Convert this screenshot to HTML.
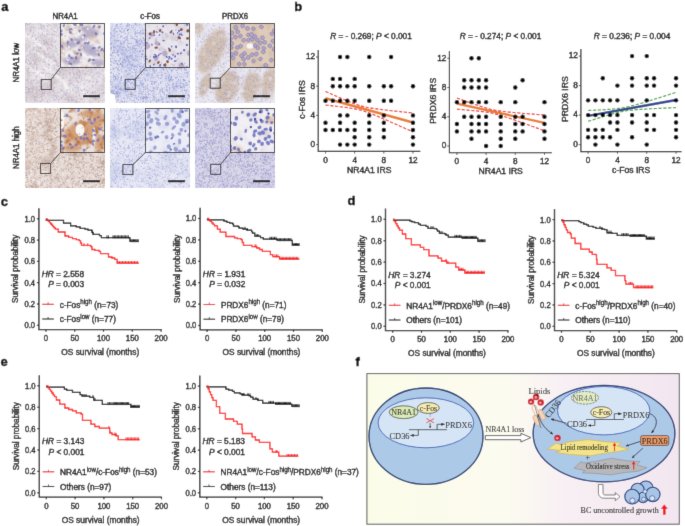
<!DOCTYPE html>
<html><head><meta charset="utf-8"><title>Figure</title>
<style>
html,body{margin:0;padding:0;background:#fff;}
body{width:685px;height:526px;overflow:hidden;}
svg{display:block;font-family:"Liberation Sans",sans-serif;will-change:transform;}
text{stroke:#000;stroke-width:0.38px;}
tspan[font-size]{stroke-width:0.25px;}
.fd text{stroke-width:0.05px;}
</style></head>
<body>
<svg width="685" height="526" viewBox="0 0 685 526">
<defs>
<filter id="gb" x="0" y="0" width="685" height="526" filterUnits="userSpaceOnUse"><feConvolveMatrix order="3" kernelMatrix="1 8 1 8 64 8 1 8 1" divisor="100" edgeMode="duplicate"/></filter>
<clipPath id="hc1"><rect x="25" y="23" width="80" height="80"/></clipPath>
<filter id="hb2" x="-50%" y="-50%" width="200%" height="200%"><feGaussianBlur stdDeviation="3"/></filter>
<filter id="n1" x="0" y="0" width="1" height="1" filterUnits="objectBoundingBox" color-interpolation-filters="sRGB"><feTurbulence type="fractalNoise" baseFrequency="0.06" numOctaves="3" seed="11"/><feColorMatrix type="matrix" values="0 0 0 0 0.8 0 0 0 0 0.75 0 0 0 0 0.78 2 0 0 0 -1"/></filter>
<filter id="hb3" x="-50%" y="-50%" width="200%" height="200%"><feGaussianBlur stdDeviation="0.8"/></filter>
<clipPath id="hc4"><rect x="60" y="23" width="45" height="45"/></clipPath>
<filter id="n2" x="0" y="0" width="1" height="1" filterUnits="objectBoundingBox" color-interpolation-filters="sRGB"><feTurbulence type="fractalNoise" baseFrequency="0.12" numOctaves="2" seed="113"/><feColorMatrix type="matrix" values="0 0 0 0 0.79 0 0 0 0 0.7 0 0 0 0 0.67 2.6 0 0 0 -1.15"/></filter>
<filter id="hb5" x="-50%" y="-50%" width="200%" height="200%"><feGaussianBlur stdDeviation="1.2"/></filter>
<clipPath id="hc6"><rect x="110" y="23" width="80" height="80"/></clipPath>
<filter id="n3" x="0" y="0" width="1" height="1" filterUnits="objectBoundingBox" color-interpolation-filters="sRGB"><feTurbulence type="fractalNoise" baseFrequency="0.05" numOctaves="3" seed="21"/><feColorMatrix type="matrix" values="0 0 0 0 0.76 0 0 0 0 0.78 0 0 0 0 0.9 2.2 0 0 0 -1"/></filter>
<clipPath id="hc7"><rect x="145" y="23" width="45" height="45"/></clipPath>
<filter id="n4" x="0" y="0" width="1" height="1" filterUnits="objectBoundingBox" color-interpolation-filters="sRGB"><feTurbulence type="fractalNoise" baseFrequency="0.12" numOctaves="2" seed="123"/><feColorMatrix type="matrix" values="0 0 0 0 0.81 0 0 0 0 0.78 0 0 0 0 0.84 2.2 0 0 0 -1"/></filter>
<clipPath id="hc8"><rect x="195" y="23" width="80" height="80"/></clipPath>
<filter id="hb9" x="-50%" y="-50%" width="200%" height="200%"><feGaussianBlur stdDeviation="1.8"/></filter>
<filter id="n5" x="0" y="0" width="1" height="1" filterUnits="objectBoundingBox" color-interpolation-filters="sRGB"><feTurbulence type="fractalNoise" baseFrequency="0.15" numOctaves="2" seed="33"/><feColorMatrix type="matrix" values="0 0 0 0 0.91 0 0 0 0 0.9 0 0 0 0 0.94 2.4 0 0 0 -1.3"/></filter>
<clipPath id="hc10"><rect x="230" y="23" width="45" height="45"/></clipPath>
<filter id="n6" x="0" y="0" width="1" height="1" filterUnits="objectBoundingBox" color-interpolation-filters="sRGB"><feTurbulence type="fractalNoise" baseFrequency="0.1" numOctaves="2" seed="131"/><feColorMatrix type="matrix" values="0 0 0 0 0.81 0 0 0 0 0.71 0 0 0 0 0.64 2 0 0 0 -0.9"/></filter>
<clipPath id="hc11"><rect x="25" y="108" width="80" height="80"/></clipPath>
<filter id="n7" x="0" y="0" width="1" height="1" filterUnits="objectBoundingBox" color-interpolation-filters="sRGB"><feTurbulence type="fractalNoise" baseFrequency="0.07" numOctaves="3" seed="41"/><feColorMatrix type="matrix" values="0 0 0 0 0.78 0 0 0 0 0.68 0 0 0 0 0.62 2.4 0 0 0 -1.2"/></filter>
<clipPath id="hc12"><rect x="60" y="108" width="45" height="45"/></clipPath>
<filter id="hb13" x="-50%" y="-50%" width="200%" height="200%"><feGaussianBlur stdDeviation="1.8"/></filter>
<filter id="n8" x="0" y="0" width="1" height="1" filterUnits="objectBoundingBox" color-interpolation-filters="sRGB"><feTurbulence type="fractalNoise" baseFrequency="0.15" numOctaves="2" seed="144"/><feColorMatrix type="matrix" values="0 0 0 0 0.69 0 0 0 0 0.41 0 0 0 0 0.19 2.4 0 0 0 -1.2"/></filter>
<clipPath id="hc14"><rect x="110" y="108" width="80" height="80"/></clipPath>
<filter id="n9" x="0" y="0" width="1" height="1" filterUnits="objectBoundingBox" color-interpolation-filters="sRGB"><feTurbulence type="fractalNoise" baseFrequency="0.05" numOctaves="3" seed="51"/><feColorMatrix type="matrix" values="0 0 0 0 0.8 0 0 0 0 0.82 0 0 0 0 0.92 2.2 0 0 0 -1"/></filter>
<clipPath id="hc15"><rect x="145" y="108" width="45" height="45"/></clipPath>
<filter id="n10" x="0" y="0" width="1" height="1" filterUnits="objectBoundingBox" color-interpolation-filters="sRGB"><feTurbulence type="fractalNoise" baseFrequency="0.1" numOctaves="2" seed="151"/><feColorMatrix type="matrix" values="0 0 0 0 0.82 0 0 0 0 0.83 0 0 0 0 0.92 2 0 0 0 -0.9"/></filter>
<clipPath id="hc16"><rect x="195" y="108" width="80" height="80"/></clipPath>
<filter id="n11" x="0" y="0" width="1" height="1" filterUnits="objectBoundingBox" color-interpolation-filters="sRGB"><feTurbulence type="fractalNoise" baseFrequency="0.05" numOctaves="3" seed="61"/><feColorMatrix type="matrix" values="0 0 0 0 0.79 0 0 0 0 0.78 0 0 0 0 0.89 2.2 0 0 0 -1"/></filter>
<clipPath id="hc17"><rect x="230" y="108" width="45" height="45"/></clipPath>
<filter id="n12" x="0" y="0" width="1" height="1" filterUnits="objectBoundingBox" color-interpolation-filters="sRGB"><feTurbulence type="fractalNoise" baseFrequency="0.1" numOctaves="2" seed="161"/><feColorMatrix type="matrix" values="0 0 0 0 0.86 0 0 0 0 0.83 0 0 0 0 0.86 2 0 0 0 -0.9"/></filter>
<filter id="hb18" x="-50%" y="-50%" width="200%" height="200%"><feGaussianBlur stdDeviation="1.5"/></filter>
<linearGradient id="fbg" x1="0" y1="0" x2="1" y2="0"><stop offset="0" stop-color="#fbfce8"/><stop offset="0.45" stop-color="#fcfbf0"/><stop offset="0.62" stop-color="#f8f0f4"/><stop offset="1" stop-color="#f2e6f0"/></linearGradient>
<marker id="ah" viewBox="0 0 10 10" refX="9" refY="5" markerWidth="4.5" markerHeight="4.5" orient="auto-start-reverse"><path d="M0,1L10,5L0,9z" fill="#111"/></marker>
</defs>
<g filter="url(#gb)">
<rect width="685" height="526" fill="#fff"/>
<text x="1.2" y="10.8" font-size="13" font-weight="bold">a</text>
<text x="294.2" y="11.2" font-size="13" font-weight="bold">b</text>
<text x="0.8" y="205.6" font-size="13" font-weight="bold">c</text>
<text x="347.6" y="204.7" font-size="13" font-weight="bold">d</text>
<text x="0.5" y="365.6" font-size="13" font-weight="bold">e</text>
<text x="355.6" y="365.8" font-size="13" font-weight="bold">f</text>
<g clip-path="url(#hc1)">
<rect x="25" y="23" width="80" height="80" fill="#e9e4e8"/>
<g filter="url(#hb2)" fill="#d6cacc" opacity="0.8"><ellipse cx="40" cy="53" rx="6" ry="26" transform="rotate(35 40 53)"/><ellipse cx="55" cy="78" rx="5" ry="22" transform="rotate(40 55 78)"/><ellipse cx="75" cy="63" rx="4" ry="20" transform="rotate(40 75 63)"/><ellipse cx="33" cy="93" rx="8" ry="10" transform="rotate(0 33 93)"/><ellipse cx="95" cy="97" rx="7" ry="6" transform="rotate(0 95 97)"/><ellipse cx="70" cy="98" rx="9" ry="5" transform="rotate(0 70 98)"/></g>
<rect x="25" y="23" width="80" height="80" fill="#fff" filter="url(#n1)"/>
<g filter="url(#hb3)" fill="#fbf9fa" opacity="0.9"><ellipse cx="37" cy="43" rx="1.6" ry="14" transform="rotate(-55 37 43)"/><ellipse cx="45" cy="58" rx="1.4" ry="16" transform="rotate(-55 45 58)"/><ellipse cx="35" cy="71" rx="1.5" ry="14" transform="rotate(-60 35 71)"/><ellipse cx="53" cy="73" rx="1.3" ry="12" transform="rotate(-50 53 73)"/><ellipse cx="49" cy="35" rx="1.2" ry="10" transform="rotate(-60 49 35)"/><ellipse cx="65" cy="85" rx="1.4" ry="12" transform="rotate(-40 65 85)"/><ellipse cx="85" cy="93" rx="1.2" ry="10" transform="rotate(-30 85 93)"/></g>
<path d="M28.86 88.7h0M29.73 68.24h0M75.45 69.64h0M71.17 54.73h0M49.68 88.29h0M33.24 68.7h0M54.79 66.82h0M60.91 71.72h0M37.16 62.12h0M71.39 59.5h0M38.44 32.37h0M101.62 35.07h0M37.1 75.68h0M54.54 68.31h0M29.98 28.39h0M29.21 23.02h0M73.18 60.93h0M63.43 47.95h0M53.94 78.21h0M51.37 40.84h0M53.45 25.32h0M88.21 60.78h0M101.4 52.17h0M85.01 61.24h0M59.71 73.87h0M62.05 82.47h0M82.98 36.6h0M37.47 66.86h0M33.22 82.96h0M59.7 92.74h0M68.55 89.74h0M26.5 58.21h0M73.68 85.08h0M66.47 67.44h0M95.66 27.55h0M61.17 25.23h0M98.82 94.42h0M92.2 33.97h0M49.22 32.79h0M66.39 46.64h0M34.03 96.48h0M46.75 95.47h0M70.65 79.03h0M47.32 86.97h0M59.03 28.79h0M75.76 87.13h0M44.07 31.76h0M75.29 65.49h0M48.2 63.01h0M49.62 40.21h0M103.55 89.96h0M48.44 59.76h0M77.48 42.85h0M32.27 88.36h0M56.96 26.33h0M48.97 73.37h0M71.85 65.34h0M85.23 68.48h0M79.63 78.47h0M99.6 94.83h0M43.78 83.52h0M76.42 29.2h0M49.35 68.42h0M55.95 96.32h0M66.93 99.22h0M95.95 79.27h0M85.06 90.13h0M100.19 38.66h0M93.34 45.45h0M91.77 45.85h0M68.94 80.57h0M56.55 36.39h0M104.72 59h0M68.82 42.53h0M52.36 30.29h0M54.46 87.75h0M55.63 82.67h0M55.15 50.06h0M88.22 90.89h0M92.89 92.83h0M102.46 62.19h0M93.44 100.78h0M87.65 40.9h0M31.8 85.15h0M87.58 41.61h0M76.64 47.3h0M80.89 31.97h0M49.03 98.48h0M47.29 48.31h0M63.02 41.78h0M95.79 74.77h0M102.59 47.94h0M36.71 54.48h0M83.62 102.8h0M60.39 31.72h0M47.38 51.12h0M32.02 79.42h0M54.82 96.56h0M86.33 26.25h0M62.12 87.27h0M50.32 45.05h0M100.72 28.23h0M98.08 88.18h0M49.27 78.37h0M31.32 38.78h0M44.78 28.18h0M63.54 66.57h0M103.42 93.68h0M46.19 29.73h0M68.09 84.91h0M45.83 58.15h0M104.4 63.59h0M102.84 69.66h0M81.78 50.98h0M54.5 34.31h0M77.13 39.28h0M39.81 47.98h0M41.29 23.47h0M71.22 52.18h0M35.4 27.14h0M76.25 95.78h0M37.95 36.74h0M33.7 62.24h0M49.13 89.98h0M103.04 61.62h0M73.61 73.91h0M97.34 72.63h0M76.92 47.66h0M65.29 37.3h0M74.51 62.16h0M87.21 63.92h0M101.07 33.89h0M104.69 81.57h0M48.03 87.88h0M79.89 80.69h0M65.18 96.59h0M72.35 72.27h0M50.53 25.95h0M79.37 94.63h0M69.41 69.4h0M51.47 29.51h0M39.14 82.49h0M25.14 25.7h0M66.01 94.64h0M64.07 72h0M37.69 24.13h0M81.6 59.07h0M57.16 44.14h0M99.97 81.68h0M38.21 23.03h0M67.52 55.48h0M37.74 95.94h0M25.99 67.07h0M87.64 80.23h0M31.44 75.44h0M43.08 31.42h0M102.75 46.65h0M31.83 63.59h0M43.71 93.78h0M97.86 34.57h0M33.95 72.76h0M52.59 34.35h0M100.55 31.57h0M47.99 30.99h0M50.53 56.9h0M53.07 97.41h0M93.11 72.46h0M38.63 23.1h0M48.07 83.04h0M90.22 98.06h0M96.08 25.01h0M77.97 82.36h0M73.23 50.89h0M33.13 53.74h0M46.91 31.74h0M71.7 41.29h0M66.46 75.89h0M96.56 49.24h0M56.1 62.19h0M28.05 66.47h0M82.3 99.11h0M103.76 51.44h0M45.2 53.55h0M57.04 99.29h0M41.96 33.34h0M76.38 80.66h0M75.65 24.2h0M45 31.12h0M78.7 32.36h0M46.16 41.73h0M58.51 99.85h0M83.92 102.92h0M65.85 61.77h0M103 75.36h0M35.21 100.82h0M28.98 47.03h0M72.7 77.48h0M86.01 31.11h0M94.54 56.73h0M39.78 25.74h0M59.45 74.34h0M64.82 64.77h0M98.49 58.72h0M41.98 35.14h0M34.73 100.31h0M26.42 80.55h0M61.06 82.54h0M93.44 81.38h0M98.08 27.21h0M49.89 81.36h0M83.22 60.58h0M51.56 71.47h0M71.77 101.11h0M46.44 35.58h0M41.53 43.38h0M88.33 59.78h0M67.89 51.41h0M65.49 39.15h0M57.2 64.38h0M73.57 30.53h0M92.5 50.11h0M55.26 25.2h0M63.95 90.65h0M94.04 74.19h0M65.52 37.61h0M97.37 89.98h0M76.73 101.83h0M33.08 48.41h0M38.49 42.08h0M82.38 38.61h0M37.56 89.63h0M36.18 58.78h0M99.08 53.81h0M50.81 41.71h0M75.25 34.42h0M69.27 34.58h0M46.31 55.94h0M34.13 101.29h0M75.48 86.01h0M69.8 89.82h0M59.56 43.92h0M47.91 51.81h0M86.64 79.93h0M83.47 83.9h0M66.56 90.29h0M35.66 76.24h0M99.57 100.5h0M85.11 27.9h0M27.05 87.36h0M26.66 100.39h0M45.04 88.37h0M75.95 60.12h0M81.21 31.23h0M82.37 26.61h0M33.8 32.72h0M68.33 41.19h0M56.73 98.86h0M72.76 71.22h0M25.92 31.72h0M75.66 87.74h0M33.04 32.74h0M34.04 50.8h0M67.71 34.87h0M63.23 88.51h0M25.95 51.21h0M98.18 33.18h0M50.91 90.47h0M96.3 99.47h0M79.1 59.25h0M79.12 65.02h0M69.91 68.92h0M52.46 65.41h0M38.66 48.45h0M91.08 64.01h0M56.81 30.88h0M96.65 64.15h0M70.96 55.89h0M33.53 31.01h0M74.04 87.53h0M29.37 42.06h0M28.52 97.47h0M56.18 80.48h0M63.75 86.42h0M91.07 51.1h0M27.02 87.39h0M60.46 89.91h0M42 92.79h0M83.88 84.19h0M40.07 94.31h0M49.9 41.11h0M95.62 91.9h0M53.17 73.31h0M83.72 80.01h0M76.07 37.37h0M73.59 26.79h0M56.49 82.8h0M91.01 67.73h0M43.88 43.82h0M38.44 50.78h0M41.11 47.84h0M25.99 61.93h0M29.83 45.47h0M33.85 47.71h0M54.04 36.45h0M50.75 51.74h0M77.21 43.11h0M31.25 82.8h0M92.66 97.14h0M84.39 49.13h0M76.78 51.5h0M92.03 43.28h0M73.21 73.12h0M75.94 55.11h0M93.05 61.35h0M36.45 28.76h0M30.02 23.7h0M52.85 38.63h0M102.7 95.7h0M84.18 78.31h0M100.45 51.8h0M70.19 54.71h0M43.18 100.48h0M69.05 80.17h0M68.54 100.44h0M70.04 85h0M43.95 52.79h0M97.68 30.02h0M89.33 81.89h0M33.83 87.06h0M26.1 50.39h0M63.97 61.72h0M89.04 25.84h0M56.41 61.06h0M80.43 58.89h0M94.84 71.87h0M96.52 70.14h0M71.33 49.7h0M36.49 53.75h0M70.88 69.75h0M97.21 30.62h0M32.92 86.35h0M65.3 94.54h0M104.73 35.06h0M99.36 69.94h0M30.88 38.22h0M59.26 92.46h0M92.09 48.54h0M47.07 43.6h0M85.68 73.12h0M94.13 74.85h0M44.34 27.54h0M52.29 33.93h0M46.65 74.4h0M76.19 96.83h0M50.72 92.42h0M56.96 98.22h0M81.81 89.79h0M32.48 35.5h0M79.41 92.27h0M89.74 101.15h0M104.16 41.25h0M99.96 72.97h0M54.25 34.95h0M94.67 91.45h0M61.81 48.91h0M33.62 81.67h0M100.6 73.17h0M59.7 41.51h0M48.88 102.54h0M41.97 27.17h0M93.11 81.84h0M87.39 92.07h0M79.81 87.4h0M37.06 81.88h0M82.31 93.56h0M102.65 65.03h0M39.32 77.83h0M75.66 66.64h0M67.39 90.17h0M52.96 40.21h0M83.51 44.84h0M26.22 44.52h0M85.88 93.53h0M96.85 73.8h0M80.49 81.4h0M91.04 76.07h0M50.25 100.73h0M94.55 51.42h0M77.77 89.1h0M75.31 66.45h0M54.13 39.39h0M90.07 42.09h0M37.2 75.95h0M75.77 81.45h0M41.07 68.64h0M46.97 48.92h0M75.89 91.71h0M74.43 52.73h0M82.39 53.06h0M71.42 28.07h0M99.86 74.44h0M64.3 63.94h0M34.45 40.66h0M61.34 88.92h0M81.88 61.62h0M36.22 55.56h0M40.22 101.58h0M93.53 43.57h0M78.11 81.34h0M90.87 25.83h0M41.31 39.26h0M59.7 74.14h0M48.59 39.88h0M36.66 96.43h0M66.3 60.25h0M97.47 77.87h0M94.45 96.91h0M97.95 48.95h0M37.15 86.95h0M96.15 96.04h0M71.71 83.5h0M36.18 44.69h0M32.65 67.13h0M72.65 59.91h0M78.05 36.11h0M78.02 30.2h0M49.27 43.9h0M28.37 43.5h0M47.68 67.42h0M65.14 94.25h0M70.63 78.12h0M66.45 46.36h0M31.75 69.28h0M81.86 27.97h0M30.84 49.98h0M38.98 47.29h0M89.84 59.94h0M87.93 25.58h0M36.85 63.91h0M37.1 50.55h0M51.48 101.08h0M67.04 49.4h0M85.12 73.91h0M78.82 82.64h0M85.06 90.8h0M40.84 59.63h0M25.36 62.12h0M36.67 66.63h0M77.88 87.57h0M51.61 35.07h0M88.26 71.53h0M56.27 23.72h0M54.1 101.1h0M95.02 94.05h0M65.64 102.82h0M37.95 69.01h0M88.49 50.78h0M41.06 87.6h0M37.97 82.07h0M50.67 58.06h0M37.79 94.39h0M46.24 42.47h0M52.98 37.86h0M99.18 46.1h0M88.08 90.07h0M42.77 90.97h0M65.05 94.87h0M42.05 40.91h0M53.78 68.52h0M53.78 78.95h0M34.75 99.31h0M25.27 73.34h0M72.22 70.65h0M28.17 89.19h0M102.18 65.46h0M42.43 86.48h0" stroke="#8a86bc" stroke-width="0.7" stroke-linecap="round" opacity="0.45" fill="none"/>
<path d="M42.18 29.88h0M30.59 30.26h0M28.73 91.68h0M70.15 72.52h0M79.43 57.21h0M62.25 96.88h0M87.39 29.55h0M34.45 56.45h0M70.84 93.04h0M52.21 51.01h0M30.2 81.49h0M76.77 102.45h0M52.76 98.25h0M44.81 54.28h0M47.23 33.95h0M94.12 45.27h0M103.92 77.62h0M63.8 70.13h0M77.4 82.18h0M88.83 54.39h0M56.53 61.52h0M55.1 73.75h0M92.91 102.45h0M33.18 50.41h0M94.07 78.7h0M66.47 95.66h0M89.27 38.99h0M80.4 99.52h0M89.69 80.85h0M33.17 60.61h0M89.07 100.73h0M27.2 70.26h0M103.42 75.58h0M44.24 69.91h0M97.8 51.3h0M73.49 38.95h0M61.19 65.66h0M95.12 98.37h0M100.16 74.48h0M36.44 93.63h0M42.57 99.2h0M91.6 35.92h0M104.53 55.3h0M54.28 50.04h0M60.24 24.45h0M102.74 31.38h0M46.64 33.36h0M92.97 77.08h0M73.65 40.79h0M94.02 59.3h0M104.54 56.42h0M45.95 37.49h0M46.64 87.29h0M69.08 38.16h0M90.51 57.57h0M83.31 34.18h0M30.66 82.27h0M46.52 23.29h0M50.88 25.76h0M42.43 37.64h0M56.16 49.09h0M53.86 31.39h0M67.52 42.56h0M62.91 87.74h0M84.19 101.06h0M32.96 40.42h0M48.27 64.32h0M40.94 101.25h0M102.45 58.96h0M73.27 73.53h0M64.83 93.09h0M26.99 23.29h0M36.26 50.52h0M34.67 49.51h0M97.13 46.19h0M31.11 97.03h0M50.25 84.85h0M85.21 74.56h0M35.18 60.77h0M31.01 63.05h0M69.03 59.24h0M95.98 82.97h0M64.85 68.94h0M46.68 42.88h0M76.66 57.55h0M35.18 57.02h0M81.08 90.72h0M75.12 65.26h0M25.09 66h0M49.59 24.74h0M45.58 76.39h0M43.14 25.73h0M82.47 51.99h0M92.61 28.39h0M43.46 40.72h0M39.99 40.87h0M26.89 70.69h0M29.15 27.81h0M60.97 79.96h0M83.03 90.13h0M69.89 83.7h0M53.53 88.73h0M50.86 81.99h0M33.58 80.25h0M101.31 53.92h0M73.58 49.22h0M58.68 102.07h0M38.86 33.63h0M87.38 46.51h0M40.06 28.18h0M76.97 31.04h0M104.28 31.19h0M95.63 41.49h0M98.15 26.23h0M54.78 92.29h0M90.51 55.72h0M27.52 62.65h0M30.06 31.11h0M49.61 99.26h0M84.63 93.7h0M58.32 92.14h0M76.56 54.26h0M58.9 88.63h0M65.36 34.67h0M57.36 90.71h0M39.64 40.45h0M100.08 35.52h0M61.46 90.92h0M59.06 75.71h0M60.75 72.49h0M91.92 87.84h0M33.57 33.28h0M35.42 96.77h0M40.5 101.54h0M30.24 51.07h0M37.7 94.72h0M97.4 59.51h0M57.28 73.93h0M28.89 91.66h0M45.16 65.86h0M84.03 52.72h0M104.24 69.19h0M48.71 64.29h0M48.28 73.05h0M26.78 23.21h0M35.7 52.3h0M76.06 92.7h0M29.49 88.67h0M76.42 74.81h0M90.07 36.97h0M55.01 57.93h0M99.01 98.43h0M41.22 35.73h0M28.74 91.52h0M88.36 74.71h0M82.26 52.44h0M86.54 71.16h0M93.98 30.27h0M25.35 62.27h0M80.62 89.03h0M45.85 98.51h0M69.9 31.36h0M53.45 55.1h0M96.35 82.62h0M76.7 50.88h0M66.74 92.44h0M62.05 78.12h0M71.33 33.08h0M37.48 42.81h0M88.59 81.66h0M47.46 93.82h0M27.71 54.92h0M48.7 24.77h0M70.92 82.93h0M76.32 59.31h0M45.78 79.05h0M75.37 43h0M63.62 24.57h0M61.54 39.4h0M65.98 74.14h0M66.74 55.83h0M41.81 77.75h0M26.06 56.49h0M104.54 99.87h0M89.77 73.74h0M53.25 74.1h0M76.97 85.39h0M53.38 91.05h0M81.34 78h0M49.15 61.36h0M74.87 29.83h0M37.22 47.25h0M29.57 89.23h0M87.72 34.23h0M41.78 28.76h0M93.33 37.85h0M52.72 35.21h0M42.05 29.29h0M62.86 67.58h0M62.37 34.55h0M94.03 23.53h0M48.75 60.26h0M69.33 95.99h0M29.22 46.13h0M103.74 92.84h0M51.47 48.37h0M28.71 88.76h0M98.13 75.46h0M94.75 34.1h0M69.97 43.64h0M103.46 61.04h0M68.9 29.63h0M42.46 32.71h0M48.45 67.6h0M61.85 97.59h0M79.93 72.46h0M36.59 86.79h0M101.31 36.12h0M63.16 85.25h0M91.5 71.09h0M86.72 41.75h0M47.66 23.13h0M79.77 96.1h0M67.76 66.2h0M43.63 69.37h0M95.81 64.75h0M48.18 69.23h0M44.7 96.81h0M62.07 29.54h0M104.23 92.29h0M71.94 40.09h0M90.51 100.08h0M69.59 92.65h0M81.51 30.2h0M42.74 26.09h0M100.15 77.15h0M33.43 48.91h0M56.2 53h0M98.14 94.37h0M75.27 59.19h0M83.89 37.42h0M27.03 68.68h0M51.76 36.42h0M33.74 59.49h0M45.62 39.13h0M99.01 30.81h0M26.28 87.56h0M75.28 38.37h0M66.48 50.81h0M92.35 92.16h0M32.23 55.76h0M39.88 89.53h0M34.66 80.17h0M74.53 36.43h0M62.19 69.87h0M100.01 54.1h0M56.65 98.3h0M52.08 42.23h0M89.35 96.02h0M36.73 77.41h0M78.53 41.04h0M102.58 85.13h0M27.75 74.33h0M59.7 99.07h0M65.93 93.82h0M32.03 66.71h0M55.93 66.89h0M68.67 100.57h0M50.92 49.04h0M47.79 102h0M30.34 92.7h0M77.62 64.36h0M32.6 91.5h0M36.97 91h0M94.82 71.59h0M93.13 78.41h0M82.84 46.43h0M50.76 85.97h0M55.16 41.55h0M101.7 39.34h0M28.8 68.19h0M48.99 65.92h0M91.05 81.17h0M102.16 61.94h0M77.47 46.59h0M90.64 102.22h0M41.62 94.45h0M75.92 26.39h0M80.26 23.31h0M78.45 38.73h0M100.83 62.23h0M50.83 80.24h0M55.85 27.37h0M71.61 99.77h0M50.18 94.91h0M49.29 71.2h0M32 36.59h0M39.92 100.72h0M56.68 52.03h0M67.7 53.85h0M77.1 99.9h0M55.99 60.36h0M81.47 30.41h0M35.48 79.52h0M72.68 58.23h0M79.23 30.32h0M77.6 68.41h0M39.16 91.08h0M90.35 54.92h0M99.94 37.11h0M79.37 76.09h0M80.94 42.87h0M57.37 71.68h0M40.85 47.25h0M70.61 80.33h0M79.49 25.97h0M47.49 30.19h0M92.73 85.26h0M79.9 61.92h0M36.35 68.06h0M75.35 32.44h0M37.38 101.34h0M91.49 32.16h0M28.65 60.48h0M70.09 31.7h0M86.96 90.17h0M33.17 80.51h0M54.48 67.09h0M98.69 102.99h0M97.42 98.59h0M58.84 81.46h0M80.04 36.09h0M93.43 85.95h0M66.17 56.7h0M97.32 36.16h0M68.42 64.34h0M79.12 71.73h0M70.2 56.69h0M63.46 74.79h0M68.85 31.98h0M33.17 89.42h0M54.87 72.5h0M81.15 99.45h0M48.99 79.59h0M70.04 96.4h0M38.44 82.63h0M91.05 32.82h0M66.05 64.98h0M53.28 51.46h0M60.19 86.29h0M85.92 44.5h0M53.87 65.26h0M62.42 69.16h0M99.99 48.15h0M30.76 100.04h0M57.48 27.84h0M78.74 93.69h0M25.58 92.68h0M57.4 54.69h0M70.75 75.71h0M71.79 47.34h0M81.35 40.47h0M60.83 94.43h0M89.03 36.96h0M67.36 90.25h0M77.59 71.13h0M67.37 44.91h0M44.41 101.59h0M42.05 95.99h0M55.08 95.56h0M51.08 57.05h0M103.51 86.27h0M94.05 92.54h0M101.34 33.92h0M47.61 49.52h0M94.77 42.98h0M79.62 70.81h0M59.78 34.18h0M102.95 23.75h0M85.1 60.16h0M33.39 24.59h0M30.16 31.83h0M101.15 44.38h0M47.57 49.46h0M58.53 100.83h0M73.63 97.1h0M28.96 78.54h0M62.88 74.79h0M65.81 70.38h0M98.92 84.23h0M94.42 26.46h0M53.94 92.09h0M34.84 35.31h0M89.26 64.71h0M77.98 45h0M104.76 78.6h0M44.01 52.66h0M35.26 99.67h0M82 46.62h0M59.48 71.6h0M51.36 28.66h0M55.35 65.07h0M33.62 68.08h0M81.08 57.89h0M39.1 28.21h0M78.63 82.24h0M68.33 97.06h0M69.31 84.54h0M70.68 24.24h0M94.75 34.64h0M104.09 44.97h0M95.86 77.49h0M49.36 92.34h0M54.9 60.14h0M81.79 34.3h0M61.37 97.79h0M69.88 87.06h0M87.74 99.07h0M28.34 89.89h0M85.65 92.98h0M81.56 80.55h0M56.32 25.64h0M68.66 30.49h0M36.91 37.72h0M79.31 32.15h0M100.15 65.11h0M64.19 24.42h0M72.9 100.39h0M40.55 35.18h0M29 49.65h0M63.48 49.36h0M39.31 86.02h0M89.72 80.89h0M28.17 69.34h0M92.38 92.87h0M95.32 32.37h0M46.64 66.28h0M31.96 36.7h0M25.86 98.22h0M88.33 61.38h0M94.33 27.03h0M102.71 69.62h0M45.74 78.49h0M87.75 92.67h0M100.68 32.27h0M86.91 50.41h0M72.59 89.9h0M101.08 93.26h0M58.49 71.38h0M27.61 49.87h0M39.98 94.16h0M42.31 73.17h0M90.83 37.73h0M95.56 99.84h0M89.75 43.06h0M93.98 64.11h0M35.8 83.27h0M51.49 44.31h0M29.77 75.37h0M61.71 98.86h0M35.96 99.24h0M84.79 74.32h0M27.06 66.86h0M53.82 95.23h0M48.81 53.64h0M101.97 37.97h0M79.52 51.94h0M55.84 100.09h0M37.17 83.57h0M77.91 90.85h0M85.21 45.03h0M82.38 54.64h0M93.11 32.69h0M70.32 51.29h0M80.36 84.97h0M92.33 86.18h0M57 62.98h0M52.1 28.28h0M78.42 69.23h0M60.75 63.27h0M63.7 46.53h0" stroke="#8a86bc" stroke-width="0.95" stroke-linecap="round" opacity="0.45" fill="none"/>
<path d="M50.91 35.07h0M54.26 27.64h0M58.53 66.25h0M48.98 86.55h0M67.02 93.01h0M101.96 29.21h0M100.57 60.93h0M47.77 53.86h0M42.46 45.99h0M31.45 58.93h0M47.55 34.65h0M80.24 64.24h0M96.96 85.4h0M60.25 31.79h0M67.93 98.92h0M27.04 92.95h0M63.29 78.36h0M26.85 99.08h0M85.65 46.85h0M86.76 65.61h0M89.49 88.47h0M41.35 72.93h0M92.23 61.36h0M52.52 74.45h0M34.59 54.08h0M89.52 34.69h0M26.14 100.67h0M27.24 40.02h0M78 88.2h0M58.65 96.42h0M35.46 35.15h0M38.79 60.88h0M34.63 27.94h0M47.15 84.78h0M60.46 72h0M65.62 42.81h0M56.39 48.28h0M44.25 28.85h0M95.79 36.02h0M40.66 48.48h0M57.48 65.93h0M74.74 26.46h0M27.96 24.47h0M44.65 58.76h0M68.67 94.1h0M52.42 89.58h0M59.46 27.43h0M92.3 92.64h0M102.67 70.9h0M101.94 100.81h0M55.53 60.97h0M77.6 80.28h0M36.96 80.93h0M36.58 88.99h0M96.36 73.19h0M81.08 63.44h0M91.11 69.72h0M31.81 26.35h0M69.68 73.22h0M25.27 86.82h0M77.74 28.28h0M92.64 29.14h0M47.99 26.74h0M51.54 75.12h0M63.59 61.86h0M62.27 84.37h0M26.4 59.72h0M30.97 30.22h0M79.53 55.43h0M30.2 54.21h0M44.95 44.26h0M95.74 87.96h0M57 93.06h0M99.68 55.87h0M63.85 95.95h0M47.54 43.46h0M103.1 43.81h0M44.09 61.65h0M35.07 63.27h0M56.32 97.15h0M66.79 77.57h0M56.05 40.89h0M27.34 55.94h0M40.85 86.77h0M33.72 72.89h0M97.83 27.51h0M51.34 37.84h0M84.7 25.55h0M27.42 55.86h0M45.56 82.78h0M52.13 44.79h0M28.49 82.72h0M82.73 70.65h0M99.25 37.64h0M61.86 85.71h0M74.62 76.93h0M70.35 52.84h0M44.63 35.27h0M43.63 27.03h0M73.24 85h0M100.66 31.46h0M104.99 26.06h0M78.12 35.36h0M32.29 36.1h0M46.69 102.06h0M70.83 97.18h0M76.23 91.53h0M34.84 42.76h0M90.25 38.41h0M92.4 76.78h0M92.06 32.42h0M54.23 87.18h0M65.81 26.26h0M85.16 94.59h0M88.37 44.15h0M76.14 101.72h0M99.28 94.66h0M49.3 64.85h0M42.94 69.69h0M72.58 69.28h0M36.38 38.96h0M30.1 73.08h0M76.52 32.86h0M81.93 44.28h0M79.34 77.86h0M45.83 41.89h0M40.35 54.1h0M44.13 95.61h0M98.73 101.53h0M62.56 90.18h0M25.51 25.12h0M56.33 69.83h0M27.47 34.07h0M75.71 78.76h0M40.94 99.37h0M96.3 28.28h0M41.25 25.71h0M32 83.11h0M88.12 25.5h0M86.84 50.74h0M28.85 68.29h0M72.4 99.58h0M64.87 31.79h0M86.34 62.22h0M49.25 57.24h0M65.1 53.34h0M43.69 59.87h0M72.53 78.14h0M76.42 78.73h0M40.33 47.12h0M91.12 72.39h0M51.25 38.14h0M104.59 36.17h0M80.48 63.04h0M73.3 55.38h0M44.38 91.23h0M92.68 76.43h0M95.41 84.92h0M44.39 55.01h0M66.54 31.09h0M66.1 97.62h0M75.29 76.99h0M46.21 40.95h0M62.45 46.55h0M79.31 61.53h0M88.91 51.64h0M88.33 36.43h0M73.67 85.5h0M97.13 66.88h0M92.1 38.79h0M44.73 36.17h0M62.44 68.01h0M39.44 51.83h0M27.28 71.77h0M27.71 80.45h0M35.15 30.56h0M54.29 60.96h0M59.82 56.79h0M91.22 55.3h0M87.74 26.2h0M69.34 55.48h0M73.69 75.64h0M97.79 71.94h0M36.76 76.9h0M28.16 73.69h0M86.9 56.69h0M79.4 70.51h0M59.16 23.75h0M54.27 82.78h0M25.91 24.18h0M101.62 89.79h0M29.78 52.41h0M100.59 85.77h0M51.71 45.39h0M102.92 79.26h0M55.13 77.79h0M48.08 34.25h0M36.76 101.03h0M88.79 39.03h0M99.54 41.72h0M29.6 54.64h0M40.39 37.46h0M54.92 31.49h0M72.78 50.59h0M59.08 98.72h0M70.16 74.25h0M54.67 41.81h0M100.29 27.74h0M45.63 64.07h0M72.18 58.3h0M99.72 92.34h0M58.25 35.98h0M103.28 34.55h0M65.86 58.44h0M97.96 40.46h0M39.45 90.47h0M73.05 89.32h0M41.48 71.99h0M41.18 28.26h0M27.93 79.18h0M72.59 23.37h0M87.33 92.45h0M101.32 62.58h0M26.56 97.1h0M40.61 24.41h0M36.78 68.83h0M82.24 90.44h0M92.81 27.28h0M44.94 56.77h0M30.54 57.64h0M98.43 72.88h0M68.38 96.95h0M34.63 70.54h0M97.11 29.76h0M71.19 44.93h0M73.8 68.61h0M61.87 66.84h0M44.38 40.73h0M29.55 24.74h0M53.33 84.03h0M43.01 99.74h0M99.72 56.34h0M53.2 77.03h0M73.86 45.14h0M46.49 73.45h0M25.35 84.25h0M34.4 54.8h0M67.09 70.63h0M55.45 47h0M49.32 34.6h0M68.08 102.87h0M56.16 51.62h0M57.76 63.07h0M86.39 94.93h0M75.49 64.92h0M39.59 73.41h0M33.53 68.59h0M25.86 23.22h0M86.52 68.36h0M36.63 64.47h0M77.01 77.77h0M47.04 25.63h0M32.96 95.31h0M30.04 38.33h0M103.36 28.4h0M58.08 54.89h0M43.97 25.79h0M68.59 86h0M37.74 51.23h0M57.41 73.35h0M41.64 99.08h0M41.36 91.67h0M67.77 55.33h0M26.2 79.86h0M69.96 51.92h0M85.68 38.43h0M57.27 95.71h0M96.76 25.02h0M48.32 44.67h0M84.07 67.19h0M99.06 76.61h0M52.92 23.08h0M47.91 26.44h0M41.81 96.16h0M98.09 56.38h0M60.4 50.22h0M84.09 89.4h0M75.08 63.69h0M80.86 57.27h0M85.95 26.5h0M68.71 100.55h0M44.03 42.34h0M80.32 33.65h0M53.12 46.95h0M85.84 36.54h0M37.91 58.61h0M31.72 80.37h0M101.54 62.07h0M76.56 73.22h0M54.43 99.96h0M28.3 68.35h0M82.84 23.22h0M25.34 87.33h0M102.95 99.95h0M31.52 87.78h0M94.22 65.43h0M27.23 38.11h0M77.84 52.76h0M76.97 38h0M45.12 62.14h0M61.65 66.3h0M34.04 64.05h0M70.35 91.12h0M30.88 58.16h0M75.13 99.83h0M82.74 26.48h0M89.24 32.04h0M44.4 51.35h0M60.74 90.05h0M37.02 97.49h0M78.57 89.9h0M95.03 66.07h0M74.63 74.57h0M41.91 88.53h0M44.9 93.1h0M28.63 34.67h0M65 43.97h0M104.37 25.73h0M86.94 73.65h0M94.83 98.09h0M84.16 63.71h0M44.62 92.83h0M49.12 47.68h0M104 51.56h0M73.08 29.34h0M76.91 55.43h0M88.7 29.98h0M51.76 62.55h0M27.06 48.35h0M104 27.48h0M90.12 56.86h0M43.4 72.49h0M63.2 25.53h0M49.74 84.81h0M61.25 45.26h0M25.72 61.06h0M29.81 63.15h0M87.19 43.73h0M67.28 51.07h0M89.54 96.09h0M94.12 27.8h0M27.46 24.66h0M32.22 50.16h0M71.82 39.11h0M80.16 26.03h0M72.61 68.99h0M40.72 26.83h0M80.05 75.25h0M103.59 92.93h0M46.49 56.76h0M92.44 85.72h0M79.79 58.39h0M43.75 73.36h0M56.48 65.1h0M97.7 60.86h0M52.82 70.16h0M42.7 34.37h0M76.24 89.2h0M55.01 52.18h0M85.7 34.99h0M35.44 62.1h0M89.12 43.23h0M72.25 47.52h0M46.23 58.05h0M53.19 53.83h0M35.36 72.48h0M32.06 83.26h0M69.03 82.83h0M31.93 53.7h0M93.71 67.46h0M35.54 39.6h0M41.02 96.55h0M67.65 55.71h0M88.69 46.32h0M41.75 100.85h0M35.96 93.39h0M64.77 24.14h0M42.66 80.63h0M42.9 89.68h0M37.48 46.28h0M34.77 96.87h0M63.78 92.12h0M71.3 46.99h0M76.74 33.56h0M91.98 29.1h0M62.43 36.12h0M97.67 81.13h0M33.46 27.29h0M104.85 56.92h0M44.48 85h0M28.3 72.46h0M41.3 96.99h0M87.93 30.39h0M97.38 82.6h0M72.23 57.83h0M84.84 70.49h0M95.2 69h0M96.16 27.02h0M87.71 86.49h0M57.5 29.97h0M78.75 86.34h0M53.3 90.56h0M42.94 94.19h0M64.97 99.46h0M33.3 42.67h0M79.1 101.76h0M78.3 29.07h0M53.95 75.89h0M79.91 98.03h0M69.59 58.82h0M96.29 81.31h0M36.56 70h0M75.18 42.34h0M76.9 87.39h0M76.15 62.44h0M79.51 95.61h0M96.3 60.98h0M34 97.06h0M61.02 89.97h0M86.71 26.31h0M95.05 30.71h0M79.25 56.02h0M33.9 47.56h0M39.11 80.83h0M67.54 64.7h0M30.34 23.25h0M42.11 81.3h0M84.44 88.68h0M55.48 46h0M81.33 79.3h0M96.7 79.96h0M73.39 63.73h0M47.54 100.91h0" stroke="#8a86bc" stroke-width="1.2" stroke-linecap="round" opacity="0.45" fill="none"/>
<path d="M67.97 25.44h0M43.1 92.41h0M61.37 50.33h0M33.95 36.25h0M31.12 94.79h0M84.45 84.87h0M82.8 80.56h0M61.4 31.17h0M88.58 61.1h0M77.51 98h0M35.71 24.03h0M83.23 65.5h0M25.73 89.42h0M63.76 74.16h0M79.83 96.12h0M80.36 60.74h0M30.02 42.09h0M76.82 42.41h0M89.22 26.05h0M57.16 98.29h0M38.03 63.97h0M98.31 23.18h0M25.61 82.6h0M41.57 57.32h0M44.11 93.51h0M71.1 49.79h0M25.56 29h0M79.63 84.39h0M98.9 68.96h0M98.31 81.62h0M83.34 76.61h0M93 57.46h0M25.14 84.68h0M59 49.96h0M67.98 100.25h0M45.82 80.26h0M73.85 72.14h0M44.88 43.57h0M84.24 34.36h0M26.16 51.92h0M98.66 59h0M52.39 89.58h0M56.04 85.76h0M51.84 72.99h0M39.45 34.49h0M77.18 68.57h0M54.09 80.81h0M54.3 64.84h0M94.79 95.74h0M47.82 53.46h0M42.92 38.51h0M86.01 91.25h0M76.31 60.74h0M81.92 30.5h0M63.8 96.85h0M59.07 27.86h0M44.13 50.08h0M94.17 39.99h0M78.03 51.9h0M73.39 75.09h0M31.56 40.36h0M47.81 101.04h0M49.36 48.12h0M104.35 72.7h0M104.97 59.53h0M102.99 83.46h0M81.71 68.49h0M44.07 89.96h0M36.02 42.24h0M46.91 56.28h0M95.92 27.55h0M32.59 57.85h0M102.4 95.32h0M48.12 100.35h0M96.9 99.99h0M90.76 79.08h0M101.68 85.86h0M103.26 30.12h0M68.4 55.08h0M86.35 33.21h0M76.18 93.31h0M26.41 77.08h0M76.9 36.07h0M27.32 86.87h0M31.86 42.91h0M87.82 41.91h0M34.14 97.77h0M63.31 43.68h0M51.29 63.14h0M58.83 46.61h0M32.54 69.9h0M88.3 41.5h0M66.75 49.55h0M27.47 80.95h0M80.3 72.18h0M96.89 33.5h0M29.45 71.74h0M48.48 49h0M37.1 97.53h0M61.94 38.82h0M87.03 31.5h0M74.9 57.98h0M45.21 76.48h0M32.03 96.8h0M86.66 57.99h0M33.52 28.65h0M81.63 51.99h0M61.65 67.15h0M97.34 60.82h0M56.46 39.15h0M62.54 102.25h0M79.61 75.77h0M53.23 53.26h0M59.96 47.57h0M68.13 49.91h0M94.85 66.41h0M87.58 92.59h0M83.36 51.87h0M33.03 49.17h0M104.82 94.68h0M26.89 33.48h0M88.11 51.53h0M88.51 71.3h0M97 36.13h0M97.82 67.11h0M94.48 51.94h0M101.4 63.86h0M60.06 25.43h0M62.46 30.39h0M89.21 95.26h0M43.57 88.75h0M73.23 95.33h0M103.08 80.72h0M99.01 27.2h0M60.41 29.91h0M86.33 42.61h0M74.46 47.26h0M75.8 58.64h0M100.59 60.71h0M55.68 28.57h0M42.57 87.08h0M68.95 55.2h0M47.85 33.88h0M64.66 52.08h0" stroke="#b09488" stroke-width="0.7" stroke-linecap="round" opacity="0.3" fill="none"/>
<path d="M27.27 63.37h0M54.95 99.36h0M82.96 69.79h0M56.22 99.36h0M89.33 99.91h0M63.23 33.7h0M69.82 79.1h0M82.76 73.42h0M75.58 102.32h0M93.65 52.11h0M63.88 29.62h0M93 65.26h0M65.63 39.74h0M59.94 81.59h0M37.88 94.71h0M67.73 28.68h0M52.08 67.77h0M25.59 39.36h0M95.21 98.59h0M70.61 80.53h0M104.19 80.35h0M34.47 62.84h0M76.09 96.54h0M28.31 60.43h0M65.78 99.54h0M39.99 63.56h0M32.18 44.92h0M66.61 59.45h0M39.38 98.42h0M45.44 33.73h0M92.7 25.27h0M91.95 102.54h0M46.94 42.98h0M95.9 96.67h0M37.9 25.83h0M68.07 98.04h0M32.17 39.99h0M80.25 82.68h0M72.83 78.59h0M102.56 78h0M95.25 91.9h0M77.93 47.96h0M91.95 27.58h0M29.96 46.67h0M93.2 33.41h0M54.55 81.97h0M29.05 76.09h0M43.79 25.35h0M30.43 51.89h0M42.27 71.89h0M63.19 60.48h0M87.8 33.54h0M75.48 30.83h0M81.28 61h0M55.99 93.96h0M84.23 91.59h0M38.21 51.79h0M40.39 60.64h0M73.6 43.63h0M63.01 66.83h0M104.88 33.82h0M58.83 29.42h0M46.51 98.36h0M58.61 65.35h0M71.65 58.7h0M77.65 69.9h0M59.88 70.37h0M101.53 74.48h0M51.25 96.61h0M101.48 94.18h0M81.66 53.41h0M27.85 33.88h0M74.28 74.71h0M68.43 50.61h0M102.31 38.7h0M67.79 81.05h0M99.18 44.12h0M43.35 86.77h0M88.51 59.17h0M90.99 60.75h0M42.26 90.2h0M44.27 43.68h0M82.3 99.7h0M56.72 64.83h0M87.8 80.47h0M79.86 61.12h0M60.75 97.21h0M74.5 31.4h0M102.08 27.1h0M90.48 71.29h0M38.53 36.89h0M73.32 46.1h0M84.92 96.24h0M33.56 88.07h0M103.1 72.23h0M38.82 82.58h0M52.5 86h0M73.52 94.95h0M43.23 48.42h0M38.71 35.04h0M45.26 75.47h0M52.62 90.51h0M88.49 90.41h0M100.69 60.62h0M97.24 25.05h0M57.15 87.19h0M92.11 82.13h0M27.79 70.27h0M31.16 56.35h0M73.17 43.73h0M84.87 41.96h0M42.27 89.88h0M96.81 67.75h0M42.32 66.44h0M43.21 92.54h0M48.69 56.41h0M86.5 70.36h0M53.33 57.01h0M98.62 55.13h0M36.63 52.27h0M74.31 87.52h0M52.99 65.56h0M76.13 61.15h0M87.88 43.85h0" stroke="#b09488" stroke-width="0.95" stroke-linecap="round" opacity="0.3" fill="none"/>
<path d="M77.63 43.14h0M102.53 93.43h0M60.09 38.82h0M84.81 98.86h0M53.31 56.43h0M69.62 73.21h0M33.42 82.15h0M53.42 94.92h0M81.82 98.63h0M62.1 26.46h0M55.61 31.32h0M61.51 69.84h0M38.52 75.15h0M25.39 68.29h0M90.91 73.71h0M87.03 26.54h0M85.57 31.31h0M32.73 34.46h0M69.47 88.71h0M69.93 72.02h0M31.21 27.34h0M74.21 59.57h0M41.7 79.65h0M74.01 29.91h0M53.2 30.52h0M85.99 34.83h0M98.03 89.98h0M32.58 58.43h0M77.47 60.87h0M68.03 50.26h0M96.19 86.57h0M41.92 27.27h0M99.51 64.51h0M85.41 93.85h0M32.34 92.3h0M45.76 100.15h0M31.24 81.37h0M69.58 80.8h0M45.4 54.58h0M80.16 58.59h0M93.4 87.23h0M30.81 30.16h0M63.99 31.79h0M30.72 40.79h0M33.8 98.5h0M29.48 64.72h0M39.4 23.87h0M89.92 95.21h0M62.62 82.24h0M76.87 84.81h0M77.52 75.07h0M43.15 70.84h0M100.16 55.16h0M43.65 61.16h0M93.26 82.39h0M57.56 50.45h0M88.2 43.25h0M77.94 91.82h0M89.56 75.27h0M70.63 37.52h0M54.3 64.91h0M74.94 60.73h0M63.03 77.24h0M97.01 41.6h0M71.59 98.39h0M50.16 87.91h0M56.52 32.37h0M86.34 89.84h0M41.32 42.89h0M73.09 90.97h0M28.65 94.77h0M43.4 44.21h0M36.89 49.83h0M52.91 46.34h0M32.31 72.92h0M102.88 33.54h0M40.07 97.32h0M89.41 83.1h0M36.06 38.42h0M66.02 39.92h0M41.37 47.89h0M43.1 84.71h0M60.97 91.18h0M58.47 79.41h0M27.99 101.49h0M35.32 60.27h0M27.81 75.61h0M36.59 78.8h0M97.79 76.63h0M45.77 82.25h0M89.17 25.21h0M90.73 92.04h0M100.97 47.13h0M100.42 24.01h0M57.85 73.86h0M85.45 42.55h0M89.33 102.25h0M95.31 34.13h0M30.65 28.41h0M29.2 91.79h0M49.79 73.58h0M62.64 94.97h0M70.86 31.47h0M63.72 56.31h0M43.17 39.67h0M54.06 99.69h0M94.06 75.38h0M39.7 46.28h0M42.52 93.65h0M59.68 53.45h0M49.14 49.32h0M102.8 62.3h0M25.87 92.7h0M101.53 103h0M41.59 24.87h0M93.09 80.15h0M69.8 34.49h0M43.7 40.31h0M84.94 79.97h0M36.37 59.8h0M40.45 48.26h0M62.75 63.72h0M38.54 28.86h0M81.4 90.22h0M37.19 92.15h0M68.83 26.33h0M63.14 63.71h0M74.58 35.52h0M78.02 81.8h0M88.28 70.2h0M45.36 71.78h0M89 28.38h0" stroke="#b09488" stroke-width="1.2" stroke-linecap="round" opacity="0.3" fill="none"/>
<path d="M55.18 29.06h0M29.76 87.45h0M97.56 31.57h0M69.07 96.76h0M86.83 34.89h0M28.05 27.48h0M75.41 31.99h0M56.27 43.27h0M81.47 37.01h0M68.79 93.75h0M55.67 78.25h0M37.9 94.6h0M45.98 71.87h0M99.42 83.56h0M101.66 26.71h0M27.66 61.23h0M31.54 86.29h0M39.82 33.93h0M51.91 36.1h0M45.77 27.87h0M97.51 72.03h0M50.46 94.16h0M85.95 70.15h0M101.78 101.53h0M44.54 100.83h0M58.64 39.77h0M41.46 63.6h0M85.26 41.98h0M79.74 97.13h0M79.26 80.06h0M46.33 100.99h0M97.2 70.16h0M26.05 39.22h0M97.49 40.93h0M57.41 78.79h0M26.77 25.18h0M45.41 34.33h0M37.13 31.83h0M68.49 24.21h0" stroke="#faf8f8" stroke-width="1" stroke-linecap="round" opacity="0.7" fill="none"/>
<path d="M68.12 45.07h0M49.89 40.54h0M85.28 70.76h0M33.57 38.8h0M78.8 100.56h0M34.67 91.56h0M74.78 95.44h0M66.19 23.45h0M55.44 76.02h0M70.89 66.68h0M93.68 102.1h0M59.25 29.61h0M97.58 69.92h0M87.17 31.23h0M95.12 71.49h0M60.34 81.11h0M31.51 58.91h0M48.94 28.2h0M100.45 102.83h0M85.68 59.5h0M57.1 99h0M100.01 51.13h0M76.61 90.07h0M62.91 85.87h0M75.47 65.64h0M41.98 56.31h0M55.68 75.21h0M90.83 99.96h0M96.91 60.57h0M70.06 30.91h0M52.42 30.63h0M64.89 45.61h0M55.8 66.8h0M86.64 48.43h0M80.45 64.21h0M66.24 48.88h0M72.72 78.81h0M33.84 82.7h0M55.82 52.74h0M69.1 51.72h0M32.69 62.73h0" stroke="#faf8f8" stroke-width="1.3" stroke-linecap="round" opacity="0.7" fill="none"/>
<path d="M48.04 62.6h0M46.11 81.67h0M28.19 62.75h0M55.86 30.45h0M28.12 49.22h0M63.65 24.96h0M96.43 86.5h0M83.97 27.71h0M61.13 93.51h0M75.67 75.82h0M100.47 91.75h0M66.32 62.74h0M65.02 96.82h0M58.13 76.55h0M101.8 99.44h0M46.52 95.3h0M88.05 88.7h0M80.04 48.46h0M81.4 23.35h0M32.81 62.51h0M47.23 52.64h0M86.51 78.41h0M89.9 46.61h0M104.06 66.28h0M93.63 43.78h0M42.23 71.06h0M31.44 46.28h0M89.45 77.56h0M37.84 77.71h0M34.92 45.74h0M54.56 85.24h0M80.64 61.46h0M40.82 99.65h0M78.59 51.83h0M40.23 46.45h0M102.53 48.04h0M99.57 44.4h0M66.15 57.23h0M104.49 72.86h0M37.8 63.22h0" stroke="#faf8f8" stroke-width="1.6" stroke-linecap="round" opacity="0.7" fill="none"/>
</g>
<g clip-path="url(#hc4)">
<rect x="60" y="23" width="45" height="45" fill="#efeaec"/>
<rect x="60" y="23" width="45" height="45" fill="#fff" filter="url(#n2)"/>
<g filter="url(#hb5)" fill="#a8a0c2" opacity="0.75"><ellipse cx="90" cy="31" rx="9" ry="4" transform="rotate(20 90 31)"/><ellipse cx="74" cy="43" rx="9" ry="4" transform="rotate(-25 74 43)"/><ellipse cx="90" cy="50" rx="10" ry="5" transform="rotate(30 90 50)"/><ellipse cx="72" cy="61" rx="9" ry="4" transform="rotate(0 72 61)"/><ellipse cx="98" cy="63" rx="6" ry="4" transform="rotate(0 98 63)"/><ellipse cx="84" cy="37" rx="6" ry="3" transform="rotate(-30 84 37)"/></g>
<g fill="#6a6ab4" opacity="0.75"><ellipse cx="70.63" cy="29.32" rx="2.03" ry="1.02" transform="rotate(161 70.63 29.32)"/><ellipse cx="76.08" cy="57.81" rx="1.98" ry="1.23" transform="rotate(77 76.08 57.81)"/><ellipse cx="81.44" cy="24.87" rx="2.06" ry="1.38" transform="rotate(8 81.44 24.87)"/><ellipse cx="104.45" cy="33.75" rx="1.55" ry="1.35" transform="rotate(35 104.45 33.75)"/><ellipse cx="71.69" cy="57.83" rx="1.94" ry="1.14" transform="rotate(14 71.69 57.83)"/><ellipse cx="93.95" cy="26.34" rx="1.95" ry="1.18" transform="rotate(123 93.95 26.34)"/><ellipse cx="67.74" cy="42.44" rx="2.03" ry="1.06" transform="rotate(92 67.74 42.44)"/><ellipse cx="101.78" cy="49.42" rx="1.8" ry="1.38" transform="rotate(132 101.78 49.42)"/><ellipse cx="93.4" cy="59.84" rx="1.96" ry="1.12" transform="rotate(7 93.4 59.84)"/><ellipse cx="62.15" cy="46.44" rx="1.93" ry="1.09" transform="rotate(72 62.15 46.44)"/><ellipse cx="70.3" cy="32.43" rx="1.67" ry="1.18" transform="rotate(43 70.3 32.43)"/><ellipse cx="81.02" cy="54.57" rx="1.89" ry="1.06" transform="rotate(73 81.02 54.57)"/><ellipse cx="84.13" cy="35.95" rx="1.73" ry="1.11" transform="rotate(119 84.13 35.95)"/><ellipse cx="74.86" cy="24.71" rx="1.75" ry="1.32" transform="rotate(12 74.86 24.71)"/><ellipse cx="63.82" cy="25.56" rx="1.63" ry="1.11" transform="rotate(113 63.82 25.56)"/><ellipse cx="77.21" cy="53.62" rx="1.67" ry="1.06" transform="rotate(166 77.21 53.62)"/><ellipse cx="85.32" cy="43.15" rx="1.56" ry="1.23" transform="rotate(160 85.32 43.15)"/><ellipse cx="61.13" cy="31.32" rx="2.06" ry="1.28" transform="rotate(142 61.13 31.32)"/><ellipse cx="96.08" cy="33.8" rx="1.65" ry="1.36" transform="rotate(48 96.08 33.8)"/><ellipse cx="67.67" cy="60.34" rx="1.75" ry="1.32" transform="rotate(29 67.67 60.34)"/><ellipse cx="79.7" cy="31.08" rx="1.6" ry="1.22" transform="rotate(77 79.7 31.08)"/><ellipse cx="70.58" cy="63.83" rx="1.89" ry="1.11" transform="rotate(21 70.58 63.83)"/><ellipse cx="99.33" cy="26.79" rx="1.7" ry="1.23" transform="rotate(152 99.33 26.79)"/><ellipse cx="93.7" cy="48.16" rx="2.03" ry="1.18" transform="rotate(171 93.7 48.16)"/><ellipse cx="69.19" cy="55.73" rx="1.6" ry="1.15" transform="rotate(100 69.19 55.73)"/><ellipse cx="104.54" cy="50.88" rx="1.89" ry="1.07" transform="rotate(4 104.54 50.88)"/><ellipse cx="79.34" cy="49.9" rx="1.55" ry="1.13" transform="rotate(21 79.34 49.9)"/><ellipse cx="88.28" cy="43.06" rx="1.73" ry="1.19" transform="rotate(126 88.28 43.06)"/><ellipse cx="99.23" cy="47.41" rx="1.82" ry="1.13" transform="rotate(149 99.23 47.41)"/><ellipse cx="61.43" cy="34.56" rx="1.7" ry="1.27" transform="rotate(131 61.43 34.56)"/><ellipse cx="98.8" cy="54.92" rx="1.78" ry="1.05" transform="rotate(64 98.8 54.92)"/><ellipse cx="89.44" cy="60.17" rx="2.06" ry="1.18" transform="rotate(132 89.44 60.17)"/><ellipse cx="71.51" cy="39.49" rx="1.54" ry="1.22" transform="rotate(61 71.51 39.49)"/><ellipse cx="78.43" cy="42.69" rx="1.86" ry="1.34" transform="rotate(156 78.43 42.69)"/></g>
<path d="M68.87 63.34h0M62.73 53.36h0M74.92 61.33h0M77.55 40.07h0M64.42 54.87h0M64.05 43.71h0M101.18 23.69h0M65.22 67.39h0M86.43 39.97h0M84.68 40.43h0M79.82 67.68h0M60.1 27.21h0M85.35 35.78h0M87.82 55.25h0M74.74 37.78h0" stroke="#b08070" stroke-width="1" stroke-linecap="round" opacity="0.5" fill="none"/>
<path d="M73.75 58.78h0M93.17 44.94h0M92.04 63.29h0M99.04 42.77h0M68.25 30.1h0M79.23 31.65h0M82.92 28.01h0M104.48 67.41h0M93.11 28.13h0M90.35 50.49h0M69.58 37.01h0M89.42 42.01h0M83.39 47.76h0M72.11 57.93h0M67.88 49.96h0M68.27 23.22h0M67.62 45.98h0M69.43 62.49h0" stroke="#b08070" stroke-width="1.3" stroke-linecap="round" opacity="0.5" fill="none"/>
<path d="M75.16 27.89h0M66.99 29.93h0M79.78 40.89h0M74.98 53.58h0M92.24 32.31h0M70.5 49.37h0M99.69 28.46h0M74.64 52h0M81.05 23.61h0M77.11 33.25h0M104.05 57.14h0M73.98 62.2h0M82.85 36.02h0M75.65 39.58h0M65.13 36.06h0M98.16 50.09h0M76.47 67.29h0" stroke="#b08070" stroke-width="1.6" stroke-linecap="round" opacity="0.5" fill="none"/>
<path d="M81.26 31.89h0M63.04 30.85h0M71.64 52.01h0M95.44 65.31h0M82.21 47.74h0M97 52.38h0M66.64 59.29h0" stroke="#faf8f8" stroke-width="1.6" stroke-linecap="round" opacity="0.8" fill="none"/>
<path d="M75.24 41.78h0M68.9 46.92h0M80.58 60.44h0M96.68 25.62h0M87.75 29.06h0M90.23 56.43h0M85.5 56.89h0" stroke="#faf8f8" stroke-width="2.1" stroke-linecap="round" opacity="0.8" fill="none"/>
<path d="M70 23.16h0M78.27 33.47h0M69.89 66.23h0M78.07 24.9h0M91.6 57.67h0M82.93 37.13h0M84.04 55.24h0M73.55 32.05h0M63.64 51.11h0M102.03 66.74h0M67.97 60.25h0" stroke="#faf8f8" stroke-width="2.6" stroke-linecap="round" opacity="0.8" fill="none"/>
</g>
<g clip-path="url(#hc6)">
<rect x="110" y="23" width="80" height="80" fill="#e2e3f1"/>
<rect x="110" y="23" width="80" height="80" fill="#fff" filter="url(#n3)"/>
<path d="M111.87 72.49h0M146.31 42.09h0M154.17 71.99h0M172.89 59.47h0M169.59 89.5h0M120.66 47.45h0M182.98 97.67h0M151.97 35.33h0M147.75 63.54h0M140.15 69.29h0M154.2 68.06h0M167.07 57.94h0M122.49 36.78h0M141.04 34.91h0M167.75 90.26h0M161.66 61.89h0M111.34 97.4h0M155.6 66.03h0M123.76 50.74h0M154.05 81.65h0M114.79 68.8h0M143.09 83.35h0M165.77 85.43h0M176.47 61.08h0M126.89 26.93h0M146.91 68.99h0M189.62 63.69h0M149.06 35.62h0M144.72 73.84h0M121.42 54.45h0M167.61 64.59h0M134.46 66.67h0M119.25 81.49h0M170.43 45.3h0M121.89 44.82h0M119.82 24.33h0M182.87 58.19h0M134.12 80.27h0M127.8 29.52h0M154.22 71.35h0M142.66 70.81h0M149.66 41.31h0M184.36 54.94h0M161.96 77.99h0M151.23 38.03h0M147.25 90.13h0M135 52.48h0M177.57 76.56h0M126.96 49.93h0M187.63 46.09h0M131.4 54.59h0M172.91 30.51h0M155.91 25.55h0M137.66 35.86h0M160.26 70.93h0M164.69 94.4h0M177 88.09h0M128.56 34.06h0M160.43 56.26h0M126.21 49.85h0M160.25 55.75h0M149.98 65.16h0M149.36 55.35h0M157.7 76.47h0M176.09 94.61h0M138.11 60.48h0M114.2 47.55h0M114.77 86.22h0M129.05 53.5h0M171.58 72.16h0M186.36 85.34h0M173.69 27.19h0M115.14 49.36h0M166.06 69.43h0M178.26 59.76h0M148.98 89.97h0M188.23 33.35h0M111.63 92.85h0M147.34 88.23h0M180.39 35.95h0M130.51 43.69h0M122.52 57.6h0M148.24 100.15h0M179.8 56.07h0M139.94 89.3h0M168.48 30.12h0M160.66 52.25h0M128.06 47.68h0M155.05 39.56h0M172.6 94.14h0M175.6 47.15h0M185.66 95.08h0M149.93 68.82h0M188.61 60.56h0M130.72 76.25h0M183.23 38.45h0M123.84 81.53h0M139.88 70.12h0M139.38 32.56h0M158.67 30.89h0M125.01 79.88h0M121.91 65.26h0M159.84 91.88h0M126.02 66.66h0M176.46 38h0M185.74 99.54h0M152.28 90.67h0M131.64 26.29h0M146.9 39.58h0M163.19 69.64h0M148.94 51.95h0M177.3 81.54h0M132.24 29.8h0M151.01 102.11h0M121 30.38h0M134.13 81.33h0M188.23 32.47h0M160.26 28.36h0M187.75 30.23h0M112.95 68.22h0M179.61 76.89h0M167.21 59.74h0M187.45 56.97h0M120.43 78.67h0M168.42 32.74h0M117.22 71.96h0M124.02 63.02h0M145.83 48.76h0M123.23 38.39h0M180.11 81.01h0M178.23 101.46h0M176.11 74.57h0M126.55 101.48h0M124.92 99.96h0M119.08 26.56h0M155.31 92.26h0M170.27 50.3h0M177.89 47.42h0M133.77 31.06h0M131.93 71.81h0M144.88 97.46h0M179.93 31.87h0M143.55 69.42h0M113.36 89.47h0M162.02 89.93h0M158.18 85.55h0M187.24 63.52h0M173.52 55.68h0M153.4 46.62h0M124.43 47.24h0M154.32 73.22h0M155.39 71.76h0M111.51 30.83h0M134.33 79.72h0M157.26 58.95h0M132.63 96.36h0M142.82 67.58h0M159.85 89.37h0M184.45 27.14h0M167.86 83.33h0M140.19 93.41h0M110.37 89.93h0M172.69 96.94h0M189.53 74.89h0M183.25 60.52h0M119.89 50.65h0M176.76 99.7h0M155.91 73.49h0M169.01 101.77h0M121.37 86.26h0M157.16 89.05h0M188.71 97.93h0M111.3 26.95h0M145.95 41.89h0M142.71 67.71h0M152.96 68.99h0M117.39 80.06h0M178.93 93.53h0M167.17 101.76h0M157.91 52.16h0M114.82 44.08h0M157.04 101.45h0M184.56 74.15h0M135.27 61.01h0M173.62 60.68h0M135.92 86.71h0M152.82 77.36h0M146.23 96.45h0M160.44 82.08h0M162.18 92.33h0M112.93 57.53h0M188.74 98.17h0M126.15 95.21h0M114.63 76.28h0M158.76 87.7h0M168.86 79.01h0M111.44 84.67h0M182.23 88.18h0M148.37 89.98h0M173.34 32.67h0M176.34 64.29h0M184.17 100.07h0M124.1 41.63h0M135.97 50.32h0M134.32 23.57h0M146.04 97.9h0M140.79 30.3h0M134.91 32.87h0M179.19 73.58h0M173.39 33.14h0M140.57 39.42h0M169.06 62.43h0M146.28 102.07h0M152.44 75.63h0M116.08 84.55h0M155.93 76.87h0M173.73 37.74h0M186.22 39.55h0M189.8 78.45h0M174.08 97.11h0M187.65 83.8h0M123.16 54.86h0M118.42 61.72h0M141.08 33.68h0M173.68 23.42h0M187.29 95.44h0M145.14 69.05h0M161.35 70.57h0M136.75 25.88h0M152.75 69.57h0M139.51 45.05h0M169.42 66.81h0M173.45 32.38h0M177.86 45.74h0M186.31 70.57h0M130.01 73.93h0M186.3 33.7h0M137.58 45.83h0M183.79 101.79h0M128.43 43.35h0M130.53 82.5h0M121.09 63.49h0M181.1 59.06h0M148.65 28.22h0M143.88 97.03h0M169.23 31.36h0M113.81 29.9h0M138.38 80.34h0M165.31 32.63h0M119.47 40.27h0M110.82 23.78h0M130.97 44.14h0M117.51 49.9h0M154.98 71.68h0M171.68 64.38h0M118.07 37.28h0M177.26 69.62h0M117.42 32.15h0M150.8 65.6h0M140.81 88.06h0M182.16 98.05h0M156.83 31.26h0M111.42 51.14h0M141.45 48.74h0M148.05 97.17h0M151.64 24.44h0M113.53 32.96h0M166.37 23.6h0M127.29 34.39h0M140.29 51.81h0M134.57 66.13h0M144.28 87.08h0M176.8 60.21h0M140.72 67.18h0M139.57 62.12h0M176.72 90.62h0M150.84 58.94h0M114.93 76.66h0M174.23 27.88h0M132.13 64.16h0M150.13 99.56h0M139.11 45.1h0M167.61 71.08h0M181.62 49.13h0M162.4 28.94h0M147.82 100.87h0M154.89 82.1h0M168.29 69.28h0M138.69 54.06h0M113.45 55.63h0M127.18 65.92h0M160.85 49.42h0M116.87 31.98h0M170.3 41.71h0M170.46 29.71h0M111.67 92.04h0M187 92.94h0M177.05 24.96h0M153.85 44.98h0M162.14 26.33h0M171.6 27.54h0M125.51 26.89h0M160.72 25.57h0M112.66 81.83h0M162.81 64.77h0M142.77 86.19h0M127.12 98.71h0M127.34 55.49h0M156.91 60.11h0M129.07 62.48h0M162.37 66.17h0M158.42 65.42h0M117.05 93.57h0M184.06 86.17h0M118.85 56.35h0M142.95 78.2h0M124.67 82.94h0M148.4 91.66h0M141.35 56.57h0M133.05 66.66h0M126.54 28.11h0M138.49 97.07h0M154.7 89.81h0M111.69 65.25h0M116.01 79.67h0M123.47 90.07h0M112.99 99.42h0M115.88 78.74h0M122.91 83.17h0M177.48 36.69h0M122.57 40.36h0M155.86 89.18h0M130.95 40.99h0M151.15 67.67h0M165.99 62.05h0M115.81 88.5h0M126.46 60.4h0M132.84 59.37h0M137.66 23.86h0M110.38 44.17h0M186.61 77.27h0M182.18 81.1h0M174.39 58.08h0M116.41 67.55h0M170.16 69.06h0M181.27 83.75h0M157.12 99.9h0M172.13 76.84h0M177.95 96.56h0M149.99 90.52h0M177.23 68.15h0M175.84 63.69h0M113.42 87.35h0M162.21 88.46h0M180.49 64.25h0M142.83 45.9h0M149.29 46.56h0M183.32 84.31h0M181.94 34.2h0M126.05 50.22h0M162.24 55.88h0M129.99 55.41h0M157.34 29.22h0M122.61 42.97h0M113.14 67.11h0M126.98 91.16h0M120.09 81.92h0M127.24 77.3h0M177.51 25.43h0M170.23 33.71h0M156.46 70.79h0M182.77 30.14h0M163.44 92.39h0M181.87 70.35h0M137.4 39.71h0M124.17 92.86h0M114.87 32.25h0M139.8 102.96h0M184.66 43.16h0M133.95 67.19h0M168.46 42.51h0M111.28 38.4h0M134.74 97.33h0M111.67 93.11h0M145.83 91.47h0M172.12 34.94h0M137.91 40.31h0M179.29 62.41h0M155.13 47.94h0M138.58 99.59h0M152.09 68.09h0M137.17 25.91h0M120.48 59.73h0M114.8 71.56h0M165.34 37.5h0M151.53 36.42h0M184.33 24.51h0M118.18 76.91h0M156.66 30.52h0M126.53 43.35h0M178.1 38.85h0M135.18 76.49h0M113.99 61.89h0M159.43 37.19h0M177.11 76.57h0M115.1 96.87h0M133.19 60.54h0M130.36 79.84h0M133.84 79.91h0M172.1 49.39h0M177.5 34.22h0M154.68 96.11h0M141.72 91.62h0M121.27 98.54h0M154.36 64.85h0M112.89 99.99h0M165.1 24.21h0M162.18 35.36h0M155.72 30.23h0M156.97 59.72h0M121.85 41.22h0M184.97 51.13h0M128.4 75.01h0M118.85 60.01h0M120.33 40.99h0M163.95 93.84h0M170.41 79.38h0M152.15 51.42h0M137.15 87.17h0M164.47 89.05h0M181.94 98.21h0M180.18 80.7h0M182.67 37.19h0M156.85 82.51h0M132.42 23.38h0M145.75 98.19h0M183.74 35.3h0M177.83 27.85h0M154.45 98.23h0M173.02 84.12h0M168.56 75.51h0M140.04 25.53h0M155.88 51.19h0M181.64 70.71h0M156.38 80.9h0M118.77 70.69h0M119.24 61.91h0M129.15 73.71h0M141.51 59.58h0M117.3 54.55h0M130.07 70.82h0M187.61 99.01h0M149.48 51.91h0M185.86 93.27h0M178.13 41.41h0M145.84 35.72h0M114.47 49.66h0M164.91 53.6h0M139.23 88.75h0M122.07 55.07h0M189.91 87.55h0M159.84 96.97h0M148.64 94.29h0M158.01 67.29h0M112.65 62.15h0M140.38 43.42h0M130.43 64.1h0M134.73 51.19h0M165.28 57.71h0M169.5 45.69h0M141.78 37.04h0M141.87 47.47h0M135.17 53.5h0M185.68 76.31h0M135.16 91.98h0M179.01 96.77h0M187.61 35.72h0M116.19 63.45h0M180.92 68.19h0M142.72 33.34h0M123.33 59.5h0M153.94 72.26h0M152.02 95.18h0M155.39 26.47h0M181.94 27.34h0M170.72 45.06h0M154.41 70.69h0M167.16 56.26h0M155.09 82.66h0M174.41 56.31h0M127.34 64.67h0M189.65 37.11h0M153.67 77.67h0M147.88 98.28h0M154.33 51.69h0M148.75 94.49h0M116.43 88.42h0M144.29 70.99h0M122.05 68.98h0M131.05 79.63h0M154.76 52.15h0M126.14 82.67h0M147.33 86.01h0M165.47 46.79h0M164.45 50.44h0M145.46 91.67h0M142.07 65.69h0M113.18 35.29h0M175.35 66.3h0M145.59 93.96h0M120.21 80.33h0M119.75 84.93h0M133.89 52.49h0M181.79 55.85h0M147.47 58.32h0M169.49 57.84h0M132.03 82.59h0M151.34 31.57h0M116.68 60.41h0M175.43 57.29h0M111.36 79.32h0M167.83 31.96h0M169.84 92.81h0M178.77 66.46h0M176.07 86.57h0M147.36 80.21h0M181 34.6h0M172.53 58.09h0M165.6 83.89h0M183.53 53.11h0M151.27 74.79h0M130 100.62h0M150.63 51.66h0M183.99 35.72h0M174.76 65.21h0M170.1 48.3h0M151.41 83.82h0M133.75 58.89h0M165.77 54.2h0M186.66 38.93h0M150.64 100.36h0M155.24 97.34h0M152.35 83.54h0M177.22 64.89h0M134.82 88.86h0M169.29 37.25h0M170.15 78.09h0M134.05 84.53h0M137.56 38.29h0M128.98 81.57h0M139.61 66.29h0M175.96 88.44h0M158.64 56.38h0M144.63 35.21h0M147.38 33.06h0M143.75 57.95h0M123.56 74.07h0M130.72 73.63h0M166.25 78.37h0M113.2 77.47h0M153.36 26.48h0M159.4 56.15h0M170.26 53.34h0M183.87 39.11h0M130.44 47.05h0M145.39 95.84h0M152.31 81.65h0M162.44 23.11h0M117.27 95.43h0M129.99 70.5h0M131.95 84.73h0M157.45 45.15h0M166.63 50.1h0M159.51 66.2h0M149.33 59.58h0M138.13 41.61h0M117.65 78.65h0M117.14 45.76h0M153.64 29.93h0M139.65 40.92h0M121.63 35.72h0M143.07 67.58h0M138.72 75.09h0M154.33 47.34h0M161.62 97.2h0M173.05 84.34h0M114.59 36.63h0M115.72 98.54h0M171.17 54.42h0M141.18 24.89h0M141.12 65.53h0M181.28 50.47h0M179.89 76.21h0M143.29 40.37h0M133.91 60.6h0M150.85 97.49h0M127.31 85.1h0M151.63 33.22h0M179.97 85.56h0M178.62 31.9h0M171.8 57.79h0M176.2 78.33h0M117.88 69.92h0M170 49.37h0M172.72 84.91h0M144.22 54.55h0M152.32 97.8h0M140.04 35.92h0M147.46 39.6h0M165.24 47.98h0M146.7 54.85h0M163.89 59.97h0M142.36 53.61h0M148.16 72.26h0M137.51 49.06h0M118.66 77.98h0M117.17 64.66h0M139.48 51.02h0M121.54 77.05h0M136.89 70.23h0M173 40.88h0M178.26 37.88h0M184.74 87.23h0M145.78 80h0M162.22 91.26h0M158.59 57.09h0M128.58 85.62h0M141.55 96.66h0M178.09 80.4h0M120.85 62.99h0M161.39 99.52h0M131.88 101.29h0M152.76 95.34h0M125.94 60.24h0M128.96 74.42h0M171.11 56.2h0M141.59 40.59h0M132 72.52h0M177.25 70.19h0M158.19 62.74h0M119.64 94.61h0M129.62 28.24h0M175.49 77.85h0M154.16 72.56h0M161.04 98.91h0M169.09 87.57h0M188.46 33.07h0M118.79 95.92h0M113.28 99.98h0M177.3 83.44h0M169.64 43.07h0M110.98 87.45h0M169.62 90.96h0M158.12 100.85h0M141.3 69.14h0M161.19 49.13h0M113.37 47.29h0M152.49 37.98h0M128.27 82.23h0M172.36 47.6h0M171.11 39.85h0M127.08 86.38h0M183.8 75.4h0M148.47 35.27h0M158.38 31.39h0M142.02 26.88h0M121.25 32.4h0M157.63 65.52h0M125.37 70.18h0M147.47 45.06h0M115.87 24.88h0M127.13 30.23h0M129.68 98.58h0M138.26 33.5h0M146.34 64.7h0M142.47 82.39h0M114.85 97.96h0M168.74 32.83h0M176.26 42.42h0M114.42 90.68h0M168.44 43.17h0M184.39 44.72h0M159.51 55.45h0M182.96 42.59h0" stroke="#6c74c4" stroke-width="0.7" stroke-linecap="round" opacity="0.5" fill="none"/>
<path d="M126.24 94.88h0M158.26 33.54h0M182.43 92.61h0M140.55 66.42h0M185.15 40.64h0M127.93 40.38h0M146.92 50.84h0M173.75 79.63h0M175 30.55h0M137.89 32.7h0M135.26 87.6h0M135.42 74.55h0M148 66.02h0M122.61 47.56h0M125.79 39.47h0M130.21 29.9h0M124.59 23.01h0M119.16 82.97h0M126.72 25.93h0M142.94 97.49h0M185.83 63.97h0M176.24 95.45h0M116.39 52.52h0M147.6 33.48h0M162.62 24.75h0M116.32 26.44h0M141.6 63.11h0M181.61 32.42h0M134.01 100.38h0M118.54 97.04h0M156.9 75.13h0M179.92 39.24h0M141.18 71.76h0M122.21 64.54h0M112.71 58.55h0M118.19 87.02h0M174.85 52.13h0M120.96 88.69h0M145.29 69.88h0M127.19 90.07h0M135.33 89.6h0M167.56 52.91h0M188.48 94.4h0M181.68 99.65h0M141.28 56.99h0M132.86 75.67h0M185.09 89.67h0M181.37 59.74h0M127.89 90.83h0M185.93 40.59h0M111.01 91.92h0M163.34 30.22h0M132.94 100.61h0M148.81 34.72h0M122.35 66.18h0M175 68.34h0M169.49 98.45h0M123.96 29.08h0M142.96 99.35h0M156.9 42.02h0M161.65 63.43h0M112.98 86.03h0M112.15 90.38h0M178.7 62.19h0M140.28 48.25h0M147.57 84.35h0M173.92 75.79h0M182.83 36.18h0M129.78 64.28h0M186.14 35.28h0M124 67.68h0M184.84 24.49h0M123.05 90.26h0M127.34 98.17h0M128.33 23.08h0M117.81 84.32h0M160.7 89.6h0M121.62 77.12h0M124.68 72.17h0M172.27 84.31h0M145.42 30.43h0M142.1 33.06h0M163.09 92.89h0M160.07 32.34h0M137.25 42.36h0M138.97 91.05h0M115.36 56.49h0M169.14 40.13h0M183.73 98.15h0M115.01 58.52h0M148.49 53.59h0M167.87 29.74h0M120.26 48.96h0M131.97 65.9h0M144.16 24.61h0M134.81 39.22h0M156.12 94.22h0M156.66 58.78h0M150.58 102.24h0M130 48.23h0M168.51 25.97h0M175.06 27.5h0M121.33 48.98h0M127.95 26.51h0M135.99 91.9h0M160.04 45.33h0M188.76 44.36h0M124.52 88.25h0M157.67 75.32h0M171 28.21h0M136.76 41.45h0M111.03 58.57h0M172.61 80.51h0M133.89 80.85h0M154.88 61.21h0M175.23 101.85h0M154.03 83.45h0M159.93 90.68h0M182.63 102.03h0M137.44 30.67h0M134.27 83.81h0M131.6 93.73h0M111.05 49.41h0M172.36 86.8h0M134.72 24.08h0M144.18 29.94h0M171.93 80.92h0M143.66 72.84h0M154.94 61.04h0M182.98 42.54h0M176.74 51.04h0M160.12 57.02h0M116.84 50.94h0M134.27 69.61h0M147.62 97.57h0M172.82 39.58h0M111.6 62.31h0M127.94 84.17h0M113.47 97.67h0M174.44 60.03h0M158.47 24.26h0M145.08 70.6h0M142.42 33.88h0M124 85.2h0M174.16 33.52h0M135.05 32.92h0M124.5 30.41h0M180.05 39.88h0M121.46 77.51h0M172.04 36.42h0M154.45 39.72h0M110.58 69.2h0M155.81 33.32h0M154.88 51.94h0M121.79 43.9h0M135.87 32.12h0M145.91 70.34h0M179.9 98.12h0M179.99 95.26h0M141 41.68h0M145.16 40.39h0M121.91 101.43h0M130.37 69.87h0M145.73 81.06h0M141.61 83.77h0M171.94 95.25h0M126.55 37.17h0M188.78 84.59h0M110.19 79.86h0M149.95 70.86h0M175.76 69.86h0M161.44 77.54h0M120.7 36.18h0M154.11 67.17h0M180.01 48.76h0M166.46 86.65h0M135.39 34.64h0M165.46 52.72h0M162.12 96.92h0M146.85 87.97h0M169.65 93.62h0M180.8 87.07h0M156.09 100.47h0M155.6 48.75h0M162.39 74.81h0M127.39 57.47h0M129.22 50.3h0M147.69 60.11h0M180.32 91.29h0M179.42 41.48h0M136.3 69.56h0M140.99 83.12h0M136.42 80.41h0M146.94 101.64h0M110.17 40.25h0M152.79 99.56h0M131.1 67.85h0M185.75 93.16h0M182.83 83.59h0M143.31 98.53h0M146.69 70.54h0M115.72 78.72h0M189.82 86.97h0M184.11 65.6h0M147.94 85.42h0M173.84 89.15h0M118.61 40.84h0M156.78 32.05h0M115.86 42.23h0M170.66 60.81h0M140.2 33.95h0M149.69 97.38h0M145.66 88.39h0M128.22 89.74h0M115.22 47.49h0M126.18 91.49h0M159.6 66.35h0M176.85 82.69h0M147.46 45.99h0M128.19 68.17h0M145.89 99.99h0M120.48 24.6h0M122.83 66.38h0M175.15 77.85h0M120.79 44.06h0M135.93 24.53h0M162.03 29.42h0M146.58 39.43h0M125.18 71.19h0M177.01 92.19h0M178.8 88.52h0M132.26 38.78h0M130.25 55.87h0M121.76 29.16h0M170.39 31.4h0M166.78 62.15h0M143.04 44.47h0M131.11 76.53h0M165.69 26.45h0M138.6 25.07h0M123.1 89.73h0M180.54 58.15h0M148.24 45.17h0M160.08 29.88h0M132.5 51.14h0M182 47.67h0M127.81 44.67h0M147.53 92.26h0M150.44 78.2h0M138.56 88.14h0M116.28 93.14h0M130.62 35.05h0M122.07 61.42h0M135.12 48.91h0M172.86 37.88h0M117.84 69.39h0M176.9 30.5h0M160.93 100.48h0M179.16 32.95h0M186.51 42.47h0M124.51 38.64h0M116.36 31.55h0M168.57 53.3h0M182.84 28.59h0M178.44 52.48h0M130.89 65.7h0M138.44 43.29h0M133.99 72.36h0M164.63 35.82h0M128.37 30.13h0M151.29 91.66h0M161.2 68.82h0M154.35 96.47h0M147.14 97.94h0M150.03 25.86h0M187 100.9h0M147.08 87.82h0M156.08 37.54h0M127.76 68.1h0M140.31 84.01h0M134.45 29.86h0M121.92 102.83h0M147.67 76.04h0M164.05 53.61h0M130.36 55.85h0M185 95.15h0M127.07 101.92h0M158.68 65.15h0M156.14 39.61h0M120.45 92.29h0M176.08 86.25h0M173.24 67.62h0M114.73 27.93h0M152.63 73.44h0M132.18 65.03h0M150.53 86.89h0M143.72 83.43h0M183.84 38.47h0M113.16 77.13h0M124.52 98.05h0M132.47 76.57h0M159.28 100.93h0M173.98 89.75h0M117.33 52.16h0M119.36 28.94h0M171.92 92.14h0M134.88 102.44h0M164.96 63.75h0M125.36 52.98h0M159.26 72.57h0M126.25 37.83h0M188.44 66.42h0M119.02 60.84h0M156.37 50.77h0M189.13 63.42h0M148.53 29.62h0M187.5 98.99h0M152.47 24.24h0M177.18 87.17h0M184.51 46.33h0M112.54 24.07h0M170.89 66.44h0M129.34 56.19h0M180.16 57.81h0M138.94 75.97h0M171.7 40.11h0M151.38 26.36h0M134.51 95.37h0M157.91 87.34h0M143.35 45.63h0M159.5 53.01h0M165.75 40.01h0M116.75 60.69h0M111.94 28.43h0M138.81 45.9h0M121.95 88.2h0M167.18 49.32h0M128.53 94.59h0M169.79 23.29h0M186.86 60.61h0M150.65 67.47h0M134.35 79.91h0M180.56 28.63h0M125.6 54.56h0M150.63 40.26h0M149.64 35.66h0M110.59 58.49h0M112.62 86.91h0M179.45 43.57h0M178.48 41.23h0M120.77 42.26h0M120.3 82.94h0M130.77 99.43h0M158.64 54.75h0M181.23 45.57h0M188.27 102.4h0M150.19 24.22h0M162.07 46.99h0M116.51 26.72h0M173.52 83.05h0M163.79 41.52h0M170.43 65.65h0M127.35 87.43h0M156.67 69.35h0M182.4 99.52h0M164.4 32.57h0M180.19 87.3h0M143.24 51.02h0M170.87 56.14h0M135.46 23.58h0M180.26 46.51h0M128.37 29.49h0M183.61 86.17h0M121.24 53.5h0M184.2 24.92h0M151.25 84.51h0M187.09 38.05h0M143.11 49.81h0M127.32 30.88h0M158.74 75.25h0M171.62 70.92h0M189.96 47.34h0M162.6 23.01h0M118.84 77.13h0M154.1 99.84h0M118.96 66.17h0M158.33 43.53h0M155.14 30.21h0M156.04 45.39h0M125.1 75.06h0M182.06 98.75h0M132.38 36.89h0M142.1 99.11h0M186.09 85.6h0M117.26 97.16h0M167.17 91.28h0M157.28 41.75h0M174 31.39h0M136.64 78.9h0M151.87 49.84h0M173.56 62.35h0M188.12 94.57h0M127.98 24.04h0M184.46 55.47h0M115.76 78.74h0M144.88 44.85h0M189.76 34.09h0M117.03 77.31h0M174.48 27.05h0M143.7 37.51h0M115.28 97.09h0M111.97 35.16h0M156.37 70.65h0M137.65 44.96h0M129.04 27.83h0M154.72 44.2h0M169.85 88.35h0M138.6 85.29h0M126.11 36.93h0M144.75 44.94h0M187.48 60.94h0M142 67.31h0M172.94 34.48h0M119.31 88.78h0M127.74 73.66h0M152.09 61.71h0M150.24 81.44h0M135.54 34.28h0M166.54 66.01h0M146.37 62.81h0M160.17 27.36h0M141.28 72.62h0M133.48 69.25h0M157.14 35.61h0M164.22 24.53h0M134.79 33.71h0M187.36 101.2h0M165.95 97.92h0M158.84 93.69h0M134.01 101.03h0M159.64 52.28h0M127.79 87.69h0M144.21 58.39h0M174.57 35.04h0M127.66 30.6h0M143.77 87.17h0M186.7 37.44h0M122.44 25.98h0M184.56 24.26h0M176.51 83.89h0M170.36 35.83h0M149.55 61.04h0M164.35 94.55h0M136.78 85.11h0M140.5 51.1h0M127.13 51.93h0M167.51 83.24h0M158.57 59.99h0M173.01 87.38h0M164.23 52.57h0M140.88 101.98h0M139.02 56.59h0M179.93 53.55h0M178.16 74.38h0M170.59 79.31h0M124.77 66.34h0M167.66 71.14h0M171.48 76.98h0M173.07 90.5h0M177.55 47.85h0M118.53 86.56h0M123.76 46.12h0M152.8 46.3h0M177.66 48.61h0M114.46 30.02h0M162.48 62.73h0M184.29 86.41h0M155.06 65.8h0M137.57 57.65h0M125.03 61.2h0M148.67 67.82h0M186.51 90.7h0M168.22 73.02h0M149.91 94.45h0M186.43 83.13h0M118.13 75.55h0M110.98 65.26h0M168.8 93.07h0M181.77 90.93h0M143.66 100.83h0M157.69 73.36h0M114.31 52.11h0M119.45 48.76h0M185.5 97.44h0M154.43 32.32h0M189.64 81.72h0M134.48 97.97h0M142.63 70.57h0M148.25 95.8h0M168.76 80.42h0M162.55 101.57h0M147.85 88.96h0M165.69 29.69h0M153.95 66.52h0M164.39 87.8h0M180.33 27.24h0M184.41 72.56h0M167.06 55.22h0M114.19 29.5h0M170.77 38.76h0M121.36 43.75h0M166.1 62.02h0M111.08 28.85h0M117.52 96.5h0M183.54 79.53h0M129.56 78.17h0M180.75 85.55h0M130.74 49.38h0M187.19 100.27h0M138.2 61.98h0M153.03 47.76h0M142.47 80.25h0M116.95 24.5h0M125.47 88.13h0M180.48 83h0M166.69 45.79h0M145 79.97h0M113.81 90.93h0M166.4 35.47h0M162.6 50.95h0M129.06 47.32h0M176.06 81.8h0M143.64 65h0M166.99 96.03h0M130.51 80.43h0M111.92 55.38h0M150.41 67.81h0M156.43 44.69h0M169.72 90.77h0M170.96 24.02h0M118.51 40.85h0M110.31 82.4h0M148.38 28.52h0M127.54 45.64h0M143.37 91.48h0M154.21 54.27h0M128.77 72.6h0M136.78 60.32h0M145.63 102.53h0M150.71 36.2h0M127.81 40.81h0M161.22 74.87h0M140.77 99.43h0M176.46 70.57h0M143.89 33.67h0M120.21 58.61h0M184.22 80.33h0M181.66 26.79h0M129.06 57.52h0M127.06 25.43h0M152.69 51.15h0M110.83 55.4h0M180.47 26.4h0M166.01 78.86h0M160.49 34.2h0M153.77 97.59h0M129.49 68.2h0M164.69 31.77h0M181.7 101.84h0M149.21 54h0M128.72 80.99h0M135.78 78.12h0M164.62 43.9h0M129.13 97.08h0M188.9 71.38h0M128.33 87.96h0M169.88 33.68h0M152.78 81.52h0M142.65 50.49h0M149.52 69.47h0M124.07 90.21h0M122.69 63.13h0M164.38 40.45h0M124.44 58.37h0M142.3 55.03h0M127.04 24.26h0M139.32 46.61h0M125.42 41.07h0M162.04 66.65h0M174.02 83.89h0M121.15 78.7h0M112.35 26.43h0M142.96 32.58h0M183.99 79.2h0M183.65 34.25h0M124.32 83.68h0M168.26 31.32h0M114.45 60.59h0M166.75 67.74h0M146.89 74.85h0M133.32 48.81h0M148.44 80.07h0M181.51 64.45h0M139.76 24.5h0M171.78 40.9h0M141.7 54.65h0M138.76 96.19h0M116.99 40.84h0M148 28.51h0M182.88 77.15h0M167.74 96.09h0M137.41 102.45h0M145.84 36.39h0M119.43 89.25h0M186.99 45.41h0M151.67 77.07h0M175.57 77.29h0M142.14 97.52h0M143.55 38.39h0M175.1 97.56h0M139.42 66.48h0M125.27 92.17h0M143.25 87.16h0M125.27 28.63h0M115.74 26.2h0M132.57 46.8h0M152.59 84.88h0M152.11 66.93h0M151.81 63.99h0M129.31 63.21h0M159.9 57.42h0M172.04 34.11h0M163.15 58.83h0M163.26 53.89h0M172.59 100.96h0M170.07 41.05h0M175.42 23.19h0M111.97 69.95h0M168.86 77.29h0M127.46 30.27h0M115.63 61.35h0M173.64 41.76h0M144.59 43.48h0M114.3 63.57h0M166.49 58.66h0M136.56 40.92h0M171.67 55.02h0M116.93 45.91h0M183.75 65.49h0M182.39 87.03h0M140.63 63.6h0M141.04 98.81h0M149.15 75.84h0M119.92 45.19h0M160.98 90.49h0M134.86 36.09h0M172.32 38.61h0M181.48 63.69h0M169.33 76.33h0M132.1 37.79h0M127.7 26.02h0M187.31 26.19h0M173.91 88.44h0M164.9 63.38h0M185.46 82.81h0M160.43 94.73h0M143.22 31.16h0M147.66 41.97h0M157.77 54.47h0M156.65 60.16h0M158.5 77.77h0M189.05 53.83h0M162.76 57.84h0M161.23 31.47h0M145.88 97.17h0M174.55 34.09h0M139.31 80.74h0M158.89 55.36h0M119.3 60.65h0M166.18 65.07h0M153.12 51.86h0M137.43 42.44h0M168.68 65.54h0M182.79 95.27h0M128.05 79.48h0M184.54 90.14h0M176.9 101.42h0M117.03 62.97h0M163.07 102.16h0M156.13 100.32h0M111.48 47.53h0M180.92 87.75h0M123.56 42.61h0M155.54 44.72h0M132.87 64.23h0M149.69 47.81h0M182.62 29.59h0M184.49 39.53h0M164.43 33.24h0M165.85 80.31h0M179.81 28.06h0M167.68 57.33h0M114.16 80.59h0M167.75 41.14h0M115.91 96.14h0M175.52 46.35h0M184.75 41.82h0M127.21 36.89h0M151.22 37.63h0M153.21 100.54h0M180.9 79.07h0M189.65 23.08h0M159.57 52.04h0M136.42 40.39h0M123.4 60.22h0M127.46 23.31h0M127.4 36.09h0M117.03 76.07h0M162.41 81.67h0M117.27 27.74h0M167.35 90.76h0M116.6 74.52h0M142.93 38.45h0M111.85 56.34h0M189.13 91.72h0M168.05 39.37h0M125.5 83.89h0M136.3 43.76h0M167.05 94.45h0M171.25 38.7h0M156.53 44.98h0M115.36 77.17h0M162.72 64.21h0M143.27 92.1h0M154.71 36.12h0M123.07 62.6h0M156.62 34.02h0M187.74 38.34h0M136.9 73.14h0M111.7 33.95h0M178.63 30.36h0M158.07 43.83h0M118.89 54.34h0M189.25 57.47h0M131.51 94.55h0M127.86 64.99h0M113.88 49.09h0M131.11 32.37h0M168.51 26.58h0M172.51 102.75h0M188.13 67.42h0M143.99 39.2h0M166.78 101.62h0M120.9 37.61h0M167.33 44.83h0" stroke="#6c74c4" stroke-width="1" stroke-linecap="round" opacity="0.5" fill="none"/>
<path d="M145.2 89.42h0M115.29 28.77h0M167.56 27.05h0M133.41 45.3h0M158.23 100.66h0M184.12 87.86h0M132.91 47.63h0M112.13 83.28h0M126.78 50.79h0M162.29 42.9h0M130.31 89.46h0M166.05 36.59h0M179.02 85.91h0M144.83 60.37h0M145.54 94.16h0M178 101.87h0M168.15 41.26h0M148.4 28.22h0M127.85 42.41h0M127.9 56.43h0M164.14 69.79h0M188.26 24.06h0M136.94 33.25h0M189.65 46.92h0M183.33 79.38h0M187.5 48.74h0M166.96 53.3h0M117.1 25.17h0M177.17 26.75h0M188.12 66.45h0M118.03 28.12h0M164.21 46.15h0M144.97 45.53h0M136.03 67.04h0M161.4 29.84h0M183.1 64.05h0M185.46 43.57h0M174.13 33.79h0M161.81 87.78h0M111.22 43.59h0M124.04 43.73h0M167.09 30.68h0M174.09 37.76h0M163.33 67.94h0M187.19 85.19h0M164.64 29.09h0M117.09 94.37h0M151.97 34.48h0M142.25 42.24h0M117.96 79.78h0M171.17 70.27h0M166.88 87.77h0M166.66 68.85h0M113.79 63.08h0M118.17 49.66h0M163 97.99h0M145.64 59.94h0M135.42 31.78h0M124.02 32.07h0M126.76 39.73h0M136.75 98.95h0M145.65 86.45h0M112.47 93.7h0M187.29 89.96h0M149.84 57.58h0M157.85 32.26h0M113.66 93.28h0M133.68 83.9h0M184.27 68.34h0M146.8 67.18h0M156.42 34.7h0M148.24 73.74h0M113.61 46.16h0M111.11 48.63h0M169.65 80.44h0M176.83 77.53h0M140.38 97.45h0M135.08 77.68h0M132.05 43.13h0M181.14 42.38h0M135.84 82.26h0M184.62 23.54h0M167.14 85.75h0M145.55 38.01h0M173.63 47.29h0M128.53 79.07h0M140.09 32.88h0M162.81 47.62h0M133.02 92.68h0M123.86 43.32h0M168.28 78.83h0M162.89 68.63h0M123.74 98.13h0M149.87 46.89h0M142.75 29.14h0M115.3 76.4h0M117.39 35.23h0M187.9 76.77h0M128.89 87.73h0M116.64 92.23h0M180.18 25.38h0M165.4 73.43h0M135.2 39.66h0M136.09 85.2h0M160.92 58.46h0M152.81 70.83h0M171.19 77.29h0M137.49 75.67h0M181.86 24.91h0M120.99 52.22h0M149.91 52.29h0M180.97 25.69h0M151.88 33.46h0M139.88 27.63h0M186.29 73.51h0M165.13 59.84h0M186.67 31.19h0M167.86 48.39h0M116.25 31.34h0M174.99 47.09h0M116.33 91.74h0M156.53 38.06h0M132.02 25.34h0M129.45 25.23h0M144.78 78.79h0M189.82 31.35h0M146.78 74.8h0M117.84 91.07h0M148.75 93.3h0M145.27 32.38h0M169.64 74.85h0M156.3 34.87h0M161.86 75.48h0M182.68 41.82h0M129.29 43.39h0M119.15 70.5h0M115.49 87.72h0M156.4 86.06h0M143.68 42.97h0M168.24 64.43h0M186.14 49.2h0M111.51 43.03h0M123.69 47.49h0M130.96 58.09h0M188.23 65.03h0M120.28 96.08h0M175.51 64.03h0M126.93 88.83h0M175.98 85.98h0M173.26 86.08h0M169.61 68.27h0M125.42 62.1h0M141.81 85.38h0M186.16 91.18h0M188.78 26.47h0M140.55 68.95h0M160.03 92.25h0M151.29 46.62h0M112.45 52.42h0M148.11 67.29h0M134.35 88.57h0M139.59 86.09h0M136.38 97.67h0M183.66 84.22h0M166.9 65.45h0M178.92 83.81h0M160.27 78.5h0M187.14 26.14h0M120.67 42.93h0M121.1 76.8h0M122.5 65.2h0M164.43 47.34h0M139.11 93.53h0M159.88 33.34h0M174.39 65.33h0M110.58 94.78h0M166.43 67.15h0M121.91 50.01h0M176.25 54.83h0M182.71 90.06h0M184.54 69.4h0M158.22 50.74h0M153.38 96.56h0M131.89 27.52h0M143.48 96.56h0M141.17 81.2h0M142.1 30.8h0M135.82 73.91h0M152.8 29h0M115.83 67.46h0M128.93 79.67h0M117.85 99.65h0M184.84 50.21h0M116.79 101.36h0M124.81 55.93h0M133.67 38.4h0M120.24 58.43h0M178.23 29.72h0M153.99 94.72h0M122.78 52.8h0M150.28 62.57h0M124.42 59.98h0M147.49 55.26h0M136.03 39.76h0M186.46 82.54h0M111.96 99.92h0M189.24 96.52h0M157.03 35.62h0M167.14 60.15h0M131.37 96.67h0M151.94 91.55h0M141.16 93.21h0M141.66 40.73h0M136 23.15h0M143.2 84.69h0M156.48 101.96h0M137.66 76.22h0M189.8 62.69h0M136.93 56.07h0M134.74 90.86h0M141.02 41.37h0M179.11 30h0M159.26 39.47h0M120.01 93.85h0M129.13 50.63h0M114.73 47.18h0M128.19 47.13h0M163.16 69.39h0M139.31 23.05h0M189.41 81.76h0M181.32 32.78h0M135.55 72.46h0M145.55 32.29h0M179.11 35h0M160.97 64.97h0M170.19 39.78h0M165.55 48.54h0M117.02 40.52h0M184.34 24.43h0M117.52 68.28h0M129.23 70.14h0M187.09 52.93h0M141.65 56.85h0M171.56 66.09h0M144.46 60.55h0M189.17 102.91h0M135.66 55.97h0M141.95 53.83h0M161.44 45.69h0M120.11 89.43h0M179.97 68.91h0M110.49 54.81h0M183.75 80.88h0M161.56 72.29h0M121.27 80.44h0M186.36 55.24h0M171.79 100.19h0M175.59 33h0M136.99 41.83h0M110.38 33.73h0M138.55 100.11h0M147.09 53.47h0M161.08 37.49h0M167.04 24.62h0M175.65 60.38h0M134.75 69.93h0M111.98 91.5h0M116.91 24.56h0M116.98 25.45h0M140.48 31.15h0M153.6 36.16h0M177.19 102.95h0M163.95 37.59h0M184.86 90.7h0M145.24 98.24h0M183.09 94.93h0M113.7 75.53h0M116.04 92.51h0M135.7 95.51h0M168.43 34.45h0M136.12 75.98h0M122.63 61.72h0M187.73 44.37h0M113.85 79.27h0M151.74 37.64h0M178.13 68.46h0M189.66 95.63h0M132.64 87.38h0M122.67 101.74h0M131.39 89.74h0M154.4 84.1h0M164.85 62.19h0M138.63 77.91h0M117.91 46.25h0M115.51 99.08h0M172.95 67.54h0M125.07 80.61h0M167.34 66.8h0M115.52 61.51h0M172.52 46.25h0M153.77 88.52h0M189.97 39.47h0M178.57 79.37h0M153.99 91.38h0M167.01 49.15h0M178.28 27.9h0M125.23 33.61h0M146.53 67.57h0M137.94 72.03h0M121.55 77.57h0M164.05 57.29h0M171.24 66.51h0M121.03 69.49h0M132.48 57.29h0M180.09 46.52h0M126.72 74.82h0M148.94 64.84h0M166.29 25.99h0M150.43 26.47h0M185.19 84.82h0M177.28 53.27h0M114.32 76.38h0M111.75 36.13h0M187.33 32.01h0M166.13 36.9h0M186.04 46.63h0M113.5 52.53h0M176.02 84.09h0M117.39 52.92h0M154.24 98.89h0M172.36 58.43h0M139.8 71.82h0M153.14 93.41h0M126.55 71.86h0M183.42 48.92h0M119.02 64.6h0M134.76 82.58h0M124.5 85.2h0M124.64 37.84h0M169.49 35.05h0M171.16 63.88h0M110.9 81.34h0M188.82 52.34h0M145.49 31.92h0M181.58 68.2h0M127.61 38.69h0M160.57 42.07h0M185.26 70.4h0M189.59 35.43h0M131.33 83.26h0M160.47 32.01h0M129.86 87.15h0M155.86 81.79h0M187.43 72.43h0M165.79 78.08h0M161.06 37.46h0M139.74 59.03h0M116.25 87.66h0M170.29 79.91h0M172.98 69.47h0M145.99 33.71h0M159.37 53.97h0M162.55 91.26h0M124.56 102.22h0M133.07 52.53h0M118.48 93.42h0M120.51 87.94h0M181.93 73.92h0M166.35 24.31h0M120.98 78.92h0M127.71 96.22h0M113.75 30.55h0M187.23 53.92h0M114.87 93.89h0M126.63 70.69h0M110.39 64.67h0M122.03 65.27h0M168.73 52.69h0M150.04 48.35h0M133.4 89.52h0M165.55 60.9h0M163.22 62.44h0M111.91 90.07h0M187.33 75.26h0M160.67 81.91h0M169.77 87.99h0M122.23 28.36h0M117.89 86.11h0M132.95 94.09h0M113.37 30.92h0M140.14 78.11h0M166.25 35.39h0M171.99 70.32h0M130.57 84.17h0M113.43 74.2h0M146.24 36.1h0M138.91 64.52h0M143.38 101.43h0M112.35 91.65h0M177.65 33.04h0M146.2 96.36h0M142.37 94.21h0M121.68 67.19h0M184.57 44.23h0M111.06 73.01h0M182.27 45.56h0M160.86 83.4h0M166.57 97.95h0M124.51 53.53h0M119.16 46.98h0M135.9 42.18h0M113.28 69.33h0M158.22 29.27h0M120.49 31.44h0M168.91 53.5h0M117.97 51.04h0M187.68 28.38h0M110.95 54.72h0M164.99 37.33h0M175.58 99.86h0M159.86 41.75h0M138.97 93.04h0M166.78 89.38h0M143.61 66.39h0M170.97 96.75h0M184.03 24.09h0M119.3 73.92h0M172.48 48.3h0M129.45 81.81h0M134.25 60.31h0M162.92 98.91h0M127.79 29.3h0M137.24 51.63h0M167.52 48.68h0M162.58 35.09h0M133.55 27.81h0M153.07 90.24h0M131.44 56.23h0M170.42 54.27h0M153.14 68.45h0M178.82 68.76h0M168.88 53.53h0M170.18 54.55h0M185.22 44.37h0M115.54 78.04h0M131.66 68.18h0M159.82 29.69h0M149.69 36.16h0M150.25 90.2h0M128.52 60.05h0M121.21 36.29h0M113.33 92.06h0M159.48 24.83h0M110.23 81.63h0M139.2 40.68h0M183.53 99.27h0M173.27 23.7h0M181.45 68.64h0M132.71 64.43h0M159.49 38.58h0M188.44 73.15h0M140.49 70.79h0M162.01 49.14h0M151.99 74.69h0M173.25 67.76h0M185.41 38.21h0M154.12 69.4h0M110.7 100.48h0M175.99 35.74h0M131.42 65.32h0M116.02 48.33h0M115.24 97.05h0M117.87 55.2h0M180.21 25.77h0M146.27 48.25h0M182.11 29.64h0M171.19 78.63h0M148.99 27.16h0M160.77 54.85h0M119.4 30.93h0M142.92 101.58h0M135.71 65.92h0M117.04 92.75h0M150.39 66.48h0M154.52 82.23h0M127.14 80.29h0M118.02 91.5h0M135.25 50.23h0M121.22 89.93h0M116.01 86.05h0M162.41 24.86h0M111.66 96.11h0M154.5 50.7h0M135.97 24.87h0M133.99 26.12h0M174.25 87.97h0M183.93 45.25h0M185.21 47.31h0M180.69 82.96h0M162.06 32.35h0M175.82 90.26h0M188.85 97.07h0M125.71 83.28h0M118.92 34.18h0M168.13 40.04h0M118.57 73.5h0M125.67 84h0M159.58 54.71h0M151.68 83.21h0M125.58 48.73h0M169.02 85.58h0M123.96 50.91h0M165.29 59.91h0M183.71 101.76h0M144.08 56.68h0M171.02 95.77h0M168.84 84.49h0M186.48 69.59h0M113.8 68.58h0M148.86 74.32h0M157.68 53.21h0M132.24 49.26h0M181.29 76.63h0M110.8 76.91h0M117.9 89.19h0M147.39 36.82h0M114.47 50.92h0M182.5 30.6h0M186.47 38.55h0M135.21 28.92h0M135.91 78.21h0M137.46 78.3h0M180.54 87.55h0M123.7 76.37h0M118.09 68.94h0M168.53 31.21h0M113.34 50.59h0M151.83 81.41h0M164.4 37.15h0M137.29 67.08h0M159.47 34.2h0M144.73 41.65h0M135.63 102.35h0M163.71 57.79h0M142.02 43.05h0M159.39 46.72h0M166.24 27.73h0M127.78 74.66h0M173.7 25h0M114.3 60.09h0M171.85 70.81h0M120.49 63.44h0M168.55 51.95h0M145.19 39.02h0M120.74 26.77h0M162.42 89.19h0M166.28 76.26h0M172.74 101.31h0M126.64 56.61h0M163.41 64.9h0M189.51 60.45h0M134.52 66.17h0M143.72 89.49h0M140.5 82.18h0M135.25 58.76h0M111.15 84.53h0M115.32 33.05h0M139.15 40.35h0M167.61 102.29h0M139.04 51.58h0M146.44 99.12h0M162.51 64.83h0M170.94 41.73h0M167.1 45.57h0M142.24 84.03h0M121.66 71.75h0M121.1 100.75h0M127.17 81.59h0M179 31.31h0M144.73 97.14h0M144.48 40.05h0M115.65 87.24h0M128.13 25.17h0M161.03 36.61h0M183.75 27.67h0M137.66 42.68h0M132.8 95.07h0M129.58 24.64h0M143.61 33.42h0M183.34 51.14h0M162.43 99.68h0M140.38 90.93h0M153.7 70.45h0M119.24 92.84h0M157.31 89.21h0M134.38 85.48h0M150.34 57.53h0M125.3 91.14h0M136.18 48.39h0M114.52 34.88h0M137.58 85.95h0M132.82 78.37h0M139.21 32.41h0M136.88 45.16h0M189.22 59.8h0M181.7 87.23h0M144.66 48.6h0M131.06 38.35h0M153.42 87.36h0M154.13 25.37h0M170.56 29.73h0M128.12 59.08h0M110.31 54.03h0M117.67 64.49h0M184.58 44.38h0M158.58 99.2h0M168.43 77.42h0M110.93 61.5h0M164.37 32.67h0M134.37 48.4h0M110.4 44.53h0M131.45 94.15h0M114.5 40.39h0M157.16 87.64h0M146.78 97.33h0M148.59 62.38h0M154.93 30.03h0M164.01 55.94h0M137.07 65.08h0M124.72 40.85h0M184.63 80.49h0M124.34 41.77h0M122.74 49.75h0M110.85 32.75h0M187.57 102.54h0M118.54 95.67h0M175.63 63.31h0M187.46 33.62h0M128.26 61.6h0M184.82 68.75h0M140.12 44.83h0M161.26 46.88h0M174.76 86.71h0M158.35 84.27h0M132.54 59.36h0M147.11 70.24h0M178.97 33.95h0M132.18 82.47h0M163.96 69.76h0M159.96 50.31h0M162.25 102.91h0M118.84 67.08h0M137.56 76.27h0M183.14 52.26h0M163.01 66.48h0M155.33 29.31h0M128.1 80.58h0M179.06 45.33h0M144.85 23.69h0M141.46 46.79h0M117.01 92.43h0M126.86 82.53h0M134.33 46.59h0M154.85 87.9h0M158.88 99.58h0M159.03 35.27h0M112.5 53.2h0M121.06 46.45h0M134.29 65.81h0M115.19 52.76h0M143.25 101.54h0M126.59 56.91h0M140.78 43.88h0M145.56 44.16h0M128.43 32.88h0M187.93 59.42h0M144.57 64h0M143.09 98.16h0M169.79 48.83h0M184.37 27.33h0M117.12 63.49h0M135.4 79.4h0M171.27 31.17h0M117.81 50.89h0M186.21 72.62h0M118.35 55.39h0M163.06 36h0M111.95 35.79h0M156.4 42.76h0M139.7 43.6h0M168.51 41.64h0M130.15 61.65h0M189.41 23.67h0M113.34 92.45h0M187.26 52.38h0M188.39 95.43h0M136.88 60.04h0M130.46 52.73h0M177.26 86.79h0M123.85 31.1h0M118.64 51.41h0M121.36 23.76h0M142.92 51.36h0M135.71 82.86h0M125.87 76.61h0M150.61 101.6h0M136.51 36.71h0M152.38 66.21h0M132.06 55.09h0M114.84 94.52h0M111.48 47.96h0M185.77 25.78h0M144.49 56.07h0M146.03 94.35h0M178.6 81.1h0M122.89 53.73h0M183.6 47h0M165.86 90.18h0M177.47 86.17h0M170.96 49.89h0M184.85 97.34h0M163.54 25.3h0M160.69 96.14h0M140.47 39.06h0M110.4 37.77h0M113.87 36.78h0M132.34 86.94h0M121.19 89.29h0M135.38 45.44h0M188.92 80.92h0M143.07 54.43h0M161.27 25.54h0M153.95 49.58h0M182.81 26.2h0M114.53 102.19h0M166.43 95.74h0M171.38 76.92h0M169.46 81.24h0M126.99 58.36h0M110.33 72.26h0M164.38 92.03h0M188.91 45.53h0M135.95 71.26h0M162.12 62.76h0M174.58 92.21h0M139.97 50.62h0M122.01 32.19h0M124.48 101.5h0M153.04 87.85h0M182.2 64.23h0M177.24 72.58h0M177.74 40.94h0M185.11 80.43h0M163.14 32.92h0M148.5 56.92h0M171.81 50.93h0M171.99 79.39h0M176.65 85.74h0M131.08 36.04h0M118.22 99.89h0M152.8 45.74h0" stroke="#6c74c4" stroke-width="1.3" stroke-linecap="round" opacity="0.5" fill="none"/>
<path d="M110.68 60.22h0M117.43 93.8h0M156.05 97.95h0M143.09 98.79h0" stroke="#a06048" stroke-width="1" stroke-linecap="round" opacity="0.6" fill="none"/>
<path d="M130.71 92.17h0M120.53 64.23h0M119.96 102.61h0M141.71 74.49h0" stroke="#a06048" stroke-width="1.3" stroke-linecap="round" opacity="0.6" fill="none"/>
<path d="M130.58 94.56h0" stroke="#a06048" stroke-width="1.6" stroke-linecap="round" opacity="0.6" fill="none"/>
<path d="M110,93L115,95L116,103H110Z" fill="#fff"/>
</g>
<g clip-path="url(#hc7)">
<rect x="145" y="23" width="45" height="45" fill="#e9e5ec"/>
<rect x="145" y="23" width="45" height="45" fill="#fff" filter="url(#n4)"/>
<g fill="#a898b8" opacity="0.7"><ellipse cx="151.43" cy="34.24" rx="2.59" ry="2.34" transform="rotate(99 151.43 34.24)"/><ellipse cx="181.58" cy="65.61" rx="3.07" ry="2.27" transform="rotate(21 181.58 65.61)"/><ellipse cx="164.87" cy="53.54" rx="2.75" ry="2.71" transform="rotate(167 164.87 53.54)"/><ellipse cx="189.59" cy="53.67" rx="2.69" ry="2.61" transform="rotate(50 189.59 53.67)"/><ellipse cx="156.33" cy="58.22" rx="2.89" ry="2.16" transform="rotate(117 156.33 58.22)"/><ellipse cx="147.52" cy="46.12" rx="2.79" ry="2.6" transform="rotate(152 147.52 46.12)"/><ellipse cx="157.24" cy="43.42" rx="3.03" ry="2.1" transform="rotate(25 157.24 43.42)"/></g>
<g fill="#3444b0" opacity="0.85"><ellipse cx="168.8" cy="48.47" rx="0.83" ry="0.98" transform="rotate(147 168.8 48.47)"/><ellipse cx="186.66" cy="67.12" rx="0.98" ry="0.87" transform="rotate(4 186.66 67.12)"/><ellipse cx="160.34" cy="53.77" rx="1.29" ry="0.62" transform="rotate(160 160.34 53.77)"/><ellipse cx="168.86" cy="58.76" rx="0.9" ry="0.75" transform="rotate(64 168.86 58.76)"/><ellipse cx="180.06" cy="34.22" rx="1.36" ry="0.66" transform="rotate(173 180.06 34.22)"/><ellipse cx="176.12" cy="46.87" rx="1.43" ry="1.02" transform="rotate(98 176.12 46.87)"/><ellipse cx="173.53" cy="33.78" rx="1.37" ry="0.58" transform="rotate(79 173.53 33.78)"/><ellipse cx="151.98" cy="44.55" rx="1.05" ry="0.66" transform="rotate(62 151.98 44.55)"/><ellipse cx="159.49" cy="44.37" rx="0.91" ry="0.68" transform="rotate(55 159.49 44.37)"/><ellipse cx="153.97" cy="57.11" rx="1.26" ry="0.94" transform="rotate(97 153.97 57.11)"/><ellipse cx="171.66" cy="46.6" rx="1" ry="0.65" transform="rotate(94 171.66 46.6)"/><ellipse cx="163.59" cy="40.53" rx="1.43" ry="0.64" transform="rotate(16 163.59 40.53)"/><ellipse cx="166.65" cy="56.87" rx="1.22" ry="0.84" transform="rotate(49 166.65 56.87)"/><ellipse cx="159.45" cy="35.16" rx="0.88" ry="0.73" transform="rotate(127 159.45 35.16)"/><ellipse cx="156.69" cy="31.94" rx="1.17" ry="0.68" transform="rotate(42 156.69 31.94)"/><ellipse cx="146.9" cy="42.84" rx="0.89" ry="0.64" transform="rotate(141 146.9 42.84)"/><ellipse cx="146.53" cy="58.81" rx="1.39" ry="0.69" transform="rotate(16 146.53 58.81)"/><ellipse cx="163.9" cy="64.9" rx="1.2" ry="0.69" transform="rotate(124 163.9 64.9)"/><ellipse cx="162.39" cy="32.32" rx="1.12" ry="0.85" transform="rotate(25 162.39 32.32)"/><ellipse cx="180.81" cy="53.32" rx="1.04" ry="0.94" transform="rotate(107 180.81 53.32)"/><ellipse cx="156.03" cy="56.38" rx="1.41" ry="0.96" transform="rotate(79 156.03 56.38)"/><ellipse cx="169.47" cy="56.99" rx="1.26" ry="0.82" transform="rotate(31 169.47 56.99)"/><ellipse cx="177.7" cy="32.82" rx="0.92" ry="0.73" transform="rotate(67 177.7 32.82)"/><ellipse cx="158.59" cy="55.34" rx="1.02" ry="0.79" transform="rotate(90 158.59 55.34)"/><ellipse cx="173.03" cy="54.85" rx="1.02" ry="0.68" transform="rotate(127 173.03 54.85)"/><ellipse cx="182.02" cy="63.68" rx="1.23" ry="0.75" transform="rotate(67 182.02 63.68)"/><ellipse cx="154.23" cy="35.35" rx="1.13" ry="0.69" transform="rotate(138 154.23 35.35)"/><ellipse cx="181.84" cy="34.69" rx="1.37" ry="0.67" transform="rotate(68 181.84 34.69)"/><ellipse cx="163.15" cy="26.27" rx="1.06" ry="0.99" transform="rotate(54 163.15 26.27)"/><ellipse cx="177.83" cy="53.62" rx="1.03" ry="0.83" transform="rotate(168 177.83 53.62)"/><ellipse cx="158.3" cy="67.48" rx="0.78" ry="0.78" transform="rotate(101 158.3 67.48)"/><ellipse cx="179.08" cy="36.17" rx="0.87" ry="0.57" transform="rotate(170 179.08 36.17)"/><ellipse cx="186.85" cy="44.99" rx="1.15" ry="1.04" transform="rotate(151 186.85 44.99)"/><ellipse cx="187.21" cy="24.64" rx="1.29" ry="1.03" transform="rotate(120 187.21 24.64)"/><ellipse cx="175.34" cy="61.05" rx="1.43" ry="0.74" transform="rotate(170 175.34 61.05)"/><ellipse cx="149.61" cy="38.06" rx="0.94" ry="0.7" transform="rotate(157 149.61 38.06)"/><ellipse cx="154.99" cy="54.58" rx="1.25" ry="0.57" transform="rotate(168 154.99 54.58)"/><ellipse cx="171.59" cy="58.77" rx="0.95" ry="0.99" transform="rotate(72 171.59 58.77)"/><ellipse cx="175.13" cy="56.51" rx="1.14" ry="0.82" transform="rotate(95 175.13 56.51)"/><ellipse cx="178.96" cy="30.86" rx="1.18" ry="0.95" transform="rotate(43 178.96 30.86)"/><ellipse cx="150.29" cy="66.12" rx="1.13" ry="0.66" transform="rotate(55 150.29 66.12)"/><ellipse cx="146.06" cy="56.47" rx="0.89" ry="0.61" transform="rotate(109 146.06 56.47)"/><ellipse cx="153.92" cy="64.5" rx="1.11" ry="0.71" transform="rotate(137 153.92 64.5)"/><ellipse cx="160.19" cy="65.38" rx="1.37" ry="0.99" transform="rotate(104 160.19 65.38)"/><ellipse cx="171.72" cy="30.49" rx="0.96" ry="0.6" transform="rotate(5 171.72 30.49)"/><ellipse cx="184.15" cy="50.07" rx="1.14" ry="1.01" transform="rotate(35 184.15 50.07)"/></g>
<g fill="#7a3a22" opacity="0.9"><ellipse cx="187.76" cy="30.86" rx="1.75" ry="1.36" transform="rotate(99 187.76 30.86)"/><ellipse cx="156.18" cy="47.67" rx="1.77" ry="1.13" transform="rotate(175 156.18 47.67)"/><ellipse cx="154.06" cy="31.89" rx="1.77" ry="1.07" transform="rotate(86 154.06 31.89)"/><ellipse cx="169.81" cy="50.18" rx="1.59" ry="1.28" transform="rotate(92 169.81 50.18)"/><ellipse cx="160.17" cy="30.5" rx="1.54" ry="1.13" transform="rotate(104 160.17 30.5)"/><ellipse cx="158.41" cy="62.39" rx="1.58" ry="1.07" transform="rotate(122 158.41 62.39)"/><ellipse cx="165.17" cy="65.01" rx="1.77" ry="1.3" transform="rotate(99 165.17 65.01)"/><ellipse cx="179.27" cy="37.9" rx="1.84" ry="1.29" transform="rotate(17 179.27 37.9)"/><ellipse cx="176.78" cy="24.61" rx="1.53" ry="1.23" transform="rotate(93 176.78 24.61)"/><ellipse cx="149.85" cy="60.92" rx="1.51" ry="1.03" transform="rotate(116 149.85 60.92)"/><ellipse cx="170.96" cy="32.1" rx="1.51" ry="1.06" transform="rotate(147 170.96 32.1)"/><ellipse cx="187.53" cy="38.31" rx="1.45" ry="1.34" transform="rotate(176 187.53 38.31)"/><ellipse cx="167.55" cy="61.59" rx="1.71" ry="1.32" transform="rotate(91 167.55 61.59)"/><ellipse cx="150.02" cy="33.84" rx="1.51" ry="1.19" transform="rotate(34 150.02 33.84)"/><ellipse cx="181.3" cy="29.55" rx="1.48" ry="1.33" transform="rotate(146 181.3 29.55)"/></g>
<path d="M175.45 40.17h0M157.97 43.5h0M173.52 61.36h0M149.13 62.54h0M179.01 44.91h0M169.41 58.86h0M146.63 66.02h0M165.85 25.1h0" stroke="#9a8aa8" stroke-width="1" stroke-linecap="round" opacity="0.5" fill="none"/>
<path d="M167.17 36.23h0M146.85 48.98h0M172.26 64.59h0M166.67 23.55h0M151.83 45.49h0M174.47 24.8h0M157.27 26.54h0M161.57 63.09h0M187.89 50.86h0M180.28 35.68h0M184.58 63.44h0M180.51 41.44h0M177.7 39.37h0" stroke="#9a8aa8" stroke-width="1.3" stroke-linecap="round" opacity="0.5" fill="none"/>
<path d="M156.13 40.41h0M177.53 58.95h0M148.78 23.09h0M153.51 33.92h0M171.98 32.9h0M176.07 60.7h0M181.37 32.57h0M184.65 25.13h0M165.28 49.99h0M165.85 34.11h0M176.97 40.51h0M175.36 46.25h0M145.88 30.49h0M159.51 49.34h0M156.04 39.35h0M175.77 30.11h0M174.14 65.4h0M189.76 45.88h0M150.2 56.61h0" stroke="#9a8aa8" stroke-width="1.6" stroke-linecap="round" opacity="0.5" fill="none"/>
</g>
<g clip-path="url(#hc8)">
<rect x="195" y="23" width="80" height="80" fill="#e8e6ef"/>
<g filter="url(#hb9)" fill="#cfbcad" opacity="0.9"><ellipse cx="212" cy="51" rx="11" ry="24" transform="rotate(28 212 51)"/><ellipse cx="239" cy="41" rx="7" ry="14" transform="rotate(35 239 41)"/><ellipse cx="205" cy="85" rx="5" ry="12" transform="rotate(20 205 85)"/><ellipse cx="227" cy="87" rx="11" ry="17" transform="rotate(20 227 87)"/><ellipse cx="251" cy="87" rx="9" ry="15" transform="rotate(15 251 87)"/><ellipse cx="269" cy="83" rx="7" ry="16" transform="rotate(10 269 83)"/><ellipse cx="198" cy="28" rx="5" ry="6" transform="rotate(0 198 28)"/></g>
<path d="M204.31 102.99h0M229.02 33.05h0M244.45 44.07h0M227.29 48.61h0M271.92 49.68h0M245.86 41.13h0M235.74 95.29h0M204.14 92.31h0M220.64 65.15h0M233.61 50.7h0M274.54 78.43h0M245.55 28.02h0M234.6 43.49h0M217.8 55.43h0M248.53 66.59h0M212.79 100.57h0M218.5 70.85h0M204.88 92.77h0M213.82 25.27h0M202.32 95h0M234.81 45.47h0M214.98 58.5h0M205.7 93.56h0M205.29 102.9h0M217.58 77.53h0M267.95 74.14h0M197.96 34.07h0M258.12 49.09h0M195.94 40.49h0M237.17 80.15h0M203.95 63.9h0M274.51 64.93h0M268.39 68.37h0M233.23 58.7h0M195.93 58.16h0M240.36 97.73h0M265.07 33.42h0M217.36 99.51h0M248.06 55.01h0M247.85 73.32h0M212.6 87.82h0M215.75 63.7h0M273.05 94.19h0M224.45 80.14h0M214.1 93.49h0M214.06 101.88h0M248.47 77.65h0M211.59 82.45h0M202.55 35.03h0M251.93 59.94h0M249.06 24.18h0M225.91 81.78h0M262.46 101.02h0M231.45 27.19h0M206.43 75.84h0M204.88 53.24h0M235.87 62.61h0M258.8 68.7h0M241.49 92.52h0M195.24 35.24h0M234.88 62.94h0M207.37 42.65h0M196.19 92.63h0M198.14 29.33h0M206.9 61.29h0M206.79 97.26h0M265.37 31.19h0M252.18 30.81h0M225.07 42.89h0M260 85.21h0M259.6 72.4h0M207.08 62.21h0M246.13 102.58h0M246.64 73.56h0M228.86 87.73h0M264.71 62.07h0M222.88 61.97h0M242.45 66.68h0M262.77 99.06h0M260.83 70.19h0M229.27 69.98h0M196.43 31.9h0M213.6 72.13h0M220.75 48.47h0M212.56 79.28h0M249.25 100.32h0M199.69 24.33h0M241.6 75.96h0M196.04 35.02h0M261.13 27.17h0M208.96 71.6h0M241.49 62.5h0M196.21 95.87h0M203.48 27.9h0M268.24 96.08h0M207.03 31.58h0M271.94 97.95h0M210.09 53.73h0M245.93 48.35h0M261.88 85h0M230.98 34.15h0M229.61 60.41h0M199.1 24.69h0M229.32 97.77h0M218.23 98.68h0M242.78 53.63h0M266.82 98.03h0M238.47 70.8h0M203.21 61.16h0M262.46 100.64h0M235.94 37.66h0M202.72 48.7h0M248.66 42.37h0M263.57 94.93h0M243.08 28.27h0M266.91 47.04h0M215.52 80.38h0M239.41 44.69h0M265.48 27h0M196.08 27.6h0M238.34 38.55h0M270.03 45.93h0M230.12 61.69h0M239.33 97.2h0M274.41 71.51h0M246.05 44.28h0M233.05 52.88h0M270.62 96.25h0M262.63 60.78h0M227.02 98.56h0M224.33 61.94h0M241.17 73.81h0M237.64 28.22h0M233.06 74.99h0M197.49 55.1h0M250.98 100h0M220.93 65.72h0M243.21 71.8h0M213.27 92.78h0M206.99 49.06h0M233.81 36.49h0M257.85 97.44h0M233.3 25.06h0M218.92 35.2h0M267.26 28.7h0M247.77 32.6h0M242.62 91.14h0M252.45 98.74h0M226.83 30.97h0M234.39 51.6h0M264.62 25.18h0M263.92 94.67h0M225.83 92.94h0M233.02 30.13h0" stroke="#bb9c88" stroke-width="0.7" stroke-linecap="round" opacity="0.35" fill="none"/>
<path d="M256.41 43.77h0M211.1 62.68h0M259.29 43.3h0M205.01 52.09h0M226.68 59.77h0M248.49 45.71h0M198.09 100.78h0M251.38 84.85h0M236.09 29.02h0M270.38 36.6h0M207.82 64.05h0M225.15 37.9h0M267.59 58.72h0M239.56 41.34h0M208.75 74.68h0M251.18 60.34h0M203.96 28.8h0M207.15 51.64h0M220.26 93.58h0M269.2 73.47h0M243.21 78.13h0M253.43 102.36h0M230.02 99.51h0M210.34 69.17h0M234.49 65.22h0M260.58 77.33h0M225.78 94.21h0M245.65 101.36h0M195.85 66.59h0M253.13 86.14h0M247.37 51.05h0M258.69 95.7h0M218.9 70.8h0M266.04 82.05h0M218.79 65.74h0M229.1 89.27h0M251.44 97.48h0M230.68 58.28h0M258.55 33.36h0M255.23 56.03h0M213.1 41.19h0M237.33 46.44h0M273.8 58.23h0M241.01 51.82h0M272.65 52.97h0M237.26 32.42h0M202.01 92.6h0M230.91 73.55h0M242.16 47.83h0M248.81 100.52h0M262.26 90.53h0M273.28 67.48h0M245.53 41.63h0M221.95 65.87h0M237.81 28.93h0M253.87 91.68h0M228.24 52.31h0M268.2 85.31h0M210.52 67.2h0M197.99 35.91h0M199.66 97.3h0M256.08 62.64h0M228.84 37.3h0M222.89 66.98h0M272.69 66.35h0M271.87 76.73h0M210.91 92.46h0M237.32 79.92h0M207.19 80.25h0M203.67 78.1h0M263.01 35.56h0M254.14 92.27h0M274.47 68.58h0M253.24 80.11h0M265.3 67.82h0M202.12 51.63h0M233.74 37.2h0M208.47 99.64h0M260.63 92.58h0M229.1 41.14h0M224.46 93.54h0M264.37 74.81h0M239.43 66.73h0M213.34 63.31h0M269.87 31.79h0M209.27 35.02h0M270.48 100.34h0M218.31 102.8h0M260.49 76.85h0M226.79 53.27h0M251.9 25.84h0M235.22 35.95h0M231.28 47.38h0M256.34 69.64h0M203.5 102.06h0M238.88 84.91h0M274.12 44.32h0M249.68 69.74h0M226.91 95.16h0M257.35 42.16h0M200.02 102.41h0M208.82 28.6h0M256.44 70.3h0M203.31 55.37h0M197.02 79.15h0M240.88 63.39h0M254.52 27.86h0M269.02 39.1h0M219.35 28.69h0M228.41 74.51h0M250.44 49.84h0M232.25 56.3h0M208.3 80.8h0M236.97 54.94h0M264.38 33.32h0M213.85 60.26h0M233.87 60.18h0M214 78.5h0M232.64 40.09h0M244.63 83.38h0M249.58 75.64h0M236.34 95.48h0M262.8 39.12h0M219.03 27.14h0M269.32 69.41h0M242.95 32.46h0M207.58 66.15h0M207.66 41.24h0M249.94 48.02h0M268.49 85.56h0M230.59 101.74h0M229.24 49.71h0M237.74 92.51h0M198.81 35.95h0M213.76 35.77h0M213.82 101.3h0M256.8 26.18h0M245.01 101.42h0M204.27 33.77h0M269.77 84.57h0M246.41 86.95h0M240.97 47.63h0M220.69 27.76h0M241.81 24.93h0M247.6 64.14h0M264.53 29.5h0M258.68 61.98h0M249.68 76.64h0M259.84 70.68h0M209.13 52.47h0M210.82 74.5h0M198.74 33.11h0M230.41 89.51h0M223.23 64.3h0M263.06 95.64h0M237.24 98.18h0M250.77 74.86h0M262.87 59.75h0M258.55 53.17h0M231.85 101.79h0M199.76 56.03h0M213.49 79.4h0M203.37 48.65h0M271.08 48.5h0M212.99 79.19h0M236.23 70.23h0M199.88 34.12h0M248.09 64.44h0M273.65 82.68h0M249.45 95.76h0M230.48 58.14h0M235.71 57.26h0M195.43 25.67h0M250.76 57.84h0M226.34 97.9h0M223.92 35.08h0" stroke="#bb9c88" stroke-width="0.95" stroke-linecap="round" opacity="0.35" fill="none"/>
<path d="M211.5 64.85h0M266.25 25.81h0M211.82 85.92h0M269.91 37.71h0M260.95 49.32h0M258.65 55.78h0M207.19 28.74h0M204.26 60.93h0M272.99 68.78h0M237.32 41.28h0M259.25 101.96h0M220.83 32.35h0M207.2 39.39h0M222.59 74.96h0M212.62 82.84h0M199.56 31.45h0M215.83 98.05h0M237.84 90.31h0M225.14 72.63h0M243.26 55.96h0M201.35 47.16h0M196.73 73.39h0M236.4 26.56h0M259.23 74.36h0M228.45 45.05h0M266.74 67.7h0M244.99 82.95h0M255.45 102.63h0M262.96 53.46h0M214.03 46.92h0M210.42 42.56h0M268.24 32.15h0M268.66 46.2h0M244.34 64.66h0M257.56 32.68h0M224.82 67.41h0M265.24 38.59h0M224.45 52.94h0M245.36 97.14h0M234.17 59.28h0M262.61 52.31h0M205.79 101.11h0M256.07 38.66h0M232.11 85.28h0M259.53 80.12h0M218.93 48.37h0M195.55 63.16h0M258.78 49.07h0M259.71 39.08h0M240.08 79.89h0M231.69 63.97h0M273.08 69.73h0M248.75 49.25h0M207.3 51.91h0M272.07 43.41h0M245.24 29.99h0M221.39 92.58h0M239.98 84.96h0M236.58 58.36h0M206.91 84.55h0M255.14 40.18h0M274.47 28.15h0M270.56 75.54h0M211.16 78.51h0M274.05 37.05h0M258.61 57.54h0M270.19 55.42h0M270.02 24.55h0M233.02 42.93h0M224.41 88.23h0M215.04 102.78h0M265.71 82.9h0M256.14 84.39h0M243.71 34.7h0M254.49 48.88h0M223.4 56.15h0M220.87 80.02h0M255.52 46.53h0M216.61 54.86h0M199.41 94h0M274.58 82.27h0M216.32 29.43h0M244.59 29.56h0M210.54 55.1h0M236.47 57.47h0M204.98 73.83h0M224.01 58.57h0M208.26 86.99h0M234.18 29.68h0M202.78 84.55h0M260.82 79.85h0M218.39 60.15h0M200.25 91.28h0M210.15 57.54h0M235.5 52.37h0M218.01 100.47h0M214.84 28.93h0M263.9 27.24h0M253.24 31.62h0M245.59 34.49h0M199.44 83.98h0M206.42 24.6h0M249.84 85.53h0M238.71 66.51h0M232.94 101.67h0M236.02 37.94h0M242.86 94.18h0M269.06 37.87h0M266.49 72.38h0M209.43 73.16h0M199.99 36.04h0M227.97 100.91h0M263.06 41.09h0M211.2 28.46h0M259.19 65.16h0M233.03 57.17h0M237.84 70.74h0M236.11 57.32h0M207.91 47.41h0M262.03 38.3h0M216.52 80.65h0M247.21 23.1h0M197 43.36h0M231.45 94.88h0M261.55 53.38h0M255.4 25.04h0M255.33 86.95h0M215.6 79.27h0M255.32 56.54h0M224.97 74.68h0M208.51 56.11h0M230.37 98.08h0M248.34 58.29h0M252.51 96.12h0M226.62 46.64h0M248.49 89.61h0M214.34 63.71h0M196.25 81.17h0M258.63 31.11h0M218.35 48.42h0M213.71 55.08h0M204.43 78.92h0M254.17 70.63h0M211.22 88.78h0M227.73 48.78h0M265.67 83.91h0M274.33 61.37h0M243.21 77.25h0M237.21 63.03h0M248.26 71.02h0M221.24 31.58h0M225.35 95.04h0M233.75 61.67h0M237.81 76.66h0M236.9 62.19h0M274.39 35.75h0M196.46 38h0M225.47 73.33h0M260.63 49.99h0M268.12 90.55h0M250.73 56.9h0M272.27 98.98h0M242.19 96.52h0M253.77 52.04h0M232.25 30.33h0M251.19 57.35h0M216.48 43.8h0M261.34 96.23h0M232.07 62.69h0M243.08 39.78h0" stroke="#bb9c88" stroke-width="1.2" stroke-linecap="round" opacity="0.35" fill="none"/>
<rect x="195" y="23" width="80" height="80" fill="#fff" filter="url(#n5)"/>
<path d="M259.37 52.39h0M255.31 86.39h0M211.13 71.84h0M269.95 94.79h0M224.59 87.66h0M263.22 57.61h0M241.6 27.42h0M219.22 26.67h0M206.26 59.64h0M270.34 37.23h0M224.54 28.35h0M212.81 60.63h0M258.82 90.26h0M234.7 67.48h0M245.22 55.05h0M242.11 84.76h0M265.21 26.44h0M250.53 82.98h0M200.03 49.24h0M200.76 93.88h0M215.21 56.71h0M215.75 61.02h0M229.05 49.48h0M217.42 39.11h0M248.59 47.22h0M232.33 89.23h0M255.4 70.59h0M243.42 24.64h0M251.89 25.64h0M226.51 81.8h0M238.73 79.1h0M259.85 84.15h0M256.83 32.71h0M238.61 36.36h0M251.07 38.13h0M231.9 81.03h0M230.75 92.77h0M217.55 58.41h0M198.25 39.46h0M209.83 50.71h0M241.47 39.19h0M243.07 39.22h0M271.33 69.71h0M215.07 47.8h0M237.87 91.21h0M241.57 25.85h0M200.69 79.18h0M273.57 28.91h0M264.59 66.67h0M231.11 38.84h0M255.07 46.06h0M222.77 54.48h0M247.35 85.09h0M240.88 93.94h0M199.85 52.11h0M274.55 62.74h0M266.58 99.87h0M205.1 35.71h0M274.89 48.66h0M260.61 68.77h0M212.06 92.51h0M258.41 23.05h0M238.14 94.12h0M239.97 65.89h0M251.87 31.04h0M203.17 56.51h0M232.26 85.12h0M247.94 72.8h0M230.02 29.51h0M233.87 65.94h0M220.63 41.59h0M233.86 29.95h0M217.6 35.37h0M250.39 58.45h0M225.31 72.95h0M230.82 47.87h0M213.29 89.21h0M201.07 92.87h0M228.64 37.34h0M227.14 52.23h0M266.32 89.38h0M243.22 60.3h0M227.72 23.57h0M209.23 74.41h0M206.57 76.56h0M247.89 47.42h0M216.39 70.28h0M272.98 96.83h0M224.96 66.58h0M206.32 44.99h0M260.54 102.82h0M258.61 96.34h0M265.71 98.65h0M223.1 32.25h0M196.53 89.59h0M246.98 64.22h0M238.93 88.95h0M260.67 45.34h0M242.88 43.63h0M218.3 65.56h0M249.02 49h0M234.58 84.41h0M222.92 57.13h0M258.23 95.17h0M259.24 25.45h0M235.56 50.94h0M209.88 44.81h0M237 94.48h0M198.91 57.89h0M221.58 38.45h0M251.34 25.86h0M243.08 78.9h0M205.33 59.71h0M200.39 65.53h0M225.03 75h0M219.91 88.27h0M218.57 23.33h0M206.83 64.99h0M265.01 23.09h0M197.58 74.21h0M205.92 90.43h0M239.68 58.62h0M223.36 64.07h0M206.63 35.31h0M237.71 34.13h0M274.5 81.68h0M239.25 89.7h0M208.63 66.86h0M198.5 70.29h0M274.66 35.85h0M253.32 45.37h0M242.92 80.37h0M264.18 83.85h0M252.55 88.21h0M270.76 82.78h0M199.83 76.1h0M202.35 42.49h0M220.76 97.09h0M203.34 91.93h0M256.9 99.6h0M234.97 86.54h0M274.33 58.25h0M250.21 40.83h0M232.96 64.35h0M224.38 70.77h0M249.9 91.48h0M220.87 97.97h0M231.46 31.37h0M243.77 34.31h0M218.79 58.31h0M269.7 33.99h0M264.77 97.2h0M246.94 87.86h0M269.67 57.61h0M245.2 50.34h0M204.16 84.86h0M249.15 28.96h0M240.8 37.85h0M235.51 76.76h0M214.78 102.5h0M223.55 82.76h0M240 49.42h0M196.26 56.78h0M244.27 54.24h0M223.27 99.95h0M243 42.53h0M253.85 63.73h0M269.34 71.81h0M266.43 102.94h0M206.9 63.99h0M224.15 27.52h0M262.95 56.2h0M232.57 33.35h0M209.69 62.06h0M246.12 26.3h0M225.1 38.25h0M263.14 94.48h0M226.9 39.74h0M248.96 30.56h0M258.81 83.62h0M256.62 50.82h0M248.69 26.37h0M250.45 72.3h0M220.73 96.66h0M219.1 99.44h0M269.94 45.66h0M234.02 80.5h0M206.45 33.92h0M224.28 44.64h0M211.61 48.04h0M235.71 100.81h0M231.07 59.76h0M233.64 53.74h0M239.6 65.55h0M257.54 101.86h0M203.83 71.73h0M254.31 48.99h0M271.45 67.54h0M250.65 71.76h0M216.85 57.06h0M199.8 36.87h0M248.86 52.47h0M208.24 86.21h0M215.84 97.54h0M248.79 43.76h0M258.32 101.37h0M250.61 30.1h0M228.25 91.8h0M197.75 34.37h0M253.48 53.25h0M195.06 74.47h0M258.47 62.92h0M222 95.84h0M198.46 87.44h0M268 24.24h0M239.74 42.75h0M209.03 99.61h0M259.88 86.77h0M247.28 75.13h0M211.23 54.62h0M244.08 71.18h0M249.85 50.93h0M251.34 75.19h0M272.38 37.5h0M223.56 37.33h0M267.98 87.58h0M219.45 42.7h0M228.32 57.46h0M197.66 29.67h0M220.88 83.37h0M257.85 69.4h0M271.51 37.65h0M201.08 88.22h0M252.03 76.72h0M235 42.2h0M239.38 57.39h0M223.18 63.68h0M197.96 82.5h0M261.08 26.72h0M202.93 88.93h0M219.4 23.99h0M225.19 96.85h0M226.43 95.36h0M232.03 40.82h0M254 62.73h0M208.68 65.5h0M262.74 26.59h0M271.61 95.35h0M231.77 48.21h0M195.44 75.52h0M266.58 69.79h0M246.37 40.5h0M251.86 28.54h0M199.17 63.88h0M266.05 96.91h0M272.18 58.27h0M203.63 51.83h0M253.48 82.46h0M201.66 30.15h0M261.54 23.84h0M224.12 99.6h0M250.91 69.91h0M203.37 94.99h0M270.15 58.03h0M235.1 96.35h0M231.44 90.42h0M226.05 79.34h0M274.31 43.09h0M273.38 72.13h0M254.31 36.05h0M250.94 70h0M195.51 93.27h0M223.87 98.87h0M216.42 98.38h0M254.62 98.16h0M243.11 35.11h0M234.66 98.25h0M210.65 53.99h0M234.29 94.29h0M208.37 35.07h0M262.27 67.05h0M199.14 82.52h0M204.43 45.96h0M253.97 79.88h0M244.37 61.08h0M226.01 40.7h0M234.28 93.58h0M199.22 83.7h0M265.81 83.23h0M246.71 33.68h0M245.84 102.03h0M237.6 101.74h0M257.08 53.43h0M245.58 63.98h0M273.49 35.49h0M258.62 23.47h0M262.79 102.58h0M231.23 64.99h0M236.27 43.13h0M227.79 100.66h0M248.28 86.4h0M228.7 38.53h0M262.4 83.82h0M240.64 93.88h0M197.51 46.41h0M265.94 32.34h0M242.85 74.86h0M249.17 96.06h0M215.61 65.32h0M197.98 66.24h0M241.47 83.66h0M197.77 36.93h0M269.5 27.96h0M206.52 35.73h0M234.05 65.51h0M248.84 70.02h0M222.28 74.01h0M238.72 84.31h0M213.78 60.13h0M269.06 59.74h0M204.53 102.2h0M258.04 62.81h0M231.47 60.28h0M239.92 70.02h0M256 69.03h0M242.69 40.26h0M260.73 47.3h0M211.95 28.95h0M234.05 37.91h0M248.15 94.2h0M222.53 94.19h0M232.39 35.01h0M250.22 30.19h0M265.2 75.57h0M253.28 97.06h0M203.18 98.17h0M197.33 52.75h0M263.29 34.09h0M220.36 48.59h0M260.41 93.45h0M217.11 54.71h0M269.98 96h0M261.05 57.72h0M248.6 88.67h0M219.05 32.69h0M210.46 62.57h0M229.93 86.45h0M241.61 45.77h0M213.53 73.05h0M267.8 64.05h0M215.43 89.29h0M214.84 65.13h0M241.41 51.93h0M249.23 41.44h0M266.71 54.23h0M219.56 100.83h0M234.48 99.16h0M233.15 102.72h0M258.4 54.98h0M241.39 48.07h0M248.98 90.34h0M247.53 97.09h0" stroke="#8c88c4" stroke-width="0.7" stroke-linecap="round" opacity="0.45" fill="none"/>
<path d="M258.69 40.82h0M229.1 89.25h0M256.92 34.23h0M200.14 37.54h0M248.94 28.22h0M206.16 33.45h0M241.61 99h0M269.33 33.77h0M268.08 74.86h0M212.71 90.18h0M232.38 81.05h0M210.8 50.33h0M218.24 66.16h0M255.68 94.35h0M226.36 37.93h0M245.74 43.34h0M252.65 99.65h0M272.79 81.16h0M273.4 36.86h0M242.5 43.88h0M239.51 41.38h0M253.67 49.53h0M238.42 72.97h0M269.93 29.38h0M226.94 47.9h0M219.87 39.01h0M218.55 86.29h0M269.96 60.73h0M242.22 65.19h0M222.15 26.89h0M196.4 59.98h0M271.86 36.01h0M224.39 31.59h0M269.24 92.22h0M223.11 68h0M220.5 64.88h0M262.95 98.28h0M244.69 93.99h0M224.74 91.94h0M204.69 32.22h0M236.72 58.62h0M227.86 79.48h0M208.64 79.02h0M219.63 96.83h0M265.64 30.15h0M232.2 72.98h0M250.84 79.63h0M239.92 88h0M201.46 80.93h0M253.17 44.62h0M199.77 55.75h0M197.62 52.1h0M272.15 58.33h0M197.5 23.49h0M255.21 77.9h0M201.45 45.45h0M257.38 30.05h0M226.12 92.8h0M264.33 40.7h0M274.51 72.1h0M254.13 27.71h0M260.28 63.37h0M202.07 47.94h0M266.97 90.97h0M245.78 59.2h0M208.7 30.28h0M252.95 49.29h0M220.92 84.26h0M271.57 81.2h0M254.95 41.77h0M257.28 80.02h0M269.33 58.82h0M271.32 90.87h0M231.91 35.1h0M222.69 30.79h0M212 71.51h0M264.75 62.06h0M217.02 45.16h0M234.74 85.67h0M202.28 39.03h0M210.74 85.33h0M201.07 85.13h0M211.05 33.2h0M268.02 51.45h0M270.44 70.76h0M273.33 66.29h0M238.2 30.76h0M196.45 87.54h0M254.95 40.91h0M256.66 25.84h0M255.68 97.99h0M225.34 57.72h0M221.51 45.31h0M223.95 24.91h0M250.19 33.79h0M224.19 63.81h0M203.58 35.17h0M203.08 86.5h0M228.36 45.3h0M225.88 55.22h0M208.12 96.9h0M244.67 57.12h0M229.3 60.52h0M198.33 42.39h0M229.28 34.19h0M238.62 60.68h0M274.16 55.16h0M196.23 70.91h0M211.01 92.15h0M215.98 55.18h0M208.28 81.24h0M257.3 74.05h0M211.53 68.66h0M204.12 80.6h0M210.64 39.89h0M274.69 39.75h0M270.3 55.41h0M273.65 30.71h0M204.53 36.39h0M221.94 47.02h0M222.01 51.34h0M255.73 71.76h0M259.75 47.39h0M236.09 50.01h0M228.97 33.38h0M248.65 87.67h0M218.45 69.34h0M214.62 37.89h0M263.41 74.07h0M256.12 88.95h0M217.68 100.72h0M243.95 75.56h0M211.29 37.36h0M201.78 73.27h0M247.78 54.7h0M248.66 74.84h0M265.1 100.79h0M220.62 63.12h0M206.2 45.14h0M226.31 61.45h0M228.22 48.07h0M209.17 52.65h0M240.74 71.24h0M207.38 23.32h0M253.51 97.94h0M245.26 25.7h0M212.2 65.49h0M247.47 49.44h0M254.94 83.12h0M213.52 62.13h0M226.67 93.63h0M247.7 58.3h0M203.84 37.11h0M206.28 26.47h0M247.21 79.91h0M258.27 69.91h0M245.71 29.05h0M240.52 48.64h0M210.92 52.24h0M263.34 43.96h0M230.17 79.18h0M238.71 34.24h0M243.25 65.26h0M203.44 98.7h0M244.86 98.31h0M260.98 87.41h0M230.32 98.63h0M253.2 28.84h0M266.55 53.67h0M235.81 59.18h0M263.56 56.58h0M273.99 49.96h0M243.49 81.16h0M270.36 96.57h0M238.76 99.31h0M242.15 93.66h0M265.66 87.66h0M251.77 96.78h0M237.75 80.79h0M233.2 50.26h0M247.7 100.76h0M273.99 69.66h0M240.66 63.14h0M248.79 43.92h0M246.66 79.39h0M243.49 36.98h0M220.15 74.02h0M274.96 65.7h0M222.89 40.17h0M225.57 41.5h0M259.08 39.98h0M232.1 69.82h0M271.26 45.49h0M249.59 71.56h0M196.54 93.46h0M235.51 94.22h0M230.85 78.86h0M243.78 49.44h0M255.79 42.93h0M215.74 62.48h0M201.83 93.48h0M244.97 23.32h0M271.03 43.88h0M249.3 84.23h0M239.37 34.07h0M201.63 53.96h0M246.16 76.98h0M203.66 42.24h0M233.99 46.63h0M266.7 44.77h0M238.62 97.41h0M242.49 77.02h0M264.91 75.58h0M235.34 73.17h0M213.93 83.98h0M199.77 61.57h0M245.66 32.93h0M201.37 101.64h0M255.06 94.97h0M243.12 58.57h0M246.48 62.88h0M217.5 48h0M204.2 76.28h0M215.04 41.36h0M225.41 56.99h0M254.26 40.09h0M219.98 37.19h0M265.44 26.74h0M249.87 50.48h0M213.28 70.1h0M210.8 69.46h0M246.18 99.07h0M240.72 25.92h0M231.98 96.45h0M231.55 45.24h0M222.85 79.06h0M254.59 53.58h0M250.66 50.08h0M196.68 28.06h0M239.33 62.5h0M245.23 90.57h0M246.53 93.23h0M196.67 57.45h0M262.64 42.52h0M267.07 26.25h0M246.65 64.89h0M242.48 56.11h0M219.16 36.03h0M203.38 84.41h0M216.74 84.78h0M196.57 77.96h0M267.07 38.13h0M241.95 83.12h0M214.58 47.66h0M199.52 30.14h0M248.09 41.96h0M219.1 50.15h0M269.46 81.14h0M261.6 40.98h0M207.31 67.54h0M208 36.27h0M204.32 41.37h0M211.6 64.94h0M226.86 73.75h0M207.95 64.19h0M199.58 26.13h0M197.72 50.35h0M239.68 102.95h0M252.13 94.18h0M232.11 57.37h0M227.93 71.74h0M221.88 67.56h0M229.74 46.94h0M260.06 79.17h0M239.54 30.23h0M269.15 88.52h0M255.99 78.82h0M231.66 23.94h0M228.03 87.23h0M219.51 49.7h0M237.23 31.88h0M253.62 63.36h0M206.57 39.66h0M203.22 39.78h0M254.05 41.35h0M204.99 52.83h0M243.39 41.95h0M225.94 94.71h0M248.23 65.98h0M258.21 80.9h0M232.31 53.15h0M217.82 56.73h0M210.5 73.51h0M208.96 33.95h0M203.69 23.82h0M221.16 47h0M219.94 91.25h0M261.9 64.37h0M228.35 34.13h0M196.88 73.41h0M230.44 65.31h0M200.92 42.12h0M226.62 46.69h0M237.4 99.44h0M226.85 93.48h0M195.66 50.85h0M216.34 55.31h0M205.7 67.86h0M267.58 80.09h0M261.45 100.11h0M223.12 49.68h0M234.32 71.94h0M227.61 41.04h0M212.36 54.13h0M205.46 77.87h0M217.21 34.18h0M204.72 92.41h0M250.59 32.58h0M271.6 36.15h0M248.14 96.08h0M246.8 27.32h0M209.16 62.87h0M208.24 36.85h0M251.36 49.26h0M198.07 45.99h0M243.76 76h0M197.7 36.53h0M241.04 85.9h0M238.36 84.05h0M273.67 25.13h0M201.39 25.53h0M221.58 24.55h0M245.76 23.78h0M211.31 65.03h0M195.93 63.88h0M240.85 23.71h0M251.22 92.01h0M226.95 99.26h0M262.17 94.6h0M241.71 69.44h0M200.66 62.52h0M219.49 96.04h0M241.94 45.03h0M251.23 89.31h0M201 82.34h0M235.48 91.96h0M258.7 86.17h0M235.22 33.83h0M251.32 67.55h0M247.2 100.16h0M200.72 84.12h0M201.09 42.07h0M245.88 60.65h0M256.77 44.97h0M215.93 65.74h0M200.83 41.27h0M247.97 89.62h0M245.84 93.59h0M220.7 46.61h0M231.07 51.04h0M213.73 30.68h0M219.24 82.81h0M231.34 75.24h0M233.33 65.45h0M263.91 45.23h0M211.98 49.76h0M220.16 101.47h0M253.97 32.34h0M272.84 49.86h0M241.42 78.17h0" stroke="#8c88c4" stroke-width="0.95" stroke-linecap="round" opacity="0.45" fill="none"/>
<path d="M212.45 89.12h0M214.42 25.88h0M232.19 98.27h0M269.12 63.03h0M197.47 43.11h0M217.85 50.82h0M223.05 48.46h0M206.65 88.77h0M258.07 37.18h0M266.45 74.79h0M201.64 86.09h0M229.1 39.6h0M237.37 90.06h0M206.7 48.53h0M209.19 38.38h0M219.43 90.71h0M200.42 88.31h0M260.99 53.6h0M231 85.05h0M270.56 67.48h0M199.55 36.24h0M239.59 47.74h0M229.73 53.96h0M221.27 42.3h0M218.03 68.46h0M217.55 32.63h0M227.42 43.98h0M266.35 56.41h0M202.94 64.64h0M197.6 78.91h0M248.31 25.17h0M241.5 55.63h0M227.37 52.96h0M227.18 100.82h0M213.89 23.35h0M252.84 47.84h0M269.1 34.5h0M195.94 28.18h0M270.39 65.7h0M248.15 102.77h0M228.75 93.88h0M257.26 54.82h0M202.99 64.15h0M244.45 88h0M268.71 53.91h0M197.04 45.17h0M223.55 94.53h0M271.16 59.58h0M250.87 45.92h0M225.17 85.09h0M233.92 92.51h0M195.89 97.68h0M231.85 75.05h0M236.82 90.95h0M212.73 89.32h0M215.04 87.77h0M249.83 28.25h0M197.51 78.07h0M241.57 78.47h0M208.18 49.07h0M232.62 92.73h0M195.05 32.62h0M245.89 36.73h0M258.49 40.86h0M250.66 51.94h0M265.84 83.79h0M211.8 29.69h0M195.1 32.22h0M228.87 74.73h0M273.25 53.41h0M244.29 66.58h0M195.2 49.65h0M209.51 75.44h0M274.87 32.66h0M252.84 33.29h0M236.01 72.47h0M249.02 62.74h0M212.3 33.34h0M197.29 62.81h0M224.04 92.67h0M221.85 80.92h0M265.17 72.89h0M233.91 62.73h0M202.4 28.63h0M239.09 77.59h0M227.62 90.42h0M261.79 33.02h0M228.11 60.55h0M258.59 94.75h0M255.61 85.86h0M270.23 87.4h0M252.21 57.41h0M226.66 53.57h0M233.6 83.71h0M238.72 78.72h0M239.5 62.18h0M269.33 87.36h0M252.76 24.28h0M240.92 26.82h0M249.72 79.13h0M202.62 64.54h0M209.4 31.38h0M270.66 47.6h0M217.17 100.04h0M235.58 55.32h0M242.02 53.4h0M226.73 85.89h0M256.76 74.92h0M210.69 92.19h0M214.48 51.3h0M230.92 63.37h0M201.62 57.41h0M197.87 78.63h0M272.26 76.84h0M255.75 34.63h0M212.81 87.8h0M257.13 68.44h0M246.34 29.86h0M224.08 97.88h0M230.43 102.74h0M269.81 74.74h0M211.8 55.72h0M256.61 60.67h0M245.9 88.51h0M225.75 45.34h0M235.07 68.96h0M251.68 91.21h0M248.53 63.74h0M229.4 43.91h0M252.86 43.08h0M214.84 83.3h0M269.06 60.7h0M215.17 71.14h0M213.3 100.75h0M221.19 84.24h0M220.53 32.99h0M261.29 61.67h0M223.88 102.08h0M221.41 86.79h0M242.15 51.36h0M203.57 92.42h0M257.81 37.57h0M238.71 83.35h0M253.26 48.39h0M223.69 23.87h0M221.33 99.65h0M209.97 40.46h0M215.86 55.69h0M224.73 93.71h0M215.22 55.35h0M246.05 26.95h0M233.64 34.8h0M213.2 63.61h0M199.83 35.32h0M259.15 42.09h0M223.59 63.93h0M268.24 56.66h0M226.33 98.43h0M198.83 87.9h0M226.09 85.38h0M246 43.91h0M213.16 25.51h0M234.75 40.31h0M202.61 79.24h0M223.06 28.44h0M236.57 41.9h0M220.95 66.52h0M250.86 63.02h0M227.75 56.5h0M214.81 88.84h0M243.95 45.41h0M272.25 24.36h0M260.57 57.96h0M250.3 40.78h0M248.7 33.88h0M225.11 52.31h0M196.67 89.27h0M223.75 41.51h0M195.35 48.9h0M269.53 38.41h0M270.97 89.81h0M274.05 64.96h0M242.31 83.98h0M253.64 81.09h0M249.73 37.8h0M226.65 78.59h0M226.94 94.76h0M228.85 50.73h0M245.93 81.81h0M251.12 60.99h0M251.25 41.7h0M201.47 62.84h0M274.13 78.21h0M253.79 64.07h0M270.68 49.83h0M236.34 48.69h0M270.78 52.42h0M223.65 44.45h0M247.35 63.28h0M216.8 94.92h0M260.21 50.85h0M264.26 58.6h0M260.66 84.14h0M241.97 26.77h0M234 78.3h0M250.17 33.05h0M217.97 51.04h0M228.15 52.08h0M258.85 39.63h0M220.84 86.33h0M199.39 88.59h0M253.37 25.16h0M211.15 101.17h0M266.49 93.54h0M267.84 56.91h0M259.79 96.56h0M263.27 28.45h0M252.72 23.14h0M246.96 84.08h0M257.2 53.53h0M266.93 27.85h0M219.31 60.46h0M219.46 31.37h0M221.91 97.64h0M214.64 83.35h0M261.14 98.8h0M237.09 30.4h0M229.68 72.94h0M205.83 61.99h0M209.38 58.88h0M261.62 59.44h0M261.29 101.5h0M209.4 57.08h0M242.89 36.61h0M268.39 49.24h0M265.99 47.05h0M254.06 41.33h0M228.32 68.3h0M208.05 73.48h0M236.69 25.11h0M258.21 96.71h0M199.98 56.45h0M260.11 69.56h0M219.4 62.54h0M231.81 33.16h0M237.95 64.59h0M257.01 96.82h0M260.2 71.43h0M270.57 23.65h0M226.06 90.19h0M265.07 65.76h0M208.82 23.25h0M257.71 97.33h0M207.77 50.74h0M261.54 32.62h0M201.55 63h0M270.85 34.11h0M256.84 48.09h0M269.59 47.06h0M208.95 87.47h0M267.44 61.51h0M249.78 73.03h0M238.45 97.33h0M262.65 58.75h0M205.79 71.03h0M228.69 98.36h0M236.99 78.17h0M202.96 80.73h0M225.62 89.69h0M250.25 70.2h0M264.35 48.82h0M255.67 25.14h0M270.62 67.16h0M235.68 52.41h0M248.64 77.07h0M258.44 76.09h0M255.85 30.38h0M267.91 35.49h0M235.79 32.99h0M224.1 43.94h0M252.97 97.14h0M264 76.97h0M256.1 32.8h0M232.15 95.45h0M211.65 56.4h0M254.62 84.93h0M234.8 71.9h0M221.85 88.1h0M263.3 36.16h0M237.72 76.48h0M266.94 54.6h0M262.35 84.88h0M253.09 100.64h0M253.27 70.15h0M252.05 60.09h0M219.59 27.58h0M229.95 98.12h0M251.89 41.86h0M239.03 76.37h0M273.43 85.48h0M256.56 37.64h0M261.5 99.86h0M220.28 71.39h0M258 57.46h0M239.64 28.52h0M223.76 63.98h0M236.27 68.98h0M252.44 39.63h0M262.66 67.05h0M229.82 24.12h0M229.87 56.38h0M253.52 76.9h0M201.66 96.52h0M204.74 39.92h0M253.6 80.29h0M210.89 51.38h0M260.61 67.74h0M264.63 26.97h0M264.46 52.84h0M214.04 88.9h0M246.32 50.97h0M233.21 70.64h0M207.06 95.5h0M256.83 49.33h0M223.76 85.29h0M271.12 60.48h0M217.66 43.92h0M229.14 39.25h0M232.72 45.93h0M235.43 100.26h0M270.16 102.17h0M230.13 89.9h0M243.55 46.02h0M235.7 76.18h0M201.85 59.62h0M244.15 64.75h0M256.31 79.18h0M237.89 81.32h0M232.57 75.95h0M223.5 54.29h0M203.36 90.68h0M242.4 49.77h0M228.46 83.91h0M237.63 99.61h0M196.02 86.75h0M251.19 100.25h0M272.89 58.39h0M263.44 92.58h0M246.03 52.39h0M202.53 38.18h0M201.73 82.04h0M273.94 70.96h0M225.44 50.9h0M240.51 77.51h0M265.01 65.67h0M261.28 38.42h0M260.46 93.22h0M218.84 48.57h0M208.07 74.78h0M223.27 70.28h0M247.03 59.8h0M242.75 25.76h0M241.56 27.39h0M197.05 97.21h0M234.58 77.43h0M209.78 74.72h0M270.19 84.43h0M225.88 63.16h0" stroke="#8c88c4" stroke-width="1.2" stroke-linecap="round" opacity="0.45" fill="none"/>
</g>
<g clip-path="url(#hc10)">
<rect x="230" y="23" width="45" height="45" fill="#dfcbb9"/>
<rect x="230" y="23" width="45" height="45" fill="#fff" filter="url(#n6)"/>
<ellipse cx="250" cy="46" rx="3.5" ry="2.8" fill="#f8f6f6"/>
<g fill="#aaa2c8" opacity="0.85" stroke="#7e76ae" stroke-width="0.7"><ellipse cx="248.43" cy="34.87" rx="1.87" ry="1.78" transform="rotate(10 248.43 34.87)"/><ellipse cx="242.66" cy="25.85" rx="2.15" ry="1.9" transform="rotate(89 242.66 25.85)"/><ellipse cx="244.5" cy="53.54" rx="1.94" ry="1.98" transform="rotate(152 244.5 53.54)"/><ellipse cx="240.54" cy="46.27" rx="1.95" ry="2.03" transform="rotate(42 240.54 46.27)"/><ellipse cx="231.74" cy="33.05" rx="2.18" ry="1.89" transform="rotate(132 231.74 33.05)"/><ellipse cx="252.03" cy="54.72" rx="1.97" ry="1.86" transform="rotate(117 252.03 54.72)"/><ellipse cx="265.74" cy="65.36" rx="2.06" ry="1.97" transform="rotate(29 265.74 65.36)"/><ellipse cx="239.16" cy="64.06" rx="1.83" ry="1.83" transform="rotate(43 239.16 64.06)"/><ellipse cx="254.53" cy="36.63" rx="2.16" ry="1.7" transform="rotate(148 254.53 36.63)"/><ellipse cx="273.01" cy="41.24" rx="2.12" ry="1.89" transform="rotate(40 273.01 41.24)"/><ellipse cx="253.39" cy="28.7" rx="1.92" ry="1.69" transform="rotate(32 253.39 28.7)"/><ellipse cx="269.84" cy="45.91" rx="2.15" ry="1.84" transform="rotate(55 269.84 45.91)"/><ellipse cx="251.99" cy="39.25" rx="2.19" ry="1.68" transform="rotate(35 251.99 39.25)"/><ellipse cx="247.49" cy="28.45" rx="2.04" ry="1.99" transform="rotate(98 247.49 28.45)"/><ellipse cx="243.67" cy="40.22" rx="2.11" ry="1.82" transform="rotate(157 243.67 40.22)"/><ellipse cx="235.33" cy="37.11" rx="1.87" ry="1.96" transform="rotate(29 235.33 37.11)"/><ellipse cx="255.33" cy="45.73" rx="2.09" ry="1.86" transform="rotate(51 255.33 45.73)"/><ellipse cx="237.37" cy="47.5" rx="2.01" ry="1.7" transform="rotate(7 237.37 47.5)"/><ellipse cx="241.65" cy="55.7" rx="2.12" ry="1.86" transform="rotate(165 241.65 55.7)"/><ellipse cx="248.38" cy="40.01" rx="1.8" ry="1.8" transform="rotate(137 248.38 40.01)"/><ellipse cx="264.74" cy="42.35" rx="1.98" ry="1.89" transform="rotate(9 264.74 42.35)"/><ellipse cx="253.48" cy="61.11" rx="1.85" ry="1.69" transform="rotate(89 253.48 61.11)"/><ellipse cx="257.47" cy="40.02" rx="1.97" ry="2.01" transform="rotate(178 257.47 40.02)"/><ellipse cx="274.15" cy="30.74" rx="1.93" ry="1.76" transform="rotate(163 274.15 30.74)"/><ellipse cx="257.74" cy="48.04" rx="1.83" ry="1.96" transform="rotate(175 257.74 48.04)"/><ellipse cx="240.3" cy="36.1" rx="1.8" ry="1.98" transform="rotate(42 240.3 36.1)"/><ellipse cx="260.37" cy="42.97" rx="1.9" ry="2.02" transform="rotate(61 260.37 42.97)"/><ellipse cx="263.21" cy="51.81" rx="1.96" ry="2.03" transform="rotate(74 263.21 51.81)"/><ellipse cx="231.59" cy="43.3" rx="2.17" ry="1.93" transform="rotate(62 231.59 43.3)"/><ellipse cx="243.62" cy="59.17" rx="2.13" ry="1.78" transform="rotate(45 243.62 59.17)"/><ellipse cx="260.47" cy="58.97" rx="2.02" ry="1.67" transform="rotate(119 260.47 58.97)"/><ellipse cx="256.28" cy="53.95" rx="2.07" ry="1.98" transform="rotate(147 256.28 53.95)"/><ellipse cx="271.3" cy="60.14" rx="1.9" ry="1.94" transform="rotate(63 271.3 60.14)"/><ellipse cx="263.88" cy="48.08" rx="2.03" ry="1.7" transform="rotate(32 263.88 48.08)"/><ellipse cx="235.76" cy="27.43" rx="2.15" ry="2" transform="rotate(62 235.76 27.43)"/><ellipse cx="261.29" cy="26.84" rx="2.19" ry="1.68" transform="rotate(20 261.29 26.84)"/><ellipse cx="262.52" cy="37.8" rx="2.06" ry="1.87" transform="rotate(86 262.52 37.8)"/><ellipse cx="248.23" cy="57.44" rx="2.04" ry="1.99" transform="rotate(19 248.23 57.44)"/><ellipse cx="231.3" cy="47.44" rx="1.98" ry="1.73" transform="rotate(27 231.3 47.44)"/><ellipse cx="274.27" cy="49.32" rx="2.09" ry="2" transform="rotate(18 274.27 49.32)"/><ellipse cx="237.67" cy="31.78" rx="1.96" ry="1.97" transform="rotate(106 237.67 31.78)"/><ellipse cx="235.83" cy="53.34" rx="2.18" ry="1.97" transform="rotate(99 235.83 53.34)"/><ellipse cx="233.14" cy="58.01" rx="2" ry="1.8" transform="rotate(127 233.14 58.01)"/><ellipse cx="244.34" cy="64.14" rx="1.89" ry="1.74" transform="rotate(39 244.34 64.14)"/><ellipse cx="231.52" cy="54.41" rx="1.98" ry="1.75" transform="rotate(107 231.52 54.41)"/><ellipse cx="230.49" cy="38.86" rx="1.83" ry="1.78" transform="rotate(21 230.49 38.86)"/><ellipse cx="251.64" cy="34.59" rx="2.17" ry="1.96" transform="rotate(63 251.64 34.59)"/><ellipse cx="272.01" cy="33.81" rx="2.06" ry="1.75" transform="rotate(167 272.01 33.81)"/></g>
</g>
<g clip-path="url(#hc11)">
<rect x="25" y="108" width="80" height="80" fill="#e8ddd8"/>
<rect x="25" y="108" width="80" height="80" fill="#fff" filter="url(#n7)"/>
<path d="M96.53 148.8h0M64.95 114.06h0M78.48 126.51h0M96.1 173.34h0M86.87 169.86h0M61.91 117.87h0M44.26 170.09h0M79.74 141.62h0M42.8 182.08h0M34.86 148.94h0M69.93 123.22h0M98.26 156.64h0M27.44 126.65h0M87.87 166.05h0M83.1 127.77h0M34.46 124h0M49.02 122.25h0M61.3 142.39h0M94.73 171.41h0M28.69 131.06h0M44.8 176.06h0M56.9 167.36h0M57.05 173.85h0M84.09 161.62h0M104.93 125.25h0M54.35 162.74h0M33.16 169.23h0M37.12 161.9h0M41.64 156.68h0M76.2 136.01h0M56.9 137.02h0M73.37 135.05h0M89.34 167.81h0M36.59 180.01h0M94.67 167.74h0M87.53 132.43h0M38.31 113.64h0M38.43 152.08h0M66.3 141.78h0M71.34 126.62h0M73.75 173.19h0M80.35 150.49h0M41.75 122.5h0M94.65 186h0M102.45 160.66h0M35.14 125.52h0M56.08 157.16h0M75.38 179.05h0M89.68 125.55h0M46.4 144.21h0M79.95 172.6h0M103.45 162.65h0M44.72 144.63h0M69.3 157.03h0M98.2 182.15h0M99.52 171.57h0M59.82 124.95h0M104.56 127.81h0M91.99 178.8h0M53.51 120h0M46.12 164.16h0M47.55 132.65h0M38.59 163.78h0M61.52 176.55h0M43.78 144.17h0M99.55 164.64h0M53.78 162.72h0M80.64 148.01h0M26.74 165.64h0M100.45 169.31h0M98.93 132.11h0M52.93 163.07h0M36.71 141.8h0M99.27 137.44h0M68.39 135.53h0M82.46 157.35h0M67.19 184.86h0M25.09 154.49h0M95.28 177.38h0M45.8 157.17h0M72.11 187.89h0M72.74 111.98h0M45.27 171.94h0M75.16 139.19h0M46.24 114.14h0M55.2 131.35h0M44.73 185h0M82.63 128.34h0M26.16 172.11h0M57.73 159.18h0M63.53 152.29h0M33.84 137.21h0M97.06 156.48h0M35.99 170.43h0M37.95 135.06h0M79.71 134.21h0M74.24 178.92h0M90.71 123.95h0M59.41 111.32h0M104.01 127.27h0M50.39 185.81h0M58.62 181.21h0M64.73 182.92h0M57.68 124.67h0M25.1 169.12h0M26.69 116.23h0M75.79 159.22h0M62.04 144.59h0M69.18 138.8h0M89.58 172.78h0M36.83 140.77h0M100.32 152.61h0M85.09 140.02h0M87.41 111.53h0M57.05 174.11h0M70.78 163.24h0M80.92 155.35h0M39.17 110.32h0M38.72 123.62h0M78.17 152.88h0M58.75 164.68h0M49.49 149.15h0M70.16 170.37h0M59.51 124.19h0M97.72 141.56h0M84.04 149.03h0M40.08 145.23h0M95.58 145.33h0M49.18 131.06h0M64.28 118.1h0M37.42 187.45h0M45.33 155.77h0M37.9 166.92h0M82.61 183.24h0M85.04 185.46h0M50.2 161.91h0M58.98 177.88h0M78.85 145.88h0M79.3 177.5h0M48.97 174.58h0M43.3 187.46h0M45.8 125.67h0M95.09 120.71h0M52.6 128.04h0M57.01 142.93h0M101.88 182.85h0M100.62 122.2h0M93.18 187.7h0M32.85 176.86h0M81.21 117.23h0M41.26 123.39h0M64.91 132.38h0M64.27 168.51h0M90.15 159.09h0M36.78 185.84h0M83.79 187.43h0M62.81 156.83h0M29.25 135.99h0M49.9 126.13h0M91.85 108.46h0M104.8 161.62h0M51.77 118.92h0M99.43 117.56h0M82.73 182.87h0M53.91 152.6h0M99.41 170.35h0M44.71 131.26h0M63.66 170.42h0M49.41 141.85h0M75.95 185.68h0M41.93 140.84h0M58.1 109.65h0M36.7 185.94h0M42.43 182.23h0M61.47 141.72h0M61.86 177.83h0M99.25 167.69h0M77.94 152.06h0M38.58 178.27h0M66.5 187.94h0M68.1 110.3h0M68.97 116.55h0M101.9 183.33h0M89.51 130.59h0M103.9 137.72h0M84.9 172.8h0M77.29 185.69h0M98.18 126.31h0M88.03 113.91h0M39.9 111.43h0M31.81 125.94h0M84.68 136.73h0M76.2 145.05h0M62.63 182.05h0M25.17 133.73h0M39.84 143.97h0M27.52 135.4h0M44.74 163.96h0M95.02 138.94h0M66.04 179.48h0M55 170.57h0M56.7 177.71h0M72.39 186.95h0M73.43 161.08h0M98.64 114.51h0M87.81 151.26h0M73.9 159.54h0M31.38 173.59h0M98.62 147.75h0M103.38 168.49h0M65.1 185.41h0M58.43 110.61h0M103.29 160.77h0M102.27 114.5h0M85.85 110.43h0M83.61 177.05h0M31.68 171.36h0M47.51 122.08h0M54.32 134.06h0M52.46 179.59h0M32.47 163.73h0M96.34 144.13h0M77.33 109.92h0M89.58 154.02h0M62.4 152.57h0M60.93 185.4h0M94.88 175.06h0M87.04 174.93h0M103.67 114.52h0M56.3 120.84h0M52.65 144.73h0M55.58 169.26h0M69.02 178.1h0M100.3 160.02h0M87.34 120.12h0M89.06 127.23h0M29.15 155.86h0M96.21 147.02h0M42.31 138.78h0M35.58 136.55h0M52.18 113.92h0M81.29 159.12h0M102.25 176.26h0M104 150.59h0M52.27 119.84h0M89.07 149.74h0M94.43 131.14h0M79.12 127.05h0M34.89 173.28h0M97.16 141.49h0M29.76 185.32h0M60.4 124.82h0M78.5 121.29h0M91.34 186.73h0M32.8 176.45h0M50.54 155.04h0M33.84 135.26h0M92.83 154.54h0M35.52 129.12h0M79.7 139.7h0M78.76 162.42h0M68.3 114.69h0M67.31 158.51h0M100.08 139.49h0M100.59 111.03h0M39.73 122.36h0M66.71 129.72h0M65.94 166.99h0M37.91 180.08h0M51.14 137.99h0M52.08 157.33h0M55.04 124.32h0M42.57 187h0M90.47 121.59h0M76.04 162.67h0M92.5 149.85h0M44.73 108.77h0M103.86 145.05h0M96.43 176.66h0M44.89 108.63h0M75.99 147.74h0M55.51 135.71h0M90.94 160.13h0M100.84 153.73h0M71.63 163.91h0M51.5 185.88h0M98.65 149.02h0M38.85 111.1h0M27.11 170.72h0M67.66 186.64h0M34.77 157.98h0M73.17 113.18h0M60.51 162.43h0M69.34 165.16h0M31.67 163.08h0M77.29 146.39h0M99.13 112.04h0M95.68 124.2h0M40.08 167.96h0M98.47 130.48h0M81.42 161.5h0M52.37 125.79h0M77.51 174.48h0M99.02 151.84h0M97.92 142.44h0M48.66 122.46h0M82.01 146.65h0M32.72 147.95h0M58.37 163.81h0M77.06 138.97h0M69.68 140.17h0M95.26 144.34h0M58.1 145.63h0M61.04 169.59h0M47.94 146.38h0M103.23 137.67h0M47.63 132.61h0M79.45 142.61h0M36.58 166.81h0M86.23 108.92h0M93.78 115.29h0M97.2 134.65h0M42.71 160.25h0M99.91 182.39h0M53.72 122.2h0M50.85 178.24h0M49.48 133.24h0M94.4 182.4h0M71.99 134.77h0M26.44 134.87h0M30.62 142.56h0M74.76 140.79h0M44.26 167.46h0M82.66 155.48h0M61.18 178.56h0M40.23 115.26h0M96.13 137.19h0M87.03 142.99h0M71.15 124.25h0M90.36 187.98h0M27.17 186.79h0M68.09 124.11h0M47 114.9h0M54.03 166.44h0M69.15 142.35h0M61.73 110.25h0M30.55 143.46h0M74.71 136.28h0M44.47 184.64h0M73.3 154.85h0M98.45 151.11h0M37.45 167.72h0M40.48 147.21h0M36.89 157.37h0M27.66 127.78h0M54.82 116.73h0M36.15 182.29h0M78.34 119.65h0M69.78 141.7h0M94.04 184.4h0M99.97 115.62h0M100.45 159.75h0M92.29 125.32h0M83.28 137.74h0M72.42 119.66h0M73.98 115.11h0M98.92 169.72h0M41.65 135.3h0M40.13 169.91h0M97.1 181.48h0M102.37 171.85h0M75.49 123.01h0M94.9 116.38h0M66.43 122.01h0M40.15 181.76h0M56.41 125.48h0M69.9 109.15h0M92.75 137.22h0M69.28 143.2h0M62.48 184.21h0M33.61 147.02h0M95.38 141.26h0M62.86 133.32h0M55.98 177.78h0M29.52 142.55h0M59.19 185.04h0M37.2 161.77h0M27.89 117.39h0M50.48 169h0M72.5 187.28h0M58.96 157.28h0M86.36 154.8h0M83.28 158.32h0M73.17 136.91h0M29.74 161.56h0M48.07 175.6h0M90.73 166.68h0M45.42 175.88h0M82.59 120.02h0M60.03 176.62h0M94.35 125.46h0M51.9 185h0M76.56 111.42h0M91.46 143.26h0M84.07 149.11h0M67.4 167.45h0M26.73 163.39h0M71.61 120.99h0M69.16 126.25h0M86.33 150.61h0M97.34 173.63h0M36.91 173.87h0M48.34 164.33h0M26.15 152.72h0M36.28 157.95h0M73.31 183.98h0M86.9 115.8h0M46.01 144.38h0M99.45 152.92h0M50.93 131.78h0M56.57 175.57h0M30.9 160.67h0M100.61 146.63h0M67.37 135.56h0M90.53 140.09h0M39.18 171.67h0M98.58 110.84h0M30.98 116.93h0M91.37 119.52h0M41.56 158.51h0M43.53 111.76h0M70.42 154.29h0M72.6 131.8h0M83.39 153.1h0M74.01 158.3h0M25.83 150.28h0M48.24 141.05h0M86.63 172.19h0M26.44 161.26h0M101.26 118.64h0M30.15 122.92h0M77.15 182.59h0M26.7 118.78h0M102.05 179.78h0M69.67 154.72h0M61.51 120.74h0M31.35 132.11h0M81.86 109.79h0M85.31 138.45h0M69.92 142.03h0M100.26 159.97h0M82.5 147.67h0M88.26 183.92h0M75.2 144.75h0M68.42 153.55h0M90.61 114.53h0M28.17 124.56h0M36.99 150.81h0M72.92 129.29h0M68.88 169.77h0M62.26 125.35h0M45.27 108.4h0M49.93 155.08h0M85.97 144.06h0M70.39 115.52h0M61.74 179.97h0M50.14 150.51h0M26.52 178.85h0M69.9 168.31h0M35.57 143.57h0M53.08 154.97h0M45.77 125.83h0M86.86 131.21h0M72.53 187.81h0M29.86 150.11h0M49.53 130.46h0M52.48 172.49h0M46.78 187.06h0M72.36 147.53h0M25.2 126.94h0M69.64 111.29h0M42.22 159.92h0M95.33 143.82h0M103.43 173.9h0M35.21 167.52h0M94.2 162.22h0M68.33 178.1h0M100.04 151.52h0M40.7 109.83h0M63.76 176.82h0M54.22 166.5h0M84.75 181.74h0M59 180.25h0M65.75 122.96h0M76.31 120.61h0M32.61 164.51h0M100.39 136.64h0M46.7 148.63h0M36.51 158.71h0M67.27 174.91h0M78.18 149.97h0M58.44 181.33h0M62.67 160.12h0M66.49 178.54h0M44.67 151.15h0M57.76 154.21h0M26.19 149.57h0M29.64 174.54h0M46.11 155.57h0M87.22 136.53h0M61.09 184.45h0M98.48 177.12h0M30.51 125.09h0M37.88 169.4h0M88.55 187.61h0M94.2 180.27h0M32.56 144.13h0M75.69 130.11h0M56.99 163.84h0M48.91 169.39h0" stroke="#a47a62" stroke-width="0.7" stroke-linecap="round" opacity="0.45" fill="none"/>
<path d="M97.51 133.18h0M80.36 122.5h0M50.14 118.99h0M74.67 131.76h0M78.86 187.04h0M100.4 130.34h0M82.76 109.33h0M57.78 136.59h0M59.09 125.5h0M68.51 142.42h0M43.59 135.82h0M56.07 170.28h0M95.95 123.67h0M38.79 141.13h0M66.98 176.45h0M61.13 133.05h0M40.38 156.51h0M57.63 166.66h0M26.02 126.08h0M62.25 115.68h0M75.96 139.09h0M80.49 169.68h0M39.22 177.25h0M56.16 132.12h0M86.84 185.33h0M57.17 117.82h0M56.33 148.29h0M69.88 135.68h0M31.28 122.15h0M58.11 160.51h0M97.56 121.2h0M89.43 129.26h0M87.23 147.03h0M98.17 115.56h0M85.94 129h0M61.17 133.49h0M50.6 128.2h0M33.73 114.16h0M47.77 151.34h0M96.21 111.54h0M80.17 120.62h0M42.65 165.1h0M87.15 185.44h0M50.62 125.69h0M49.27 160.94h0M38.66 163.76h0M50.11 177.42h0M59.93 123.83h0M52.88 169.69h0M37.93 129.16h0M85.93 141.05h0M70.31 187.92h0M97.95 123.02h0M41.32 147.91h0M82.99 170.6h0M84.06 108.86h0M67.96 164.1h0M73.44 164.76h0M75.48 128.21h0M64.78 137.2h0M88.91 130.34h0M102.42 131.1h0M62.65 170.59h0M32.41 177.58h0M40.47 122.72h0M86.94 111.52h0M71.88 151.85h0M104.12 123.79h0M49.62 150.44h0M75.87 130.34h0M25.93 182.57h0M40.74 116.37h0M41.84 169.87h0M70.98 129.97h0M91.5 169.47h0M87.54 143.7h0M49.33 170.72h0M67.36 187.81h0M49.04 170.93h0M49.23 185.73h0M81.52 140.83h0M51.76 114.59h0M91.96 159.96h0M78.83 150.75h0M81.44 152.79h0M74.01 164.54h0M28.65 109.83h0M43.33 149.91h0M96.81 151.88h0M60.57 172.65h0M54.46 147.92h0M97.37 142.35h0M55.51 110.12h0M33.25 132.28h0M39.36 154.14h0M61.88 158.11h0M58.09 122.33h0M102.49 187.25h0M76.82 160.59h0M71.64 181.9h0M96.18 160.08h0M79.19 117.71h0M104.47 126.9h0M81.02 111.59h0M95.17 117.52h0M76.25 116.87h0M25.22 151.4h0M35.3 110.65h0M62.58 144.45h0M79.72 178.41h0M40.53 184.86h0M91.93 136.77h0M47.76 124.49h0M91.99 120.17h0M86.71 129.69h0M61.56 156.29h0M54.34 157.56h0M75.25 108.38h0M92.95 186.09h0M70.54 164.13h0M76.38 163.92h0M29.58 186h0M84.75 113.66h0M82.18 150.6h0M51.51 130.44h0M30.55 155.01h0M54.85 113.96h0M79.98 121.9h0M46.95 175.2h0M36.86 158.9h0M80.64 124.84h0M34.08 153.7h0M92.98 167.13h0M45.08 139.32h0M66.61 159.03h0M30.42 176.93h0M103.25 115.02h0M87.58 118.91h0M70.38 121.19h0M96.12 184.16h0M99.97 167.8h0M59.49 187.7h0M34.65 157.23h0M49.77 139.46h0M49.4 126.67h0M96.57 179.83h0M81.12 118.46h0M47.6 149.45h0M91.69 116.25h0M102.6 186.23h0M70.98 137.25h0M78.89 187.72h0M103.33 172.57h0M94.99 161.61h0M97.52 166.74h0M77.31 164.21h0M73.26 122.7h0M43.97 169.77h0M70.88 179.5h0M102.64 124.41h0M38.15 147.3h0M39.79 150.35h0M87.93 162.27h0M31.75 159.27h0M76.87 118.6h0M73.42 165.23h0M34.04 156.95h0M48.11 139.93h0M88.08 143.9h0M34.72 128.29h0M55.02 152.81h0M45.47 133.11h0M55.53 145.35h0M103.04 183.72h0M78.55 183.21h0M104.92 170.75h0M34.97 156.72h0M82.73 174.92h0M71.17 120.67h0M84.1 164.8h0M36.14 186.79h0M40.33 112.05h0M86.93 177.25h0M71.05 174.87h0M65.55 169.48h0M38.14 138.63h0M85.93 153.23h0M104.29 114.27h0M28.6 122.52h0M81.2 156.26h0M41.3 178.82h0M69.02 117.69h0M95.34 125.71h0M82.66 147.21h0M75.48 153.92h0M52.47 151.74h0M50.78 127.4h0M43.56 148.98h0M71.68 143.98h0M42.7 112.72h0M86.14 138.29h0M98.78 167.52h0M104.66 185.76h0M62.81 131.16h0M52.04 111.41h0M82.04 176.21h0M27.18 141.18h0M34.6 114.7h0M75.03 116.38h0M72.53 172.59h0M103.54 174.49h0M36.63 143.3h0M84.98 149.58h0M91.47 171.56h0M81.51 134.48h0M40.18 170.21h0M46.23 118.28h0M77.21 131.63h0M61.78 184.91h0M100.56 180.35h0M55.44 187.16h0M100.62 177.95h0M94.45 110.4h0M66.43 171.23h0M94.53 147.45h0M73.9 168.03h0M73.71 155.62h0M70.37 146.96h0M69.55 144.14h0M57.97 150.41h0M78.4 171.53h0M94.96 176.28h0M103.48 129.33h0M90.78 155.87h0M44.85 109.39h0M97.06 157.04h0M31.51 182.49h0M27.69 129.9h0M54.03 146.26h0M73.22 119.56h0M55.88 177.72h0M36.35 187.7h0M97.63 113.43h0M72.36 136.86h0M30.98 178.09h0M76.38 175.99h0M97.81 140.34h0M92.63 171.29h0M74.58 153.02h0M73.01 176.85h0M63.57 131.07h0M39.08 136.42h0M88.33 142.28h0M25.13 158.59h0M37.74 117.31h0M101.99 169.37h0M30.07 139.47h0M82.72 149.55h0M80.21 185.05h0M103.51 109.99h0M48.73 126.66h0M73.85 135.21h0M30.85 180.39h0M33.33 145.65h0M69.32 124.18h0M74.39 147.56h0M34.37 175.51h0M86.09 153.23h0M86.54 131.35h0M50.07 176.95h0M94.35 156.73h0M39.87 129.39h0M44.17 165.49h0M35.7 160.16h0M82.31 168.23h0M68.68 132.36h0M79.24 176.38h0M36 164.71h0M84.9 108.2h0M68.6 171.25h0M81.3 162.69h0M60.14 113.76h0M86.47 162.74h0M26.2 146.47h0M104.4 119.34h0M47.64 156.18h0M71.03 164.56h0M59.98 164.79h0M75.35 125.3h0M68.43 169.21h0M59.65 118.83h0M48.02 112.73h0M49.97 168.51h0M104.01 111.02h0M76.48 130.38h0M27.23 155.02h0M26.86 133.16h0M55.37 127.9h0M52.84 133.89h0M29.12 162.58h0M85.67 123.59h0M46.87 115.91h0M59.49 137.87h0M58.92 161.8h0M44.96 134.99h0M91.68 167.31h0M77.88 167.31h0M50.18 109.3h0M66.88 161.68h0M95.62 140.03h0M76 163.7h0M27.62 154.98h0M62.74 122.34h0M99.14 183.49h0M103.44 126.4h0M27.94 181h0M72.07 178.48h0M40.34 173.27h0M39.85 175.4h0M36.91 149.95h0M57.69 162.29h0M27.01 170.13h0M49.13 111.41h0M26.94 147.97h0M68.02 144.26h0M63.67 131.86h0M33.13 178.09h0M93.39 169.14h0M103.87 179.82h0M44.78 149.27h0M25.78 124.21h0M62.53 131.35h0M64.19 179.39h0M42.03 156.94h0M36.76 134.21h0M47.29 181.57h0M32.3 149.2h0M80.72 117.27h0M74.2 180.71h0M29.37 127.11h0M85.66 114.89h0M65.75 143.49h0M96.41 185.06h0M85.36 153.12h0M80.37 120.73h0M25.37 112.82h0M90.15 133.13h0M89.84 177.26h0M29.81 155.28h0M70.06 156.83h0M96.37 110.96h0M67.49 124.47h0M86.02 119.44h0M56.91 118.8h0M54.62 169.29h0M85.69 133.23h0M85.92 148.79h0M59.92 186.85h0M86.74 113.49h0M27.49 179.4h0M104.45 131.7h0M74.75 139.94h0M84.32 185.22h0M58.72 178.68h0M97.39 174.53h0M88.83 162.59h0M53.64 158.2h0M85.88 125.67h0M100.37 113.3h0M95.26 175.02h0M42.18 115.88h0M72.63 116.38h0M79.61 150.18h0M85.98 141.95h0M55.34 114.8h0M95.13 118.91h0M56.67 166.8h0M48.39 181.28h0M26.76 187.23h0M35.75 146.1h0M66.68 133.89h0M79.46 131.3h0M55.31 172.61h0M61.3 133.44h0M103.07 134.87h0M27.13 175.6h0M76.88 160.74h0M98.07 108.19h0M103.95 179.04h0M53.25 149.86h0M90.34 123.84h0M80.59 130.54h0M87.02 128.23h0M67.12 117.82h0M71.91 168.91h0M67.18 143.87h0M27.46 141.74h0M60.16 126.08h0M65.28 161.46h0M32.97 118.9h0M39.56 166.85h0M59.88 170.8h0M26.35 177.18h0M30.77 137.23h0M93.65 167.95h0M31.89 169.5h0M37.42 108.97h0M90.15 155.86h0M79.43 122h0M82.72 159h0M65.28 111.9h0M63.48 182.87h0M81.91 181.73h0M60.77 124.43h0M74.49 159.25h0M32.37 160.88h0M96.29 114.17h0M26.87 124.19h0M92.76 156.63h0M36.13 152.99h0M25.11 129.61h0M55.08 112.61h0M53.15 160.87h0M89.41 179.04h0M34.1 168.09h0M87.44 125.76h0M25.4 172.88h0M34.36 161.56h0M95.5 187.68h0M64.81 120.08h0M91.22 142.11h0M74.54 141.45h0M54.7 109.71h0M74.33 162.51h0M62.54 149.78h0M27.1 181.91h0M90.24 146.22h0M62.76 141.53h0M39.79 122.89h0M84.16 112.27h0M65.23 127.44h0M45.54 147.59h0M40.97 124.62h0M101.14 174.82h0M53.63 119.63h0M38.7 186.28h0M54.53 160.17h0M64.34 157.15h0M35.15 186.61h0M40.38 112.89h0M80.91 148.87h0M80.56 135.71h0M94.85 123.24h0M54.97 114.97h0M39.17 162.3h0M73.78 117.35h0M62.77 165.66h0M49.97 113.65h0M48.63 120.07h0M25.4 148.35h0M63.18 138.4h0M44.61 141.62h0M72.73 150.57h0M51.68 171.24h0M26.77 130.04h0M77.73 119.13h0M77.52 127.02h0M50.75 139.59h0M92.39 186.73h0M62.61 115.82h0M62.38 149.1h0M65.44 136.94h0M44.76 176.14h0M66.29 143.94h0M45.71 108.41h0M96.01 162.39h0M84.64 170.38h0M78.5 109.8h0M92.84 131.96h0M100.5 121.38h0M59.25 172.33h0M85.33 186.43h0M98.88 175.59h0M79.31 145.86h0M89.32 121.81h0M53.05 128.49h0M59.78 181.43h0M37.01 124.24h0M91.78 113.2h0M69.18 158.96h0M58.34 186.81h0M91.98 121.86h0M76.78 110.49h0M69.75 110.15h0M100.83 125.41h0M61.65 135.61h0M62.43 178.97h0M39.31 112.62h0M95.42 118.85h0M104.01 162.54h0M29.33 131.4h0M57.06 140.23h0M59.78 165.18h0M30.86 133.23h0M57.37 182.11h0M92.65 172.35h0M100.33 179.48h0M79.07 161.9h0M66.66 179.42h0M26.64 131.04h0M51.72 136.08h0M66.46 182.47h0M78.24 132.69h0M74.25 156.17h0M75.9 149.02h0M98.36 154.12h0M93.03 172.24h0M70.82 165.64h0M71.05 155.53h0M48.41 166.79h0M32.43 152.26h0M85.5 178.9h0M49.38 129.5h0M27.13 175.29h0M30.19 115.15h0M76.13 133.23h0M61.56 111.41h0M67.1 175.36h0M70.6 176.17h0M103.01 114.51h0M55.74 160.56h0M97.99 127.45h0M57.52 184.65h0M32.23 115.89h0M46.36 167.43h0M51.72 165.86h0M94.39 142.4h0M48.71 138.74h0M40.56 152.6h0M78.07 136.09h0M26.14 156.16h0M58.57 186.91h0M66.99 130.49h0M67.66 144.57h0M70.85 177.95h0M91.41 182.17h0M87.36 124.57h0M39.87 157.1h0M103.24 113.23h0" stroke="#a47a62" stroke-width="1.05" stroke-linecap="round" opacity="0.45" fill="none"/>
<path d="M83.04 179.74h0M101.85 141.47h0M68.63 150.89h0M79.2 167.43h0M64.37 160.26h0M26.61 186.6h0M33 138.85h0M68.32 151.06h0M94.96 149.42h0M78.19 159.66h0M40.56 158.42h0M82.13 121.49h0M90.41 122.84h0M64.36 150.09h0M68.65 166.06h0M83.3 171.05h0M64.54 127.51h0M28.86 161.16h0M79.76 162.21h0M35.28 185.01h0M103.83 129.13h0M72.5 183.17h0M44.05 152.06h0M96.91 120h0M55.2 137.51h0M48.56 166.1h0M88.32 148.18h0M78.2 181.65h0M66.38 115.39h0M30.97 122.4h0M62.35 134.25h0M36.03 122.7h0M88.07 133.68h0M82.75 157.64h0M30.71 151.88h0M101.68 117.56h0M47.84 129.79h0M40.39 177.35h0M49.55 108.84h0M51.57 139.14h0M45.09 109.95h0M48.77 172.48h0M27.28 131.31h0M57.91 136.85h0M68.17 161.05h0M47.57 149.54h0M87.3 174.16h0M90.87 165.14h0M33.34 128.37h0M79.57 141.51h0M75.76 111.41h0M74.43 176.98h0M47.7 142.78h0M80.89 186.3h0M64.35 120.19h0M74.19 154.57h0M90.09 187.33h0M32.82 143.21h0M28.88 171.05h0M25.72 126.15h0M96.63 112.39h0M40.29 135.02h0M73.83 137.15h0M89.37 173.12h0M36.22 184.19h0M96.16 138.85h0M28.18 165.56h0M86.05 181.48h0M92.18 160.88h0M33.73 144.56h0M43.3 158.7h0M46.15 110.38h0M35.77 127.55h0M44.23 140.68h0M25.13 185.79h0M43.5 147.52h0M66.49 130.39h0M40.87 177.97h0M102.89 160.09h0M88.96 116.42h0M47.48 182.89h0M102.25 111.16h0M100.5 175.73h0M39.7 128.3h0M54.44 125.7h0M34.71 151.38h0M54.16 116.66h0M91.94 114.64h0M55.16 122.98h0M68.31 169.83h0M39.28 157.36h0M91.03 135.37h0M55.26 115.29h0M94.15 119.71h0M78.74 110.51h0M30.67 111.49h0M31.65 136.96h0M51.12 120.77h0M45.13 158.04h0M33.7 108.48h0M56.16 177.28h0M90.64 126.43h0M71.33 158.25h0M103.81 138.9h0M72 143.09h0M69.67 150.26h0M95.68 146.94h0M92.56 169.12h0M38.38 157.78h0M96.36 177.04h0M98.79 178.14h0M80.07 148.34h0M103.37 186.01h0M75.84 151.77h0M34.68 132.61h0M27.16 177.34h0M42.35 162.91h0M60.6 149.47h0M84.23 161.88h0M29.27 172.82h0M81.55 153.62h0M45.51 174.77h0M88.11 144.82h0M83 176.59h0M61.32 173.02h0M27.52 157.06h0M76.39 150.65h0M31.72 151.19h0M97.73 181.83h0M70.8 158.02h0M53.39 159.13h0M83.27 178.84h0M93.14 126.71h0M88.97 136.23h0M51.09 153.18h0M33.19 154h0M39.94 110.71h0M75.77 180.59h0M34.74 181.62h0M39.33 168.26h0M45.79 121.54h0M100.58 164.14h0M56.9 131.57h0M60.03 155.6h0M104.03 108.5h0M60.91 138.27h0M39.83 142.63h0M27.08 157.58h0M56.71 119.49h0M47.46 143.62h0M47.14 175.69h0M72.97 111.89h0M25 144.74h0M85.92 177.85h0M44.53 180.67h0M94.7 181.63h0M101.22 136.73h0M91.96 134.46h0M36.5 130.45h0M83.29 181.75h0M98.93 134.32h0M35.82 169.91h0M70.79 145.97h0M103.86 137.71h0M104.15 179.75h0M51.99 164.35h0M37.85 111.75h0M33.94 131.58h0M71.88 179.47h0M53.36 145.67h0M103.62 144.18h0M80.23 169.49h0M104.81 131.84h0M77.9 131.23h0M92.71 170.9h0M53.73 108.08h0M74.43 118.78h0M86.33 128.59h0M59.58 118.32h0M36.94 130.99h0M103.65 169.97h0M63.61 169.08h0M85.41 134.88h0M50.7 109.59h0M26.27 164.11h0M30.61 111.02h0M79.57 181.04h0M76.81 119.09h0M34.03 177.38h0M102.41 182.13h0M37.73 157.22h0M76.78 111.92h0M35.04 127.38h0M27.17 152.09h0M100.24 184.21h0M34.82 121.33h0M75.78 179.55h0M40.69 179.63h0M39.82 151.99h0M77.51 149.44h0M81.83 113.83h0M82.82 150.8h0M29.22 168.62h0M51.41 179.53h0M30.8 150.82h0M36.98 108.15h0M59.37 187.29h0M52.49 167.58h0M86.08 162.64h0M74.98 109.16h0M60.41 133.37h0M76.22 161.94h0M93.66 119.85h0M83.41 111.07h0M101.6 174.93h0M47.33 179.47h0M68.36 110.82h0M93.5 118.73h0M48.11 120.51h0M64.45 162.76h0M79.77 122h0M48.75 138.76h0M45.85 160.69h0M58.96 158.35h0M51.83 174.83h0M92.45 150.82h0M40.68 171.47h0M41.11 185.51h0M78.19 177.13h0M35.27 187.29h0M51.81 185.31h0M73.63 171.53h0M51.27 182.96h0M95.38 133.48h0M57.68 174.1h0M36.38 187.26h0M29.06 135.34h0M104.27 179.44h0M79.93 177.72h0M73.2 181.46h0M80.85 111.2h0M90.37 166.86h0M77.7 145.91h0M66.16 155.05h0M78.82 174.32h0M27.87 130.25h0M57.56 108.75h0M77.22 146.18h0M52.47 130.94h0M83.52 158.05h0M101 181.34h0M80.55 148.24h0M44.8 113.37h0M56.02 162.72h0M47.59 162.31h0M39.43 177.79h0M90.96 155.34h0M67.99 126h0M83.42 165.81h0M97.48 129.62h0M37.47 124.11h0M94.94 151.24h0M82.19 183.22h0M48.76 162.64h0M66.25 168.76h0M54.03 182.97h0M26.26 175.36h0M71.59 121.12h0M94.05 133.99h0M77.92 167.73h0M32.96 133.64h0M93.65 156.76h0M102.71 128.75h0M50.33 183.58h0M88.98 138.89h0M33.44 183.74h0M56.55 119.47h0M43.53 122.11h0M82.55 137.79h0M65.26 122.88h0M102.6 118.33h0M96.02 149.24h0M98.17 187.71h0M88.28 152.41h0M51.14 172.72h0M67.46 178.02h0M89.11 153.62h0M97.45 112.54h0M76.79 183.07h0M86.54 108.92h0M60.75 185.26h0M26.44 111.15h0M78.2 184.75h0M76.41 125.65h0M81.51 135.01h0M73.74 113.82h0M85.89 155.07h0M71.97 127.02h0M101.12 137.34h0M68.69 158.72h0M34.8 119.62h0M71.44 120.69h0M48.94 127h0M41.48 153.23h0M65.19 181.56h0M68.75 177.28h0M78.53 115.03h0M42.48 135.75h0M70.56 124.17h0M68.34 108.89h0M38.37 155.47h0M33.09 162.41h0M61.21 168.64h0M103.41 125.19h0M75.91 112.93h0M63.33 153.2h0M49.58 120.08h0M100.3 158.14h0M55.32 127.43h0M80.35 168.18h0M30.64 144.35h0M99.77 172.11h0M102.25 180.61h0M57.84 121.4h0M62.73 126.26h0M70.46 171.95h0M43.46 185.49h0M103.01 164.29h0M69.98 187.35h0M51.03 140.52h0M92.87 160.23h0M28.88 154.67h0M58.35 159.97h0M26.9 174.87h0M26.24 128.15h0M69.51 139.54h0M80.48 134.78h0M51.93 145.29h0M86.49 135.39h0M68.38 155h0M38.49 125.39h0M94.97 128.38h0M69.82 159.45h0M67.93 119.49h0M31.18 180.9h0M88.23 124.15h0M32.08 148.25h0M28.83 127.16h0M60.08 149.78h0M98.35 170.51h0M54.37 176.46h0M61.92 148.16h0M62.01 153.75h0M28.81 114.72h0M73.84 112.74h0M70.74 167.43h0M64.28 183.87h0M55.7 143.89h0M74.13 121.55h0M47.54 184.64h0M30.59 126.2h0M68.38 148.2h0M47.09 130.39h0M67 142.08h0M86.28 176.92h0M63.12 157.18h0M52.92 111.12h0M87.02 133.62h0M32.76 128.41h0M91.24 135.03h0M26.69 173.2h0M34.04 170.16h0M34.8 174.09h0M55.81 186.38h0M41.22 175h0M70.11 163.23h0M62.13 170.57h0M87.96 125.78h0M101.1 132.95h0M31.97 133.46h0M31.81 131.53h0M27.93 168.41h0M36.7 148.9h0M46.36 152.8h0M31.27 133.99h0M84.63 121.61h0M64.67 157.16h0M83.34 130.76h0M45.61 170.24h0M71.35 186.65h0M103.97 121.8h0M56.92 156h0M36.14 178.3h0M68.11 187.7h0M38.3 119.65h0M76.06 167.56h0M42.41 184.05h0M36.28 162.5h0M90.08 155.19h0M46.91 125.06h0M38.15 125.82h0M101.93 183.46h0M38.47 163.61h0M60.39 127.57h0M74.3 145.62h0M62.09 121.51h0M26 144.43h0M28.21 149.03h0M27.33 177.57h0M77.57 159.78h0M27.06 129.7h0M47.27 187.42h0M91.33 164.19h0M61.06 129.42h0M32.58 128.89h0M41.7 145.97h0M65.17 113.25h0M67.02 165.5h0M85.66 178.95h0M100.95 147.71h0M27.8 152.76h0M86.6 132.41h0M96.97 157.17h0M32.36 168.89h0M53.66 166.02h0M55.28 140.54h0M34.74 179.12h0M69.11 162.94h0M75.92 154.44h0M73.36 178.6h0M61.21 133.28h0M97.73 175.68h0M81.27 142.57h0M97.43 130.65h0M61.14 122.42h0M101.62 123.35h0M28.25 165.93h0M33.01 113.09h0M54.53 145.01h0M66.66 131.12h0M88.36 184.16h0M53.7 162.91h0M42.15 143.52h0M78.34 114.39h0M66.54 118.02h0M60.58 134.71h0M52.66 163.49h0M72.03 116.23h0M60.63 133.1h0M84.03 128.34h0M38.39 132.51h0M37.6 170.2h0M42.43 127.38h0M66.98 109.43h0M27.26 162.12h0M80.4 130.34h0M29.96 167.43h0M25.18 151.44h0M47.24 123.76h0M30.97 161.37h0M55.62 179h0M29.56 119.58h0M79.49 173.17h0M86.14 151.51h0M90.89 154.35h0M53.03 181.62h0M64.81 140.37h0M32.98 169.96h0M104.62 167.1h0M101.5 167.09h0M69.77 152.29h0M42.85 145.6h0M31.66 186.39h0M43.52 126.43h0M92.26 187.15h0M26.52 149.85h0M32.69 186.95h0M44.24 185.84h0M101.75 166.6h0M35.67 172.35h0M81.28 179.96h0M53.65 159.22h0M50.68 167.27h0M84.29 172.34h0M60.67 144.24h0M53.45 117.83h0M37.55 168.42h0M69.78 137.38h0M95.77 117.67h0M98.16 123.14h0M36.82 132.25h0M81.68 124.95h0M71.54 186.21h0M82.8 159.45h0M99.97 121.39h0M39.05 123.59h0M100.33 186.42h0M61.42 145.31h0M45.25 108.15h0M41.85 185.28h0M103.54 180.97h0M52.71 139.28h0M92.08 127.7h0M56.21 186.78h0M39.06 147.68h0M82.15 149.17h0M41.23 183.16h0M84.36 164.39h0M26.58 135.27h0M64.11 163.84h0M83.26 166.72h0M49.57 154.29h0M70.95 148.94h0M83.58 167.86h0M30.27 114.84h0M53.3 171.1h0M35.94 117.15h0M97.93 167.4h0M72.04 155.71h0M44.35 111.63h0M71.81 174.1h0M55.69 112.58h0M42.84 183.02h0M52.24 145.4h0M86.96 132.15h0M30.2 163.5h0M65.55 160.99h0M47.39 136.29h0M59.38 157.7h0M88.27 149.3h0M31.21 180.38h0" stroke="#a47a62" stroke-width="1.4" stroke-linecap="round" opacity="0.45" fill="none"/>
<path d="M26.5 168.71h0M28.09 155.05h0M32.35 156.93h0M67.65 165.07h0M57.91 159.89h0M83 161.9h0M35.45 167.97h0M74.55 154.26h0M50.14 156.93h0M82.2 183.98h0M82.84 144.58h0M41.57 179.41h0M95.29 129.42h0M79.8 108.69h0M55.57 128.12h0M63.8 171.59h0M81.24 122.1h0M47.3 132.07h0M95.27 185.7h0M87.72 112.92h0M82.44 124.24h0M67.54 138.59h0M66.73 178.1h0M102.57 141.9h0M77.91 125.6h0M49.75 183.98h0M93.8 114.5h0M31.29 152.27h0M80.8 170.2h0M62.97 143.52h0M63.11 151.63h0M49.12 111.8h0M42.68 128.08h0M64.3 132.93h0M72.28 125.81h0M85.08 118.39h0M46.12 119.08h0M97.09 119.43h0M37.3 176.66h0M33.5 120.22h0M69.23 125.24h0M103.79 145.59h0M87.68 126.58h0M76.78 119.94h0M57.62 177.43h0M90.4 135.47h0M62.51 120.65h0M64.37 123.57h0M87.7 127h0M100.3 186.81h0M65.45 180.47h0M64.5 114.45h0M46.58 120.86h0M67.73 151.89h0M38 139.42h0M75.35 159.03h0M99.91 145.66h0M101.83 109.33h0M97.76 168.65h0M101.72 146.5h0M62.83 140.63h0M54.75 153.85h0M66.76 126.45h0M97.56 128.57h0M49.46 179.59h0M47.4 136.82h0M37.29 135.08h0M101.16 157.76h0M28.94 140.56h0M27.37 175.02h0M75.69 145.27h0M29.53 127.43h0M60.02 152.12h0M31.38 123.52h0M51.06 148.29h0M30.65 143.54h0M50.53 140.73h0M68.07 134.55h0M60.21 171.46h0M76.23 151.97h0M58.27 164.27h0M55.51 121.21h0M75.55 124.07h0M84.4 183.7h0M55.26 134.79h0M60.95 128.1h0M84.47 114.03h0M29.67 131.24h0M102.97 161.37h0M45.59 171.75h0M43.72 187.62h0M44.43 125.21h0M38.27 160.9h0M43.3 156.99h0M78.19 174.58h0M57.2 136.9h0M76.09 185.74h0M83.54 109.03h0M59.26 153.47h0M78.09 172.65h0M88.96 117.91h0M84.16 153.89h0M54.28 164.47h0M46.1 187.24h0M26.08 168.09h0M95.94 163.47h0M88.98 169.74h0M104.93 149.36h0M46.61 175.25h0M76.49 152.38h0M75.24 119.02h0M29.27 151.93h0M54.6 141.02h0M42.21 183.65h0M102.78 162.71h0M52.95 184.59h0M78.59 108.95h0M62.61 138.27h0M43 147.67h0M36.12 153.46h0M26.35 112.05h0M100.54 149.6h0M48.8 161.45h0M104.91 110.13h0M48.92 169.23h0M74.09 158.98h0M25.89 162.09h0M90.97 158.46h0M92.17 170.71h0M52.73 170.44h0M48.4 164.38h0M26.05 114.71h0M44.81 156.8h0M49.49 144.96h0M64.56 140.63h0M32.48 126.14h0M69.98 113.66h0M93 153.89h0M70.87 118.39h0M89.06 162.96h0M77.59 152.34h0M51.38 169.42h0M27.11 163.29h0M94.17 138.03h0M45.52 133.21h0M71.18 165.82h0M26.51 121.2h0M80.7 133.18h0M57.36 174.02h0M58.95 175.09h0M75.43 146.11h0M86.17 158.94h0M101.15 166.61h0M68.64 140.99h0M75.43 184.23h0M91.33 145.33h0M52.48 152.98h0M40.94 128.56h0M49.74 120.29h0M63.69 114.34h0M25.29 150.07h0" stroke="#8880b8" stroke-width="0.7" stroke-linecap="round" opacity="0.4" fill="none"/>
<path d="M29.09 173.87h0M63.09 156.7h0M74.23 113.55h0M73.92 129.76h0M88.53 187.42h0M49.52 186.24h0M34.37 184.01h0M81.68 181.22h0M76.01 160.23h0M50.84 160.52h0M41.46 173.07h0M86.27 167.27h0M83.11 163.02h0M30.72 131.98h0M80.87 128.99h0M69.21 145.94h0M73.26 118.13h0M93.87 174.47h0M68.12 164.4h0M103.69 110.89h0M83.41 118.91h0M67.71 140.33h0M83.82 156.7h0M47.45 166.5h0M30.25 120.05h0M50.81 150.82h0M58.17 115h0M27.11 125.31h0M33.49 117.63h0M47.77 149.37h0M75.93 184.75h0M34.51 152.74h0M46.31 159.87h0M55.29 128.2h0M63.86 184.32h0M96.75 174.46h0M44.62 135.56h0M82.39 148.87h0M82.86 109.21h0M50.94 186.03h0M69.88 109.59h0M80.93 114.96h0M27.23 167.07h0M51.61 180.59h0M36.29 139.99h0M28.34 172.36h0M34.8 166.66h0M93.08 126.74h0M28.42 184.72h0M63.22 138.81h0M70.29 154.7h0M36.13 125.21h0M63.39 183.21h0M100.44 166.38h0M104.87 171.91h0M55.52 187.69h0M64.83 177.79h0M86.93 163.69h0M82.86 130.46h0M44.3 138.89h0M79.41 182.91h0M103.9 142.11h0M95.54 176.03h0M72.39 184.83h0M84.82 170.24h0M31.51 140.97h0M65.42 166.63h0M30.62 141.08h0M101.8 114.36h0M63.88 112.93h0M34.13 142.18h0M103.92 129.81h0M47.83 154.35h0M65.94 177.82h0M91.4 153.95h0M59.93 174.49h0M103.83 166.64h0M71.97 142.22h0M53.19 121.17h0M30.13 172.7h0M76.88 184.44h0M40.57 168.18h0M78.69 157.21h0M86.95 181.22h0M34.98 164.2h0M55.54 113.03h0M98.12 144.1h0M91.12 177.9h0M95.3 170.83h0M68.7 144.07h0M71.5 159.74h0M55.55 149.37h0M102.33 160.95h0M55.29 135.24h0M83.72 143.87h0M87.48 182.77h0M75.88 124.28h0M49.89 110.14h0M80.2 122.7h0M81.66 170.27h0M88.83 178.59h0M92.04 155.63h0M77.98 130.68h0M75.5 184.28h0M68.8 155.69h0M50.11 143.03h0M38.35 116.3h0M104.55 137.17h0M62.09 139.56h0M96.64 149.97h0M58.67 186.05h0M44.53 159.51h0M37.73 179.47h0M48.81 115.49h0M86.3 187.18h0M68.76 168.81h0M49.57 175.43h0M74.6 183.18h0M73.03 148.06h0M26.29 169.56h0M100.08 117.86h0M30.34 120.78h0M81.72 171.45h0M53.23 145.8h0M56.55 131.51h0M41.14 162.45h0M45.53 167.76h0M66.63 113.39h0M31.04 148.38h0M44.34 128.51h0M68 133.21h0M46.27 121.77h0M92.28 164.52h0M71.6 164.97h0M104.96 184.02h0M99.99 143.66h0M94.89 123.27h0M74.98 112.84h0M28.65 181.49h0M97.34 116.53h0M78.82 132.5h0M81.37 176.78h0M38.53 143.29h0M96.88 117.8h0M46.31 138.43h0M39.38 115.34h0M75.54 173.35h0M54.15 178.96h0M90.77 134.44h0M77.37 137.07h0M80.88 186.14h0M38.19 186.27h0M33.04 165.13h0M102.42 124.93h0M77.93 162.26h0M38.13 134.82h0M84.05 175.88h0M57.82 179.36h0M95.33 174.44h0M81.87 178.1h0M88.61 130.91h0M26.87 138.35h0M41.76 114.02h0" stroke="#8880b8" stroke-width="0.95" stroke-linecap="round" opacity="0.4" fill="none"/>
<path d="M26.35 175.42h0M48.11 143.73h0M54.29 128.66h0M38.95 144.43h0M67.63 143.1h0M38.43 187.31h0M25.29 184.51h0M45.75 164.15h0M49.44 162.23h0M90.82 158.64h0M34.04 172.55h0M77.93 114.43h0M31.73 177.23h0M58.53 179h0M93.41 173.46h0M36.14 140.65h0M54.91 183.47h0M63.1 151.33h0M36.01 144h0M51.91 157.01h0M54.68 116.61h0M37.82 150.61h0M102.4 164h0M47.21 142.29h0M45.1 173.43h0M62.57 128.9h0M91.47 110.13h0M34.52 120.06h0M95.71 165.81h0M91.29 166.21h0M53 160.69h0M55.89 156.98h0M85.35 172.88h0M28.49 130.83h0M34.89 108.46h0M91.12 156.42h0M84.04 134.24h0M48.08 146.52h0M42.49 152.36h0M95.65 117.69h0M60.96 115.34h0M100.48 179.11h0M101.17 109.64h0M83.01 124.81h0M91.84 113.51h0M54.24 183.48h0M63.19 149.22h0M102.26 144.47h0M76.29 131.54h0M71 152.85h0M45.89 120.09h0M59.58 108.26h0M51.8 176h0M94.76 128.49h0M32.8 127.14h0M103.42 170.12h0M67.29 145.45h0M84.11 140.87h0M59.32 137.08h0M98.9 177.86h0M72.79 186.73h0M85.67 113.19h0M100.77 150.45h0M99.06 175.02h0M72.06 108.22h0M77.05 123.84h0M59.47 181.26h0M104.19 182.77h0M72.01 111.63h0M70.62 154.35h0M71.43 178.74h0M96.89 182.99h0M34.59 171.93h0M54.84 140.97h0M56.82 151.88h0M72.73 178.38h0M102.52 149.47h0M89.61 116.02h0M56 138.56h0M59.11 136.37h0M78.36 129.34h0M50.87 187.14h0M83.26 121.33h0M53.14 142.74h0M102.88 160.07h0M96.39 160.47h0M73.06 127.18h0M45.78 138.4h0M37.66 185.6h0M102.98 169.65h0M100.22 156.7h0M55.57 131.59h0M93.67 158.69h0M98.28 167.02h0M61.22 116.38h0M77.76 178.03h0M46.78 122.72h0M56.91 187.47h0M86.17 166.9h0M54.67 169.45h0M62.58 133.54h0M66.16 115.05h0M37.25 166.88h0M60.76 152.76h0M50.45 176.07h0M77 126.69h0M84.76 178.27h0M96.41 125.31h0M44.9 181.29h0M92.49 164.42h0M75.21 115.18h0M97.57 173.13h0M29.28 170.79h0M76.29 119.22h0M26.47 157.4h0M51.02 170.29h0M72.26 140.39h0M103.93 185.13h0M38.65 168.36h0M98.61 175.35h0M95.9 165.6h0M56.74 147.21h0M34.49 181.97h0M57.92 167.29h0M77.04 150.25h0M104.1 174.75h0M47.16 182.34h0M39.44 159.57h0M70.03 158.53h0M75.37 187.58h0M72.77 143.95h0M67.63 176.36h0M98.64 131.79h0M55.03 151.86h0M72.89 113.39h0M50.76 175.37h0M53.74 113h0M45.74 167.64h0M35.49 156.3h0M63.49 181.95h0M44.64 131.69h0M57.05 116.99h0M46.84 147.99h0M42.58 176.48h0M25.55 156.48h0M57.87 127.34h0M97.17 144.25h0M43.32 187.16h0M92.97 134.13h0M45.67 120.58h0M102.4 134.13h0M51.75 154.37h0M31.3 186.13h0M81.13 126.47h0M69.96 151.53h0M29.31 133.24h0M78.77 181.07h0M68.21 153.15h0M29.37 109.75h0M51.18 180.33h0M35.64 181.94h0M45.25 187.93h0M72.06 173.37h0M65.74 154.05h0M41.93 160.78h0M61.29 187.92h0M54.17 133.37h0M82.87 165.47h0M48.22 116.03h0M80.92 163.14h0M73.19 175.29h0M80.16 115.2h0M51.82 122.92h0M104.73 138.39h0M95.36 172h0M56.48 137.3h0" stroke="#8880b8" stroke-width="1.2" stroke-linecap="round" opacity="0.4" fill="none"/>
<path d="M62.17 108.24h0M49.55 137.69h0M58.57 127.9h0M26.28 143.24h0M89.11 152.13h0M27.87 115.97h0M26.67 183.65h0M27.79 162.56h0M94.38 143.01h0M96.08 168.62h0M96.26 135.1h0M56.31 172.33h0M96.68 152.22h0M59.11 159.9h0M27.76 175.58h0M62.41 111.77h0M104.14 118.77h0M42.33 179.45h0M84.82 182.1h0M73.98 115.62h0M71.55 186.53h0M84.69 108.18h0M67.94 141.24h0M69.15 184.69h0M58.36 183.75h0M33.62 142.72h0M41.85 148.48h0M47.08 155.36h0M67.11 120.49h0M60.49 156.31h0M35.8 146.78h0M50.82 169.76h0M54.75 156.5h0M44.1 108.51h0M46.08 187.94h0M102.59 134.43h0M35.99 169.85h0M60.02 169.71h0M26.79 171.29h0M60.76 115.02h0M82.05 135.11h0M54.82 182.66h0M55.08 176.24h0M88.79 134.91h0M104.21 122.77h0M89.92 143.62h0M42.24 124.08h0M68.89 172.32h0M100.38 109.45h0M28.33 125.6h0M56.69 150.48h0M57.89 167.13h0M96.57 180.84h0M50.63 124.2h0M45.99 186.23h0M38.09 170.7h0M74.34 130.18h0M71.58 144.15h0M28.63 152.47h0M26.91 165.3h0M76.08 177.57h0M98.07 165.3h0M98.15 187.33h0M79.39 157.67h0M43.66 172.21h0M78.93 140.38h0M38.83 177.95h0M60.15 118.75h0M39.79 184.49h0M95.14 181.43h0M86.11 121.29h0M54.32 126.33h0M44.94 147.36h0M81.35 180.55h0M84.94 151.68h0M38.56 174.51h0M29.82 115.9h0M97.06 120.72h0M85.54 152.22h0M100.99 160.25h0M84.44 136.19h0M87.82 159.28h0M75.7 163.52h0M96.88 130.87h0M81.78 169.77h0M70.57 178.57h0M100.52 173.39h0M70.88 131.82h0M57.12 123.03h0M77.4 118h0M68.66 182.4h0M42.62 183.16h0M72.25 120.45h0M99.88 174.52h0M83.23 124.61h0M55.16 140.36h0M61.1 141.26h0M34.07 185.76h0M65.88 171.92h0M25.6 157.85h0M37.58 181.26h0M52.82 133.47h0M103.27 114.08h0M48.33 111.79h0M28.99 170.65h0M66.13 114.3h0" stroke="#f6f0ee" stroke-width="1" stroke-linecap="round" opacity="0.8" fill="none"/>
<path d="M78 174.36h0M80.57 110h0M37.29 120.64h0M32.7 177.51h0M98.32 143.2h0M71.69 137.92h0M78.63 146.22h0M102.12 185.03h0M78.18 154.05h0M94.99 153.03h0M73.67 123.3h0M99.59 181.68h0M98.54 146.14h0M55.75 180.04h0M82.85 170.59h0M34.78 130.65h0M50.86 185.34h0M80.89 158.17h0M86.12 177.24h0M47.15 163.48h0M86.18 165.51h0M83.29 170.44h0M26.29 135.7h0M54.39 184.2h0M103.65 137.66h0M77.49 120.33h0M38.52 129.47h0M102.02 133.64h0M55.56 162.04h0M51.58 110.23h0M42.28 121.57h0M61.21 152.44h0M61.64 117.15h0M54.76 137.04h0M44.37 184.32h0M77.28 179.97h0M77.82 159.57h0M102.56 168.46h0M77.1 186.64h0M70.14 111.74h0M80.61 146.46h0M37.71 139.64h0M33.91 146.3h0M80.55 134.21h0M76.88 158.21h0M25.46 132.82h0M84.05 122.95h0M37.87 170.35h0M58.58 164.91h0M35.5 125.09h0M62.56 112.51h0M49.29 120.52h0M71.77 162.12h0M93.29 176.76h0M102.02 151.75h0M104.06 184.49h0M103.54 175.94h0M39.33 128.33h0M55.54 136.8h0M34.15 120.05h0M26.92 147.34h0M25.84 108.29h0M31.81 184.02h0M82.36 181.25h0M102.02 186.25h0M73.47 116.91h0M54.47 135.9h0M70.43 185.57h0M55.95 187.61h0M80.34 119.38h0M27.44 113.49h0M69.59 126.85h0M30.87 136.87h0M92.23 119.73h0M90.17 181.68h0M55.25 144.74h0M84.75 152.35h0M64.13 129.85h0M62.93 161.03h0M80.43 163.92h0M86.24 142.57h0M49.13 144.88h0M99.54 154.1h0M48.95 141.94h0M102.67 149.03h0M88.8 180.03h0M61.51 145.35h0M27.14 121.45h0M93.21 132.66h0M85.45 140.38h0M74.16 117.56h0M74.61 165.12h0M78.84 140.7h0M80.65 180.67h0M61.67 126.84h0M59.16 168.94h0M89.78 119.66h0M79.69 148.99h0M65.49 115.03h0M95.01 171.88h0M61.98 166.01h0" stroke="#f6f0ee" stroke-width="1.5" stroke-linecap="round" opacity="0.8" fill="none"/>
<path d="M89.44 134.72h0M67.32 159.12h0M44.19 185.16h0M93.81 113.93h0M71.69 157.58h0M30.06 141.41h0M31.43 171.08h0M32.16 161.3h0M40.24 153.68h0M30.69 133.28h0M83.34 185.9h0M52.55 124.43h0M41.29 179.2h0M46.97 141.88h0M69.93 165.93h0M44.86 171.5h0M102.26 159.75h0M52.47 171.16h0M38.84 181.76h0M66.29 120.2h0M89.52 115.93h0M42.92 186.66h0M33.63 180.11h0M85.14 111.65h0M83.07 147.43h0M81.48 133.93h0M25.36 140.52h0M77.42 118.74h0M35.88 111.91h0M96.97 152.96h0M103.02 176.07h0M99.05 169.81h0M95.32 161.44h0M53.15 183.54h0M78.91 176.33h0M71.8 129.85h0M52.68 170.97h0M97.1 186.7h0M68.39 180.92h0M65.55 108.77h0M25.51 179.52h0M103.77 127.32h0M75.8 179.71h0M46.33 148.08h0M49.65 133.05h0M34.38 119.7h0M71.73 126.36h0M33 122.7h0M100.59 164.98h0M54.55 125.21h0M87.67 122.96h0M52.56 185.72h0M43.65 123.22h0M49.38 147.6h0M31.16 174.16h0M66.09 119.61h0M33.25 125.35h0M34.11 143.78h0M100.22 126.59h0M33.75 164h0M39.55 182.97h0M63.05 174.12h0M87.88 185.17h0M52.59 134.83h0M65.55 126.77h0M46.21 152.36h0M40.36 126.07h0M48.07 116.4h0M86.53 178.73h0M77.25 119.68h0M81.61 181.81h0M42.72 140.43h0M47.73 182.67h0M95.8 167.52h0M29.79 176.76h0M74.09 128.24h0M104.42 186.68h0M80.88 182.23h0M70.61 186.4h0M60.42 172.86h0M101.41 115.93h0M53.46 140.38h0M44.12 111.27h0M69.87 145.6h0M38.3 156.82h0M92.7 171.26h0M25.79 127.41h0M78.79 141.22h0M89.22 114.41h0M55.35 162.65h0M96 182.88h0M77.65 162.12h0M69.12 134.96h0" stroke="#f6f0ee" stroke-width="2" stroke-linecap="round" opacity="0.8" fill="none"/>
</g>
<g clip-path="url(#hc12)">
<rect x="60" y="108" width="45" height="45" fill="#ece2de"/>
<g filter="url(#hb13)" fill="#c47a40" opacity="0.62"><ellipse cx="82" cy="133" rx="14" ry="12" transform="rotate(0 82 133)"/><ellipse cx="98" cy="120" rx="6" ry="10" transform="rotate(0 98 120)"/><ellipse cx="100" cy="143" rx="5" ry="9" transform="rotate(0 100 143)"/><ellipse cx="72" cy="148" rx="10" ry="4" transform="rotate(0 72 148)"/><ellipse cx="88" cy="114" rx="8" ry="4" transform="rotate(0 88 114)"/><ellipse cx="68" cy="136" rx="4" ry="8" transform="rotate(0 68 136)"/></g>
<rect x="60" y="108" width="45" height="45" fill="#fff" filter="url(#n8)"/>
<ellipse cx="80" cy="130" rx="4.5" ry="6" fill="#faf6f4"/>
<ellipse cx="62" cy="120" rx="2.5" ry="9" fill="#faf6f4"/>
<ellipse cx="94" cy="136" rx="1.5" ry="9" fill="#f4eeee"/>
<g fill="#6e6ebe" opacity="0.8"><ellipse cx="61.35" cy="145.54" rx="1.44" ry="1.48" transform="rotate(53 61.35 145.54)"/><ellipse cx="76.2" cy="144.57" rx="1.45" ry="1.28" transform="rotate(27 76.2 144.57)"/><ellipse cx="93.51" cy="140.97" rx="1.62" ry="1.49" transform="rotate(27 93.51 140.97)"/><ellipse cx="66.89" cy="115.6" rx="1.82" ry="1.58" transform="rotate(50 66.89 115.6)"/><ellipse cx="98.34" cy="117.26" rx="1.74" ry="1.07" transform="rotate(169 98.34 117.26)"/><ellipse cx="93.53" cy="130.56" rx="1.76" ry="1.36" transform="rotate(64 93.53 130.56)"/><ellipse cx="76.09" cy="138.94" rx="1.49" ry="1.04" transform="rotate(32 76.09 138.94)"/><ellipse cx="104.92" cy="115.12" rx="1.83" ry="1.24" transform="rotate(84 104.92 115.12)"/><ellipse cx="103.74" cy="137.1" rx="2.09" ry="1.19" transform="rotate(101 103.74 137.1)"/><ellipse cx="85.16" cy="134.24" rx="1.68" ry="1.44" transform="rotate(37 85.16 134.24)"/><ellipse cx="100.08" cy="129.32" rx="2.29" ry="1" transform="rotate(7 100.08 129.32)"/><ellipse cx="62.9" cy="130.63" rx="1.51" ry="1.33" transform="rotate(24 62.9 130.63)"/><ellipse cx="64.67" cy="136.18" rx="2.29" ry="1.43" transform="rotate(10 64.67 136.18)"/><ellipse cx="84.2" cy="150.16" rx="1.62" ry="1.58" transform="rotate(151 84.2 150.16)"/><ellipse cx="94.97" cy="135.02" rx="1.76" ry="1.05" transform="rotate(25 94.97 135.02)"/><ellipse cx="62.94" cy="148.15" rx="2.13" ry="1.24" transform="rotate(155 62.94 148.15)"/><ellipse cx="83.93" cy="138.81" rx="1.47" ry="1.59" transform="rotate(49 83.93 138.81)"/><ellipse cx="80.99" cy="137.9" rx="1.68" ry="1.36" transform="rotate(84 80.99 137.9)"/><ellipse cx="70.32" cy="144.57" rx="1.55" ry="1.35" transform="rotate(47 70.32 144.57)"/><ellipse cx="94.73" cy="119.78" rx="2.05" ry="1.25" transform="rotate(108 94.73 119.78)"/><ellipse cx="92.98" cy="144.2" rx="1.46" ry="1.02" transform="rotate(91 92.98 144.2)"/><ellipse cx="91.79" cy="123.29" rx="1.93" ry="1.34" transform="rotate(17 91.79 123.29)"/><ellipse cx="89.81" cy="109.25" rx="1.92" ry="1.26" transform="rotate(87 89.81 109.25)"/><ellipse cx="98.11" cy="140.08" rx="1.99" ry="1.29" transform="rotate(122 98.11 140.08)"/><ellipse cx="89.23" cy="119.47" rx="1.84" ry="1.08" transform="rotate(168 89.23 119.47)"/><ellipse cx="78.55" cy="110.35" rx="1.87" ry="1.21" transform="rotate(99 78.55 110.35)"/><ellipse cx="71.96" cy="147.39" rx="2.13" ry="1.11" transform="rotate(156 71.96 147.39)"/><ellipse cx="87.05" cy="138.57" rx="1.72" ry="1.56" transform="rotate(14 87.05 138.57)"/><ellipse cx="61.19" cy="141.78" rx="1.55" ry="1.35" transform="rotate(31 61.19 141.78)"/><ellipse cx="75.6" cy="123.55" rx="1.92" ry="1.06" transform="rotate(114 75.6 123.55)"/></g>
<path d="M70.72 120.64h0M97.25 139.85h0M95.91 122.48h0M102.69 121.21h0M97.58 150.9h0M60.63 127.34h0M100.41 152.05h0M90.54 142.03h0M80.49 145.5h0M82.54 115.88h0M80.33 147.71h0M76.55 111.89h0M99.69 152.35h0M87.03 138.16h0M78.7 118.65h0M99.11 135.3h0M87.45 129.32h0M88.33 133.89h0" stroke="#8a5028" stroke-width="1" stroke-linecap="round" opacity="0.5" fill="none"/>
<path d="M88.04 119.56h0M63.1 128.79h0M90.41 142.09h0M77.38 134.2h0M63.33 148.64h0M99.87 124.6h0M63.08 149.88h0M87.69 116.58h0M82.23 127.85h0M81.35 112.95h0M61.79 129.56h0M60.21 139.51h0M79.65 134.05h0M61.37 120.1h0M94.32 118.95h0M68.32 147.51h0M95.76 147.8h0M61.14 131.76h0M68.92 130.14h0M65.99 125.18h0" stroke="#8a5028" stroke-width="1.4" stroke-linecap="round" opacity="0.5" fill="none"/>
<path d="M101.98 152.1h0M102.65 130.96h0M89.19 140.41h0M60.62 126.19h0M78.27 141.9h0M102.23 127.53h0M91.02 121.04h0M99.76 109h0M86.86 148.27h0M69.96 144.02h0M60.73 125.52h0M90.09 108.29h0M104.04 120.36h0M83.58 118.49h0M96.37 131.94h0M92.2 135.72h0M92.19 112.04h0M61.84 120.24h0M69.8 116.42h0M104.75 142h0M64.46 116.22h0M102.04 147.76h0" stroke="#8a5028" stroke-width="1.8" stroke-linecap="round" opacity="0.5" fill="none"/>
</g>
<g clip-path="url(#hc14)">
<rect x="110" y="108" width="80" height="80" fill="#e7e8f4"/>
<rect x="110" y="108" width="80" height="80" fill="#fff" filter="url(#n9)"/>
<path d="M165.68 159.67h0M161.79 119.6h0M124.78 167.73h0M130.08 155.68h0M159.85 154.82h0M156.91 143.86h0M152.82 130.13h0M169.66 133.15h0M119.41 169.15h0M187.27 171.39h0M180.09 183.2h0M164.84 180.89h0M129.72 152.75h0M128.66 156.89h0M133.16 160.33h0M148.26 167.17h0M112.37 171.94h0M157.72 174.39h0M140.84 133.82h0M125.9 115.5h0M177.02 145.36h0M130.27 151.95h0M155.51 180.08h0M113.66 168.18h0M122.96 179.05h0M127.97 166.69h0M159.45 145.95h0M145.16 158.64h0M158.99 115.51h0M172.27 132.42h0M117.26 170.57h0M136.63 122.36h0M123.46 131.65h0M116.74 176.3h0M172.94 129.79h0M158.11 182.46h0M155.11 171.01h0M136.39 120.62h0M166.91 145.24h0M121.58 131.44h0M141.31 178.65h0M176.66 125.97h0M118.62 125.87h0M173.84 187.34h0M143.32 115.76h0M130.18 165.16h0M167.86 117.39h0M129.89 182.53h0M170.46 178.24h0M118.59 124.51h0M189.54 124.12h0M111.72 136.11h0M125.56 127.64h0M127.98 169.75h0M156.17 166.85h0M127.78 132.82h0M167.79 124.1h0M165.44 156.07h0M143.06 136.99h0M161.02 174.43h0M189.24 118.51h0M150.52 143.67h0M180.73 123.97h0M177.87 124.19h0M170.74 170.32h0M153.53 142.54h0M149.63 142.64h0M152.61 123.66h0M123.23 156.36h0M148.84 129.04h0M164.34 132.79h0M140.67 115.67h0M148.81 163.79h0M170.98 116.3h0M125.15 141.38h0M178.29 146.8h0M132.04 134.34h0M133.79 127.94h0M159.28 154.09h0M169.88 121.96h0M144.88 127.45h0M169.93 182.81h0M168.92 145.49h0M135.8 133.29h0M117.7 159.22h0M130.48 171.3h0M120 158.72h0M173.65 159.17h0M126.65 122.1h0M129.86 136.5h0M118.1 129.12h0M120.96 153.35h0M148.54 135.98h0M144.52 144.2h0M158.27 150.04h0M112.66 185.81h0M171.81 110.72h0M161.53 112.56h0M166.32 145.78h0M172.5 138.55h0M127.28 167.38h0M182.65 147.94h0M116.25 176.72h0M147.1 168.83h0M153.8 183.38h0M149.76 115.58h0M173.21 151.82h0M127.43 178.78h0M159.85 109.05h0M156.95 128.02h0M128.89 155.05h0M129.94 119.72h0M121.16 171.73h0M187.66 124.81h0M140.17 153.11h0M185.14 129.99h0M126.87 174.75h0M152.08 114.01h0M126.49 171.91h0M169.81 143.47h0M179.59 113.74h0M115.88 136.24h0M158.01 125.1h0M130.71 138.03h0M168.18 159.7h0M138.78 162.9h0M157.92 154.13h0M143.32 111.7h0M170.54 154.28h0M182.91 115.78h0M136.05 109.26h0M169.18 170.77h0M164.53 182.17h0M136.3 159.59h0M114.51 128.51h0M110.98 127.6h0M137.78 169.89h0M163.7 169.45h0M175.66 149.46h0M177.95 121.03h0M130.97 151.15h0M138.85 157.36h0M135.2 172.57h0M142.04 122.18h0M142.65 160.48h0M116.58 113.77h0M123.44 186.5h0M137.42 159.24h0M186.52 168.22h0M179.68 175.98h0M166.72 131.24h0M136.28 121.97h0M125.16 125.74h0M122.09 148.71h0M133.08 130.39h0M163.33 186.89h0M148.34 183.12h0M130.41 133.13h0M152.05 143.43h0M170.1 148.75h0M159.84 125.28h0M176.8 132h0M151.14 147.14h0M180.32 184.39h0M166.68 150.18h0M124.15 181.87h0M150.38 168.73h0M116.37 175.25h0M175.06 124.31h0M117.56 144.74h0M179.71 187.24h0M176.21 183.33h0M127.49 160.04h0M176.77 141.3h0M181.83 169.56h0M142.18 160.7h0M126.47 112.28h0M126.42 157.36h0M176.97 126.16h0M163.2 180.52h0M152.32 170.61h0M182.03 172.49h0M175.19 123.7h0M114.87 172.71h0M168.74 110.18h0M186.92 128.78h0M137.83 175.32h0M111.69 186.49h0M126.81 114.74h0M154.25 148.67h0M184.8 149.84h0M118.58 169.12h0M165.14 186.25h0M177.2 144.02h0M119.14 119.35h0M118.17 154.8h0M176.85 143.16h0M138.09 180.05h0M186.58 177.72h0M125.19 110.24h0M149.84 174.33h0M142.94 177.78h0M158.05 175.4h0M132.89 114.15h0M139.96 146.95h0M173.9 140.38h0M145.35 145.92h0M124.49 146.27h0M170.98 122.18h0M168.92 108.39h0M130.21 187.55h0M161.2 137.16h0M186.12 170.61h0M150.23 155.4h0M113.64 164.76h0M159.97 172.91h0M159.45 183.88h0M151.9 109.51h0M124.06 176.66h0M170.89 132.67h0M134.04 128.12h0M115.88 136.83h0M145.48 141.49h0M177.62 136.68h0M123.37 177.58h0M121.19 171.17h0M120.04 172.67h0M141.05 121.73h0M175.21 171.31h0M120.33 146.75h0M120.56 163.38h0M115.14 126.06h0M134.68 152.2h0M134.42 166.93h0M143.33 119.34h0M182.39 139.04h0M126.87 172.48h0M112.13 186.52h0M133.02 152.23h0M151.65 140.07h0M130.3 123.77h0M114.58 122.72h0M140.63 153.14h0M135.03 163.2h0M148.8 150.69h0M143.44 128.21h0M173.57 142.31h0M160.64 176.33h0M156.78 160.46h0M138.69 177.42h0M165.84 140.71h0M117.47 119.03h0M158.91 129.59h0M128.89 180.59h0M130.89 157.1h0M131.24 126.35h0M189.05 175.2h0M131.53 129.58h0M141.76 118.87h0M141.62 181.86h0M122.01 173.85h0M158.21 186.91h0M183.36 114.44h0M146.22 137.12h0M188.21 129.68h0M186.96 150.31h0M170.85 182.15h0M119.41 129.64h0M163.95 157.7h0M141.36 117.62h0M128.42 145.64h0M179.18 116.8h0M185.36 143.13h0M129.48 124.83h0M184.21 151.18h0M110.55 136.59h0M115.61 162.34h0M123.25 166.85h0M126.31 138.62h0M152.9 126.55h0M150.42 130.99h0M120.24 118.23h0M140.66 114.49h0M144.29 146.33h0M161.03 157.61h0M133.81 148.65h0M168.3 130.01h0M123.05 114.74h0M138.8 133.67h0M120.11 166.32h0M110.37 111.35h0M180.79 125.58h0M175.17 130.8h0M141.5 135.13h0M125.94 127.9h0M150.71 143.33h0M129.74 181.03h0M182.69 186.49h0M145.79 149.01h0M123.44 164.09h0M168.16 174.47h0M185.39 169.54h0M159.68 172.63h0M120.57 148.79h0M169.8 171.71h0M159.27 135.31h0M113.24 144.65h0M142.25 156.3h0M158.58 110.4h0M134.09 123.06h0M136.28 157.15h0M151.06 165.8h0M143.3 179.66h0M143.02 186.63h0M165.97 171.53h0M139.93 171.5h0M165.96 131.07h0M115.35 172.54h0M142.11 129.36h0M137.26 111.57h0M156.51 112.24h0M172.91 169.7h0M154.25 117.8h0M162.38 157.75h0M176.12 137.83h0M176.9 186.99h0M141.56 161.07h0M116.11 111.41h0M153.9 140h0M172.57 112.78h0M147.54 139.76h0M120.88 118.86h0M112.35 149.94h0M126.77 129.89h0M167.57 171.27h0M112.34 134.23h0M128.66 116.97h0M111 167.06h0M133.1 121.6h0M165.29 155.59h0M122.42 156.41h0M133.39 186.15h0M110.8 160.17h0M184.14 113.26h0M160.94 171.88h0M128.23 133.14h0M156.08 145.58h0M141.95 138.15h0M135.84 149.86h0M116.25 124.37h0M145.57 171.52h0M176.07 166.95h0M180.02 138.41h0M143.99 168.5h0M128.15 119.29h0M148.11 147.71h0M180.52 112.88h0M189.23 175.97h0M149.31 186.69h0M164.64 113.9h0M151.28 151.35h0M153.4 174.31h0M142.23 169.36h0M174.94 157.03h0M156.44 141.82h0M167.99 153h0M112.09 143.99h0M179.11 181.14h0M156.88 129.38h0M147.52 175.27h0M152.89 148.1h0M184.32 169.71h0M160.71 154.59h0M127.59 169.09h0M185.85 148.19h0M142.49 180.4h0M123.46 181.44h0M182.09 174.32h0M169.77 149.67h0M167.8 177.36h0M111.44 183.34h0M114.15 138.24h0M179.6 144.14h0M163.67 116.12h0M148.28 124.14h0M122.18 177.14h0M148.44 140.85h0M180.27 138.95h0M186.06 144.68h0M140.84 166.83h0M189.45 146.09h0M139.62 145.94h0M169.41 149.18h0M140.55 128.7h0M157.1 179.92h0M176.28 154.11h0M116.32 126.9h0M140.15 119.38h0M138.64 131.61h0M128.07 117.55h0M176.5 157.44h0M183.39 156.13h0M155.38 175.06h0M139.75 150.7h0M186.74 112.34h0M154.94 162.72h0M175.26 169.25h0M141.48 181.08h0M142.57 135.2h0M135.86 108.41h0M160 123.74h0M121.67 171.48h0M163.6 143.17h0M122.95 142.7h0M131.44 169.68h0M132.13 125.28h0M118.85 112.49h0M128.16 178.69h0M135.69 147.42h0M182.68 162.82h0M118.54 117.26h0M134.52 148.27h0M132.53 155.26h0M126.53 156.04h0M136.59 119.11h0M179.07 123.54h0M134.64 151.9h0M147.2 125.13h0M159.75 157.74h0M142.53 173.23h0M134.35 136.81h0M136.95 130.66h0M115.33 183.65h0M150.93 118.96h0M153.43 137.93h0M133.32 140.17h0M149.31 184.13h0M150.4 114.36h0M184.77 114.92h0M150.28 144.21h0M187.44 148.44h0M127.81 174.18h0M136.1 122.86h0M150.37 111.24h0M130.01 184.78h0M154.44 170.57h0M111.8 145.86h0M144.69 135.96h0M136.92 134.63h0M167.65 145.24h0M174.15 172.61h0M167.38 178.28h0M152.79 122.35h0M136.16 121.32h0M171.06 117.36h0M135.53 110.82h0M127.24 184.22h0M165.81 137.38h0M163.52 134.12h0M125.49 172.19h0M156.27 160.32h0M182.14 118.18h0M149.27 186.28h0M162.51 169.4h0M113.87 120.62h0M136.55 184.67h0M115.5 148.27h0M186.4 169.36h0M152.91 125.81h0M150.76 119.15h0M161.93 108.88h0M171.01 184.39h0M165.02 159.67h0M155.43 175.95h0M152.01 123.95h0M140.51 142.09h0M133.31 137.88h0M157.87 150.72h0M186.12 143.93h0M170.55 164.08h0M165.24 152.99h0M127.05 125.18h0M153.37 162.53h0M183.38 150.53h0M118.77 138.06h0M141.98 124.73h0M183.1 158.35h0M183.19 127.9h0M118.81 115.27h0M168.05 146.84h0M152.79 116.39h0M132.74 171.12h0M163.22 152.07h0M147.03 175.53h0M182.23 152.77h0M153.46 140.14h0M127.91 138.18h0M110.18 136.48h0M128.07 131.68h0M146.99 175.31h0M144.43 127.59h0M136.38 134.26h0M162.57 166.06h0M160.99 144.6h0M134.5 110.22h0M179.51 148.45h0M172.44 171.43h0M167.69 132.39h0M126.06 129h0M182.74 165.45h0M176.85 130.4h0M165.22 173.66h0M175.82 129.97h0M144.86 184.46h0M187.07 109.22h0M119.15 138.14h0M126.76 156.53h0M110.88 184.49h0M161.41 141.65h0M119.84 120.64h0M140.57 181.63h0M158.36 164.96h0M130.08 112.06h0M182.77 140.1h0M138.91 154.92h0M171.05 169.26h0M124.38 122.86h0M118.13 115.34h0M148.3 163.69h0M153.72 164.93h0M146.6 163.86h0M142.71 163.51h0M143.11 117.7h0M152.35 145.29h0M118.91 148.69h0M176.84 145.96h0M188.5 146.77h0M174.48 137.93h0M117.3 148.31h0M124.58 168.56h0M124.68 120.28h0M132.69 123.26h0M149.55 168.27h0M118.48 184.94h0M123.42 183.27h0M129.91 171.1h0M170.81 155.95h0M117.53 170.41h0M171.82 154.2h0M162.12 168.63h0" stroke="#7880cc" stroke-width="0.7" stroke-linecap="round" opacity="0.45" fill="none"/>
<path d="M170.2 145.26h0M132.59 181.4h0M110.89 186.85h0M117.21 148.9h0M147.41 109.66h0M160.56 141.32h0M180.89 183.36h0M149.77 172.97h0M189.12 120.92h0M156.06 141.87h0M121.67 128.07h0M179.76 120.36h0M117.14 141.16h0M188.13 187.15h0M119.15 116.69h0M175.3 157.52h0M171.11 171.21h0M131.59 186.41h0M159.12 160.36h0M115.48 135.22h0M131.78 175.28h0M189.32 145.08h0M112.46 125.51h0M113.57 120.59h0M138.88 137.21h0M143.55 119.58h0M156.46 176.38h0M117.35 185.02h0M153.35 138.13h0M144.83 159.28h0M188.77 161.69h0M187.34 164.04h0M136.01 173.97h0M110.9 135.91h0M160.12 134.21h0M142.94 117.43h0M167.98 142.68h0M181.68 110.86h0M119.78 179.29h0M183.45 181.27h0M165.03 113.28h0M125.89 168.42h0M159.77 186.91h0M113.49 163.53h0M148.05 163.45h0M170.09 139.92h0M129.94 117.72h0M112.57 151.01h0M140.61 157.05h0M158.99 168.27h0M117.97 182.75h0M134.53 153.49h0M110.91 171.2h0M110.19 145.86h0M150.91 112.8h0M187.29 167.22h0M153.11 126.55h0M120.62 109.98h0M168.75 179.55h0M132.43 149h0M169.7 162.59h0M142.24 141.11h0M131.75 133.92h0M126.96 134.3h0M131.26 176.5h0M162.71 178.09h0M137.68 148.03h0M157.08 175.21h0M139.23 147.45h0M159.88 138.23h0M177.47 170.86h0M177.59 177.27h0M149.57 178.56h0M117.49 155.33h0M137.58 122.89h0M115.9 147.27h0M114.35 177.43h0M166.06 139.5h0M178.96 153.96h0M177.8 124.3h0M185.57 158h0M166.72 129.42h0M160.84 145.05h0M179.44 159.16h0M114.45 121.38h0M146.38 117.08h0M162.18 126.51h0M162.55 169.05h0M121.04 153.75h0M144.76 174.01h0M178.29 136.61h0M130.3 179.6h0M163.86 153.62h0M145.95 144.29h0M187.51 127.87h0M172.74 166.74h0M115.92 173.65h0M161.89 185.19h0M182.4 165.27h0M186.99 127.22h0M189.56 151.07h0M112.97 150.24h0M142.08 119.16h0M174.06 180.91h0M133.44 115.73h0M148.84 174.85h0M150.77 115.41h0M163.69 133.4h0M168.28 147.02h0M168.12 176.65h0M146 160.52h0M123.39 158.39h0M156.13 184.58h0M128.86 154.7h0M125.71 144.26h0M123 143.17h0M137.44 117.81h0M163.63 166.34h0M167.91 111.93h0M138.37 158.06h0M150.72 177.92h0M132.93 175.85h0M183.66 164.48h0M124.59 173.45h0M176.89 129.33h0M171.52 131.23h0M150.42 178.14h0M187.38 125.54h0M143.45 115.54h0M182.94 173.88h0M127.69 157.02h0M170.32 161.03h0M116.6 118.83h0M138.91 154.72h0M115.26 167.8h0M145.02 162.96h0M169.21 130.84h0M144.62 127.76h0M123.91 154.08h0M174.29 172.93h0M154.24 115.45h0M139.77 184.73h0M110.4 174.92h0M117.7 114.63h0M126.34 111.22h0M147.78 181.16h0M135.51 181.32h0M188.6 154.16h0M167.3 164.97h0M136.6 131.66h0M119.61 131.81h0M146.27 116.84h0M133.23 134.83h0M112.92 146.7h0M152.9 150.25h0M177.78 160.88h0M169.66 165.25h0M179.65 154.31h0M142.98 146.9h0M183.19 109.06h0M119.12 119.57h0M151.32 150.74h0M159.47 112.65h0M114.4 115.82h0M128.23 130.35h0M184.27 146.93h0M129.47 118.1h0M178.09 174.8h0M178.19 144.72h0M168.91 125.98h0M131.21 163.48h0M132.5 180.26h0M130.01 150.62h0M166 161.49h0M155.73 165.9h0M133.05 120.35h0M144.81 120.56h0M130.33 170.5h0M116.94 186.7h0M188.6 139.64h0M147.37 142.6h0M141.79 151.51h0M125.72 155.25h0M123.82 152h0M149.19 185.51h0M186.84 183.59h0M177.47 162.47h0M164.53 155h0M175.19 180.87h0M143.43 179.91h0M180.05 149.43h0M131.38 144.25h0M187.12 173.8h0M129.72 136.95h0M116.14 170.78h0M166.88 166.73h0M166.82 125.25h0M157.31 180.45h0M112.74 120.25h0M143.85 181.8h0M112.23 125.9h0M130.23 136.09h0M126.34 111.77h0M167.37 152.97h0M113.86 176.63h0M123.98 177.22h0M170.43 113.35h0M186.88 142.78h0M151.35 187.8h0M133.26 151.27h0M130.18 143.54h0M118.02 167.72h0M145.91 183.16h0M162.2 149.98h0M183.49 144.16h0M146.19 131.15h0M187.28 159.57h0M189.78 139.34h0M153.98 134.23h0M150.97 141.49h0M161.63 128.82h0M119.41 173.7h0M148.51 157.14h0M134.01 121.13h0M175.6 166.18h0M153.32 150.75h0M187.71 137.79h0M148.92 149.11h0M113.1 133.46h0M146.57 143.75h0M141.43 129.8h0M163.51 108.25h0M125.93 155.3h0M156.86 160.99h0M167.59 125.61h0M170.62 112.67h0M126.72 111.27h0M183.27 183.27h0M127.07 170.81h0M140.43 115.54h0M138.46 176.12h0M118.33 142.58h0M175.54 147h0M128.09 148.18h0M187.48 160.91h0M134.2 115.84h0M168.94 135.25h0M117.77 186.83h0M124.48 180.76h0M160.27 134.5h0M118.99 121.75h0M130.16 126.73h0M161.63 158.15h0M163 113.93h0M151.77 187.87h0M154.99 181.23h0M189.36 125.99h0M157.32 123.14h0M176.43 113.47h0M116.38 141.44h0M165.76 170.35h0M121.66 176.66h0M149.64 128.67h0M138.52 128.46h0M137.57 120.75h0M131.7 174.19h0M133.18 117.04h0M178.53 127.33h0M132.21 137.16h0M140.41 132.48h0M130.63 138.35h0M184.35 126.96h0M179.7 146.53h0M185.09 167.12h0M110.1 149.32h0M130.18 129.18h0M153.64 185.01h0M140.01 145.37h0M176.82 139.6h0M139.52 149.74h0M148.84 149.68h0M148.37 183.44h0M176.81 122.08h0M138.16 122.11h0M171.95 109.63h0M179.42 116.33h0M166.21 132.88h0M115.8 179.72h0M164.56 168.8h0M175.53 163.98h0M110.62 142.19h0M150.42 116.34h0M125.95 170.44h0M124.95 172.57h0M142.57 131.42h0M186.75 152.6h0M146.61 171.68h0M116.3 163h0M121.47 161.52h0M163.74 187.12h0M180.35 182.93h0M179.8 128.88h0M144.45 163.54h0M177.52 129.57h0M160.9 178.86h0M172.78 182.02h0M144.16 182.02h0M165.71 155.24h0M160.15 147.6h0M112.72 136.13h0M134.27 156.33h0M162.46 139.6h0M187.37 125.77h0M132.93 145.28h0M162.62 174.32h0M130.33 124.3h0M168.19 133.7h0M161.54 118.27h0M170.05 170.86h0M170.78 108.48h0M168.33 155.82h0M173.17 163.6h0M136.31 144.18h0M129.32 162.39h0M166.64 181.09h0M175.68 155.34h0M137.51 139.23h0M168.17 173.11h0M177.92 127.9h0M137.45 147.13h0M174.76 131.41h0M128.84 167.51h0M114.54 126.27h0M138.83 173.49h0M151.61 187.09h0M182.65 144.67h0M139.26 116.82h0M177.89 159.31h0M112.13 129.72h0M168.65 112.43h0M185.23 177.08h0M134.93 159.06h0M146.26 145.38h0M172.63 159.58h0M181.69 183.4h0M125.63 132.07h0M116.04 178.79h0M128.17 119.81h0M182.36 109.83h0M173.84 185.35h0M184.68 116.46h0M145.08 161.16h0M115.92 175.38h0M148.79 166.12h0M114.81 182.78h0M186.01 169.68h0M161.36 136.53h0M115 131.18h0M137.36 118.54h0M130.45 128.92h0M150.86 127.38h0M151.08 175.59h0M121.7 167.27h0M125.13 134.07h0M152.88 182.25h0M126.46 126.92h0M157.3 155.81h0M141.3 158.34h0M171.68 146.89h0M161.78 133.25h0M169.79 129.33h0M158.38 126.86h0M158.53 125.09h0M128.16 155.83h0M123.1 174.79h0M165.61 177.23h0M139.65 122.14h0M114.42 181.46h0M154.74 142.02h0M137.97 143.63h0M126.34 127.49h0M118.62 131.41h0M130.13 134.21h0M152.62 162.56h0M185.46 112.45h0M118.36 143.34h0M169.75 120.21h0M132.24 186.11h0M185.75 170.24h0M155.37 180.18h0M146.83 183.61h0M188.78 176.56h0M167.24 155.22h0M168.53 140.87h0M142.08 139.63h0M187.22 170.45h0M110.02 165.59h0M154.43 159.07h0M114.31 144.33h0M119.9 160.36h0M115.27 135.49h0M135.03 140.05h0M161.41 163.47h0M181.62 153.28h0M115.09 170.44h0M116.05 166.08h0M122.53 122.4h0M162.96 127.22h0M179.78 136.39h0M163.45 113.15h0M125.77 169.9h0M131.64 160.62h0M158 170.98h0M166.15 112.68h0M148.01 153.13h0M125.18 127.49h0M128.59 173.58h0M137.23 151.04h0M138.04 140.48h0M132.96 172.3h0M184.26 110.02h0M150.05 155.83h0M157.15 143.26h0M144.37 152.44h0M145.34 114.05h0M160.89 130.43h0M127.8 137.48h0M176.39 173.82h0M134.67 153.98h0M156.82 178.01h0M161.46 164.32h0M151.86 181.61h0M182.6 120.22h0M138.56 131.69h0M115.22 122.4h0M182.02 159.27h0M139.17 132.22h0M136.25 113.15h0M146.08 122.99h0M138.55 117.42h0M188.08 185.33h0M147.66 166.72h0M155.11 112.24h0M166.91 169.26h0M189.37 186.55h0M117.41 169.23h0M159.14 123.29h0M153.21 139.46h0M136.5 140h0M114.4 171.57h0M139.77 173.7h0M158.18 167.13h0M176.18 170.63h0M132.43 114.68h0M146.04 169.77h0M123.11 153.93h0M130.59 172.7h0M162.89 167.67h0M119.79 134.14h0M168.46 113.04h0M120.75 186.76h0M128.51 145.86h0M143.49 122.96h0M171.11 181.05h0M133.12 162.39h0M122.97 121.52h0M130.73 161.8h0M175.16 115.56h0M176.37 181.22h0M185.47 112.54h0M141.68 154.56h0M119.39 156.85h0M139.95 114.48h0M168.09 136.62h0M138.57 165.32h0M147.82 138.49h0M110.7 157.46h0M175.71 141.42h0M132.8 136.77h0M139.19 116.48h0M118.82 167.06h0M174.48 128.71h0M141.03 166.17h0M160.23 150.48h0M116.28 160.79h0M177.06 114.19h0M130.65 121.35h0M119.05 119.34h0M129.39 132.98h0M163.71 184.76h0M174.13 179.83h0M121.35 187.75h0M174.52 130.8h0M143.34 124.7h0M136.47 176.37h0M168.37 180.55h0M117.34 108.07h0M147.26 115.49h0M155.81 118h0M188.4 123.8h0M116.69 176.88h0M174.7 179.46h0M173.67 180.5h0M134.94 180.18h0M132.22 159.61h0M116.32 180.98h0M189.3 175.25h0M184.19 166.47h0M136.88 170.05h0M112.78 162.57h0M120.95 180.27h0M119.42 110.67h0M128.39 132.9h0M173.1 136.22h0M172.46 125.1h0M132.73 158.4h0M137.45 147.32h0M130.03 123.26h0M118.11 162.86h0M170.99 154.29h0M122.45 170.25h0M183.25 171.54h0M115.72 183.05h0M120.87 158.08h0M136.32 169.36h0M124.17 147.31h0M167.5 133.06h0M189.63 118.96h0M128.86 114.86h0M119.27 163.95h0M177.63 164.31h0M150.22 114.74h0M147.29 158.33h0M116.45 110.28h0M168.13 113.06h0M141.89 111.74h0M149.49 169.37h0M127.45 147.43h0M157.13 170.05h0M141.97 153.98h0" stroke="#7880cc" stroke-width="0.95" stroke-linecap="round" opacity="0.45" fill="none"/>
<path d="M119.16 111.97h0M150.72 168.56h0M130.83 171.29h0M171.77 124.4h0M111.16 128.48h0M132.48 160.08h0M117.28 149.18h0M143.08 132.35h0M179.76 152.48h0M144.16 140.16h0M178.89 182.65h0M141.08 186.8h0M138.61 156.45h0M113.02 158.98h0M130.3 175.02h0M143.68 137.94h0M173.89 170.74h0M139.04 116.75h0M140.58 118.16h0M179.8 118.91h0M119.3 152.31h0M176.02 108.98h0M181.44 142.71h0M110.03 131.3h0M118.24 163.41h0M168.32 167.1h0M139.04 109.57h0M112.5 129.86h0M165.94 156.06h0M165.9 145.26h0M179.96 110.13h0M165 134.77h0M166.04 112.58h0M165.95 167.97h0M156.32 110.01h0M167.12 136.57h0M164.74 145.41h0M166.16 159h0M183.68 186.69h0M158.48 125.39h0M114.77 129.33h0M112.03 155.28h0M165.89 125.02h0M180.54 163.67h0M179.01 173.97h0M115.6 130.31h0M176.94 167.72h0M127.97 119.73h0M117.29 138.27h0M144.97 162.75h0M166.99 179.53h0M114.47 134.19h0M147.29 147.18h0M160.82 118.65h0M181.27 168.63h0M114.07 119.98h0M177.98 174.6h0M111.3 162.25h0M119.63 144.94h0M125.54 159.72h0M170.99 125.32h0M183.78 131.16h0M172.97 120.34h0M129.79 134.71h0M129.89 148.3h0M124.2 160.15h0M142.74 146.34h0M173.48 150.19h0M145.05 167.76h0M110.51 152.83h0M141.4 153.87h0M113.75 131.2h0M155.57 122.33h0M182.43 171.91h0M117.46 176.72h0M155.52 120.46h0M125.23 122.98h0M142.72 113.22h0M139.11 148.23h0M130.1 171.46h0M170.71 133.04h0M167.07 118.1h0M127.43 111.12h0M181.43 182.28h0M157.26 180.51h0M166.22 132.96h0M123.62 114.23h0M166.02 148.29h0M115 135.97h0M175.11 141.46h0M152.26 116.36h0M122.12 123.93h0M140.16 160.33h0M145.01 160.62h0M167.59 184.29h0M117.54 156.33h0M136.69 160.63h0M155 187.18h0M127.84 156.46h0M150.61 182.27h0M126.31 173.05h0M150.05 184.49h0M136.59 116.91h0M113.12 180.94h0M134.94 124.3h0M166.98 153.4h0M147.06 109.7h0M169.9 111.59h0M135.72 109.08h0M142.01 181.24h0M128.32 147.41h0M120.29 118.23h0M158.63 167.5h0M133.47 163.97h0M174.13 156.75h0M176.58 132.44h0M159.19 127.4h0M180.67 136.45h0M110.04 169.2h0M144.13 152.67h0M122.97 110.76h0M147.22 117.72h0M138.07 124.52h0M168.81 140.53h0M149.7 167.53h0M164.23 177.08h0M170.82 134.15h0M152.85 148.3h0M145.16 177.66h0M164.32 181.18h0M136.39 170.3h0M128.91 109.82h0M127.69 127.23h0M188.5 128.93h0M120.72 108.76h0M112.49 179.61h0M122.22 171.74h0M155.02 186.98h0M126.61 114.52h0M157.03 117.89h0M167.01 119.64h0M177.54 160.37h0M129.27 138.05h0M125.6 135.15h0M154.9 184.75h0M152.43 116.69h0M163.31 151.92h0M185.46 180.62h0M118.92 120.76h0M128.82 158.91h0M178.42 123.37h0M124.45 133.95h0M172.17 179.56h0M119.65 177.17h0M149.87 112.57h0M157.72 174.53h0M189.59 185.37h0M118.35 155.11h0M115.18 147.98h0M173.99 153.4h0M185.04 122.2h0M141.73 174.25h0M160.23 146.61h0M141.99 181.6h0M144.87 153.33h0M124.68 179.16h0M153.21 135.44h0M186.83 165.66h0M150.5 110.79h0M148.83 136.4h0M146.97 160.58h0M138.13 181.59h0M162.7 109.77h0M130.62 185.62h0M184.14 149.56h0M161.01 148.23h0M141.42 114.79h0M160.86 172.76h0M149.12 155.84h0M169.85 159.79h0M189.96 173.9h0M174.4 180.7h0M155.67 152.86h0M187.25 124.39h0M175.32 121.11h0M180.73 134.31h0M136.25 113.42h0M169.22 137.91h0M146.15 159.21h0M142.28 162.41h0M128.63 125.9h0M136.06 137.48h0M129.52 159.86h0M155.01 122.74h0M180.94 166.45h0M136.04 114.57h0M111.93 154.01h0M118.2 142.8h0M189.76 151.05h0M171.73 163.62h0M154.41 173.37h0M149.37 143.68h0M123.9 177.67h0M154.05 150h0M124.4 135.1h0M121.15 187.53h0M155.41 184.27h0M125.12 176.39h0M169.42 175.21h0M120.59 110.68h0M144.14 112.09h0M123.7 141.87h0M187.77 136.12h0M121.93 117.25h0M180.32 173.69h0M144.69 153h0M147.59 160.01h0M111.86 178.17h0M167.42 109.52h0M176.05 145.55h0M121.63 184.06h0M132.62 150.12h0M177.62 139.98h0M147.73 129.25h0M113.99 179.91h0M134.88 110.65h0M174.85 166.59h0M114.22 121.92h0M125.34 119.76h0M162.84 177.4h0M148.69 132.26h0M135.62 125.4h0M165.91 117.86h0M141.27 125.86h0M172.16 163.5h0M113.02 127.77h0M111.5 181.3h0M150.55 157.28h0M169.5 160h0M123.57 110.47h0M121.87 111.88h0M175.27 126.32h0M110.26 141.61h0M150.08 153.51h0M129.72 160.88h0M178.5 131.38h0M114.63 144.36h0M128.54 126.04h0M163.91 114.82h0M158.87 161.75h0M180.36 114.18h0M113.26 128.56h0M149.78 123.29h0M149.75 132.9h0M159.38 175.85h0M119.48 124.05h0M142 148.49h0M184.96 148.49h0M113.55 137.76h0M161.45 128.06h0M154.95 111.18h0M167.17 113.67h0M178.72 184.71h0M123.41 141.46h0M175.58 178.15h0M146.17 180.87h0M166.69 114.63h0M115.47 163.16h0M168.89 110.39h0M186.95 160.97h0M124.86 162.02h0M134.34 121.9h0M171.78 112.51h0M173.91 153.84h0M165.5 183.48h0M124.86 126.5h0M162.61 157.84h0M168.78 145.8h0M152.23 170.36h0M186.56 177.13h0M183.92 118.32h0M132.99 121.89h0M182.05 119.75h0M125.12 148.39h0M116.13 152.3h0M120.57 179.73h0M156.02 166.77h0M162.1 161.05h0M157.26 166.98h0M119.78 145.85h0M157.56 129.81h0M148.33 156.18h0M118.53 117.67h0M124.35 163.66h0M157.41 150h0M154.3 169.9h0M139.63 153.22h0M166.17 166.03h0M180.71 180.77h0M189.32 120.94h0M151.88 158.85h0M144.33 144.38h0M138.2 123.96h0M152.03 129.46h0M135.34 178.06h0M114.22 127.26h0M150.66 137.66h0M118.65 181.73h0M133.51 134.93h0M128.22 148.81h0M124.19 152.15h0M156 116.75h0M162.17 155.45h0M144.83 117.89h0M150.88 156.33h0M186.69 160.69h0M175.78 151.98h0M160.31 187.08h0M160 124.47h0M170.33 139.12h0M123.96 133.08h0M155.62 121.87h0M115.67 132.59h0M123.34 177.17h0M175.5 186.68h0M132.01 167.84h0M176.36 145.71h0M162.42 115.93h0M122.54 170.02h0M147.38 149.34h0M177.15 110.02h0M140.33 160.62h0M132.88 130.07h0M120.7 146.31h0M153.59 134.43h0M166.77 149.69h0M152.57 176.7h0M128.82 145.38h0M169.58 183.57h0M177.53 174.15h0M151.55 149.05h0M121.32 170.71h0M132.55 187.17h0M136.61 178.85h0M159.05 144.19h0M183.15 144.2h0M175.15 165.09h0M139.39 158.64h0M164.61 180.69h0M162.26 185.16h0M140.73 148.18h0M125.5 110.21h0M183.58 131.48h0M158.93 153.57h0M148.34 169.17h0M176.06 137.39h0M129.38 147.46h0M186.55 121.12h0M177.38 177.87h0M121.64 110.05h0M150.79 157.68h0M124.13 183.92h0M149.6 177.74h0M139.27 186.72h0M169.24 131.51h0M112.73 164.72h0M111.42 160.59h0M121.26 151.34h0M128.75 146.73h0M114.14 170.06h0M154.87 187.62h0M127.24 179.71h0M125.42 182.1h0M144.9 127.68h0M179.67 185.84h0M181.09 159.81h0M138.32 159.84h0M176.24 131.2h0M131.3 187.12h0M113.1 143.9h0M149.12 137.71h0M134.04 171.25h0M179.03 172h0M136.5 155.65h0M145.46 122.7h0M169.09 128.93h0M165.46 171.65h0M180.94 138.54h0M155.81 134.86h0M149.96 124.07h0M158.09 162.47h0M153.2 112.87h0M186.27 111.12h0M141.41 127.58h0M169.14 157.48h0M187.9 165.91h0M129.08 165.42h0M144 161.87h0M129.48 116.3h0M132.95 123.38h0M164.5 137.12h0M110.48 166.75h0M162.54 129.66h0M115.93 139.74h0M141.99 179.07h0M183.08 154.54h0M166.75 151.1h0M169.76 168.2h0M136.03 115.27h0M131.39 160.64h0M124.86 184.65h0M135.64 126.59h0M167.75 135.99h0M164.26 125.79h0M131 173.93h0M124.63 117.08h0M163.95 144.66h0M152.73 133.93h0M146.99 135.21h0M138.74 131.72h0M150.31 110.99h0M126.64 119.93h0M175.03 154.56h0M143.7 168.39h0M139.61 140.03h0M137.33 140.24h0M150.74 160.24h0M171.45 108.09h0M162.16 166.32h0M110.33 151.8h0M155.29 174.72h0M134.53 150.89h0M139.5 144.58h0M165.77 175.12h0M142.21 163.13h0M180.03 173.31h0M123.86 127.62h0M181.39 162.92h0M126.59 185.03h0M172.09 118.91h0M121.54 112.41h0M149.06 177.33h0M158.69 144.34h0M158.32 133.46h0M150.85 178.84h0M118.58 186.76h0M141.22 127.02h0M167.67 117.91h0M113.25 140.76h0M123.57 148.7h0M124.54 134.16h0M141.29 147.4h0M132.78 173.25h0M171.92 139.53h0M111.31 186.38h0M173.6 122.99h0M152.16 134.41h0M130.4 136.01h0M167.21 133.27h0M128.97 136.05h0M167.84 181.69h0M134.14 121.61h0M134 143.72h0M137.45 185.85h0M127.38 111.11h0M139.32 139.34h0M163.11 116.27h0M141.46 139.88h0M130.04 118.72h0M151.01 158.07h0M135.27 141.64h0M136.08 152.24h0M125.82 150.13h0M178.38 123.58h0M164.04 140.5h0M182 127.21h0M169.06 178.61h0M157.86 110.14h0M186.65 142.43h0M188.19 130.48h0M128.87 162.25h0M171.3 172.63h0M162.98 146.09h0M111.99 138.93h0M120.29 153.68h0M162.27 182.76h0M132.43 145.93h0M137.37 128.96h0M122.32 179.01h0M142.71 127.17h0M154.83 134.49h0M138.73 140.75h0M110.39 152.15h0M152.15 142.8h0M122.81 155.01h0M115.23 178.7h0M186.02 113.88h0M151.76 144.96h0M120.6 146.77h0M151.2 128.36h0M125.12 149.92h0M155.06 138.69h0M135.91 129.04h0M151.27 184.82h0M171.04 145.21h0M125.8 182.1h0M148.59 172.35h0M189.62 108.59h0M115.57 183.52h0M146.26 122.64h0" stroke="#7880cc" stroke-width="1.2" stroke-linecap="round" opacity="0.45" fill="none"/>
</g>
<g clip-path="url(#hc15)">
<rect x="145" y="108" width="45" height="45" fill="#ecedf5"/>
<rect x="145" y="108" width="45" height="45" fill="#fff" filter="url(#n10)"/>
<g fill="#7c84ca" opacity="0.7"><ellipse cx="165.44" cy="117.47" rx="2.81" ry="1.58" transform="rotate(116 165.44 117.47)"/><ellipse cx="154.9" cy="147.64" rx="2.14" ry="1.65" transform="rotate(118 154.9 147.64)"/><ellipse cx="183.57" cy="124.25" rx="2.43" ry="2.2" transform="rotate(113 183.57 124.25)"/><ellipse cx="168.76" cy="146.55" rx="2.36" ry="2.1" transform="rotate(67 168.76 146.55)"/><ellipse cx="188.41" cy="145.63" rx="2.15" ry="1.51" transform="rotate(143 188.41 145.63)"/><ellipse cx="150.25" cy="133.87" rx="2.02" ry="1.82" transform="rotate(126 150.25 133.87)"/><ellipse cx="146.9" cy="123.74" rx="2.11" ry="2.08" transform="rotate(128 146.9 123.74)"/><ellipse cx="157" cy="136.8" rx="1.89" ry="1.4" transform="rotate(123 157 136.8)"/><ellipse cx="167.03" cy="123.93" rx="2.1" ry="1.87" transform="rotate(165 167.03 123.93)"/><ellipse cx="156.59" cy="112.77" rx="2.55" ry="1.42" transform="rotate(39 156.59 112.77)"/><ellipse cx="147.77" cy="111.56" rx="2.7" ry="1.52" transform="rotate(165 147.77 111.56)"/><ellipse cx="158.4" cy="123.58" rx="2.66" ry="2.02" transform="rotate(23 158.4 123.58)"/><ellipse cx="179.23" cy="115.6" rx="2.93" ry="2" transform="rotate(58 179.23 115.6)"/><ellipse cx="181.31" cy="111.31" rx="2.24" ry="2.23" transform="rotate(7 181.31 111.31)"/><ellipse cx="176.92" cy="121.9" rx="2.29" ry="2.07" transform="rotate(122 176.92 121.9)"/><ellipse cx="179.66" cy="141.45" rx="2.96" ry="1.67" transform="rotate(87 179.66 141.45)"/><ellipse cx="174.18" cy="118.57" rx="1.86" ry="2.17" transform="rotate(176 174.18 118.57)"/><ellipse cx="157.23" cy="119.19" rx="2.77" ry="1.44" transform="rotate(28 157.23 119.19)"/><ellipse cx="148.8" cy="116.1" rx="2.82" ry="1.78" transform="rotate(104 148.8 116.1)"/><ellipse cx="189.1" cy="135.15" rx="2.01" ry="1.74" transform="rotate(111 189.1 135.15)"/><ellipse cx="172.22" cy="110.61" rx="2.17" ry="1.55" transform="rotate(80 172.22 110.61)"/><ellipse cx="186.21" cy="110.56" rx="2.15" ry="1.36" transform="rotate(173 186.21 110.56)"/><ellipse cx="151.22" cy="120.79" rx="2.8" ry="2.02" transform="rotate(107 151.22 120.79)"/><ellipse cx="173.78" cy="127.6" rx="2.96" ry="1.43" transform="rotate(134 173.78 127.6)"/><ellipse cx="166.59" cy="137.08" rx="1.98" ry="1.93" transform="rotate(57 166.59 137.08)"/><ellipse cx="180.25" cy="151.61" rx="2.29" ry="1.86" transform="rotate(32 180.25 151.61)"/><ellipse cx="179.48" cy="133.94" rx="1.99" ry="1.7" transform="rotate(13 179.48 133.94)"/><ellipse cx="157.95" cy="108.79" rx="2.99" ry="1.6" transform="rotate(83 157.95 108.79)"/><ellipse cx="150.79" cy="152.42" rx="2.21" ry="2" transform="rotate(52 150.79 152.42)"/><ellipse cx="175.81" cy="149.31" rx="2.52" ry="2.18" transform="rotate(43 175.81 149.31)"/><ellipse cx="172.74" cy="135.13" rx="2.13" ry="1.57" transform="rotate(53 172.74 135.13)"/><ellipse cx="145.76" cy="139.31" rx="2.91" ry="1.52" transform="rotate(167 145.76 139.31)"/><ellipse cx="150.8" cy="138.72" rx="2.45" ry="1.83" transform="rotate(48 150.8 138.72)"/><ellipse cx="184.41" cy="149.99" rx="2.62" ry="1.94" transform="rotate(47 184.41 149.99)"/><ellipse cx="162.55" cy="132.15" rx="1.9" ry="1.37" transform="rotate(151 162.55 132.15)"/><ellipse cx="187.19" cy="121.03" rx="2.56" ry="2.2" transform="rotate(22 187.19 121.03)"/><ellipse cx="165.16" cy="152.52" rx="2.62" ry="1.52" transform="rotate(170 165.16 152.52)"/><ellipse cx="181.34" cy="129.91" rx="1.84" ry="2.11" transform="rotate(178 181.34 129.91)"/></g>
<g fill="#4a52b8" opacity="0.8"><ellipse cx="185.37" cy="131.17" rx="1.21" ry="1" transform="rotate(95 185.37 131.17)"/><ellipse cx="171.81" cy="138.16" rx="1.6" ry="1.01" transform="rotate(132 171.81 138.16)"/><ellipse cx="170.81" cy="149.51" rx="1.27" ry="1.1" transform="rotate(28 170.81 149.51)"/><ellipse cx="186.73" cy="122.07" rx="1.33" ry="1" transform="rotate(115 186.73 122.07)"/><ellipse cx="169.65" cy="152.74" rx="1.3" ry="0.95" transform="rotate(65 169.65 152.74)"/><ellipse cx="182.69" cy="111.9" rx="1.35" ry="0.98" transform="rotate(16 182.69 111.9)"/><ellipse cx="155.38" cy="137.54" rx="1.42" ry="0.96" transform="rotate(79 155.38 137.54)"/><ellipse cx="174.04" cy="143.76" rx="1.31" ry="0.88" transform="rotate(152 174.04 143.76)"/><ellipse cx="150.16" cy="127.61" rx="1.25" ry="1.13" transform="rotate(154 150.16 127.61)"/><ellipse cx="158.06" cy="136.74" rx="1.36" ry="0.88" transform="rotate(26 158.06 136.74)"/></g>
</g>
<g clip-path="url(#hc16)">
<rect x="195" y="108" width="80" height="80" fill="#dad8ea"/>
<rect x="195" y="108" width="80" height="80" fill="#fff" filter="url(#n11)"/>
<path d="M195.57 136.83h0M199.23 181.03h0M195.25 160.98h0M209.5 179.36h0M258.25 171.04h0M202.74 140.11h0M262.92 162.84h0M270.62 125.64h0M213.45 148.86h0M256.38 122.29h0M217.14 153.41h0M204.27 158.05h0M251.07 111.33h0M256.59 149.67h0M229.66 168.8h0M259.72 168.87h0M230.48 170.57h0M259.9 119.61h0M202.47 181.44h0M269.41 111.39h0M271.96 130.77h0M212.11 132.3h0M214.5 120.46h0M225.04 116.28h0M274.79 120.3h0M259.47 141.87h0M254.12 138.3h0M239.34 141.13h0M237.36 185.71h0M255.13 152.93h0M258.34 123.48h0M215.01 137.63h0M221.86 109.62h0M228.73 166.25h0M258.36 170.46h0M259.73 182.86h0M217.41 136.32h0M218.07 168.54h0M238.91 149h0M201.98 159.44h0M224.77 143.73h0M207.95 156.07h0M230.9 179.04h0M245.17 135.95h0M246.46 177.21h0M224.24 136.19h0M207.56 137.74h0M256.25 145.49h0M258.16 183.34h0M243.32 110.38h0M252.38 170.95h0M266.56 161.74h0M231.12 151.14h0M225.99 149.87h0M214.99 182.36h0M264.22 177.99h0M203.33 168.07h0M220.7 146.4h0M198.19 178.76h0M234.57 136.27h0M223.55 155.27h0M203.77 137.48h0M200.81 156.06h0M246.99 144.67h0M244.96 127.09h0M272.55 129.8h0M203.08 121.69h0M234.07 181.51h0M208.14 169.11h0M240.86 137h0M217.35 125.25h0M206.65 135.66h0M223.7 153.34h0M250.43 173.84h0M274.99 175.1h0M274.52 177.41h0M195.03 151.5h0M200.64 130.7h0M255.44 169.04h0M203.47 178.47h0M197.25 150.99h0M223.13 172.42h0M227.18 181.19h0M249.94 134.66h0M223.99 172.76h0M255.05 176.16h0M217.76 149.08h0M241.36 148.53h0M269.69 163.59h0M228.98 166.47h0M206.72 173.32h0M218.2 171.55h0M209.17 170.01h0M229.02 143.38h0M211.62 132.21h0M260.12 186.4h0M259.43 159.6h0M219.24 138.2h0M211.32 116.83h0M199.31 109.55h0M219.08 120.53h0M223.6 152.56h0M200.36 144.13h0M221.09 152.55h0M210.43 113.69h0M238.46 153.96h0M271.68 113.24h0M210.31 111.36h0M231.31 111.96h0M270.94 169.35h0M238.84 185.5h0M218.86 140.74h0M225.49 138.47h0M234.37 147.15h0M205.12 163.48h0M208.29 137.82h0M259.58 139.05h0M222.29 177.6h0M272.03 123.75h0M204.71 136.02h0M215.88 149.63h0M255.1 137.88h0M273.69 123.45h0M251.95 156.45h0M254.69 127.69h0M265.22 162.78h0M230.95 163.91h0M267.27 133.9h0M249.79 114.54h0M248.08 169.68h0M255.12 158.65h0M222.5 169.33h0M245.88 110.02h0M229.72 180.4h0M195.41 162.2h0M265.49 126.86h0M270.68 165.93h0M262.58 115.75h0M273.32 176.68h0M231.44 146.72h0M263.73 136.79h0M250.4 126.51h0M224.54 134.32h0M265.91 113.6h0M198.11 154.21h0M250.85 154.4h0M249.04 167.12h0M243.13 165.39h0M231.1 159h0M241.57 114.06h0M271.46 177.48h0M266.35 187.39h0M248.3 176.9h0M206.24 122.87h0M234.37 116.8h0M245.73 124.12h0M244.39 129.72h0M266.37 139.56h0M204.51 140.1h0M233.33 185.03h0M215.59 172.69h0M248.94 140.5h0M249.9 186.77h0M197.86 114.9h0M196.37 113.21h0M247.55 185.96h0M266.01 162.2h0M232.77 111.74h0M249.36 186.07h0M263.58 166.06h0M230.63 174.87h0M201.52 164.09h0M201.93 159.59h0M237.09 159.41h0M231.42 155.12h0M218.45 163.97h0M223.4 112.68h0M255.39 154.35h0M209.56 171.51h0M209.96 165.24h0M208.06 157.77h0M220.4 119.64h0M232.02 134.94h0M241.92 143.89h0M205.05 122.47h0M271.59 114.83h0M261.11 179.59h0M248.75 173.69h0M235.29 166.42h0M196.84 132.38h0M255.53 129.17h0M270.13 175.6h0M261.13 134.69h0M197.15 172h0M219.19 130.68h0M256.25 166.13h0M204.05 125.8h0M211.02 116.38h0M204.69 115.17h0M213.09 133.24h0M203.44 173.64h0M235.33 138.81h0M248.17 143.43h0M195.83 143.27h0M228.11 132.29h0M233.64 158.36h0M236.9 150.37h0M244.52 127.67h0M225.76 157.47h0M227.55 167.8h0M267.54 140.97h0M254.5 171.58h0M202.27 177.37h0M246.45 155.3h0M234.07 141.7h0M259.68 180.41h0M199.86 146.1h0M224.05 187.42h0M259.31 137.38h0M236.43 180.49h0M206.48 113.42h0M248.86 163.51h0M264.62 143.31h0M234.95 161.13h0M252.18 123.45h0M267.97 140.86h0M207.45 138.97h0M226.36 186.16h0M252.22 110.11h0M228.5 152.05h0M240.78 146.55h0M261.91 148.57h0M246.36 152.45h0M197 183.44h0M205.74 149.67h0M239.5 174.99h0M274.48 153.09h0M260.81 166.38h0M252.08 150.27h0M223.08 150.26h0M208.26 135.37h0M258.01 150.99h0M204.14 160.63h0M219.64 127.79h0M248.95 147.1h0M243.65 133.47h0M224.68 122.79h0M206.07 175.94h0M241.16 141.44h0M244.89 114.92h0M253.94 109.96h0M251.83 169.19h0M253.12 170.21h0M211.19 174.94h0M217.99 147.32h0M227.71 126.3h0M260.49 180.75h0M236.33 116.09h0M196.24 181.99h0M243.96 143.74h0M203.54 150.11h0M260.86 117.85h0M195.84 153.63h0M259.18 117.32h0M206.05 114.1h0M215.41 126.66h0M205.05 124.3h0M215.02 115.79h0M240.45 159.49h0M260.84 159.26h0M235 111.97h0M272.64 139.17h0M206.22 118.1h0M251.68 125.06h0M206.51 116.36h0M203.32 174.04h0M249.92 151.76h0M234.41 158.45h0M251.29 149.05h0M230.18 159.26h0M267.81 179.3h0M245.55 120.81h0M248.33 175.35h0M243.88 119.54h0M208.57 185.57h0M237.05 149.95h0M272.07 120.81h0M232.63 182.51h0M199.6 139.22h0M217.86 173.52h0M230.45 152.93h0M244.86 165.44h0M249.59 139.57h0M252.65 182.7h0M204.08 115.9h0M234.56 110.64h0M196.97 156.12h0M235.53 117.76h0M203.52 157.68h0M238.13 163.06h0M274.48 138.51h0M245.43 166.01h0M271.97 153.94h0M274.8 133.82h0M265.2 113.94h0M271.64 187.31h0M260.19 114.29h0M252.52 148.21h0M206.61 137.41h0M248.43 159.86h0M259.84 112.08h0M202.93 138.09h0M267.53 159.31h0M197.74 165.22h0M260.63 156h0M258.95 183.31h0M228.24 142.67h0M223.81 148.28h0M234.67 117.93h0M257.46 134.29h0M260.29 152.54h0M226.69 166.27h0M211.6 146.24h0M208.08 162.34h0M203.06 173.07h0M263.49 148.82h0M196.62 179.27h0M207.52 165.68h0M205.04 162.63h0M200.46 129.8h0M204.06 158.5h0M197.18 119.19h0M237.97 115.02h0M201.84 120.27h0M232.29 152.69h0M200.78 185.15h0M227.71 149.3h0M208.18 157.28h0M269 169.91h0M195.49 169.01h0M208.46 156.26h0M253.47 132.01h0M250.08 179.51h0M203.58 166.35h0M233.53 181.03h0M262.34 150.24h0M251.35 127.91h0M217.67 108.41h0M236.43 148.96h0M243.02 110.76h0M222.04 128.59h0M195.33 180.05h0M212.68 122.08h0M216.85 159.74h0M238.54 120.94h0M199.05 119.14h0M203.22 160.1h0M273.67 123.94h0M196.14 149.44h0M268.61 123.94h0M245.56 110.34h0M231.69 166.87h0M233.56 164.16h0M217.25 177.73h0M273.25 113.45h0M220 117.27h0M219.57 161.98h0M248.8 109.45h0M271.05 145.57h0M242.15 164.05h0M274.35 116.63h0M240.21 113.48h0M238.47 167.59h0M196.96 121.74h0M206.27 110.67h0M271.7 122.13h0M258.01 166.12h0M234.45 185.65h0M216.93 156.41h0M205.81 182.69h0M204.28 178.71h0M232.06 184.26h0M240.02 130.77h0M238.28 139.26h0M232.67 156.8h0M223.21 184.64h0M251.27 151.43h0M224.69 110.73h0M249.62 149.11h0M240.37 156.27h0M257 169.64h0M229.64 128.82h0M213.09 131.4h0M204.44 110.18h0M251.37 137.89h0M225.78 147.53h0M237.42 123.89h0M202.77 149.83h0M195.92 186.28h0M253.48 124.52h0M270.19 185.32h0M212.13 140.6h0M210.14 180.49h0M255.74 117.12h0M257.38 166.61h0M237.82 175.86h0M265.3 130.02h0M266.75 173.67h0M269.97 177.85h0M255.17 145.14h0M237.67 175.77h0M214.86 153.37h0M236.19 133.42h0M268.39 178.48h0M196.34 180.3h0M232.82 132.51h0M243.04 167.74h0M252.21 183.98h0M242.33 148.98h0M263.85 112.47h0M267.98 132.93h0M230.03 132.04h0M230.06 140.29h0M252.32 165.9h0M198.86 180.75h0M216.88 165.34h0M269.15 119.48h0M206.16 164.12h0M206.98 171.77h0M224.73 153.82h0M229.81 112.29h0M273.69 154.35h0M254.32 139.19h0M249.68 133.35h0M256.6 167.66h0M213.31 131.18h0M218.71 133.83h0M231.51 126.97h0M260.25 110.03h0M240.22 130.71h0M251.48 183.78h0M215.88 158.16h0M272.41 146.37h0M260.12 123.21h0M195.97 108.99h0M231.89 119.21h0M225.37 110.23h0M211.38 180.61h0M269.13 170.17h0M205.68 164.12h0M223.47 135.5h0M231.28 187.96h0M235.46 130.16h0M247.09 186.04h0M201.3 116.09h0M255.55 183.15h0M248.96 155.74h0M222.81 125.42h0M215.12 121.01h0M253.91 180.32h0M255.42 114.61h0M208.83 118.63h0M272.03 113.58h0M214.87 117.7h0M258.13 173.46h0M204.44 176.77h0M239.15 141.94h0M229.98 129.71h0M215.3 124.26h0M262.07 129.86h0M196.9 112.75h0M268.33 184.39h0M219.13 142.1h0M205.97 149.12h0M255.75 184.77h0M213.85 187.58h0M240.57 148.51h0M195.72 147.03h0M209.4 175.86h0M257.85 117.06h0M237.94 111.99h0M205.91 182.4h0M206.56 184.93h0M200.21 158.05h0M260.76 159.45h0M259.28 118.64h0M233.86 150.31h0M251.68 169.71h0M198.36 174.98h0M268.66 157.94h0M251.8 179.04h0M251.62 182.7h0M238.68 162.35h0M258.71 184.31h0M273.15 170.64h0M227.01 169.74h0M211.96 170.75h0M218.32 141.44h0M240.92 181.5h0M240.65 143.84h0M241.46 126.22h0M198.93 151.57h0M263.84 148.76h0M261.71 118.03h0M247.83 155.49h0M237.26 122.81h0M252.94 154.91h0M243.34 146.39h0M218.08 146.71h0M216.84 138.45h0M263.17 168.54h0M210.64 137.41h0M246.35 155.62h0M274.79 159.06h0M231.04 165.31h0M199.24 123.6h0M253.33 122.74h0M228.86 109.46h0M223.11 150.29h0M271.8 120.85h0M241.42 113.54h0M240.35 142.4h0M222.1 170.09h0M263.75 184.6h0M228.33 115.43h0M207.89 108.62h0M247.48 132.2h0M206.14 180.94h0M220.58 121.68h0M274.18 167.61h0M248.4 146.47h0M218.27 151.38h0M234.96 171.22h0M219.89 176.97h0M230.52 175.94h0M213.11 120.02h0M245.5 122.97h0M212.12 149.34h0M218.7 146.74h0M259.99 130.11h0M214.06 147.57h0M205.96 168.82h0M214.83 141.53h0M235.64 109.68h0M246.04 144.14h0M269.75 185.9h0M246.25 112.26h0M203 177.13h0M196.72 134.38h0M270.71 155.46h0M266.42 124.74h0M252.58 133.64h0M219.92 139.34h0M255.79 160.61h0M226.19 122.95h0M255.18 123.58h0M262.18 126.91h0M244.21 177.7h0M200 119.47h0M249.41 110.13h0M232.35 179.14h0M200.01 150.59h0M261.46 161.14h0M238.66 158.04h0M253.52 158.56h0M209.43 123.47h0M232.5 155.01h0M270.49 113.29h0M239.63 133.93h0M266.55 171.22h0M206.3 138.8h0M243.61 110.7h0M212.5 130.28h0M247.9 179.43h0M202.33 136.84h0M225.27 124.25h0M260.13 126.96h0M270.59 137.17h0M230.19 176.12h0M238.77 151.49h0M235.23 135.18h0M230.2 179.62h0M195.34 163.58h0M241.51 136.5h0M247.22 164.89h0M197.16 137.72h0M262.82 173.32h0M264.36 163.64h0M222.63 151.55h0M212.01 145.19h0M237.27 119.62h0M273.23 119.8h0M221.83 143.67h0M246.63 170.58h0M252.6 183.41h0M270.53 110.4h0M242.39 124.77h0M271.51 158.98h0M215.25 143.45h0M225.84 117.94h0M258.41 142.38h0M263.38 166.52h0M197.24 122.96h0M265.06 170.13h0M201.5 186.74h0M232.48 115.44h0M253.46 179.9h0M212.28 112.55h0M253.29 129.42h0M252.96 166.22h0M233.82 128.62h0M236.22 119.54h0M235.82 117.56h0M241.3 178.12h0M251.77 126.29h0M237.41 182.97h0M224.55 162.16h0M197.39 131.06h0M203.1 117.75h0M220.17 121.29h0M256.67 165.95h0M213.7 178.01h0M213.98 109.81h0M244.35 138.34h0M240.67 126.95h0M219.85 166.56h0M230.35 126.08h0M245.94 143.17h0M237.08 164.83h0M270.51 164.06h0M209.53 179.66h0M225.82 109.56h0M255.56 144.06h0M215.97 164.27h0M263.86 111.22h0M265.23 153.06h0M202.59 172.41h0M265.38 174.49h0M233.83 171.32h0M273.75 149.12h0M206.93 128.36h0M218.28 170.93h0M198.94 166.83h0M229.89 122.3h0M230.2 112.57h0M204.13 156.78h0M221.31 159.98h0M201.54 181.28h0M241.28 185.99h0M265.18 187.61h0M220.08 128.05h0M233.62 129.4h0M205.83 135.35h0M217.49 129.48h0M255.41 115.46h0M216.31 167.65h0M223.76 159.56h0M261.66 118.9h0M236.09 171.49h0M237.45 114.35h0M254.27 131.28h0M212.95 135.61h0M214.32 153.58h0M236.53 108.35h0M258.38 175.01h0M236.81 119.36h0M211.72 171.12h0M220.37 123.89h0M223.62 123.6h0M235.09 179.43h0M212.87 154.23h0M233.23 173.04h0M199.01 124.29h0M235.11 111.72h0M246.28 110.37h0M227.6 173.46h0M211.11 158.21h0M255.06 131.77h0M274.77 128.69h0M226.91 126.85h0M223.36 185.42h0M210.61 155.83h0M234.3 117.47h0M273.37 160.51h0M250.12 146.51h0M261 183.18h0M231.71 187.66h0M207.06 157.37h0M269.26 187.88h0M271.15 140.42h0M226.53 161.26h0M269.4 144.03h0M273.85 163.58h0M196.05 126.58h0M213.56 139.27h0M257.84 176.06h0M220.52 184.55h0M255.87 149.43h0M229.73 156.04h0M253.36 145.54h0M220.93 147.68h0M197.38 177.5h0M213.7 150.28h0M244.85 153.81h0M227.51 134.9h0M229.57 158.29h0M242.84 157.93h0M221.84 146.66h0M252.36 110.58h0M223.11 119.09h0M246.72 155.25h0M238.05 181.15h0M215.99 147.83h0M205.56 137.4h0M245.93 123.64h0M209.07 181.52h0M230.07 144.67h0M229.04 175.56h0M210.38 149.13h0M266.59 116.79h0M238.57 154.32h0M226.79 174.03h0M272.77 148.89h0M221.9 164.69h0M202 130.87h0M241.1 168.96h0M204.55 129.81h0M220.46 157.81h0M247.52 127.61h0M202.81 154.63h0M226.46 186.66h0M229.87 126.56h0M224.69 133.15h0M236.17 124.6h0M261.38 149.01h0M248.94 157.17h0M226.59 125.1h0M241.65 168.28h0M259.5 153.01h0M236.99 153.34h0M223.21 157.65h0M226.83 111.42h0M233.5 160.11h0M252.41 155.44h0M214.87 169.6h0M214.34 179.85h0M242.4 130.9h0M232.12 167.62h0M216.06 140.88h0M271.19 179.15h0M215.88 162.92h0M270.61 127.16h0M243.55 171.62h0M196.29 187.89h0M211.04 115.41h0M199.81 173.85h0M201.14 174.99h0M223.11 122h0M207.74 140.56h0M233.58 167.19h0M256.82 162.02h0M264.95 145.41h0M236.8 125.04h0M209.84 154.5h0M230.77 117.88h0M245.02 159.98h0M240.79 112.76h0M208.24 135.03h0M229.9 152.71h0M246.34 121.25h0M241 115.49h0M247.28 160.77h0M221.57 150.52h0M210.75 111.59h0M267.43 119.17h0M201.71 162.72h0M230.66 124.83h0M226.42 186.74h0M210.07 108.31h0M223.43 117.81h0M195.67 114.87h0M244.46 119.52h0M247.89 153.01h0M198.12 174.6h0M201.64 109.69h0M262.33 111.42h0M246.78 119.12h0M261.1 147.5h0M260.44 166.41h0M209.38 113.07h0M244.54 174.38h0M223.54 162.38h0M264.25 127.31h0M247.58 157.25h0M245.5 136.73h0M243.03 141.21h0M233.64 137.47h0M229.73 148.12h0M267.93 185.89h0M252.59 141.36h0M264.6 157.35h0M245.64 131.75h0M248.25 173.33h0M267.51 156.12h0M256.5 150.03h0M224.81 184.48h0M220.37 176.09h0M269.66 163.62h0M243.19 112.42h0M268.44 109.72h0M260.47 155.33h0M213.39 153.15h0M254.53 128.27h0M247.42 186.82h0" stroke="#7676bc" stroke-width="0.7" stroke-linecap="round" opacity="0.5" fill="none"/>
<path d="M252.05 123.97h0M262.39 134.25h0M230.86 176.73h0M209.84 157.86h0M208.05 164.65h0M251.36 131.48h0M236.48 183.78h0M203.21 147.8h0M237.38 121.6h0M240 165.98h0M227.73 125.55h0M263.53 129.71h0M227.84 116.74h0M272.64 121.55h0M225.22 130.14h0M228.73 150.63h0M246.14 141.09h0M252.21 163.14h0M240.11 126h0M221.52 176.64h0M207.78 187.16h0M231.95 110.1h0M272.73 156.55h0M252.33 175.48h0M265.8 160.73h0M236.41 186.04h0M198.03 136.61h0M243.17 179.98h0M201.56 126.48h0M239.28 154.8h0M224.16 136.2h0M260.63 138.59h0M230.67 158.59h0M268.95 133.49h0M222.98 161.63h0M237.06 120.37h0M205.24 118.84h0M269.25 146.57h0M261.65 165.52h0M272.03 123.18h0M204.26 113.22h0M241.24 186.95h0M260.71 136.28h0M208.03 112.11h0M236.86 127.89h0M266.58 147.52h0M216.3 120.56h0M200.34 150.91h0M266.56 153.22h0M265.57 132.01h0M233.56 164.35h0M231.52 182.79h0M264.75 116.99h0M258.08 165.7h0M195.32 160.4h0M206.89 108.21h0M195.21 150.06h0M214.32 115.22h0M258 125.96h0M272.63 154.62h0M233.17 150.12h0M249.85 144.04h0M195.73 111.83h0M215.42 159.28h0M202.8 134.39h0M252.6 112.71h0M244.94 127.93h0M248.8 134.65h0M264.93 159.91h0M207.52 184.15h0M271.02 124.78h0M258.86 149.46h0M245.84 126.13h0M258.95 187h0M266.18 172.75h0M223.99 172.09h0M201.72 181.6h0M207.78 162.75h0M274.24 144.21h0M201.7 173.31h0M221.48 111.06h0M271.23 175.92h0M201.37 155.81h0M207.26 128.59h0M243.28 173.19h0M197.67 122.9h0M222.7 137.36h0M197.22 118.98h0M253.1 145.79h0M255.84 167.39h0M231.03 129.89h0M237.31 139.44h0M212.31 119.72h0M241.44 124.14h0M255.92 151.28h0M248.16 165.83h0M269.45 153.05h0M274.5 180.55h0M208.41 170.45h0M248.22 142.97h0M258.15 146.44h0M246.45 171.93h0M204.89 167.55h0M196.75 151.17h0M224.69 128.44h0M238.12 179.42h0M237.74 156.07h0M260.47 147.36h0M259.12 121.26h0M224.92 116.65h0M215.82 174.03h0M238.71 118.16h0M236.75 130.89h0M227.96 137.59h0M232.39 146.72h0M226.05 142.05h0M197.78 131.19h0M228.05 121.49h0M212.63 150.76h0M200.28 168.68h0M221.17 178.07h0M267.87 140.66h0M254.56 157.84h0M201.53 163.81h0M231.39 156.44h0M271.12 134.41h0M212.65 159.8h0M227.45 164.17h0M266.11 108.39h0M260.74 127.43h0M202.22 167.53h0M199.24 175.64h0M212.8 163.38h0M235.71 165.75h0M211.1 184.44h0M265.06 181.27h0M202.31 160.95h0M201.2 121.86h0M249.26 171.3h0M247.59 169.66h0M251.22 128.42h0M269.54 178.2h0M232.87 181.84h0M260.12 149.02h0M261.45 114.17h0M217.59 125.67h0M227.59 164.22h0M220.76 127.06h0M217.86 180.88h0M243.46 121.52h0M219.77 186.43h0M268.62 150.49h0M263.68 159.29h0M267.12 148.1h0M218.63 179.24h0M204.42 178.59h0M262.71 137.75h0M254.49 148.93h0M272.56 122.81h0M222.9 158.28h0M231.03 119.47h0M261.2 149.56h0M254.67 170.2h0M199.06 110.85h0M216.05 167.54h0M262.21 128.29h0M257.37 144.18h0M219.86 112.21h0M234.66 111.28h0M198.61 179.36h0M258.41 149.87h0M260.37 139.02h0M234.11 155.32h0M241.34 172.42h0M199.92 186.27h0M270.01 123.74h0M252.59 165.88h0M264.31 130.24h0M212.07 142.34h0M271.67 108.54h0M260.91 165.46h0M263.45 178.87h0M238.56 175.44h0M217.57 148.79h0M270 158.51h0M210.93 131.61h0M209.82 168.97h0M230.12 113.59h0M212.73 143.42h0M208.21 109.66h0M229.57 126.01h0M218.03 147.5h0M204.27 179.15h0M232.8 185.8h0M269.23 123.33h0M239.23 126.13h0M202.42 178.87h0M229.87 141.41h0M223.75 153.67h0M242.01 144.54h0M204.37 164.06h0M239.77 155.84h0M257.33 167.45h0M266.14 126.04h0M247.7 187.42h0M232.46 114.29h0M217.19 154.37h0M266.5 182.5h0M218.99 142.19h0M250.32 124.27h0M228.99 177.4h0M210.71 108.56h0M205.74 124.57h0M218.43 168.26h0M210.87 173.93h0M238.44 157.09h0M244.1 109.06h0M250.33 182.45h0M208.32 185.39h0M269.2 109.97h0M233.57 181.24h0M274 172.35h0M216.67 129.45h0M195.41 134.13h0M242.48 180.65h0M239.96 145.88h0M239.05 154.29h0M214.72 168.74h0M266.71 111.31h0M225.69 149.72h0M198.01 108.86h0M200.24 111.75h0M270.97 169.8h0M269.44 138.83h0M212.6 110.77h0M226.81 135.72h0M197.61 183.73h0M268.2 157.57h0M228.17 164.7h0M250.32 112.19h0M229.92 112.17h0M263.49 156.16h0M231.6 117.87h0M234.31 176.35h0M273.64 116.36h0M220.97 112.05h0M198.82 160.24h0M204.07 146.67h0M228.53 136.05h0M223.62 163.28h0M236.27 174.98h0M249.88 117.09h0M209.87 142.64h0M236.1 175.51h0M226.84 177.37h0M231.56 186.68h0M257.51 151.6h0M245.04 156.9h0M256.72 129.24h0M253.76 171.07h0M218.31 146.89h0M268.65 174.07h0M198.61 163.83h0M252.6 164.48h0M213.97 155.29h0M271.01 137.33h0M237.98 141.4h0M239.45 113.35h0M221.75 138.68h0M195.21 135.1h0M203.59 135.36h0M202.44 148.81h0M205.58 133.44h0M266.55 116.7h0M232.01 147.85h0M247.44 179.85h0M269.53 109.15h0M208.9 176.26h0M272.93 120.43h0M267.37 130.64h0M259.55 184.29h0M205 126.97h0M212.34 137.06h0M211.92 128.65h0M206.36 124.85h0M209.23 143.71h0M249.83 175.56h0M212.63 143.93h0M203.06 136.68h0M250.97 161.32h0M261.79 144.92h0M238.32 161.81h0M223.03 181.18h0M237.38 178.94h0M221.57 132.94h0M265.47 141.32h0M260.03 150.31h0M270.56 166.08h0M198.77 113.21h0M207.51 124.09h0M239.72 133.75h0M222.42 187.37h0M218.34 124.34h0M233.15 151.12h0M241.11 122.74h0M196.61 158.81h0M260.51 148.97h0M207.1 123.72h0M242.54 131.03h0M207 154.57h0M242.01 169.35h0M251.72 144.13h0M199.82 118.16h0M239.3 144.14h0M225.21 150.53h0M258.4 186.19h0M236.4 123.24h0M238.25 110.63h0M227.93 134.79h0M196.95 128.04h0M204.68 145.93h0M215.25 124.87h0M230.83 185.13h0M209.58 170.98h0M267.61 177.18h0M222.4 183.24h0M211.77 118.45h0M215.44 173.97h0M227.37 161.53h0M248.35 143.22h0M269.28 141.38h0M262.51 179.02h0M257.8 148.86h0M224.93 144h0M212.74 160.3h0M199.27 131.28h0M199.83 180.45h0M266.35 131.25h0M249.55 186.34h0M198.45 131.53h0M273.33 128.96h0M221.48 141.3h0M254.29 187.9h0M223.08 144.91h0M220.2 132.63h0M252.75 122.49h0M201.69 128.8h0M241.48 125.04h0M198.16 132.49h0M201.76 182.79h0M251.86 157.54h0M242 110.82h0M257.37 133.8h0M241.13 177.4h0M259.91 180.61h0M198.46 147.86h0M202.61 147.22h0M264.18 157.99h0M216.96 182.08h0M206.27 167.67h0M218.11 134.69h0M240.48 116.05h0M252.59 149.99h0M220.13 159.21h0M226.89 129.35h0M204.71 163.96h0M258.71 182.89h0M225.65 160.74h0M224.4 135.15h0M263.42 148.03h0M227.25 180.89h0M211.52 114.62h0M240.84 160.57h0M196.08 121.32h0M259.75 183.04h0M250.93 114.2h0M266.95 164.34h0M259.41 145.06h0M264.19 184.84h0M274.66 155.52h0M249.66 133.16h0M213.07 113.43h0M215.3 151.08h0M252.44 161.76h0M263 139.4h0M263.44 152.01h0M252.26 166.78h0M254.67 120.15h0M210.43 171.08h0M213.34 133.79h0M211.76 147.74h0M209.9 143.96h0M237.74 185.2h0M209.85 179.53h0M199.23 141.18h0M262.68 154.14h0M262.89 146h0M250.2 114.37h0M214.61 119.07h0M231.75 141.51h0M235.46 155.54h0M263.7 162.8h0M229.84 141.81h0M215.67 173.11h0M234.77 108.66h0M211.33 167.19h0M245.55 167.9h0M256.88 110.56h0M221.15 116.86h0M203.94 122.89h0M256.38 111.76h0M245.84 130.52h0M205.5 127.14h0M249.23 161.28h0M250.39 165.14h0M200.39 136.49h0M201.81 165.02h0M267.87 121.63h0M198.61 123.5h0M208.97 115.85h0M237.79 125.5h0M196.75 110.94h0M208.71 143.25h0M201.93 164.6h0M213.14 171.56h0M247.96 149.58h0M252.01 147.26h0M206.53 119.58h0M200.26 186.27h0M248.73 108.42h0M217.5 125.82h0M242.24 125.66h0M273.16 167.8h0M247.61 179.86h0M241.83 126.89h0M219.8 117.02h0M228.21 161.04h0M195.62 133.03h0M232.2 131.12h0M268.12 183.85h0M248.11 135.31h0M268.37 133.75h0M198.58 183.97h0M251.65 171.45h0M208.53 113.34h0M226.49 140.79h0M197.1 165.67h0M224.82 133.73h0M215.86 182.57h0M249.5 109.71h0M256.9 148.95h0M251.99 155.59h0M212.11 153.59h0M219.86 128.53h0M256.13 171.69h0M235.64 146.29h0M213.2 111.96h0M249.01 144.8h0M228.89 125.28h0M243.15 168.85h0M204.87 167h0M270.09 124.41h0M236.74 177.8h0M233.33 186.24h0M273.62 133.19h0M233.72 169.07h0M213.6 161.27h0M245.38 110.37h0M208.87 176.93h0M264.98 172.29h0M249.19 165.13h0M259.71 181.55h0M227.21 167.82h0M246.43 184.41h0M241.14 123.48h0M241.23 187.72h0M242.92 134.71h0M199.69 172.92h0M215.71 125.13h0M227.75 161.17h0M265.38 154.88h0M210.89 118.8h0M255.22 169.1h0M266.95 173.22h0M202.09 160.73h0M237.19 170.53h0M246.97 113.74h0M232.47 131.21h0M274.19 151.01h0M219.23 113.34h0M195.91 132.88h0M209.74 137.24h0M271.98 137.45h0M233.47 176.85h0M227.63 185h0M262.43 136.16h0M260.54 173.4h0M242.56 180.57h0M199.38 140.89h0M249.35 128.94h0M208.72 162.3h0M205.22 114.49h0M202.26 173.18h0M206.31 136.06h0M200.23 137.5h0M266.28 109.8h0M255.75 144.78h0M207.07 141.1h0M206.3 162.91h0M222.5 131.9h0M235.63 126.2h0M235.19 156.71h0M262.68 130.66h0M249.69 134.54h0M257.1 153.76h0M250.93 136.29h0M245.48 111.18h0M241.11 146.09h0M231.37 141.96h0M205.22 124.11h0M204.99 186.9h0M203.97 148.39h0M233.93 151.69h0M235.18 161.12h0M233.83 147.09h0M271.79 182h0M254.26 133.56h0M233.25 160.38h0M257.54 151.12h0M259.46 146.45h0M230.28 155.96h0M209.49 141.67h0M208.82 167.6h0M229.97 145.51h0M266.64 169.75h0M217.21 135.44h0M196.93 165.76h0M227.22 125.37h0M196.99 175.24h0M226.06 162.18h0M226.05 183.15h0M213.8 139.01h0M204.48 172h0M231.78 129.68h0M199.89 109.53h0M221.58 111.44h0M207.33 154.82h0M235.77 144.93h0M265.06 120.57h0M262.77 116.06h0M204.62 170.29h0M214.73 128.69h0M201.8 127.24h0M212.8 170.35h0M201.51 117.2h0M261.61 169.97h0M208.65 182.42h0M265.46 131.87h0M225.28 171.98h0M199.42 184.3h0M237.39 135.15h0M248.76 131.7h0M209.25 172.08h0M248.91 126.32h0M245.75 134.65h0M248.99 153.77h0M212.97 126.92h0M273.33 168.66h0M200.29 180.93h0M226.5 153.39h0M241.52 119.99h0M215.51 139.48h0M273.61 151.76h0M250.32 144.77h0M258.04 160.92h0M221.21 141.19h0M240.02 119.47h0M241.39 180.33h0M205.78 153.81h0M257.43 156.29h0M205.15 151.26h0M248.26 153.19h0M247.29 128.06h0M266.21 160.57h0M251.6 125.8h0M258.04 123.38h0M242.88 176.77h0M216.86 180.13h0M196.24 178.8h0M218.43 169.58h0M248.68 179.53h0M216.41 137.03h0M233.92 114.06h0M265.08 137.31h0M236.57 147.08h0M257.85 151.54h0M204.72 112.58h0M272.17 166.04h0M274.65 109.45h0M234.07 166.73h0M255.16 108.32h0M195.54 115.16h0M218.92 131.79h0M229.5 174.25h0M268.27 147.47h0M271.7 126.75h0M234.31 112.55h0M254.65 118.04h0M216.68 137.85h0M218.78 164.46h0M205.64 147.11h0M248.55 112.58h0M221.37 167.16h0M251.55 115.47h0M198.86 149.27h0M263.35 174.22h0M254.41 162.22h0M213.69 161.63h0M235.9 134.92h0M212.59 113.67h0M195.08 145.18h0M250.47 154.65h0M197.65 166.18h0M216.57 143.61h0M272.45 146.54h0M219.12 142.02h0M268.64 122.19h0M250.06 174.99h0M262.2 160.31h0M242.99 123.16h0M272.59 152.96h0M224.12 135.64h0M239.13 135.47h0M254.12 162.8h0M241.02 165.18h0M239.05 110.89h0M196.17 131.03h0M199.24 168.43h0M253.96 178.78h0M215 143.23h0M225.64 174.77h0M232.36 161.41h0M217.41 114.26h0M195.21 121.68h0M250.84 138.82h0M211.64 142.63h0M223.6 153.36h0M261.77 177.95h0M245.07 115.28h0M247.94 161.42h0M259.69 138.36h0M265.63 122.52h0M237.32 153.06h0M252.25 154.66h0M256.58 182.34h0M214.85 139.86h0M272.74 122.11h0M238.19 143.6h0M206.8 108.05h0M268.09 128.75h0M211.95 115.2h0M199.7 121.85h0M250.91 115.77h0M205.23 166.1h0M217.18 117.99h0M258.49 168.96h0M201.75 147.56h0M227.97 160.14h0M219.74 136.77h0M200.39 149.73h0M227.77 140.47h0M230.49 186.08h0M197.86 180.97h0M258.76 131.31h0M210.54 168.07h0M199.45 173.66h0M255.62 165.52h0M255.97 173.77h0M271.87 157.59h0M239.07 153.28h0M263.01 142.34h0M236.15 177.62h0M214.14 112.43h0M201.05 141.31h0M204.56 140.08h0M210.49 187.46h0M195.79 131.04h0M265.03 141.27h0M203.33 186.06h0M205.3 145.11h0M226.68 110.87h0M235.79 162.42h0M248.72 180.96h0M263.9 170.74h0M264.04 137.5h0M231.16 133.19h0M231.99 116.85h0M205.73 175.92h0M242.84 165.19h0M273.69 118.35h0M197.06 187.91h0M197.39 177.42h0M196.87 170.42h0M244.72 180.62h0M200.94 129.19h0M202.03 162.46h0M273.82 153.77h0M202.76 108.87h0M230.63 125.74h0M256.45 120.65h0M266.37 140.15h0M245.1 180.29h0M234.51 170.42h0M195.92 177.11h0M271.2 129.18h0M228.75 173.76h0M245.84 140.29h0M221.52 184.82h0M244.53 138.11h0M222.91 150.56h0M241.84 147.32h0M230.09 119.31h0M243.99 164.13h0M231.39 153.73h0M220.37 117.82h0M261.22 137.04h0M225.44 161.38h0M269.58 176.02h0M268.63 129.59h0M266.87 170.45h0M209.19 160.33h0M209.41 115.29h0M216.91 109.44h0M224.8 147.02h0M199 133.55h0M220.49 180.2h0M216.52 162.58h0M226.42 155.85h0M218.73 161.09h0M217.14 112.97h0M237.6 147.87h0M227.99 120.63h0M204.83 136.46h0M231.34 186.25h0M270.33 181.37h0M215.19 185.28h0M268.76 139.56h0M235.31 150.75h0M267.64 146.87h0M231 140.12h0M214.93 146.85h0M238.38 124.24h0M218.28 112.44h0M237.56 140.65h0M236.86 132.9h0M264.9 168.54h0M249.26 164.16h0M225.26 186.43h0M196.05 131.99h0M265.26 186.02h0M251.1 153.77h0M202.06 177.36h0M268.78 158.25h0M270.91 187.29h0M213.26 153.06h0M208.77 183.8h0M207.27 141.92h0M260.55 111.87h0M229.79 169.54h0M196.98 186.25h0M224.25 128.25h0M233.97 110.74h0M251.1 120.13h0M257.78 116.76h0M269.55 170.1h0M225.56 156.2h0M198.41 159.19h0M271.42 108.72h0M223.73 175.5h0M265.67 154.77h0M213.27 141.71h0M220.49 117.39h0M254.17 133.6h0M205.42 113.67h0M226.84 185.08h0M268.12 174.44h0M258.63 126.45h0M204.52 160.66h0M252.44 125.79h0M246.17 170.29h0" stroke="#7676bc" stroke-width="0.95" stroke-linecap="round" opacity="0.5" fill="none"/>
<path d="M241.11 174.09h0M211.27 156.98h0M239.19 141.43h0M266.14 118.38h0M253.39 170.61h0M232.04 159.39h0M210.03 113.67h0M244.64 128.14h0M222.03 117.82h0M237.2 154.22h0M263.79 149.89h0M244.77 177.61h0M272.89 152.04h0M230.34 165.55h0M263.44 108.45h0M263.73 168.9h0M272.3 160.14h0M240.65 142.13h0M267.81 133.35h0M247.82 164.46h0M260.51 125.03h0M266.58 113.08h0M200.21 180.85h0M237.46 140.5h0M231.7 131.7h0M274.68 176.29h0M230.95 122.69h0M210.82 146.18h0M226.6 151.95h0M205.71 144.75h0M198.6 149.18h0M239.4 162.07h0M263.84 176.75h0M250.7 124.91h0M211.2 140.27h0M249.16 140h0M235.7 157.07h0M256.46 110.46h0M207.05 149.72h0M255.41 110.8h0M211.74 177.72h0M247.19 162.06h0M230.94 159.63h0M252.77 119.06h0M196.07 133.24h0M220.62 152.55h0M235.32 121.78h0M260.57 158.38h0M245.62 129.14h0M261.43 119.67h0M238.15 184.56h0M228.81 163.95h0M215.63 115.33h0M203.13 111.56h0M203.34 186.9h0M245.28 167.31h0M195.7 113.44h0M264.26 156.16h0M249.97 155.08h0M206.92 134.05h0M262.38 154.36h0M243.11 115.1h0M216.16 151.27h0M246.62 172.56h0M247.67 175.33h0M202.79 114.23h0M255.14 174.59h0M212.93 130.64h0M266.39 184.3h0M254.32 158.97h0M240.24 159.83h0M233.97 179.98h0M214.82 112.12h0M216.89 171.82h0M252.58 152.72h0M264.39 121.33h0M245.4 124.06h0M268.8 181.54h0M268.22 108.99h0M218.74 143.07h0M204.22 124.9h0M201.1 161.71h0M242.17 139.57h0M225.89 157.71h0M251.09 120.43h0M227.3 122.8h0M219.8 156.58h0M226.29 154.28h0M198.22 136.77h0M229.02 162.02h0M252.3 134.16h0M261.3 145.46h0M213.19 186.51h0M214.48 142.8h0M219.1 112.24h0M260.73 158.18h0M213.68 154.25h0M209.49 181.94h0M245.63 158.18h0M218.6 113.7h0M255.73 140.32h0M214.04 170.3h0M249.01 182.4h0M199.91 124.77h0M221.29 145.24h0M262.63 132.28h0M222.25 179.74h0M248.05 131.2h0M214.85 118.55h0M223.32 125.04h0M240.44 155.8h0M221.53 125.11h0M259.46 126.84h0M201.19 147.89h0M238.24 110.88h0M234.02 133.88h0M214.48 132.6h0M248.92 114.75h0M247.69 165.77h0M227.15 167.12h0M223.36 184.65h0M244.27 169.97h0M241.58 166.22h0M210.7 133.2h0M231.3 172.68h0M264.13 136.08h0M249.26 144.54h0M256.35 173.99h0M227.73 116.28h0M211.39 156.53h0M203.2 157.45h0M242.1 141.51h0M269.57 136.58h0M245.24 153.65h0M268.79 146.55h0M238.58 128.65h0M265.73 175.68h0M226.02 133.24h0M215.26 163.89h0M265.11 172.92h0M268.95 173.24h0M244.92 155.68h0M201.53 184.65h0M259.25 123.4h0M247.77 157.71h0M210.82 128.86h0M205.85 124.06h0M236.62 187.55h0M267.69 180.15h0M229.77 131.73h0M226.73 162.34h0M272.67 166.41h0M218.38 156.76h0M252.57 165.44h0M241.03 181.21h0M245.9 113h0M256.45 140.2h0M224.71 134.69h0M201.96 148.01h0M216.47 174.86h0M232.37 116.92h0M246.94 167.51h0M234.14 134.55h0M265.15 147.37h0M214.13 121.44h0M248.85 171.02h0M265.76 184.64h0M203.95 183.62h0M206.09 164.58h0M220.96 167.26h0M201.98 141.52h0M215.86 130.65h0M269.09 109.5h0M230.37 129.82h0M234.44 150.74h0M254.14 162.25h0M240.41 109.77h0M240.23 154.38h0M217.45 178.36h0M271.28 110.23h0M199.41 114.37h0M252.82 136.02h0M218.28 176.2h0M211.7 133.14h0M247.88 170.6h0M196.55 128.52h0M248.35 147.75h0M225.45 138.97h0M206.33 134.15h0M232.53 132.75h0M270.81 122.8h0M235.93 156.9h0M242.16 180.62h0M206.38 151.36h0M200.9 141.36h0M196.34 147.99h0M262.92 169.87h0M242.78 184.02h0M253.42 182.63h0M244.41 115.02h0M242.22 154.19h0M246.46 121.94h0M255.57 156.17h0M196.8 120.88h0M212.54 130.59h0M201.54 159.56h0M252.12 123.35h0M251.03 142.17h0M239.94 167.67h0M228.3 175.98h0M257.22 121.77h0M229.84 156.41h0M257.49 171.24h0M228.5 145.38h0M197.23 139.01h0M231.96 127.87h0M273.2 131.02h0M221.03 153.38h0M205.78 118.46h0M252.04 138.96h0M273.8 120.4h0M249.78 125.98h0M248.24 128.14h0M230.26 160.45h0M242.98 131.53h0M220.76 151.66h0M261.45 116.3h0M249.89 124.98h0M203.67 175.92h0M249.28 147.79h0M204.02 123.84h0M196.4 153.12h0M222.39 123.94h0M219.62 185.24h0M203.82 140.44h0M241.86 122.09h0M240.08 178.63h0M231.51 175.04h0M265.61 112.29h0M200.75 132.2h0M271.91 166.85h0M253.08 140.29h0M246.49 109.41h0M235.6 186.22h0M244.36 114.83h0M210.48 140.46h0M261.26 170.04h0M202.05 114.08h0M206.12 124.67h0M232.98 177.23h0M229.97 131.52h0M206.91 166.69h0M210.5 176.96h0M263.2 186.75h0M243.9 173h0M208.75 112.19h0M265.04 157.16h0M239.75 137.78h0M272.41 112.45h0M215.63 112.85h0M256.09 144.15h0M224.33 127.16h0M239.55 160.12h0M267.43 119.64h0M221.75 133.18h0M250.82 154.02h0M200.13 147.77h0M262.47 112.29h0M210.74 129.45h0M243.96 136.42h0M212.51 128.82h0M227.65 108.85h0M213.19 132.73h0M271.81 124.27h0M232.87 178.44h0M272.92 184.16h0M221.9 110.73h0M253.59 168.67h0M212.9 154.15h0M238.98 182.58h0M237.28 130.89h0M226.92 117.8h0M208.96 108.28h0M214.41 175.26h0M227.19 185.56h0M233.72 130.53h0M267.68 114.89h0M258.31 133.54h0M209.05 175.81h0M206.69 152.37h0M273.92 181.93h0M228.79 119.02h0M239.13 112.19h0M212.7 173.19h0M220.42 108.96h0M238.6 137.77h0M203.89 151.9h0M245.11 143.12h0M235.88 132.11h0M255.19 115.45h0M253.56 111.85h0M207.16 170.07h0M210.04 186.78h0M199.67 154.19h0M219.71 158.65h0M217.33 117.98h0M270.29 162.31h0M248.38 119.97h0M250.63 112.14h0M205.63 133.02h0M215.36 109.78h0M260.83 109.25h0M216.14 146.98h0M262.75 150.58h0M248.93 169.13h0M222.26 110.55h0M229.9 157.9h0M240.58 145.12h0M209.58 160.29h0M213.24 143.17h0M244.31 163.68h0M198.21 122.49h0M240.33 160.94h0M220.45 162.02h0M220.41 122.79h0M220.75 116.4h0M266.46 159.96h0M218.82 186.89h0M231.13 143.15h0M235.46 164.94h0M228.41 112.37h0M229.1 131.77h0M219.76 163.04h0M247.5 145.49h0M264.85 116.38h0M268.09 146.01h0M201.07 143.39h0M207.23 187.89h0M200.23 137.4h0M239.22 186.12h0M213.16 172.28h0M264.31 113.19h0M247.29 126.08h0M211.54 148.66h0M268.6 174.64h0M230.85 162.66h0M221.02 181.34h0M227.35 172.93h0M216.28 156.38h0M235.81 134.13h0M236.36 147.16h0M228.24 181.75h0M197.88 123.44h0M216.74 119.27h0M211.35 141.24h0M251.31 127.92h0M220.51 136.14h0M209.83 165.95h0M252.71 144.81h0M207.26 176.09h0M251.3 168.28h0M250.22 114.95h0M198.88 115.41h0M264.71 121.84h0M231.85 121.28h0M248.45 157.21h0M220.87 142.97h0M218.92 112.52h0M253.08 163.39h0M215.93 175.56h0M246.94 187.7h0M195.31 163.09h0M218.77 124.17h0M222.02 148.31h0M207.09 136.51h0M217.42 180.76h0M259.02 125.11h0M247.48 130.83h0M236.6 147.88h0M261.43 169.6h0M230.35 127.18h0M250.9 112.36h0M249.55 141.13h0M215.75 137.77h0M249.48 148.84h0M202.45 160.71h0M201.69 140.87h0M274.04 154.06h0M196.46 161.42h0M213.27 134.77h0M241.87 186.13h0M267.72 142.68h0M229.05 125.39h0M256.49 150.3h0M206.66 144.58h0M253.44 115.45h0M250.55 147h0M273.16 182.08h0M262.75 137.3h0M255.45 116.53h0M214.89 157.29h0M202.69 175.29h0M210.77 152.69h0M213.81 154.58h0M238.8 134.26h0M247.19 132.16h0M258.55 120.68h0M203.86 177.07h0M218.4 129.87h0M271.23 146.5h0M266.89 135h0M235.75 176.24h0M227.4 166.54h0M249.91 124.13h0M209.64 175.29h0M205.96 165.53h0M235.78 120.1h0M205.03 167.02h0M207.78 142.42h0M223.83 185.37h0M257.17 149.35h0M261.75 142.13h0M243.76 142h0M237.13 183.13h0M209.36 163.33h0M197.73 150.54h0M270.69 174.04h0M236.45 149.33h0M206.14 140.44h0M226.71 117.2h0M220.99 149.2h0M254.28 120.13h0M253.28 144.09h0M223.96 121.58h0M242.55 176.84h0M215.06 141.55h0M220.86 115.2h0M268.59 156.23h0M251.86 122.82h0M213.09 119.2h0M211 180.83h0M239.05 148.16h0M271.71 110.54h0M236.26 125.82h0M227.47 179.41h0M197.38 113.64h0M220.56 123.86h0M267.39 119.56h0M251.87 123.18h0M265.45 119.12h0M274.06 128.99h0M224.76 126.81h0M204.79 160.94h0M234.31 141.82h0M249.73 149.69h0M257.36 134.94h0M199.31 142.23h0M262.4 177.45h0M214.65 173.03h0M241.74 161.7h0M261.56 177.15h0M220.79 130.9h0M265.66 156.11h0M265.69 157.45h0M210.34 109.5h0M202.7 155.76h0M216.6 169.96h0M217 125.07h0M248.24 163.81h0M241.8 136.78h0M268.59 184.1h0M268.18 149.58h0M207.27 125.97h0M268.45 128.58h0M260.49 180.75h0M240.29 130.13h0M250.1 134.46h0M268.94 183.28h0M203.18 156.15h0M238.58 181.3h0M262.46 123.45h0M210.24 116.95h0M197.32 132.14h0M263.5 134.18h0M262.63 155.81h0M238.4 161.35h0M227.03 148.42h0M252.29 126.29h0M202.67 118.21h0M198.35 135.45h0M238.31 123.08h0M208.56 128.32h0M196.81 123.32h0M230.66 151.96h0M273.78 165.4h0M218.59 161.59h0M251.02 145.13h0M216.7 130.82h0M250.53 169.45h0M250.83 172.63h0M240.73 134.49h0M249.56 131.36h0M219.46 128.86h0M250.44 131.39h0M254.53 171.67h0M223.39 165.52h0M215.17 180.45h0M233.14 134.65h0M267.58 180.73h0M214.66 175.62h0M270.65 172.98h0M265.19 164.78h0M210.04 165.58h0M212.05 176.35h0M274.25 122.49h0M206.79 146.33h0M198.75 126.18h0M206.92 175.5h0M211.65 133.17h0M246.4 136.92h0M223.13 121.22h0M270.79 168.05h0M249.36 165.51h0M259.21 135.9h0M204.34 127.06h0M231.77 163.78h0M269.54 182.01h0M267.46 184.78h0M244.3 122.58h0M242.76 170.61h0M224.96 179.41h0M219.57 181.75h0M236.56 162.35h0M217.61 170.43h0M251.05 122.54h0M242.35 161.08h0M253.45 131.23h0M214.65 110.07h0M232.71 138.84h0M198.49 176.64h0M256 161.21h0M273.9 172.62h0M213 127.75h0M200.37 110.87h0M228.4 126.97h0M199.59 111.52h0M228.85 127.09h0M228.38 167.16h0M214.56 110.81h0M261.21 140.28h0M212.33 152.63h0M262.4 128.39h0M236.68 128.72h0M211 157.66h0M254.9 149.88h0M239.97 122.05h0M217.19 129.45h0M196 150.81h0M226.34 111.21h0M264.96 159.39h0M229.22 176.55h0M205.34 148.72h0M230.62 144.7h0M226.2 173.93h0M219.6 155.85h0M224.78 186.95h0M243.99 151.01h0M247.5 113.18h0M202.18 167.47h0M226.65 131.53h0M233.74 186.21h0M223.89 183.04h0M232.44 132.74h0M217.68 156.4h0M199.89 164.43h0M203.26 112.99h0M250.15 166.08h0M214.78 129.2h0M220.88 140.8h0M222.36 117.68h0M248.14 147.08h0M206.75 155.16h0M227.43 131.79h0M227.44 178.44h0M235.82 144.29h0M246.77 162.54h0M243.56 110.01h0M258.55 119.24h0M267.98 170.94h0M273.94 117.9h0M272.82 180.78h0M271.31 147.22h0M272.98 166.56h0M238.38 127.21h0M247.58 166.81h0M206.05 144.35h0M244.23 114.4h0M240.64 158.15h0M255.37 173.43h0M274.03 139.44h0M227.69 144.64h0M249.1 165.48h0M248.2 117.11h0M210.65 159.03h0M245.48 131.5h0M213.78 116.39h0M230.05 112.07h0M244.56 126.25h0M271.41 121.81h0M195.04 110.65h0M263.59 133.52h0M274.46 158.98h0M267.18 164.35h0M248.3 120.71h0M266.09 143.06h0M196.98 111.03h0M244.94 172.36h0M263.68 113.4h0M228 139.79h0M266.82 173.36h0M236.85 186.35h0M208.96 110.94h0M195.81 152.93h0M256.81 173.02h0M264.45 135.98h0M245.09 132.75h0M260.79 176.59h0M273.4 136.21h0M244.62 153.23h0M243.2 166.37h0M207.8 168.29h0M253.71 125.27h0M274.13 166.34h0M257.11 169.46h0M234.15 179.01h0M234.34 140.96h0M210.91 111.08h0M222.57 181.48h0M239.59 123.06h0M221.35 167.34h0M272.74 115.65h0M262.21 110.04h0M207.73 108.35h0M272.57 152.41h0M199.78 183.85h0M262.23 175.11h0M195.83 133.19h0M241.47 168.47h0M247.64 128.32h0M263.03 162.47h0M265.42 173.22h0M263 162.91h0M245.89 145.08h0M224.51 171.99h0M204.16 108.05h0M207.99 115.19h0M225.43 112.83h0M246.52 132.58h0M251.34 131.41h0M213.71 140.15h0M216.82 133.46h0M263.45 139.95h0M199.72 135.1h0M246.32 139.14h0M206.91 158.1h0M240.65 159.95h0M256.42 173.11h0M226.04 108.29h0M243.24 129h0M235.88 152.08h0M273.37 138.7h0M225.7 134.27h0M262.77 151.55h0M231.96 139.07h0M254.85 120.67h0M244.7 166.59h0M229.87 146.81h0M245.68 166.26h0M239.62 165.29h0M196.05 109.71h0M203.42 146.37h0M260.14 110.66h0M203.55 171.95h0M207.13 111.3h0M202.47 160.64h0M227.5 135.61h0M265.11 180h0M221.91 136.91h0M252.34 145.26h0M210.47 129.78h0M251.26 136.13h0M259.02 149.92h0M234.73 127.14h0M273.33 123.89h0M214.26 117.57h0M240.52 118.64h0M245.01 148.41h0M245.7 131.73h0M236.33 123.2h0M239.18 115.73h0M268.47 162.72h0M205.12 152.67h0M200.31 137.42h0M237.96 165.53h0M263.93 162.64h0M231.7 133.02h0M265.77 177.58h0M212.61 116.3h0M211.13 111.82h0M258.16 143.86h0M261.9 137.79h0M207.23 170.64h0M235.76 156.68h0M269.69 136.4h0M227.53 152.95h0M204.64 111.02h0M200.94 185.26h0M245.52 130.1h0M243.59 179.28h0M274.36 140.76h0M234.74 149.55h0M270.72 148.06h0M236.39 174.31h0M209.25 148.18h0M207.32 185.72h0M252.14 166.02h0M251.13 166.29h0M212.67 143.97h0M245.82 128.07h0M226.41 158.37h0M218.67 116.18h0M268.93 129.03h0M247.37 129.44h0M213.94 178.17h0M259.8 161.39h0M247.32 149.89h0M261.27 172.94h0M197.02 133.69h0M204.73 143.23h0M233.98 185.79h0M210.88 128.86h0M221.78 147.23h0M228.06 114.4h0M251.41 141.17h0M262.55 119.14h0M216.26 134.16h0M260.92 149.32h0M209.38 144.34h0M200.06 174.84h0M217.73 117.87h0M223.34 119.64h0M204.45 182.42h0M244.04 161.8h0M218.22 165.82h0M269 150.8h0M225.02 156.35h0M246.29 173.59h0M228.6 183.67h0M209.16 177.51h0M273.71 121.09h0M256.32 122.75h0M198.12 126.28h0M222.32 134.16h0M236.29 159.47h0M248.22 134.09h0M274.9 126.71h0M221.94 154.97h0M269.4 131.13h0M205.66 176.59h0M240.02 181.52h0M249.67 176.98h0M199.06 130.98h0M264.32 160.13h0M265.04 143.26h0M263.78 174.03h0M238.99 164.05h0M245.49 131.07h0M195.91 183.28h0M238.67 186.47h0M258.25 128.4h0M247.57 144.4h0M258.36 131.42h0M254.45 135.08h0M267.22 139.86h0M199.77 158.92h0M195.69 136.99h0M207.42 142.6h0M240.08 154.73h0M212.87 182.57h0M268.24 108.64h0M214.47 151.79h0M250.01 111.23h0M244.57 156.97h0M266.49 124.06h0M267.84 156.76h0M254.61 179.72h0" stroke="#7676bc" stroke-width="1.2" stroke-linecap="round" opacity="0.5" fill="none"/>
<path d="M233.42 109.53h0M265.15 160.38h0M255.06 119.38h0M265.08 157.39h0M245.08 110.75h0M274.4 142.16h0M232.6 165.38h0M217.44 145.1h0M232.85 128.17h0M203.92 164.15h0M255.25 164.88h0M270.72 126.74h0M253.47 162.37h0M255.66 148.97h0M252.96 123.2h0M264.13 186.45h0M235.96 182.73h0M261.53 134.61h0M246.56 159.44h0M252.35 159.25h0M201.12 155h0M258.12 108.89h0M267.91 183.57h0M221.6 154.26h0M252.04 156.37h0M207.06 151.69h0M273.21 167.51h0M222.5 139.4h0M248.24 135.71h0M230.67 134.43h0M224.2 159.44h0M250.34 164.59h0M203.09 183.67h0M211.38 139.65h0M231.84 130.79h0M233.49 116.97h0M212.94 141.26h0M198.76 120.57h0M239.5 149.7h0M214.13 185.36h0M234.01 165.34h0M237.82 111.69h0M214.67 152.57h0M268.05 143.66h0M249.96 171.49h0M271.37 174.41h0M221.43 143.57h0M252.12 139.04h0M264.17 151.02h0M273.87 129.63h0M263.34 109.34h0M210.24 134.1h0M211.6 152.81h0M232.93 178.73h0M228.77 150.06h0M225.2 187.67h0M231.1 143.31h0M209.46 127.44h0M257.21 133.71h0M264.76 162.48h0M197.3 166.63h0M202.31 156.25h0M274.75 167.87h0M254.85 126.62h0M253.16 135.4h0M262.52 113.1h0M256.58 111.43h0M212.88 157.47h0M242.42 177.02h0M244.34 163.53h0M240.85 111.4h0M234.43 155.47h0M226.28 156.61h0M226.38 139.09h0M256.42 116.28h0M218.36 113.46h0M249.06 117.06h0M221.21 143.55h0M251.36 137.25h0M237.85 153.32h0M257.73 141.98h0M257.19 167.67h0M235.19 120.76h0M219.04 136.02h0M209.01 182.58h0M213.48 179.76h0M222.64 178.23h0" stroke="#c8a890" stroke-width="0.7" stroke-linecap="round" opacity="0.45" fill="none"/>
<path d="M229.55 132.87h0M197.28 126.9h0M195.52 123.2h0M274.43 124.49h0M252.26 164.86h0M253.05 178.41h0M228.48 170.95h0M239.12 127h0M266.66 148.4h0M201.17 135.07h0M228.01 122.75h0M206.26 122.92h0M206.4 174.68h0M234.9 141.24h0M201.18 130.74h0M254.73 119.28h0M267.81 169.65h0M246.37 161.66h0M211.49 149.76h0M236.77 169.64h0M201.87 110.06h0M225.51 138.94h0M200.31 122.68h0M197.33 128.89h0M252.9 162.87h0M262.17 140.6h0M238.64 119.91h0M203.38 178h0M242.97 164.06h0M270.29 126.77h0M238.85 120.13h0M248.43 173.55h0M216.18 124.3h0M263.98 146.37h0M261.67 187.19h0M240.96 128.91h0M231.09 152.2h0M264.74 164.07h0M237.67 165.36h0M255.75 141.04h0M262.8 124.35h0M227.12 140.54h0M235.62 172.86h0M234.05 127.62h0M236.92 172.51h0M256.4 135.15h0M195.3 118.82h0M248.38 162.2h0M196.41 174.28h0M253.09 153.67h0M209.76 131.4h0M243.36 117.36h0M235.59 125.59h0M226.76 171.14h0M258.92 120.58h0M204.24 165.91h0M216.58 141.02h0M249.9 153.07h0M229.76 186.98h0M257.63 185.78h0M204.69 140.53h0M272.77 149.83h0M256.6 182.68h0M235.65 130.63h0M265.08 157.11h0M271.64 138.44h0M228.07 175.62h0M250.43 121.59h0M209.48 139.65h0M247.54 128.87h0M262.03 181.53h0M244.53 163.19h0M237.67 187.93h0M215.19 162.26h0M241.06 129.45h0M241.91 147.61h0M211.56 116.97h0M268.51 110.07h0M206.54 117.04h0M227.98 133.42h0M213.51 113.93h0" stroke="#c8a890" stroke-width="0.95" stroke-linecap="round" opacity="0.45" fill="none"/>
<path d="M209.61 170.25h0M232.07 160.02h0M262.05 152.94h0M229.77 152.05h0M232.89 156.12h0M247.73 135.06h0M244.4 146.64h0M266.17 159.01h0M208.73 170.83h0M229.98 110.68h0M247.44 181.32h0M260.87 168.19h0M218 170.35h0M261.19 132.22h0M210.93 145.59h0M206.39 166.48h0M219.28 126.61h0M237.85 178.01h0M247.66 161.38h0M227.18 155.61h0M241.72 118.79h0M241.28 146.94h0M212.19 136.7h0M211.9 177.86h0M219.61 143.82h0M233.01 141.67h0M251.04 133.23h0M262.05 120.94h0M256.34 144.46h0M233.36 177.21h0M261.73 127.16h0M211.86 162.09h0M252.2 138.62h0M244.19 112.22h0M209.24 112.54h0M228.42 171.03h0M230.89 126.86h0M229.28 140.53h0M204.11 131.65h0M222.89 147.85h0M270.84 160.23h0M231.59 173.52h0M221.04 156.59h0M246.08 184.29h0M244.39 124.79h0M236.1 120.22h0M199.02 127.79h0M229.93 167.53h0M235.79 118.84h0M268.7 157.52h0M236.02 161.01h0M274.28 158.9h0M225.03 113.7h0M253.81 158.25h0M255.03 164.24h0M223.55 116.24h0M230.9 125.51h0M258.2 141.74h0M225 133.54h0M264.44 135.67h0M246.27 149.38h0M229.02 152.45h0M229.06 133.3h0M226 115.43h0M252.23 117.38h0M196.75 134.92h0M242.38 187.89h0M220.42 133.22h0M206.59 143.02h0M238.02 162.71h0M219.35 174.45h0M195.4 110.28h0M213.3 144.4h0M202.84 171.82h0M220.8 161.91h0M255.35 179.72h0M214.99 115.68h0M252.27 172.05h0M239.68 153.75h0M211.68 133.75h0M209.34 156.82h0M233 176.28h0" stroke="#c8a890" stroke-width="1.2" stroke-linecap="round" opacity="0.45" fill="none"/>
</g>
<g clip-path="url(#hc17)">
<rect x="230" y="108" width="45" height="45" fill="#f2f0f4"/>
<rect x="230" y="108" width="45" height="45" fill="#fff" filter="url(#n12)"/>
<g filter="url(#hb18)" fill="#d8b89c" opacity="0.8"><ellipse cx="270" cy="120" rx="5" ry="4" transform="rotate(0 270 120)"/><ellipse cx="238" cy="150" rx="5" ry="3" transform="rotate(0 238 150)"/></g>
<g fill="#5c64b8" opacity="0.8"><ellipse cx="242.38" cy="112.21" rx="1.55" ry="1.34" transform="rotate(121 242.38 112.21)"/><ellipse cx="250.19" cy="143.51" rx="1.93" ry="1.92" transform="rotate(5 250.19 143.51)"/><ellipse cx="271.71" cy="122.59" rx="1.56" ry="1.65" transform="rotate(62 271.71 122.59)"/><ellipse cx="241.33" cy="139.08" rx="1.51" ry="1.66" transform="rotate(108 241.33 139.08)"/><ellipse cx="266.9" cy="110.17" rx="1.76" ry="1.26" transform="rotate(21 266.9 110.17)"/><ellipse cx="245.79" cy="130.85" rx="2.23" ry="1.27" transform="rotate(98 245.79 130.85)"/><ellipse cx="271.75" cy="141.49" rx="2.48" ry="1.8" transform="rotate(25 271.75 141.49)"/><ellipse cx="259.01" cy="141.41" rx="1.86" ry="1.97" transform="rotate(81 259.01 141.41)"/><ellipse cx="261.89" cy="121.33" rx="1.86" ry="1.88" transform="rotate(109 261.89 121.33)"/><ellipse cx="273.96" cy="114.86" rx="1.76" ry="1.71" transform="rotate(76 273.96 114.86)"/><ellipse cx="265.67" cy="129.24" rx="2.31" ry="1.51" transform="rotate(175 265.67 129.24)"/><ellipse cx="261.02" cy="111.24" rx="2.29" ry="1.98" transform="rotate(79 261.02 111.24)"/><ellipse cx="230.19" cy="145.77" rx="2.36" ry="1.55" transform="rotate(65 230.19 145.77)"/><ellipse cx="270.37" cy="128.63" rx="2.36" ry="1.41" transform="rotate(106 270.37 128.63)"/><ellipse cx="266.85" cy="122.03" rx="1.63" ry="1.43" transform="rotate(174 266.85 122.03)"/><ellipse cx="254.08" cy="135.14" rx="2.33" ry="1.56" transform="rotate(88 254.08 135.14)"/><ellipse cx="249.03" cy="150.58" rx="2.44" ry="1.68" transform="rotate(148 249.03 150.58)"/><ellipse cx="267.95" cy="142.99" rx="2.39" ry="1.73" transform="rotate(44 267.95 142.99)"/><ellipse cx="259.49" cy="127.39" rx="2.11" ry="1.7" transform="rotate(157 259.49 127.39)"/><ellipse cx="265.5" cy="138.77" rx="2.21" ry="1.74" transform="rotate(134 265.5 138.77)"/><ellipse cx="269.08" cy="136.62" rx="1.97" ry="1.79" transform="rotate(26 269.08 136.62)"/><ellipse cx="255.11" cy="131.2" rx="2.36" ry="1.61" transform="rotate(151 255.11 131.2)"/><ellipse cx="250.84" cy="119.96" rx="1.66" ry="1.72" transform="rotate(80 250.84 119.96)"/><ellipse cx="267.59" cy="117.54" rx="2.22" ry="1.96" transform="rotate(150 267.59 117.54)"/><ellipse cx="248.31" cy="114.53" rx="2.16" ry="1.85" transform="rotate(132 248.31 114.53)"/><ellipse cx="255.68" cy="148.84" rx="1.7" ry="1.66" transform="rotate(80 255.68 148.84)"/><ellipse cx="230.98" cy="149.81" rx="1.82" ry="1.29" transform="rotate(61 230.98 149.81)"/><ellipse cx="255.9" cy="121.76" rx="2.28" ry="1.54" transform="rotate(51 255.9 121.76)"/><ellipse cx="262.86" cy="132.48" rx="2.5" ry="1.87" transform="rotate(40 262.86 132.48)"/><ellipse cx="238.58" cy="149.69" rx="2.17" ry="1.37" transform="rotate(76 238.58 149.69)"/><ellipse cx="236.34" cy="118.23" rx="2.22" ry="1.84" transform="rotate(98 236.34 118.23)"/><ellipse cx="253.74" cy="145.24" rx="2.35" ry="1.35" transform="rotate(123 253.74 145.24)"/><ellipse cx="254.77" cy="114.44" rx="2.5" ry="1.65" transform="rotate(142 254.77 114.44)"/><ellipse cx="262.1" cy="143.84" rx="2.12" ry="1.83" transform="rotate(110 262.1 143.84)"/><ellipse cx="234.85" cy="123.96" rx="2.41" ry="1.99" transform="rotate(27 234.85 123.96)"/><ellipse cx="259.61" cy="133.49" rx="2.34" ry="1.86" transform="rotate(29 259.61 133.49)"/><ellipse cx="274.95" cy="133.47" rx="2.05" ry="1.63" transform="rotate(63 274.95 133.47)"/><ellipse cx="244.44" cy="152.48" rx="2.09" ry="1.43" transform="rotate(133 244.44 152.48)"/><ellipse cx="230.2" cy="123.16" rx="2.13" ry="1.8" transform="rotate(125 230.2 123.16)"/><ellipse cx="240.44" cy="152.94" rx="1.86" ry="1.64" transform="rotate(57 240.44 152.94)"/><ellipse cx="234.48" cy="148.06" rx="1.83" ry="1.96" transform="rotate(59 234.48 148.06)"/><ellipse cx="235.73" cy="138.4" rx="2.4" ry="1.96" transform="rotate(134 235.73 138.4)"/></g>
<g fill="#2a3290" opacity="0.9"><ellipse cx="268.46" cy="113.62" rx="1.2" ry="1.21" transform="rotate(135 268.46 113.62)"/><ellipse cx="250.89" cy="127" rx="1.2" ry="1.15" transform="rotate(28 250.89 127)"/><ellipse cx="260.8" cy="119.79" rx="1.24" ry="1.24" transform="rotate(27 260.8 119.79)"/><ellipse cx="259.87" cy="112.17" rx="1.31" ry="1.09" transform="rotate(160 259.87 112.17)"/><ellipse cx="270.97" cy="130.33" rx="1.56" ry="1.18" transform="rotate(102 270.97 130.33)"/><ellipse cx="255.13" cy="119" rx="1.21" ry="1.2" transform="rotate(15 255.13 119)"/></g>
</g>
<rect x="60.5" y="23.5" width="44" height="44" fill="none" stroke="#222" stroke-width="1"/>
<rect x="41.2" y="79.5" width="10" height="10" fill="none" stroke="#222" stroke-width="0.9"/>
<line x1="51.2" y1="79.5" x2="60" y2="68" stroke="#222" stroke-width="0.9"/>
<rect x="83" y="95.2" width="17" height="2" fill="#111"/>
<rect x="145.5" y="23.5" width="44" height="44" fill="none" stroke="#222" stroke-width="1"/>
<rect x="125.2" y="79.3" width="10" height="10" fill="none" stroke="#222" stroke-width="0.9"/>
<line x1="135.2" y1="79.3" x2="145" y2="68" stroke="#222" stroke-width="0.9"/>
<rect x="168" y="95.2" width="17" height="2" fill="#111"/>
<rect x="230.5" y="23.5" width="44" height="44" fill="none" stroke="#222" stroke-width="1"/>
<rect x="210.2" y="78.2" width="10" height="10" fill="none" stroke="#222" stroke-width="0.9"/>
<line x1="220.2" y1="78.2" x2="230" y2="68" stroke="#222" stroke-width="0.9"/>
<rect x="253" y="95.2" width="17" height="2" fill="#111"/>
<rect x="60.5" y="108.5" width="44" height="44" fill="none" stroke="#222" stroke-width="1"/>
<rect x="40.6" y="163.5" width="10" height="10" fill="none" stroke="#222" stroke-width="0.9"/>
<line x1="50.6" y1="163.5" x2="60" y2="153" stroke="#222" stroke-width="0.9"/>
<rect x="83" y="180.2" width="17" height="2" fill="#111"/>
<rect x="145.5" y="108.5" width="44" height="44" fill="none" stroke="#222" stroke-width="1"/>
<rect x="122.9" y="164.6" width="10" height="10" fill="none" stroke="#222" stroke-width="0.9"/>
<line x1="132.9" y1="164.6" x2="145" y2="153" stroke="#222" stroke-width="0.9"/>
<rect x="168" y="180.2" width="17" height="2" fill="#111"/>
<rect x="230.5" y="108.5" width="44" height="44" fill="none" stroke="#222" stroke-width="1"/>
<rect x="210.7" y="164.3" width="10" height="10" fill="none" stroke="#222" stroke-width="0.9"/>
<line x1="220.7" y1="164.3" x2="230" y2="153" stroke="#222" stroke-width="0.9"/>
<rect x="253" y="180.2" width="17" height="2" fill="#111"/>
<text transform="translate(65.1,19) scale(0.91,1)" font-size="8.6" text-anchor="middle">NR4A1</text>
<text transform="translate(150.1,19) scale(0.91,1)" font-size="8.6" text-anchor="middle">c-Fos</text>
<text transform="translate(235.1,19) scale(0.91,1)" font-size="8.6" text-anchor="middle">PRDX6</text>
<text transform="translate(19.3,62.7) rotate(-90) scale(0.92,1)" font-size="8.6" text-anchor="middle">NR4A1 low</text>
<text transform="translate(19.3,147.7) rotate(-90) scale(0.92,1)" font-size="8.6" text-anchor="middle">NR4A1 high</text>
<text transform="translate(371,38.6) scale(0.955,1)" font-size="8.7" text-anchor="middle"><tspan font-style="italic">R</tspan> = - 0.269; <tspan font-style="italic">P</tspan> &lt; 0.001</text>
<line x1="325.5" y1="98.25" x2="412.98" y2="122.48" stroke="#e87c2c" stroke-width="2.4"/>
<polyline points="325.5,91.42 327.32,92.24 329.14,93.05 330.97,93.86 332.79,94.67 334.61,95.47 336.44,96.27 338.26,97.07 340.08,97.86 341.9,98.65 343.73,99.42 345.55,100.19 347.37,100.95 349.19,101.7 351.01,102.43 352.84,103.13 354.66,103.81 356.48,104.46 358.31,105.07 360.13,105.63 361.95,106.15 363.77,106.62 365.6,107.04 367.42,107.43 369.24,107.77 371.06,108.09 372.88,108.38 374.71,108.65 376.53,108.91 378.35,109.16 380.18,109.39 382,109.62 383.82,109.84 385.64,110.06 387.47,110.27 389.29,110.47 391.11,110.68 392.93,110.88 394.75,111.08 396.58,111.28 398.4,111.47 400.22,111.66 402.05,111.86 403.87,112.05 405.69,112.24 407.51,112.43 409.33,112.62 411.16,112.8 412.98,112.99" fill="none" stroke="#f0181c" stroke-width="1.1" stroke-dasharray="3.2,1.6"/>
<polyline points="325.5,105.07 327.32,105.26 329.14,105.46 330.97,105.66 332.79,105.86 334.61,106.07 336.44,106.28 338.26,106.49 340.08,106.71 341.9,106.93 343.73,107.16 345.55,107.4 347.37,107.66 349.19,107.92 351.01,108.2 352.84,108.51 354.66,108.84 356.48,109.2 358.31,109.6 360.13,110.04 361.95,110.53 363.77,111.08 365.6,111.66 367.42,112.29 369.24,112.95 371.06,113.65 372.88,114.37 374.71,115.1 376.53,115.85 378.35,116.62 380.18,117.39 382,118.18 383.82,118.96 385.64,119.76 387.47,120.56 389.29,121.36 391.11,122.17 392.93,122.97 394.75,123.79 396.58,124.6 398.4,125.41 400.22,126.23 402.05,127.05 403.87,127.86 405.69,128.68 407.51,129.5 409.33,130.33 411.16,131.15 412.98,131.97" fill="none" stroke="#f0181c" stroke-width="1.1" stroke-dasharray="3.2,1.6"/>
<circle cx="340.08" cy="57" r="2.2" fill="#000"/>
<circle cx="347.37" cy="57" r="2.2" fill="#000"/>
<circle cx="369.24" cy="57" r="2.2" fill="#000"/>
<circle cx="391.11" cy="57" r="2.2" fill="#000"/>
<circle cx="332.79" cy="78.9" r="2.2" fill="#000"/>
<circle cx="340.08" cy="78.9" r="2.2" fill="#000"/>
<circle cx="354.66" cy="78.9" r="2.2" fill="#000"/>
<circle cx="332.79" cy="86.2" r="2.2" fill="#000"/>
<circle cx="340.08" cy="86.2" r="2.2" fill="#000"/>
<circle cx="347.37" cy="86.2" r="2.2" fill="#000"/>
<circle cx="354.66" cy="86.2" r="2.2" fill="#000"/>
<circle cx="369.24" cy="86.2" r="2.2" fill="#000"/>
<circle cx="383.82" cy="86.2" r="2.2" fill="#000"/>
<circle cx="391.11" cy="86.2" r="2.2" fill="#000"/>
<circle cx="412.98" cy="86.2" r="2.2" fill="#000"/>
<circle cx="325.5" cy="100.8" r="2.2" fill="#000"/>
<circle cx="332.79" cy="100.8" r="2.2" fill="#000"/>
<circle cx="340.08" cy="100.8" r="2.2" fill="#000"/>
<circle cx="347.37" cy="100.8" r="2.2" fill="#000"/>
<circle cx="354.66" cy="100.8" r="2.2" fill="#000"/>
<circle cx="369.24" cy="100.8" r="2.2" fill="#000"/>
<circle cx="383.82" cy="100.8" r="2.2" fill="#000"/>
<circle cx="391.11" cy="100.8" r="2.2" fill="#000"/>
<circle cx="340.08" cy="115.4" r="2.2" fill="#000"/>
<circle cx="347.37" cy="115.4" r="2.2" fill="#000"/>
<circle cx="369.24" cy="115.4" r="2.2" fill="#000"/>
<circle cx="383.82" cy="115.4" r="2.2" fill="#000"/>
<circle cx="412.98" cy="115.4" r="2.2" fill="#000"/>
<circle cx="325.5" cy="122.7" r="2.2" fill="#000"/>
<circle cx="340.08" cy="122.7" r="2.2" fill="#000"/>
<circle cx="354.66" cy="122.7" r="2.2" fill="#000"/>
<circle cx="369.24" cy="122.7" r="2.2" fill="#000"/>
<circle cx="383.82" cy="122.7" r="2.2" fill="#000"/>
<circle cx="412.98" cy="122.7" r="2.2" fill="#000"/>
<circle cx="325.5" cy="130" r="2.2" fill="#000"/>
<circle cx="332.79" cy="130" r="2.2" fill="#000"/>
<circle cx="340.08" cy="130" r="2.2" fill="#000"/>
<circle cx="347.37" cy="130" r="2.2" fill="#000"/>
<circle cx="354.66" cy="130" r="2.2" fill="#000"/>
<circle cx="369.24" cy="130" r="2.2" fill="#000"/>
<circle cx="383.82" cy="130" r="2.2" fill="#000"/>
<circle cx="412.98" cy="130" r="2.2" fill="#000"/>
<circle cx="354.66" cy="137.3" r="2.2" fill="#000"/>
<circle cx="369.24" cy="137.3" r="2.2" fill="#000"/>
<circle cx="383.82" cy="137.3" r="2.2" fill="#000"/>
<circle cx="412.98" cy="137.3" r="2.2" fill="#000"/>
<circle cx="340.08" cy="144.6" r="2.2" fill="#000"/>
<circle cx="347.37" cy="144.6" r="2.2" fill="#000"/>
<circle cx="354.66" cy="144.6" r="2.2" fill="#000"/>
<circle cx="369.24" cy="144.6" r="2.2" fill="#000"/>
<circle cx="412.98" cy="144.6" r="2.2" fill="#000"/>
<path d="M318.2,49.9V151.4H420.3" fill="none" stroke="#111" stroke-width="1.1"/>
<line x1="316" y1="144.6" x2="318.2" y2="144.6" stroke="#333" stroke-width="0.8"/>
<text x="315.2" y="146.9" font-size="8.3" text-anchor="end" fill="#111">0</text>
<line x1="325.5" y1="151.4" x2="325.5" y2="153.6" stroke="#333" stroke-width="0.8"/>
<text x="325.5" y="163" font-size="8.2" text-anchor="middle" fill="#111">0</text>
<line x1="316" y1="115.4" x2="318.2" y2="115.4" stroke="#333" stroke-width="0.8"/>
<text x="315.2" y="117.7" font-size="8.3" text-anchor="end" fill="#111">4</text>
<line x1="354.66" y1="151.4" x2="354.66" y2="153.6" stroke="#333" stroke-width="0.8"/>
<text x="354.66" y="163" font-size="8.2" text-anchor="middle" fill="#111">4</text>
<line x1="316" y1="86.2" x2="318.2" y2="86.2" stroke="#333" stroke-width="0.8"/>
<text x="315.2" y="88.5" font-size="8.3" text-anchor="end" fill="#111">8</text>
<line x1="383.82" y1="151.4" x2="383.82" y2="153.6" stroke="#333" stroke-width="0.8"/>
<text x="383.82" y="163" font-size="8.2" text-anchor="middle" fill="#111">8</text>
<line x1="316" y1="57" x2="318.2" y2="57" stroke="#333" stroke-width="0.8"/>
<text x="315.2" y="59.3" font-size="8.3" text-anchor="end" fill="#111">12</text>
<line x1="412.98" y1="151.4" x2="412.98" y2="153.6" stroke="#333" stroke-width="0.8"/>
<text x="412.98" y="163" font-size="8.2" text-anchor="middle" fill="#111">12</text>
<text x="369.25" y="172.9" font-size="8.6" text-anchor="middle" fill="#111">NR4A1 IRS</text>
<text transform="translate(304.8,99.45) rotate(-90)" font-size="8.7" text-anchor="middle" fill="#111">c-Fos IRS</text>
<text transform="translate(500.5,38.6) scale(0.955,1)" font-size="8.7" text-anchor="middle"><tspan font-style="italic">R</tspan> = - 0.274; <tspan font-style="italic">P</tspan> &lt; 0.001</text>
<line x1="456.9" y1="103.6" x2="544.5" y2="122.9" stroke="#e87c2c" stroke-width="2.4"/>
<polyline points="456.9,98 458.72,98.65 460.55,99.31 462.38,99.97 464.2,100.62 466.02,101.27 467.85,101.92 469.67,102.56 471.5,103.2 473.32,103.83 475.15,104.46 476.97,105.09 478.8,105.7 480.62,106.3 482.45,106.88 484.27,107.45 486.1,108 487.92,108.51 489.75,109 491.57,109.44 493.4,109.85 495.22,110.21 497.05,110.54 498.88,110.84 500.7,111.1 502.52,111.34 504.35,111.56 506.17,111.77 508,111.96 509.82,112.15 511.65,112.32 513.48,112.49 515.3,112.66 517.12,112.82 518.95,112.98 520.77,113.13 522.6,113.28 524.42,113.43 526.25,113.58 528.07,113.73 529.9,113.87 531.73,114.02 533.55,114.16 535.38,114.3 537.2,114.44 539.02,114.58 540.85,114.72 542.67,114.86 544.5,115" fill="none" stroke="#f0181c" stroke-width="1.1" stroke-dasharray="3.2,1.6"/>
<polyline points="456.9,109.21 458.72,109.35 460.55,109.5 462.38,109.65 464.2,109.8 466.02,109.96 467.85,110.11 469.67,110.27 471.5,110.44 473.32,110.61 475.15,110.78 476.97,110.96 478.8,111.16 480.62,111.36 482.45,111.58 484.27,111.81 486.1,112.07 487.92,112.36 489.75,112.68 491.57,113.04 493.4,113.44 495.22,113.88 497.05,114.35 498.88,114.86 500.7,115.4 502.52,115.97 504.35,116.55 506.17,117.15 508,117.76 509.82,118.38 511.65,119 513.48,119.64 515.3,120.28 517.12,120.92 518.95,121.57 520.77,122.22 522.6,122.87 524.42,123.52 526.25,124.18 528.07,124.84 529.9,125.5 531.73,126.16 533.55,126.82 535.38,127.48 537.2,128.14 539.02,128.81 540.85,129.47 542.67,130.14 544.5,130.8" fill="none" stroke="#f0181c" stroke-width="1.1" stroke-dasharray="3.2,1.6"/>
<circle cx="471.5" cy="58.28" r="2.2" fill="#000"/>
<circle cx="478.8" cy="58.28" r="2.2" fill="#000"/>
<circle cx="464.2" cy="80.21" r="2.2" fill="#000"/>
<circle cx="471.5" cy="80.21" r="2.2" fill="#000"/>
<circle cx="478.8" cy="80.21" r="2.2" fill="#000"/>
<circle cx="486.1" cy="80.21" r="2.2" fill="#000"/>
<circle cx="522.6" cy="80.21" r="2.2" fill="#000"/>
<circle cx="464.2" cy="87.52" r="2.2" fill="#000"/>
<circle cx="471.5" cy="87.52" r="2.2" fill="#000"/>
<circle cx="478.8" cy="87.52" r="2.2" fill="#000"/>
<circle cx="486.1" cy="87.52" r="2.2" fill="#000"/>
<circle cx="515.3" cy="87.52" r="2.2" fill="#000"/>
<circle cx="456.9" cy="102.14" r="2.2" fill="#000"/>
<circle cx="464.2" cy="102.14" r="2.2" fill="#000"/>
<circle cx="471.5" cy="102.14" r="2.2" fill="#000"/>
<circle cx="478.8" cy="102.14" r="2.2" fill="#000"/>
<circle cx="486.1" cy="102.14" r="2.2" fill="#000"/>
<circle cx="500.7" cy="102.14" r="2.2" fill="#000"/>
<circle cx="515.3" cy="102.14" r="2.2" fill="#000"/>
<circle cx="544.5" cy="102.14" r="2.2" fill="#000"/>
<circle cx="464.2" cy="116.76" r="2.2" fill="#000"/>
<circle cx="471.5" cy="116.76" r="2.2" fill="#000"/>
<circle cx="478.8" cy="116.76" r="2.2" fill="#000"/>
<circle cx="486.1" cy="116.76" r="2.2" fill="#000"/>
<circle cx="500.7" cy="116.76" r="2.2" fill="#000"/>
<circle cx="515.3" cy="116.76" r="2.2" fill="#000"/>
<circle cx="522.6" cy="116.76" r="2.2" fill="#000"/>
<circle cx="544.5" cy="116.76" r="2.2" fill="#000"/>
<circle cx="456.9" cy="124.07" r="2.2" fill="#000"/>
<circle cx="471.5" cy="124.07" r="2.2" fill="#000"/>
<circle cx="478.8" cy="124.07" r="2.2" fill="#000"/>
<circle cx="486.1" cy="124.07" r="2.2" fill="#000"/>
<circle cx="500.7" cy="124.07" r="2.2" fill="#000"/>
<circle cx="515.3" cy="124.07" r="2.2" fill="#000"/>
<circle cx="522.6" cy="124.07" r="2.2" fill="#000"/>
<circle cx="544.5" cy="124.07" r="2.2" fill="#000"/>
<circle cx="456.9" cy="131.38" r="2.2" fill="#000"/>
<circle cx="471.5" cy="131.38" r="2.2" fill="#000"/>
<circle cx="478.8" cy="131.38" r="2.2" fill="#000"/>
<circle cx="486.1" cy="131.38" r="2.2" fill="#000"/>
<circle cx="500.7" cy="131.38" r="2.2" fill="#000"/>
<circle cx="515.3" cy="131.38" r="2.2" fill="#000"/>
<circle cx="522.6" cy="131.38" r="2.2" fill="#000"/>
<circle cx="544.5" cy="131.38" r="2.2" fill="#000"/>
<circle cx="471.5" cy="138.69" r="2.2" fill="#000"/>
<circle cx="500.7" cy="138.69" r="2.2" fill="#000"/>
<circle cx="515.3" cy="138.69" r="2.2" fill="#000"/>
<circle cx="544.5" cy="138.69" r="2.2" fill="#000"/>
<circle cx="486.1" cy="146" r="2.2" fill="#000"/>
<circle cx="500.7" cy="146" r="2.2" fill="#000"/>
<path d="M449.4,51.1V152.8H551.9" fill="none" stroke="#111" stroke-width="1.1"/>
<line x1="447.2" y1="146" x2="449.4" y2="146" stroke="#333" stroke-width="0.8"/>
<text x="446.4" y="148.3" font-size="8.3" text-anchor="end" fill="#111">0</text>
<line x1="456.9" y1="152.8" x2="456.9" y2="155" stroke="#333" stroke-width="0.8"/>
<text x="456.9" y="164.4" font-size="8.2" text-anchor="middle" fill="#111">0</text>
<line x1="447.2" y1="116.76" x2="449.4" y2="116.76" stroke="#333" stroke-width="0.8"/>
<text x="446.4" y="119.06" font-size="8.3" text-anchor="end" fill="#111">4</text>
<line x1="486.1" y1="152.8" x2="486.1" y2="155" stroke="#333" stroke-width="0.8"/>
<text x="486.1" y="164.4" font-size="8.2" text-anchor="middle" fill="#111">4</text>
<line x1="447.2" y1="87.52" x2="449.4" y2="87.52" stroke="#333" stroke-width="0.8"/>
<text x="446.4" y="89.82" font-size="8.3" text-anchor="end" fill="#111">8</text>
<line x1="515.3" y1="152.8" x2="515.3" y2="155" stroke="#333" stroke-width="0.8"/>
<text x="515.3" y="164.4" font-size="8.2" text-anchor="middle" fill="#111">8</text>
<line x1="447.2" y1="58.28" x2="449.4" y2="58.28" stroke="#333" stroke-width="0.8"/>
<text x="446.4" y="60.58" font-size="8.3" text-anchor="end" fill="#111">12</text>
<line x1="544.5" y1="152.8" x2="544.5" y2="155" stroke="#333" stroke-width="0.8"/>
<text x="544.5" y="164.4" font-size="8.2" text-anchor="middle" fill="#111">12</text>
<text x="500.65" y="174.3" font-size="8.6" text-anchor="middle" fill="#111">NR4A1 IRS</text>
<text transform="translate(436,100.75) rotate(-90)" font-size="8.7" text-anchor="middle" fill="#111">PRDX6 IRS</text>
<text transform="translate(632,38.6) scale(0.955,1)" font-size="8.7" text-anchor="middle"><tspan font-style="italic">R</tspan> = 0.236; <tspan font-style="italic">P</tspan> = 0.004</text>
<line x1="588.1" y1="115.91" x2="676.06" y2="99.98" stroke="#2a3f8f" stroke-width="2.4"/>
<polyline points="588.1,110.49 589.93,110.4 591.76,110.32 593.6,110.23 595.43,110.13 597.26,110.04 599.1,109.94 600.93,109.84 602.76,109.73 604.59,109.62 606.43,109.51 608.26,109.38 610.09,109.25 611.92,109.1 613.75,108.94 615.59,108.76 617.42,108.57 619.25,108.34 621.09,108.08 622.92,107.79 624.75,107.46 626.58,107.1 628.41,106.7 630.25,106.27 632.08,105.81 633.91,105.32 635.75,104.82 637.58,104.31 639.41,103.78 641.24,103.24 643.08,102.7 644.91,102.14 646.74,101.59 648.57,101.03 650.4,100.46 652.24,99.89 654.07,99.32 655.9,98.75 657.74,98.17 659.57,97.6 661.4,97.02 663.23,96.44 665.07,95.86 666.9,95.28 668.73,94.7 670.56,94.11 672.39,93.53 674.23,92.94 676.06,92.36" fill="none" stroke="#3a9a2a" stroke-width="1.1" stroke-dasharray="3.2,1.6"/>
<polyline points="588.1,121.33 589.93,120.75 591.76,120.18 593.6,119.61 595.43,119.03 597.26,118.47 599.1,117.9 600.93,117.34 602.76,116.78 604.59,116.23 606.43,115.68 608.26,115.14 610.09,114.61 611.92,114.09 613.75,113.59 615.59,113.1 617.42,112.64 619.25,112.2 621.09,111.79 622.92,111.42 624.75,111.08 626.58,110.78 628.41,110.52 630.25,110.29 632.08,110.09 633.91,109.9 635.75,109.74 637.58,109.59 639.41,109.46 641.24,109.33 643.08,109.21 644.91,109.1 646.74,108.99 648.57,108.89 650.4,108.79 652.24,108.7 654.07,108.61 655.9,108.52 657.74,108.43 659.57,108.34 661.4,108.25 663.23,108.17 665.07,108.09 666.9,108 668.73,107.92 670.56,107.84 672.39,107.76 674.23,107.68 676.06,107.6" fill="none" stroke="#3a9a2a" stroke-width="1.1" stroke-dasharray="3.2,1.6"/>
<circle cx="632.08" cy="56.1" r="2.2" fill="#000"/>
<circle cx="646.74" cy="56.1" r="2.2" fill="#000"/>
<circle cx="602.76" cy="78.22" r="2.2" fill="#000"/>
<circle cx="632.08" cy="78.22" r="2.2" fill="#000"/>
<circle cx="646.74" cy="78.22" r="2.2" fill="#000"/>
<circle cx="654.07" cy="78.22" r="2.2" fill="#000"/>
<circle cx="676.06" cy="78.22" r="2.2" fill="#000"/>
<circle cx="617.42" cy="85.6" r="2.2" fill="#000"/>
<circle cx="632.08" cy="85.6" r="2.2" fill="#000"/>
<circle cx="646.74" cy="85.6" r="2.2" fill="#000"/>
<circle cx="654.07" cy="85.6" r="2.2" fill="#000"/>
<circle cx="676.06" cy="85.6" r="2.2" fill="#000"/>
<circle cx="588.1" cy="100.35" r="2.2" fill="#000"/>
<circle cx="595.43" cy="100.35" r="2.2" fill="#000"/>
<circle cx="602.76" cy="100.35" r="2.2" fill="#000"/>
<circle cx="610.09" cy="100.35" r="2.2" fill="#000"/>
<circle cx="617.42" cy="100.35" r="2.2" fill="#000"/>
<circle cx="632.08" cy="100.35" r="2.2" fill="#000"/>
<circle cx="646.74" cy="100.35" r="2.2" fill="#000"/>
<circle cx="676.06" cy="100.35" r="2.2" fill="#000"/>
<circle cx="588.1" cy="115.1" r="2.2" fill="#000"/>
<circle cx="595.43" cy="115.1" r="2.2" fill="#000"/>
<circle cx="602.76" cy="115.1" r="2.2" fill="#000"/>
<circle cx="610.09" cy="115.1" r="2.2" fill="#000"/>
<circle cx="617.42" cy="115.1" r="2.2" fill="#000"/>
<circle cx="632.08" cy="115.1" r="2.2" fill="#000"/>
<circle cx="646.74" cy="115.1" r="2.2" fill="#000"/>
<circle cx="654.07" cy="115.1" r="2.2" fill="#000"/>
<circle cx="676.06" cy="115.1" r="2.2" fill="#000"/>
<circle cx="610.09" cy="122.47" r="2.2" fill="#000"/>
<circle cx="617.42" cy="122.47" r="2.2" fill="#000"/>
<circle cx="632.08" cy="122.47" r="2.2" fill="#000"/>
<circle cx="646.74" cy="122.47" r="2.2" fill="#000"/>
<circle cx="676.06" cy="122.47" r="2.2" fill="#000"/>
<circle cx="588.1" cy="129.85" r="2.2" fill="#000"/>
<circle cx="595.43" cy="129.85" r="2.2" fill="#000"/>
<circle cx="602.76" cy="129.85" r="2.2" fill="#000"/>
<circle cx="617.42" cy="129.85" r="2.2" fill="#000"/>
<circle cx="646.74" cy="129.85" r="2.2" fill="#000"/>
<circle cx="654.07" cy="129.85" r="2.2" fill="#000"/>
<circle cx="676.06" cy="129.85" r="2.2" fill="#000"/>
<circle cx="588.1" cy="137.22" r="2.2" fill="#000"/>
<circle cx="595.43" cy="137.22" r="2.2" fill="#000"/>
<circle cx="602.76" cy="137.22" r="2.2" fill="#000"/>
<circle cx="610.09" cy="137.22" r="2.2" fill="#000"/>
<circle cx="632.08" cy="137.22" r="2.2" fill="#000"/>
<circle cx="676.06" cy="137.22" r="2.2" fill="#000"/>
<circle cx="595.43" cy="144.6" r="2.2" fill="#000"/>
<circle cx="617.42" cy="144.6" r="2.2" fill="#000"/>
<circle cx="646.74" cy="144.6" r="2.2" fill="#000"/>
<path d="M580.9,49.1V151.6H681.5" fill="none" stroke="#111" stroke-width="1.1"/>
<line x1="578.7" y1="144.6" x2="580.9" y2="144.6" stroke="#333" stroke-width="0.8"/>
<text x="577.9" y="146.9" font-size="8.3" text-anchor="end" fill="#111">0</text>
<line x1="588.1" y1="151.6" x2="588.1" y2="153.8" stroke="#333" stroke-width="0.8"/>
<text x="588.1" y="163.2" font-size="8.2" text-anchor="middle" fill="#111">0</text>
<line x1="578.7" y1="115.1" x2="580.9" y2="115.1" stroke="#333" stroke-width="0.8"/>
<text x="577.9" y="117.4" font-size="8.3" text-anchor="end" fill="#111">4</text>
<line x1="617.42" y1="151.6" x2="617.42" y2="153.8" stroke="#333" stroke-width="0.8"/>
<text x="617.42" y="163.2" font-size="8.2" text-anchor="middle" fill="#111">4</text>
<line x1="578.7" y1="85.6" x2="580.9" y2="85.6" stroke="#333" stroke-width="0.8"/>
<text x="577.9" y="87.9" font-size="8.3" text-anchor="end" fill="#111">8</text>
<line x1="646.74" y1="151.6" x2="646.74" y2="153.8" stroke="#333" stroke-width="0.8"/>
<text x="646.74" y="163.2" font-size="8.2" text-anchor="middle" fill="#111">8</text>
<line x1="578.7" y1="56.1" x2="580.9" y2="56.1" stroke="#333" stroke-width="0.8"/>
<text x="577.9" y="58.4" font-size="8.3" text-anchor="end" fill="#111">12</text>
<line x1="676.06" y1="151.6" x2="676.06" y2="153.8" stroke="#333" stroke-width="0.8"/>
<text x="676.06" y="163.2" font-size="8.2" text-anchor="middle" fill="#111">12</text>
<text x="631.2" y="173.1" font-size="8.6" text-anchor="middle" fill="#111">c-Fos IRS</text>
<text transform="translate(567.5,99.15) rotate(-90)" font-size="8.7" text-anchor="middle" fill="#111">PRDX6 IRS</text>
<path d="M46,218.8H46.3V220.3H63.5V223H70.6V225.9H76.3V226.8H80.1V228.3H84.9V229.2H88V230.2H91.9V232.4H92.9V234.3H99.5V235.7H101.4V237.6H129.9V241.4H139V241.4" fill="none" stroke="#000" stroke-width="1.25"/>
<line x1="92.5" y1="230.2" x2="92.5" y2="233.2" stroke="#000" stroke-width="0.9"/>
<line x1="93.5" y1="232.1" x2="93.5" y2="235.1" stroke="#000" stroke-width="0.9"/>
<line x1="107" y1="235.4" x2="107" y2="238.4" stroke="#000" stroke-width="0.9"/>
<line x1="108.5" y1="235.4" x2="108.5" y2="238.4" stroke="#000" stroke-width="0.9"/>
<line x1="113" y1="235.4" x2="113" y2="238.4" stroke="#000" stroke-width="0.9"/>
<line x1="114.4" y1="235.4" x2="114.4" y2="238.4" stroke="#000" stroke-width="0.9"/>
<line x1="115.8" y1="235.4" x2="115.8" y2="238.4" stroke="#000" stroke-width="0.9"/>
<line x1="117.2" y1="235.4" x2="117.2" y2="238.4" stroke="#000" stroke-width="0.9"/>
<line x1="118.6" y1="235.4" x2="118.6" y2="238.4" stroke="#000" stroke-width="0.9"/>
<line x1="120" y1="235.4" x2="120" y2="238.4" stroke="#000" stroke-width="0.9"/>
<line x1="121.4" y1="235.4" x2="121.4" y2="238.4" stroke="#000" stroke-width="0.9"/>
<line x1="122.8" y1="235.4" x2="122.8" y2="238.4" stroke="#000" stroke-width="0.9"/>
<line x1="124.2" y1="235.4" x2="124.2" y2="238.4" stroke="#000" stroke-width="0.9"/>
<line x1="125.6" y1="235.4" x2="125.6" y2="238.4" stroke="#000" stroke-width="0.9"/>
<line x1="127" y1="235.4" x2="127" y2="238.4" stroke="#000" stroke-width="0.9"/>
<line x1="128.4" y1="235.4" x2="128.4" y2="238.4" stroke="#000" stroke-width="0.9"/>
<line x1="131" y1="239.2" x2="131" y2="242.2" stroke="#000" stroke-width="0.9"/>
<line x1="132.2" y1="239.2" x2="132.2" y2="242.2" stroke="#000" stroke-width="0.9"/>
<line x1="133.4" y1="239.2" x2="133.4" y2="242.2" stroke="#000" stroke-width="0.9"/>
<line x1="134.6" y1="239.2" x2="134.6" y2="242.2" stroke="#000" stroke-width="0.9"/>
<line x1="135.8" y1="239.2" x2="135.8" y2="242.2" stroke="#000" stroke-width="0.9"/>
<line x1="137" y1="239.2" x2="137" y2="242.2" stroke="#000" stroke-width="0.9"/>
<line x1="138.2" y1="239.2" x2="138.2" y2="242.2" stroke="#000" stroke-width="0.9"/>
<path d="M46,218.8H47.17V220.1H48.35V221.4H49.52V222.7H50.7V224H51.88V225.3H53.05V226.6H54.22V227.9H55.4V229.2H58.3V232H65V236H68.7V237.3H72.5V238.7H76.3V239.7H79.2V240.6H80.5V243H81.5V245.4H90.6V246.5H91.9V249.5H94.8V250.4H99V251.4H100.5V253.7H108.5V257H111.9V258H114.7V259.4H117.1V263.2H139V263.2" fill="none" stroke="#ff1010" stroke-width="1.3"/>
<line x1="84" y1="243.2" x2="84" y2="246.2" stroke="#f0141c" stroke-width="0.9"/>
<line x1="87.7" y1="243.2" x2="87.7" y2="246.2" stroke="#f0141c" stroke-width="0.9"/>
<line x1="118" y1="261" x2="118" y2="264" stroke="#f0141c" stroke-width="0.9"/>
<line x1="119.5" y1="261" x2="119.5" y2="264" stroke="#f0141c" stroke-width="0.9"/>
<line x1="121" y1="261" x2="121" y2="264" stroke="#f0141c" stroke-width="0.9"/>
<line x1="122.5" y1="261" x2="122.5" y2="264" stroke="#f0141c" stroke-width="0.9"/>
<line x1="124" y1="261" x2="124" y2="264" stroke="#f0141c" stroke-width="0.9"/>
<line x1="125.5" y1="261" x2="125.5" y2="264" stroke="#f0141c" stroke-width="0.9"/>
<line x1="127" y1="261" x2="127" y2="264" stroke="#f0141c" stroke-width="0.9"/>
<line x1="128.5" y1="261" x2="128.5" y2="264" stroke="#f0141c" stroke-width="0.9"/>
<line x1="130" y1="261" x2="130" y2="264" stroke="#f0141c" stroke-width="0.9"/>
<line x1="131.5" y1="261" x2="131.5" y2="264" stroke="#f0141c" stroke-width="0.9"/>
<line x1="133" y1="261" x2="133" y2="264" stroke="#f0141c" stroke-width="0.9"/>
<line x1="134.5" y1="261" x2="134.5" y2="264" stroke="#f0141c" stroke-width="0.9"/>
<line x1="136" y1="261" x2="136" y2="264" stroke="#f0141c" stroke-width="0.9"/>
<line x1="137.5" y1="261" x2="137.5" y2="264" stroke="#f0141c" stroke-width="0.9"/>
<path d="M38.9,208.2V329.6H161.6" fill="none" stroke="#1c1c1c" stroke-width="1.35"/>
<line x1="36.9" y1="325.3" x2="38.9" y2="325.3" stroke="#222" stroke-width="1.2"/>
<text transform="translate(35.1,328.2) scale(0.93,1)" font-size="8.2" text-anchor="end" fill="#222">0.0</text>
<line x1="36.9" y1="304" x2="38.9" y2="304" stroke="#222" stroke-width="1.2"/>
<text transform="translate(35.1,306.9) scale(0.93,1)" font-size="8.2" text-anchor="end" fill="#222">0.2</text>
<line x1="36.9" y1="282.7" x2="38.9" y2="282.7" stroke="#222" stroke-width="1.2"/>
<text transform="translate(35.1,285.6) scale(0.93,1)" font-size="8.2" text-anchor="end" fill="#222">0.4</text>
<line x1="36.9" y1="261.4" x2="38.9" y2="261.4" stroke="#222" stroke-width="1.2"/>
<text transform="translate(35.1,264.3) scale(0.93,1)" font-size="8.2" text-anchor="end" fill="#222">0.6</text>
<line x1="36.9" y1="240.1" x2="38.9" y2="240.1" stroke="#222" stroke-width="1.2"/>
<text transform="translate(35.1,243) scale(0.93,1)" font-size="8.2" text-anchor="end" fill="#222">0.8</text>
<line x1="36.9" y1="218.8" x2="38.9" y2="218.8" stroke="#222" stroke-width="1.2"/>
<text transform="translate(35.1,221.7) scale(0.93,1)" font-size="8.2" text-anchor="end" fill="#222">1.0</text>
<line x1="45.9" y1="329.6" x2="45.9" y2="331.8" stroke="#222" stroke-width="1.2"/>
<text transform="translate(45.9,341.1) scale(0.95,1)" font-size="8.2" text-anchor="middle" fill="#222">0</text>
<line x1="74.7" y1="329.6" x2="74.7" y2="331.8" stroke="#222" stroke-width="1.2"/>
<text transform="translate(74.7,341.1) scale(0.95,1)" font-size="8.2" text-anchor="middle" fill="#222">50</text>
<line x1="103.5" y1="329.6" x2="103.5" y2="331.8" stroke="#222" stroke-width="1.2"/>
<text transform="translate(103.5,341.1) scale(0.95,1)" font-size="8.2" text-anchor="middle" fill="#222">100</text>
<line x1="132.3" y1="329.6" x2="132.3" y2="331.8" stroke="#222" stroke-width="1.2"/>
<text transform="translate(132.3,341.1) scale(0.95,1)" font-size="8.2" text-anchor="middle" fill="#222">150</text>
<line x1="161.1" y1="329.6" x2="161.1" y2="331.8" stroke="#222" stroke-width="1.2"/>
<text transform="translate(161.1,341.1) scale(0.95,1)" font-size="8.2" text-anchor="middle" fill="#222">200</text>
<text transform="translate(100.25,355) scale(0.97,1)" font-size="8.6" text-anchor="middle" fill="#222">OS survival (months)</text>
<text transform="translate(18.4,268.9) rotate(-90) scale(0.946,1)" font-size="8.6" text-anchor="middle" fill="#222">Survival probability</text>
<text transform="translate(84.1,276.9) scale(0.97,1)" font-size="8.6" text-anchor="end" fill="#111"><tspan font-style="italic">HR</tspan> = 2.558</text>
<text transform="translate(84.1,287.2) scale(0.97,1)" font-size="8.6" text-anchor="end" fill="#111"><tspan font-style="italic">P</tspan> = 0.003</text>
<line x1="42.2" y1="304.3" x2="53.9" y2="304.3" stroke="#f0141c" stroke-width="1.1"/>
<line x1="48.1" y1="302.3" x2="48.1" y2="304.3" stroke="#f0141c" stroke-width="0.8"/>
<text transform="translate(59.7,307.5) scale(0.95,1)" font-size="8.7" fill="#111">c-Fos<tspan font-size="6.5" dy="-3.3">high</tspan><tspan dy="3.3"> (n=73)</tspan></text>
<line x1="42.2" y1="319" x2="53.9" y2="319" stroke="#222" stroke-width="1.1"/>
<line x1="48.1" y1="317" x2="48.1" y2="319" stroke="#222" stroke-width="0.8"/>
<text transform="translate(59.7,322.2) scale(0.95,1)" font-size="8.7" fill="#111">c-Fos<tspan font-size="6.5" dy="-3.3">low</tspan><tspan dy="3.3"> (n=77)</tspan></text>
<path d="M207.2,218.5H207.5V219.9H224V221H226.9V222.3H229.7V223H232.6V224H233.5V226.2H238.3V226.8H239.2V228.1H243V229H246.8V230.2H251.6V231.6H252.5V233H254.8V236.2H260.5V237.6H263.3V239H277.1V240.4H292.3V245.2H299.4V245.2" fill="none" stroke="#000" stroke-width="1.25"/>
<line x1="245" y1="226.8" x2="245" y2="229.8" stroke="#000" stroke-width="0.9"/>
<line x1="247.5" y1="228" x2="247.5" y2="231" stroke="#000" stroke-width="0.9"/>
<line x1="257" y1="234" x2="257" y2="237" stroke="#000" stroke-width="0.9"/>
<line x1="258" y1="234" x2="258" y2="237" stroke="#000" stroke-width="0.9"/>
<line x1="270" y1="236.8" x2="270" y2="239.8" stroke="#000" stroke-width="0.9"/>
<line x1="271.5" y1="236.8" x2="271.5" y2="239.8" stroke="#000" stroke-width="0.9"/>
<line x1="273" y1="236.8" x2="273" y2="239.8" stroke="#000" stroke-width="0.9"/>
<line x1="274.5" y1="236.8" x2="274.5" y2="239.8" stroke="#000" stroke-width="0.9"/>
<line x1="276" y1="236.8" x2="276" y2="239.8" stroke="#000" stroke-width="0.9"/>
<line x1="278" y1="238.2" x2="278" y2="241.2" stroke="#000" stroke-width="0.9"/>
<line x1="279.3" y1="238.2" x2="279.3" y2="241.2" stroke="#000" stroke-width="0.9"/>
<line x1="280.6" y1="238.2" x2="280.6" y2="241.2" stroke="#000" stroke-width="0.9"/>
<line x1="281.9" y1="238.2" x2="281.9" y2="241.2" stroke="#000" stroke-width="0.9"/>
<line x1="283.2" y1="238.2" x2="283.2" y2="241.2" stroke="#000" stroke-width="0.9"/>
<line x1="284.5" y1="238.2" x2="284.5" y2="241.2" stroke="#000" stroke-width="0.9"/>
<line x1="285.8" y1="238.2" x2="285.8" y2="241.2" stroke="#000" stroke-width="0.9"/>
<line x1="287.1" y1="238.2" x2="287.1" y2="241.2" stroke="#000" stroke-width="0.9"/>
<line x1="288.4" y1="238.2" x2="288.4" y2="241.2" stroke="#000" stroke-width="0.9"/>
<line x1="289.7" y1="238.2" x2="289.7" y2="241.2" stroke="#000" stroke-width="0.9"/>
<line x1="291" y1="238.2" x2="291" y2="241.2" stroke="#000" stroke-width="0.9"/>
<line x1="293" y1="243" x2="293" y2="246" stroke="#000" stroke-width="0.9"/>
<line x1="294.2" y1="243" x2="294.2" y2="246" stroke="#000" stroke-width="0.9"/>
<line x1="295.4" y1="243" x2="295.4" y2="246" stroke="#000" stroke-width="0.9"/>
<line x1="296.6" y1="243" x2="296.6" y2="246" stroke="#000" stroke-width="0.9"/>
<line x1="297.8" y1="243" x2="297.8" y2="246" stroke="#000" stroke-width="0.9"/>
<line x1="299" y1="243" x2="299" y2="246" stroke="#000" stroke-width="0.9"/>
<path d="M207.2,218.5H208.66V219.98H210.12V221.46H211.58V222.94H213.04V224.42H214.5V225.9H217.4V229.2H220.2V232.1H225.9V236.5H234.5V237.8H237.3V238.7H241.1V239.7H242.3V242.5H243.5V245.4H252V246.6H256.7V248H259.5V249.5H262.4V251.4H270.4V254.7H272.8V256.6H279.5V259H299.4V259" fill="none" stroke="#ff1010" stroke-width="1.3"/>
<line x1="255" y1="244.4" x2="255" y2="247.4" stroke="#f0141c" stroke-width="0.9"/>
<line x1="256" y1="244.4" x2="256" y2="247.4" stroke="#f0141c" stroke-width="0.9"/>
<line x1="275" y1="254.4" x2="275" y2="257.4" stroke="#f0141c" stroke-width="0.9"/>
<line x1="276.5" y1="254.4" x2="276.5" y2="257.4" stroke="#f0141c" stroke-width="0.9"/>
<line x1="278" y1="254.4" x2="278" y2="257.4" stroke="#f0141c" stroke-width="0.9"/>
<line x1="281" y1="256.8" x2="281" y2="259.8" stroke="#f0141c" stroke-width="0.9"/>
<line x1="282.4" y1="256.8" x2="282.4" y2="259.8" stroke="#f0141c" stroke-width="0.9"/>
<line x1="283.8" y1="256.8" x2="283.8" y2="259.8" stroke="#f0141c" stroke-width="0.9"/>
<line x1="285.2" y1="256.8" x2="285.2" y2="259.8" stroke="#f0141c" stroke-width="0.9"/>
<line x1="286.6" y1="256.8" x2="286.6" y2="259.8" stroke="#f0141c" stroke-width="0.9"/>
<line x1="288" y1="256.8" x2="288" y2="259.8" stroke="#f0141c" stroke-width="0.9"/>
<line x1="289.4" y1="256.8" x2="289.4" y2="259.8" stroke="#f0141c" stroke-width="0.9"/>
<line x1="290.8" y1="256.8" x2="290.8" y2="259.8" stroke="#f0141c" stroke-width="0.9"/>
<line x1="292.2" y1="256.8" x2="292.2" y2="259.8" stroke="#f0141c" stroke-width="0.9"/>
<line x1="293.6" y1="256.8" x2="293.6" y2="259.8" stroke="#f0141c" stroke-width="0.9"/>
<line x1="295" y1="256.8" x2="295" y2="259.8" stroke="#f0141c" stroke-width="0.9"/>
<line x1="296.4" y1="256.8" x2="296.4" y2="259.8" stroke="#f0141c" stroke-width="0.9"/>
<line x1="297.8" y1="256.8" x2="297.8" y2="259.8" stroke="#f0141c" stroke-width="0.9"/>
<path d="M200.1,207.8V329.8H322.8" fill="none" stroke="#1c1c1c" stroke-width="1.35"/>
<line x1="198.1" y1="325.5" x2="200.1" y2="325.5" stroke="#222" stroke-width="1.2"/>
<text transform="translate(196.3,328.4) scale(0.93,1)" font-size="8.2" text-anchor="end" fill="#222">0.0</text>
<line x1="198.1" y1="304.1" x2="200.1" y2="304.1" stroke="#222" stroke-width="1.2"/>
<text transform="translate(196.3,307) scale(0.93,1)" font-size="8.2" text-anchor="end" fill="#222">0.2</text>
<line x1="198.1" y1="282.7" x2="200.1" y2="282.7" stroke="#222" stroke-width="1.2"/>
<text transform="translate(196.3,285.6) scale(0.93,1)" font-size="8.2" text-anchor="end" fill="#222">0.4</text>
<line x1="198.1" y1="261.3" x2="200.1" y2="261.3" stroke="#222" stroke-width="1.2"/>
<text transform="translate(196.3,264.2) scale(0.93,1)" font-size="8.2" text-anchor="end" fill="#222">0.6</text>
<line x1="198.1" y1="239.9" x2="200.1" y2="239.9" stroke="#222" stroke-width="1.2"/>
<text transform="translate(196.3,242.8) scale(0.93,1)" font-size="8.2" text-anchor="end" fill="#222">0.8</text>
<line x1="198.1" y1="218.5" x2="200.1" y2="218.5" stroke="#222" stroke-width="1.2"/>
<text transform="translate(196.3,221.4) scale(0.93,1)" font-size="8.2" text-anchor="end" fill="#222">1.0</text>
<line x1="207.1" y1="329.8" x2="207.1" y2="332" stroke="#222" stroke-width="1.2"/>
<text transform="translate(207.1,341.3) scale(0.95,1)" font-size="8.2" text-anchor="middle" fill="#222">0</text>
<line x1="235.9" y1="329.8" x2="235.9" y2="332" stroke="#222" stroke-width="1.2"/>
<text transform="translate(235.9,341.3) scale(0.95,1)" font-size="8.2" text-anchor="middle" fill="#222">50</text>
<line x1="264.7" y1="329.8" x2="264.7" y2="332" stroke="#222" stroke-width="1.2"/>
<text transform="translate(264.7,341.3) scale(0.95,1)" font-size="8.2" text-anchor="middle" fill="#222">100</text>
<line x1="293.5" y1="329.8" x2="293.5" y2="332" stroke="#222" stroke-width="1.2"/>
<text transform="translate(293.5,341.3) scale(0.95,1)" font-size="8.2" text-anchor="middle" fill="#222">150</text>
<line x1="322.3" y1="329.8" x2="322.3" y2="332" stroke="#222" stroke-width="1.2"/>
<text transform="translate(322.3,341.3) scale(0.95,1)" font-size="8.2" text-anchor="middle" fill="#222">200</text>
<text transform="translate(261.45,355.2) scale(0.97,1)" font-size="8.6" text-anchor="middle" fill="#222">OS survival (months)</text>
<text transform="translate(179.6,268.8) rotate(-90) scale(0.946,1)" font-size="8.6" text-anchor="middle" fill="#222">Survival probability</text>
<text transform="translate(245.3,277.1) scale(0.97,1)" font-size="8.6" text-anchor="end" fill="#111"><tspan font-style="italic">HR</tspan> = 1.931</text>
<text transform="translate(245.3,287.4) scale(0.97,1)" font-size="8.6" text-anchor="end" fill="#111"><tspan font-style="italic">P</tspan> = 0.032</text>
<line x1="203.4" y1="304.5" x2="215.1" y2="304.5" stroke="#f0141c" stroke-width="1.1"/>
<line x1="209.3" y1="302.5" x2="209.3" y2="304.5" stroke="#f0141c" stroke-width="0.8"/>
<text transform="translate(220.9,307.7) scale(0.95,1)" font-size="8.7" fill="#111">PRDX6<tspan font-size="6.5" dy="-3.3">high</tspan><tspan dy="3.3"> (n=71)</tspan></text>
<line x1="203.4" y1="319.2" x2="215.1" y2="319.2" stroke="#222" stroke-width="1.1"/>
<line x1="209.3" y1="317.2" x2="209.3" y2="319.2" stroke="#222" stroke-width="0.8"/>
<text transform="translate(220.9,322.4) scale(0.95,1)" font-size="8.7" fill="#111">PRDX6<tspan font-size="6.5" dy="-3.3">low</tspan><tspan dy="3.3"> (n=79)</tspan></text>
<path d="M393.2,219.3H393.5V220.2H410V221.1H411.9V221.8H414.7V222.6H418.5V224H420.4V225.4H426.1V226.4H428V228.4H434.7V228.7H436.6V229.7H437.5V231H439.4V233.3H444.5V233.8H446V235H448.3V237.1H462.1V238.1H477.8V241.4H485V241.4" fill="none" stroke="#000" stroke-width="1.25"/>
<line x1="431" y1="226.2" x2="431" y2="229.2" stroke="#000" stroke-width="0.9"/>
<line x1="433" y1="226.2" x2="433" y2="229.2" stroke="#000" stroke-width="0.9"/>
<line x1="440" y1="231.1" x2="440" y2="234.1" stroke="#000" stroke-width="0.9"/>
<line x1="442" y1="231.1" x2="442" y2="234.1" stroke="#000" stroke-width="0.9"/>
<line x1="455" y1="234.9" x2="455" y2="237.9" stroke="#000" stroke-width="0.9"/>
<line x1="456.5" y1="234.9" x2="456.5" y2="237.9" stroke="#000" stroke-width="0.9"/>
<line x1="458" y1="234.9" x2="458" y2="237.9" stroke="#000" stroke-width="0.9"/>
<line x1="459.5" y1="234.9" x2="459.5" y2="237.9" stroke="#000" stroke-width="0.9"/>
<line x1="461" y1="234.9" x2="461" y2="237.9" stroke="#000" stroke-width="0.9"/>
<line x1="463" y1="235.9" x2="463" y2="238.9" stroke="#000" stroke-width="0.9"/>
<line x1="464.2" y1="235.9" x2="464.2" y2="238.9" stroke="#000" stroke-width="0.9"/>
<line x1="465.4" y1="235.9" x2="465.4" y2="238.9" stroke="#000" stroke-width="0.9"/>
<line x1="466.6" y1="235.9" x2="466.6" y2="238.9" stroke="#000" stroke-width="0.9"/>
<line x1="467.8" y1="235.9" x2="467.8" y2="238.9" stroke="#000" stroke-width="0.9"/>
<line x1="469" y1="235.9" x2="469" y2="238.9" stroke="#000" stroke-width="0.9"/>
<line x1="470.2" y1="235.9" x2="470.2" y2="238.9" stroke="#000" stroke-width="0.9"/>
<line x1="471.4" y1="235.9" x2="471.4" y2="238.9" stroke="#000" stroke-width="0.9"/>
<line x1="472.6" y1="235.9" x2="472.6" y2="238.9" stroke="#000" stroke-width="0.9"/>
<line x1="473.8" y1="235.9" x2="473.8" y2="238.9" stroke="#000" stroke-width="0.9"/>
<line x1="475" y1="235.9" x2="475" y2="238.9" stroke="#000" stroke-width="0.9"/>
<line x1="476.2" y1="235.9" x2="476.2" y2="238.9" stroke="#000" stroke-width="0.9"/>
<line x1="479" y1="239.2" x2="479" y2="242.2" stroke="#000" stroke-width="0.9"/>
<line x1="480.2" y1="239.2" x2="480.2" y2="242.2" stroke="#000" stroke-width="0.9"/>
<line x1="481.4" y1="239.2" x2="481.4" y2="242.2" stroke="#000" stroke-width="0.9"/>
<line x1="482.6" y1="239.2" x2="482.6" y2="242.2" stroke="#000" stroke-width="0.9"/>
<line x1="483.8" y1="239.2" x2="483.8" y2="242.2" stroke="#000" stroke-width="0.9"/>
<line x1="485" y1="239.2" x2="485" y2="242.2" stroke="#000" stroke-width="0.9"/>
<path d="M393.2,219.3H394.46V221.48H395.72V223.66H396.98V225.84H398.24V228.02H399.5V230.2H402.4V234H405.7V238.7H411.4V244.9H420.4V247.3H423.7V249.6H429V255.8H438V258.2H441.5V261H446.6V263.1H455.7V267.2H458.6V270H464.8V273H485V273" fill="none" stroke="#ff1010" stroke-width="1.3"/>
<line x1="446" y1="258.8" x2="446" y2="261.8" stroke="#f0141c" stroke-width="0.9"/>
<line x1="448" y1="260.9" x2="448" y2="263.9" stroke="#f0141c" stroke-width="0.9"/>
<line x1="460" y1="267.8" x2="460" y2="270.8" stroke="#f0141c" stroke-width="0.9"/>
<line x1="461.5" y1="267.8" x2="461.5" y2="270.8" stroke="#f0141c" stroke-width="0.9"/>
<line x1="463" y1="267.8" x2="463" y2="270.8" stroke="#f0141c" stroke-width="0.9"/>
<line x1="466" y1="270.8" x2="466" y2="273.8" stroke="#f0141c" stroke-width="0.9"/>
<line x1="467.4" y1="270.8" x2="467.4" y2="273.8" stroke="#f0141c" stroke-width="0.9"/>
<line x1="468.8" y1="270.8" x2="468.8" y2="273.8" stroke="#f0141c" stroke-width="0.9"/>
<line x1="470.2" y1="270.8" x2="470.2" y2="273.8" stroke="#f0141c" stroke-width="0.9"/>
<line x1="471.6" y1="270.8" x2="471.6" y2="273.8" stroke="#f0141c" stroke-width="0.9"/>
<line x1="473" y1="270.8" x2="473" y2="273.8" stroke="#f0141c" stroke-width="0.9"/>
<line x1="474.4" y1="270.8" x2="474.4" y2="273.8" stroke="#f0141c" stroke-width="0.9"/>
<line x1="475.8" y1="270.8" x2="475.8" y2="273.8" stroke="#f0141c" stroke-width="0.9"/>
<line x1="477.2" y1="270.8" x2="477.2" y2="273.8" stroke="#f0141c" stroke-width="0.9"/>
<line x1="478.6" y1="270.8" x2="478.6" y2="273.8" stroke="#f0141c" stroke-width="0.9"/>
<line x1="480" y1="270.8" x2="480" y2="273.8" stroke="#f0141c" stroke-width="0.9"/>
<line x1="481.4" y1="270.8" x2="481.4" y2="273.8" stroke="#f0141c" stroke-width="0.9"/>
<line x1="482.8" y1="270.8" x2="482.8" y2="273.8" stroke="#f0141c" stroke-width="0.9"/>
<line x1="484.2" y1="270.8" x2="484.2" y2="273.8" stroke="#f0141c" stroke-width="0.9"/>
<path d="M385.5,208.4V330.6H508.4" fill="none" stroke="#1c1c1c" stroke-width="1.35"/>
<line x1="383.5" y1="326.3" x2="385.5" y2="326.3" stroke="#222" stroke-width="1.2"/>
<text transform="translate(381.7,329.2) scale(0.93,1)" font-size="8.2" text-anchor="end" fill="#222">0.0</text>
<line x1="383.5" y1="304.9" x2="385.5" y2="304.9" stroke="#222" stroke-width="1.2"/>
<text transform="translate(381.7,307.8) scale(0.93,1)" font-size="8.2" text-anchor="end" fill="#222">0.2</text>
<line x1="383.5" y1="283.5" x2="385.5" y2="283.5" stroke="#222" stroke-width="1.2"/>
<text transform="translate(381.7,286.4) scale(0.93,1)" font-size="8.2" text-anchor="end" fill="#222">0.4</text>
<line x1="383.5" y1="262.1" x2="385.5" y2="262.1" stroke="#222" stroke-width="1.2"/>
<text transform="translate(381.7,265) scale(0.93,1)" font-size="8.2" text-anchor="end" fill="#222">0.6</text>
<line x1="383.5" y1="240.7" x2="385.5" y2="240.7" stroke="#222" stroke-width="1.2"/>
<text transform="translate(381.7,243.6) scale(0.93,1)" font-size="8.2" text-anchor="end" fill="#222">0.8</text>
<line x1="383.5" y1="219.3" x2="385.5" y2="219.3" stroke="#222" stroke-width="1.2"/>
<text transform="translate(381.7,222.2) scale(0.93,1)" font-size="8.2" text-anchor="end" fill="#222">1.0</text>
<line x1="392.7" y1="330.6" x2="392.7" y2="332.8" stroke="#222" stroke-width="1.2"/>
<text transform="translate(392.7,342.1) scale(0.95,1)" font-size="8.2" text-anchor="middle" fill="#222">0</text>
<line x1="421.5" y1="330.6" x2="421.5" y2="332.8" stroke="#222" stroke-width="1.2"/>
<text transform="translate(421.5,342.1) scale(0.95,1)" font-size="8.2" text-anchor="middle" fill="#222">50</text>
<line x1="450.3" y1="330.6" x2="450.3" y2="332.8" stroke="#222" stroke-width="1.2"/>
<text transform="translate(450.3,342.1) scale(0.95,1)" font-size="8.2" text-anchor="middle" fill="#222">100</text>
<line x1="479.1" y1="330.6" x2="479.1" y2="332.8" stroke="#222" stroke-width="1.2"/>
<text transform="translate(479.1,342.1) scale(0.95,1)" font-size="8.2" text-anchor="middle" fill="#222">150</text>
<line x1="507.9" y1="330.6" x2="507.9" y2="332.8" stroke="#222" stroke-width="1.2"/>
<text transform="translate(507.9,342.1) scale(0.95,1)" font-size="8.2" text-anchor="middle" fill="#222">200</text>
<text transform="translate(446.95,356) scale(0.97,1)" font-size="8.6" text-anchor="middle" fill="#222">OS survival (months)</text>
<text transform="translate(365,269.5) rotate(-90) scale(0.946,1)" font-size="8.6" text-anchor="middle" fill="#222">Survival probability</text>
<text transform="translate(430.7,277.9) scale(0.97,1)" font-size="8.6" text-anchor="end" fill="#111"><tspan font-style="italic">HR</tspan> = 3.274</text>
<text transform="translate(430.7,288.2) scale(0.97,1)" font-size="8.6" text-anchor="end" fill="#111"><tspan font-style="italic">P</tspan> &lt; 0.001</text>
<line x1="388.8" y1="305.3" x2="400.5" y2="305.3" stroke="#f0141c" stroke-width="1.1"/>
<line x1="394.7" y1="303.3" x2="394.7" y2="305.3" stroke="#f0141c" stroke-width="0.8"/>
<text transform="translate(406.3,308.5) scale(0.95,1)" font-size="8.7" fill="#111">NR4A1<tspan font-size="6.5" dy="-3.3">low</tspan><tspan dy="3.3">/PRDX6</tspan><tspan font-size="6.5" dy="-3.3">high</tspan><tspan dy="3.3"> (n=49)</tspan></text>
<line x1="388.8" y1="320" x2="400.5" y2="320" stroke="#222" stroke-width="1.1"/>
<line x1="394.7" y1="318" x2="394.7" y2="320" stroke="#222" stroke-width="0.8"/>
<text transform="translate(406.3,323.2) scale(0.95,1)" font-size="8.7" fill="#111">Others (n=101)</text>
<path d="M561.6,219.6H561.9V220.5H578.9V221.5H580.8V222.6H583.7V224H586.5V224.9H588.4V226.4H593.2V227.3H596V228.3H601.7V229.2H604.6V229.7H607V232.8H612.1V233.3H617.2V235.4H630V236.2H646.3V238.8H655V238.8" fill="none" stroke="#000" stroke-width="1.25"/>
<line x1="600" y1="226.1" x2="600" y2="229.1" stroke="#000" stroke-width="0.9"/>
<line x1="602" y1="227" x2="602" y2="230" stroke="#000" stroke-width="0.9"/>
<line x1="609" y1="230.6" x2="609" y2="233.6" stroke="#000" stroke-width="0.9"/>
<line x1="611" y1="230.6" x2="611" y2="233.6" stroke="#000" stroke-width="0.9"/>
<line x1="622" y1="233.2" x2="622" y2="236.2" stroke="#000" stroke-width="0.9"/>
<line x1="623.5" y1="233.2" x2="623.5" y2="236.2" stroke="#000" stroke-width="0.9"/>
<line x1="625" y1="233.2" x2="625" y2="236.2" stroke="#000" stroke-width="0.9"/>
<line x1="626.5" y1="233.2" x2="626.5" y2="236.2" stroke="#000" stroke-width="0.9"/>
<line x1="628" y1="233.2" x2="628" y2="236.2" stroke="#000" stroke-width="0.9"/>
<line x1="631" y1="234" x2="631" y2="237" stroke="#000" stroke-width="0.9"/>
<line x1="632.2" y1="234" x2="632.2" y2="237" stroke="#000" stroke-width="0.9"/>
<line x1="633.4" y1="234" x2="633.4" y2="237" stroke="#000" stroke-width="0.9"/>
<line x1="634.6" y1="234" x2="634.6" y2="237" stroke="#000" stroke-width="0.9"/>
<line x1="635.8" y1="234" x2="635.8" y2="237" stroke="#000" stroke-width="0.9"/>
<line x1="637" y1="234" x2="637" y2="237" stroke="#000" stroke-width="0.9"/>
<line x1="638.2" y1="234" x2="638.2" y2="237" stroke="#000" stroke-width="0.9"/>
<line x1="639.4" y1="234" x2="639.4" y2="237" stroke="#000" stroke-width="0.9"/>
<line x1="640.6" y1="234" x2="640.6" y2="237" stroke="#000" stroke-width="0.9"/>
<line x1="641.8" y1="234" x2="641.8" y2="237" stroke="#000" stroke-width="0.9"/>
<line x1="643" y1="234" x2="643" y2="237" stroke="#000" stroke-width="0.9"/>
<line x1="644.2" y1="234" x2="644.2" y2="237" stroke="#000" stroke-width="0.9"/>
<line x1="647" y1="236.6" x2="647" y2="239.6" stroke="#000" stroke-width="0.9"/>
<line x1="648.2" y1="236.6" x2="648.2" y2="239.6" stroke="#000" stroke-width="0.9"/>
<line x1="649.4" y1="236.6" x2="649.4" y2="239.6" stroke="#000" stroke-width="0.9"/>
<line x1="650.6" y1="236.6" x2="650.6" y2="239.6" stroke="#000" stroke-width="0.9"/>
<line x1="651.8" y1="236.6" x2="651.8" y2="239.6" stroke="#000" stroke-width="0.9"/>
<line x1="653" y1="236.6" x2="653" y2="239.6" stroke="#000" stroke-width="0.9"/>
<line x1="654.2" y1="236.6" x2="654.2" y2="239.6" stroke="#000" stroke-width="0.9"/>
<path d="M561.6,219.6H562.78V222.18H563.96V224.76H565.14V227.34H566.32V229.92H567.5V232.5H570.4V234H571.3V238.2H575.1V243.5H580.8V249.2H589.4V252H592.2V254.4H595.5V254.7H596.5V259.5H597V264.4H607V267.9H611.2V270.4H615.5V275.6H624.9V280.7H625.8V284.1H633.5V287.5H653.1V287.5" fill="none" stroke="#ff1010" stroke-width="1.3"/>
<line x1="629" y1="281.9" x2="629" y2="284.9" stroke="#f0141c" stroke-width="0.9"/>
<line x1="630.5" y1="281.9" x2="630.5" y2="284.9" stroke="#f0141c" stroke-width="0.9"/>
<line x1="632" y1="281.9" x2="632" y2="284.9" stroke="#f0141c" stroke-width="0.9"/>
<line x1="636" y1="285.3" x2="636" y2="288.3" stroke="#f0141c" stroke-width="0.9"/>
<line x1="637.4" y1="285.3" x2="637.4" y2="288.3" stroke="#f0141c" stroke-width="0.9"/>
<line x1="638.8" y1="285.3" x2="638.8" y2="288.3" stroke="#f0141c" stroke-width="0.9"/>
<line x1="640.2" y1="285.3" x2="640.2" y2="288.3" stroke="#f0141c" stroke-width="0.9"/>
<line x1="641.6" y1="285.3" x2="641.6" y2="288.3" stroke="#f0141c" stroke-width="0.9"/>
<line x1="643" y1="285.3" x2="643" y2="288.3" stroke="#f0141c" stroke-width="0.9"/>
<line x1="644.4" y1="285.3" x2="644.4" y2="288.3" stroke="#f0141c" stroke-width="0.9"/>
<line x1="645.8" y1="285.3" x2="645.8" y2="288.3" stroke="#f0141c" stroke-width="0.9"/>
<line x1="647.2" y1="285.3" x2="647.2" y2="288.3" stroke="#f0141c" stroke-width="0.9"/>
<line x1="648.6" y1="285.3" x2="648.6" y2="288.3" stroke="#f0141c" stroke-width="0.9"/>
<line x1="650" y1="285.3" x2="650" y2="288.3" stroke="#f0141c" stroke-width="0.9"/>
<line x1="651.4" y1="285.3" x2="651.4" y2="288.3" stroke="#f0141c" stroke-width="0.9"/>
<line x1="652.8" y1="285.3" x2="652.8" y2="288.3" stroke="#f0141c" stroke-width="0.9"/>
<path d="M554.5,209.1V330.6H677.2" fill="none" stroke="#1c1c1c" stroke-width="1.35"/>
<line x1="552.5" y1="326.3" x2="554.5" y2="326.3" stroke="#222" stroke-width="1.2"/>
<text transform="translate(550.7,329.2) scale(0.93,1)" font-size="8.2" text-anchor="end" fill="#222">0.0</text>
<line x1="552.5" y1="304.96" x2="554.5" y2="304.96" stroke="#222" stroke-width="1.2"/>
<text transform="translate(550.7,307.86) scale(0.93,1)" font-size="8.2" text-anchor="end" fill="#222">0.2</text>
<line x1="552.5" y1="283.62" x2="554.5" y2="283.62" stroke="#222" stroke-width="1.2"/>
<text transform="translate(550.7,286.52) scale(0.93,1)" font-size="8.2" text-anchor="end" fill="#222">0.4</text>
<line x1="552.5" y1="262.28" x2="554.5" y2="262.28" stroke="#222" stroke-width="1.2"/>
<text transform="translate(550.7,265.18) scale(0.93,1)" font-size="8.2" text-anchor="end" fill="#222">0.6</text>
<line x1="552.5" y1="240.94" x2="554.5" y2="240.94" stroke="#222" stroke-width="1.2"/>
<text transform="translate(550.7,243.84) scale(0.93,1)" font-size="8.2" text-anchor="end" fill="#222">0.8</text>
<line x1="552.5" y1="219.6" x2="554.5" y2="219.6" stroke="#222" stroke-width="1.2"/>
<text transform="translate(550.7,222.5) scale(0.93,1)" font-size="8.2" text-anchor="end" fill="#222">1.0</text>
<line x1="561.5" y1="330.6" x2="561.5" y2="332.8" stroke="#222" stroke-width="1.2"/>
<text transform="translate(561.5,342.1) scale(0.95,1)" font-size="8.2" text-anchor="middle" fill="#222">0</text>
<line x1="590.3" y1="330.6" x2="590.3" y2="332.8" stroke="#222" stroke-width="1.2"/>
<text transform="translate(590.3,342.1) scale(0.95,1)" font-size="8.2" text-anchor="middle" fill="#222">50</text>
<line x1="619.1" y1="330.6" x2="619.1" y2="332.8" stroke="#222" stroke-width="1.2"/>
<text transform="translate(619.1,342.1) scale(0.95,1)" font-size="8.2" text-anchor="middle" fill="#222">100</text>
<line x1="647.9" y1="330.6" x2="647.9" y2="332.8" stroke="#222" stroke-width="1.2"/>
<text transform="translate(647.9,342.1) scale(0.95,1)" font-size="8.2" text-anchor="middle" fill="#222">150</text>
<line x1="676.7" y1="330.6" x2="676.7" y2="332.8" stroke="#222" stroke-width="1.2"/>
<text transform="translate(676.7,342.1) scale(0.95,1)" font-size="8.2" text-anchor="middle" fill="#222">200</text>
<text transform="translate(615.85,356) scale(0.97,1)" font-size="8.6" text-anchor="middle" fill="#222">OS survival (months)</text>
<text transform="translate(534,269.85) rotate(-90) scale(0.946,1)" font-size="8.6" text-anchor="middle" fill="#222">Survival probability</text>
<text transform="translate(599.7,277.9) scale(0.97,1)" font-size="8.6" text-anchor="end" fill="#111"><tspan font-style="italic">HR</tspan> = 5.324</text>
<text transform="translate(599.7,288.2) scale(0.97,1)" font-size="8.6" text-anchor="end" fill="#111"><tspan font-style="italic">P</tspan> &lt; 0.001</text>
<line x1="557.8" y1="305.3" x2="569.5" y2="305.3" stroke="#f0141c" stroke-width="1.1"/>
<line x1="563.7" y1="303.3" x2="563.7" y2="305.3" stroke="#f0141c" stroke-width="0.8"/>
<text transform="translate(575.3,308.5) scale(0.95,1)" font-size="8.7" fill="#111">c-Fos<tspan font-size="6.5" dy="-3.3">high</tspan><tspan dy="3.3">/PRDX6</tspan><tspan font-size="6.5" dy="-3.3">high</tspan><tspan dy="3.3"> (n=40)</tspan></text>
<line x1="557.8" y1="320" x2="569.5" y2="320" stroke="#222" stroke-width="1.1"/>
<line x1="563.7" y1="318" x2="563.7" y2="320" stroke="#222" stroke-width="0.8"/>
<text transform="translate(575.3,323.2) scale(0.95,1)" font-size="8.7" fill="#111">Others (n=110)</text>
<path d="M46.5,385.8H46.8V387.1H64.4V389H66.8V390.3H72.5V392.4H80.1V394.7H82V396.2H89.6V397.1H90.3V397.4H93.7V400.3H102.3V404.3H130.8V407.1H139.9V407.1" fill="none" stroke="#000" stroke-width="1.25"/>
<line x1="84" y1="394" x2="84" y2="397" stroke="#000" stroke-width="0.9"/>
<line x1="86" y1="394" x2="86" y2="397" stroke="#000" stroke-width="0.9"/>
<line x1="93" y1="395.2" x2="93" y2="398.2" stroke="#000" stroke-width="0.9"/>
<line x1="95" y1="398.1" x2="95" y2="401.1" stroke="#000" stroke-width="0.9"/>
<line x1="108" y1="402.1" x2="108" y2="405.1" stroke="#000" stroke-width="0.9"/>
<line x1="109.5" y1="402.1" x2="109.5" y2="405.1" stroke="#000" stroke-width="0.9"/>
<line x1="111" y1="402.1" x2="111" y2="405.1" stroke="#000" stroke-width="0.9"/>
<line x1="113" y1="402.1" x2="113" y2="405.1" stroke="#000" stroke-width="0.9"/>
<line x1="114.2" y1="402.1" x2="114.2" y2="405.1" stroke="#000" stroke-width="0.9"/>
<line x1="115.4" y1="402.1" x2="115.4" y2="405.1" stroke="#000" stroke-width="0.9"/>
<line x1="116.6" y1="402.1" x2="116.6" y2="405.1" stroke="#000" stroke-width="0.9"/>
<line x1="117.8" y1="402.1" x2="117.8" y2="405.1" stroke="#000" stroke-width="0.9"/>
<line x1="119" y1="402.1" x2="119" y2="405.1" stroke="#000" stroke-width="0.9"/>
<line x1="120.2" y1="402.1" x2="120.2" y2="405.1" stroke="#000" stroke-width="0.9"/>
<line x1="121.4" y1="402.1" x2="121.4" y2="405.1" stroke="#000" stroke-width="0.9"/>
<line x1="122.6" y1="402.1" x2="122.6" y2="405.1" stroke="#000" stroke-width="0.9"/>
<line x1="123.8" y1="402.1" x2="123.8" y2="405.1" stroke="#000" stroke-width="0.9"/>
<line x1="125" y1="402.1" x2="125" y2="405.1" stroke="#000" stroke-width="0.9"/>
<line x1="126.2" y1="402.1" x2="126.2" y2="405.1" stroke="#000" stroke-width="0.9"/>
<line x1="127.4" y1="402.1" x2="127.4" y2="405.1" stroke="#000" stroke-width="0.9"/>
<line x1="128.6" y1="402.1" x2="128.6" y2="405.1" stroke="#000" stroke-width="0.9"/>
<line x1="131" y1="404.9" x2="131" y2="407.9" stroke="#000" stroke-width="0.9"/>
<line x1="132.2" y1="404.9" x2="132.2" y2="407.9" stroke="#000" stroke-width="0.9"/>
<line x1="133.4" y1="404.9" x2="133.4" y2="407.9" stroke="#000" stroke-width="0.9"/>
<line x1="134.6" y1="404.9" x2="134.6" y2="407.9" stroke="#000" stroke-width="0.9"/>
<line x1="135.8" y1="404.9" x2="135.8" y2="407.9" stroke="#000" stroke-width="0.9"/>
<line x1="137" y1="404.9" x2="137" y2="407.9" stroke="#000" stroke-width="0.9"/>
<line x1="138.2" y1="404.9" x2="138.2" y2="407.9" stroke="#000" stroke-width="0.9"/>
<line x1="139.4" y1="404.9" x2="139.4" y2="407.9" stroke="#000" stroke-width="0.9"/>
<path d="M46.5,385.8H47.83V387.6H49.17V389.4H50.5V391.2H51.83V393H53.17V394.8H54.5V396.6H56.4V400H59.7V404.2H64.9V408H68.7V409.5H72.5V410.9H76.3V412.8H81.1V414.2H82.5V420.4H90.9V424.2H94.8V426.5H99.4V428.2H109.7V432.8H112V434.5H115.4V435.6H118.2V439.6H139.9V439.6" fill="none" stroke="#ff1010" stroke-width="1.3"/>
<line x1="109" y1="426" x2="109" y2="429" stroke="#f0141c" stroke-width="0.9"/>
<line x1="110" y1="430.6" x2="110" y2="433.6" stroke="#f0141c" stroke-width="0.9"/>
<line x1="115" y1="432.3" x2="115" y2="435.3" stroke="#f0141c" stroke-width="0.9"/>
<line x1="116.5" y1="433.4" x2="116.5" y2="436.4" stroke="#f0141c" stroke-width="0.9"/>
<line x1="126" y1="437.4" x2="126" y2="440.4" stroke="#f0141c" stroke-width="0.9"/>
<line x1="127.4" y1="437.4" x2="127.4" y2="440.4" stroke="#f0141c" stroke-width="0.9"/>
<line x1="128.8" y1="437.4" x2="128.8" y2="440.4" stroke="#f0141c" stroke-width="0.9"/>
<line x1="130.2" y1="437.4" x2="130.2" y2="440.4" stroke="#f0141c" stroke-width="0.9"/>
<line x1="131.6" y1="437.4" x2="131.6" y2="440.4" stroke="#f0141c" stroke-width="0.9"/>
<line x1="133" y1="437.4" x2="133" y2="440.4" stroke="#f0141c" stroke-width="0.9"/>
<line x1="134.4" y1="437.4" x2="134.4" y2="440.4" stroke="#f0141c" stroke-width="0.9"/>
<line x1="135.8" y1="437.4" x2="135.8" y2="440.4" stroke="#f0141c" stroke-width="0.9"/>
<line x1="137.2" y1="437.4" x2="137.2" y2="440.4" stroke="#f0141c" stroke-width="0.9"/>
<line x1="138.6" y1="437.4" x2="138.6" y2="440.4" stroke="#f0141c" stroke-width="0.9"/>
<path d="M39.3,375.3V497.1H162" fill="none" stroke="#1c1c1c" stroke-width="1.35"/>
<line x1="37.3" y1="492.8" x2="39.3" y2="492.8" stroke="#222" stroke-width="1.2"/>
<text transform="translate(35.5,495.7) scale(0.93,1)" font-size="8.2" text-anchor="end" fill="#222">0.0</text>
<line x1="37.3" y1="471.4" x2="39.3" y2="471.4" stroke="#222" stroke-width="1.2"/>
<text transform="translate(35.5,474.3) scale(0.93,1)" font-size="8.2" text-anchor="end" fill="#222">0.2</text>
<line x1="37.3" y1="450" x2="39.3" y2="450" stroke="#222" stroke-width="1.2"/>
<text transform="translate(35.5,452.9) scale(0.93,1)" font-size="8.2" text-anchor="end" fill="#222">0.4</text>
<line x1="37.3" y1="428.6" x2="39.3" y2="428.6" stroke="#222" stroke-width="1.2"/>
<text transform="translate(35.5,431.5) scale(0.93,1)" font-size="8.2" text-anchor="end" fill="#222">0.6</text>
<line x1="37.3" y1="407.2" x2="39.3" y2="407.2" stroke="#222" stroke-width="1.2"/>
<text transform="translate(35.5,410.1) scale(0.93,1)" font-size="8.2" text-anchor="end" fill="#222">0.8</text>
<line x1="37.3" y1="385.8" x2="39.3" y2="385.8" stroke="#222" stroke-width="1.2"/>
<text transform="translate(35.5,388.7) scale(0.93,1)" font-size="8.2" text-anchor="end" fill="#222">1.0</text>
<line x1="46.3" y1="497.1" x2="46.3" y2="499.3" stroke="#222" stroke-width="1.2"/>
<text transform="translate(46.3,508.6) scale(0.95,1)" font-size="8.2" text-anchor="middle" fill="#222">0</text>
<line x1="75.1" y1="497.1" x2="75.1" y2="499.3" stroke="#222" stroke-width="1.2"/>
<text transform="translate(75.1,508.6) scale(0.95,1)" font-size="8.2" text-anchor="middle" fill="#222">50</text>
<line x1="103.9" y1="497.1" x2="103.9" y2="499.3" stroke="#222" stroke-width="1.2"/>
<text transform="translate(103.9,508.6) scale(0.95,1)" font-size="8.2" text-anchor="middle" fill="#222">100</text>
<line x1="132.7" y1="497.1" x2="132.7" y2="499.3" stroke="#222" stroke-width="1.2"/>
<text transform="translate(132.7,508.6) scale(0.95,1)" font-size="8.2" text-anchor="middle" fill="#222">150</text>
<line x1="161.5" y1="497.1" x2="161.5" y2="499.3" stroke="#222" stroke-width="1.2"/>
<text transform="translate(161.5,508.6) scale(0.95,1)" font-size="8.2" text-anchor="middle" fill="#222">200</text>
<text transform="translate(100.65,522.5) scale(0.97,1)" font-size="8.6" text-anchor="middle" fill="#222">OS survival (months)</text>
<text transform="translate(18.8,436.2) rotate(-90) scale(0.946,1)" font-size="8.6" text-anchor="middle" fill="#222">Survival probability</text>
<text transform="translate(84.5,444.4) scale(0.97,1)" font-size="8.6" text-anchor="end" fill="#111"><tspan font-style="italic">HR</tspan> = 3.143</text>
<text transform="translate(84.5,454.7) scale(0.97,1)" font-size="8.6" text-anchor="end" fill="#111"><tspan font-style="italic">P</tspan> &lt; 0.001</text>
<line x1="42.6" y1="471.8" x2="54.3" y2="471.8" stroke="#f0141c" stroke-width="1.1"/>
<line x1="48.5" y1="469.8" x2="48.5" y2="471.8" stroke="#f0141c" stroke-width="0.8"/>
<text transform="translate(60.1,475) scale(0.95,1)" font-size="8.7" fill="#111">NR4A1<tspan font-size="6.5" dy="-3.3">low</tspan><tspan dy="3.3">/c-Fos</tspan><tspan font-size="6.5" dy="-3.3">high</tspan><tspan dy="3.3"> (n=53)</tspan></text>
<line x1="42.6" y1="486.5" x2="54.3" y2="486.5" stroke="#222" stroke-width="1.1"/>
<line x1="48.5" y1="484.5" x2="48.5" y2="486.5" stroke="#222" stroke-width="0.8"/>
<text transform="translate(60.1,489.7) scale(0.95,1)" font-size="8.7" fill="#111">Others (n=97)</text>
<path d="M206.8,386.1H207V386.8H224V386.8H225.9V389H228.7V390H232.5V391.4H234.4V392.8H240.1V393.8H242V395.2H248.7V395.7H250.6V397.1H253V399.2H257.8V400.4H262.7V403.1H275.6V404.1H291.8V406.4H300V406.4" fill="none" stroke="#000" stroke-width="1.25"/>
<line x1="243" y1="393" x2="243" y2="396" stroke="#000" stroke-width="0.9"/>
<line x1="244" y1="393" x2="244" y2="396" stroke="#000" stroke-width="0.9"/>
<line x1="248" y1="393" x2="248" y2="396" stroke="#000" stroke-width="0.9"/>
<line x1="250" y1="393.5" x2="250" y2="396.5" stroke="#000" stroke-width="0.9"/>
<line x1="256" y1="397" x2="256" y2="400" stroke="#000" stroke-width="0.9"/>
<line x1="258" y1="398.2" x2="258" y2="401.2" stroke="#000" stroke-width="0.9"/>
<line x1="269" y1="400.9" x2="269" y2="403.9" stroke="#000" stroke-width="0.9"/>
<line x1="270.5" y1="400.9" x2="270.5" y2="403.9" stroke="#000" stroke-width="0.9"/>
<line x1="272" y1="400.9" x2="272" y2="403.9" stroke="#000" stroke-width="0.9"/>
<line x1="273.5" y1="400.9" x2="273.5" y2="403.9" stroke="#000" stroke-width="0.9"/>
<line x1="276" y1="401.9" x2="276" y2="404.9" stroke="#000" stroke-width="0.9"/>
<line x1="277.2" y1="401.9" x2="277.2" y2="404.9" stroke="#000" stroke-width="0.9"/>
<line x1="278.4" y1="401.9" x2="278.4" y2="404.9" stroke="#000" stroke-width="0.9"/>
<line x1="279.6" y1="401.9" x2="279.6" y2="404.9" stroke="#000" stroke-width="0.9"/>
<line x1="280.8" y1="401.9" x2="280.8" y2="404.9" stroke="#000" stroke-width="0.9"/>
<line x1="282" y1="401.9" x2="282" y2="404.9" stroke="#000" stroke-width="0.9"/>
<line x1="283.2" y1="401.9" x2="283.2" y2="404.9" stroke="#000" stroke-width="0.9"/>
<line x1="284.4" y1="401.9" x2="284.4" y2="404.9" stroke="#000" stroke-width="0.9"/>
<line x1="285.6" y1="401.9" x2="285.6" y2="404.9" stroke="#000" stroke-width="0.9"/>
<line x1="286.8" y1="401.9" x2="286.8" y2="404.9" stroke="#000" stroke-width="0.9"/>
<line x1="288" y1="401.9" x2="288" y2="404.9" stroke="#000" stroke-width="0.9"/>
<line x1="289.2" y1="401.9" x2="289.2" y2="404.9" stroke="#000" stroke-width="0.9"/>
<line x1="290.4" y1="401.9" x2="290.4" y2="404.9" stroke="#000" stroke-width="0.9"/>
<line x1="293" y1="404.2" x2="293" y2="407.2" stroke="#000" stroke-width="0.9"/>
<line x1="294.2" y1="404.2" x2="294.2" y2="407.2" stroke="#000" stroke-width="0.9"/>
<line x1="295.4" y1="404.2" x2="295.4" y2="407.2" stroke="#000" stroke-width="0.9"/>
<line x1="296.6" y1="404.2" x2="296.6" y2="407.2" stroke="#000" stroke-width="0.9"/>
<line x1="297.8" y1="404.2" x2="297.8" y2="407.2" stroke="#000" stroke-width="0.9"/>
<line x1="299" y1="404.2" x2="299" y2="407.2" stroke="#000" stroke-width="0.9"/>
<path d="M206.8,386.1H208.04V388.96H209.28V391.82H210.52V394.68H211.76V397.54H213V400.4H216.4V406.6H219.7V413.3H225.4V419H233.5V421.4H237.3V424.2H242V429H242.5V433.5H252.1V436.8H255.4V440H259.4V442.4H269.9V448.9H272.4V452.2H278.8V456.2H298.3V456.2" fill="none" stroke="#ff1010" stroke-width="1.3"/>
<line x1="276" y1="450" x2="276" y2="453" stroke="#f0141c" stroke-width="0.9"/>
<line x1="277" y1="450" x2="277" y2="453" stroke="#f0141c" stroke-width="0.9"/>
<line x1="287" y1="454" x2="287" y2="457" stroke="#f0141c" stroke-width="0.9"/>
<line x1="288.5" y1="454" x2="288.5" y2="457" stroke="#f0141c" stroke-width="0.9"/>
<line x1="290" y1="454" x2="290" y2="457" stroke="#f0141c" stroke-width="0.9"/>
<line x1="291.5" y1="454" x2="291.5" y2="457" stroke="#f0141c" stroke-width="0.9"/>
<line x1="293" y1="454" x2="293" y2="457" stroke="#f0141c" stroke-width="0.9"/>
<line x1="294.5" y1="454" x2="294.5" y2="457" stroke="#f0141c" stroke-width="0.9"/>
<line x1="296" y1="454" x2="296" y2="457" stroke="#f0141c" stroke-width="0.9"/>
<line x1="297.5" y1="454" x2="297.5" y2="457" stroke="#f0141c" stroke-width="0.9"/>
<path d="M199.8,375.6V497.1H322.5" fill="none" stroke="#1c1c1c" stroke-width="1.35"/>
<line x1="197.8" y1="492.8" x2="199.8" y2="492.8" stroke="#222" stroke-width="1.2"/>
<text transform="translate(196,495.7) scale(0.93,1)" font-size="8.2" text-anchor="end" fill="#222">0.0</text>
<line x1="197.8" y1="471.46" x2="199.8" y2="471.46" stroke="#222" stroke-width="1.2"/>
<text transform="translate(196,474.36) scale(0.93,1)" font-size="8.2" text-anchor="end" fill="#222">0.2</text>
<line x1="197.8" y1="450.12" x2="199.8" y2="450.12" stroke="#222" stroke-width="1.2"/>
<text transform="translate(196,453.02) scale(0.93,1)" font-size="8.2" text-anchor="end" fill="#222">0.4</text>
<line x1="197.8" y1="428.78" x2="199.8" y2="428.78" stroke="#222" stroke-width="1.2"/>
<text transform="translate(196,431.68) scale(0.93,1)" font-size="8.2" text-anchor="end" fill="#222">0.6</text>
<line x1="197.8" y1="407.44" x2="199.8" y2="407.44" stroke="#222" stroke-width="1.2"/>
<text transform="translate(196,410.34) scale(0.93,1)" font-size="8.2" text-anchor="end" fill="#222">0.8</text>
<line x1="197.8" y1="386.1" x2="199.8" y2="386.1" stroke="#222" stroke-width="1.2"/>
<text transform="translate(196,389) scale(0.93,1)" font-size="8.2" text-anchor="end" fill="#222">1.0</text>
<line x1="206.8" y1="497.1" x2="206.8" y2="499.3" stroke="#222" stroke-width="1.2"/>
<text transform="translate(206.8,508.6) scale(0.95,1)" font-size="8.2" text-anchor="middle" fill="#222">0</text>
<line x1="235.6" y1="497.1" x2="235.6" y2="499.3" stroke="#222" stroke-width="1.2"/>
<text transform="translate(235.6,508.6) scale(0.95,1)" font-size="8.2" text-anchor="middle" fill="#222">50</text>
<line x1="264.4" y1="497.1" x2="264.4" y2="499.3" stroke="#222" stroke-width="1.2"/>
<text transform="translate(264.4,508.6) scale(0.95,1)" font-size="8.2" text-anchor="middle" fill="#222">100</text>
<line x1="293.2" y1="497.1" x2="293.2" y2="499.3" stroke="#222" stroke-width="1.2"/>
<text transform="translate(293.2,508.6) scale(0.95,1)" font-size="8.2" text-anchor="middle" fill="#222">150</text>
<line x1="322" y1="497.1" x2="322" y2="499.3" stroke="#222" stroke-width="1.2"/>
<text transform="translate(322,508.6) scale(0.95,1)" font-size="8.2" text-anchor="middle" fill="#222">200</text>
<text transform="translate(261.15,522.5) scale(0.97,1)" font-size="8.6" text-anchor="middle" fill="#222">OS survival (months)</text>
<text transform="translate(179.3,436.35) rotate(-90) scale(0.946,1)" font-size="8.6" text-anchor="middle" fill="#222">Survival probability</text>
<text transform="translate(245,444.4) scale(0.97,1)" font-size="8.6" text-anchor="end" fill="#111"><tspan font-style="italic">HR</tspan> = 5.183</text>
<text transform="translate(245,454.7) scale(0.97,1)" font-size="8.6" text-anchor="end" fill="#111"><tspan font-style="italic">P</tspan> &lt; 0.001</text>
<line x1="203.1" y1="471.8" x2="214.8" y2="471.8" stroke="#f0141c" stroke-width="1.1"/>
<line x1="209" y1="469.8" x2="209" y2="471.8" stroke="#f0141c" stroke-width="0.8"/>
<text transform="translate(220.6,475) scale(0.95,1)" font-size="8.7" fill="#111">NR4A1<tspan font-size="6.5" dy="-3.3">low</tspan><tspan dy="3.3">/c-Fos</tspan><tspan font-size="6.5" dy="-3.3">high</tspan><tspan dy="3.3">/PRDX6</tspan><tspan font-size="6.5" dy="-3.3">high</tspan><tspan dy="3.3"> (n=37)</tspan></text>
<line x1="203.1" y1="486.5" x2="214.8" y2="486.5" stroke="#222" stroke-width="1.1"/>
<line x1="209" y1="484.5" x2="209" y2="486.5" stroke="#222" stroke-width="0.8"/>
<text transform="translate(220.6,489.7) scale(0.95,1)" font-size="8.7" fill="#111">Others (n=113)</text>
<g class="fd" style="font-family:&quot;Liberation Serif&quot;,serif">
<rect x="366.9" y="373.6" width="312.4" height="150.6" fill="url(#fbg)" stroke="#555" stroke-width="1"/>
<ellipse cx="426" cy="436.2" rx="57" ry="48.2" fill="#adc9e8" stroke="#1a2f6a" stroke-width="1.3"/>
<ellipse cx="425.9" cy="422.8" rx="47.8" ry="25" fill="#d6e5f5" stroke="#3a5cb4" stroke-width="0.9"/>
<ellipse cx="403.6" cy="412.2" rx="14.4" ry="6.4" fill="#dcebb8" stroke="#333" stroke-width="0.7"/>
<ellipse cx="428.3" cy="408" rx="11" ry="5.4" fill="#f6ecb2" stroke="#333" stroke-width="0.7"/>
<text x="403.6" y="415" font-size="8" text-anchor="middle" fill="#222">NR4A1</text>
<text x="428.5" y="410.8" font-size="7.8" text-anchor="middle" fill="#222">c-Fos</text>
<line x1="430.2" y1="413.8" x2="430.2" y2="416.5" stroke="#333" stroke-width="0.6" stroke-dasharray="1,1"/>
<path d="M426.4,418.6L434,422.8M426.4,422.8L434,418.6" stroke="#e83838" stroke-width="0.9"/>
<line x1="430.2" y1="423" x2="430.2" y2="428" stroke="#111" stroke-width="0.6" marker-end="url(#ah)"/>
<path d="M408.9,429.7H446.9" stroke="#333" stroke-width="0.8" fill="none"/>
<path d="M437.1,429.7V424.3H444.5" stroke="#333" stroke-width="0.8" fill="none" marker-end="url(#ah)"/>
<path d="M418.3,429.7V435.4H410.5" stroke="#333" stroke-width="0.8" fill="none" marker-end="url(#ah)"/>
<text x="445.3" y="427.8" font-size="8.4" fill="#222">PRDX6</text>
<text x="389.5" y="438.6" font-size="8.4" fill="#222">CD36</text>
<text x="485.6" y="431.8" font-size="7.9" fill="#222">NR4A1 loss</text>
<path d="M485.3,435.6H520.9V433.3L530.8,437.6L520.9,442V439.7H485.3Z" fill="#fff" stroke="#333" stroke-width="0.8"/>
<ellipse cx="604" cy="433.6" rx="70.9" ry="48.2" fill="#adc9e8" stroke="#1a2f6a" stroke-width="1.3"/>
<ellipse cx="603.7" cy="410.7" rx="46.2" ry="24.2" fill="#d6e5f5" stroke="#3a5cb4" stroke-width="0.9"/>
<ellipse cx="585" cy="397.8" rx="13.5" ry="6.3" fill="#e2edc4" stroke="#444" stroke-width="0.7" stroke-dasharray="2,1.2"/>
<text x="585" y="400.6" font-size="8" text-anchor="middle" fill="#666" style="stroke:#666">NR4A1</text>
<ellipse cx="601.3" cy="412.3" rx="10.6" ry="5.6" fill="#f6ecb2" stroke="#333" stroke-width="0.7"/>
<text x="601.4" y="415.1" font-size="7.8" text-anchor="middle" fill="#222">c-Fos</text>
<path d="M586,419.5H624" stroke="#333" stroke-width="0.8" fill="none"/>
<path d="M614.3,419.5V413.7H621.5" stroke="#333" stroke-width="0.8" fill="none" marker-end="url(#ah)"/>
<path d="M594.8,419.5V425.5H588" stroke="#333" stroke-width="0.8" fill="none" marker-end="url(#ah)"/>
<text x="622.8" y="417.8" font-size="8.4" fill="#222">PRDX6</text>
<text x="567" y="427.4" font-size="8.4" fill="#222">CD36</text>
<path d="M566.5,423.3L551,419" stroke="#111" stroke-width="0.7" fill="none" marker-end="url(#ah)"/>
<text transform="translate(548.8,418.6) rotate(-52)" font-size="8.5" fill="#222">CD36</text>
<g fill="#f3d4bc" stroke="#d89a70" stroke-width="0.6"><rect x="-2.2" y="-5.5" width="4.4" height="11" rx="2.2" transform="translate(535.5,410.5) rotate(-25)" fill="#fdf6ee"/><rect x="-2.2" y="-5.5" width="4.4" height="11" rx="2.2" transform="translate(536.5,420.5) rotate(-25)"/><rect x="-2.2" y="-5.5" width="4.4" height="11" rx="2.2" transform="translate(541.8,414.8) rotate(-25)"/></g>
<path d="M534.3,404.5C537,412 538,420 541,428" stroke="#444" stroke-width="0.6" fill="none"/>
<circle cx="531.1" cy="401.6" r="3.2" fill="#cc1f2a"/><circle cx="530.8000000000001" cy="402.0" r="1.3" fill="#f0a0a8"/>
<circle cx="536.1" cy="397" r="3.2" fill="#cc1f2a"/><circle cx="535.8000000000001" cy="397.4" r="1.3" fill="#f0a0a8"/>
<circle cx="540.7" cy="402.4" r="3.2" fill="#cc1f2a"/><circle cx="540.4000000000001" cy="402.79999999999995" r="1.3" fill="#f0a0a8"/>
<circle cx="557.5" cy="437.9" r="3.2" fill="#cc1f2a"/><circle cx="557.2" cy="438.29999999999995" r="1.3" fill="#f0a0a8"/>
<text x="528.4" y="393.8" font-size="8.6" fill="#222">Lipids</text>
<path d="M538,414C541,424 546,430 553,434" stroke="#111" stroke-width="0.7" fill="none" marker-end="url(#ah)"/>
<path d="M649.5,413.5C656,416 660,422 651.5,433" stroke="#111" stroke-width="0.7" fill="none" marker-end="url(#ah)"/>
<rect x="640.6" y="435.5" width="28.2" height="10" rx="2" fill="#e89a68" stroke="#444" stroke-width="0.7"/>
<text x="654.7" y="443.6" font-size="8.2" text-anchor="middle" fill="#222">PRDX6</text>
<path d="M640,441.5L626,446" stroke="#111" stroke-width="0.7" fill="none" marker-end="url(#ah)"/>
<path d="M643,448L632,458" stroke="#111" stroke-width="0.7" fill="none" marker-end="url(#ah)"/>
<path d="M547.6,449.1L556.1,443.2L561,444.5L569.3,441.9L587.7,439.6L606,441.9L621.2,442.6L617.5,446L629,449.3L616.6,451.8L606,453.1L590.3,455.8L569.3,454.4L556.1,452.4L560.5,450.5Z" fill="#f3e38a" stroke="#d4b448" stroke-width="0.7"/>
<text transform="translate(560.6,450.4) scale(0.85,1)" font-size="8" fill="#111">Lipid remodeling</text>
<path d="M614.5,451.2V444.5" stroke="#e8141c" stroke-width="1.1" fill="none"/><path d="M612.6,445.8L614.5,442.6L616.4,445.8Z" fill="#e8141c"/>
<text x="587.7" y="460" font-size="8" text-anchor="middle" fill="#333">+</text>
<path d="M573.9,468.2L581.1,461.6L584,463L595.6,461.4L611.3,458.3L627,460.8L640,461.5L637,465L647,467.7L638.1,471.2L625,472.5L611.3,474.8L595.6,473.5L582.4,472.8L585,470.5Z" fill="#b8b8ba" stroke="#8a8a8c" stroke-width="0.6"/>
<text transform="translate(585.9,469.3) scale(0.86,1)" font-size="7.9" fill="#111">Oxidative stress</text>
<path d="M633.7,469.5V463" stroke="#e8141c" stroke-width="1.1" fill="none"/><path d="M631.8,464.3L633.7,461.1L635.6,464.3Z" fill="#e8141c"/>
<path d="M598.4,484.5V492C598.4,496 600.5,498.2 604,498.2H615.3V500.8L619.9,496.6L615.3,492.6V495H605C603.5,495 603,494 603,492.5V484.5Z" fill="#fff" stroke="#444" stroke-width="0.7"/>
<g stroke="#1a3578" stroke-width="1.1" fill="#a9c5e6"><circle cx="645.9" cy="488.3" r="7.3"/><circle cx="637.6" cy="489.8" r="6.6"/><circle cx="643" cy="497.5" r="5.2"/><circle cx="652.8" cy="494.4" r="7.2"/><circle cx="632.2" cy="496.6" r="7.4"/></g>
<g fill="#dbe8f6" stroke="#1e3a80" stroke-width="0.6"><circle cx="632.4" cy="500.6" r="2.6"/><circle cx="652.2" cy="498.3" r="2.6"/><circle cx="643.6" cy="499.2" r="2"/><circle cx="645" cy="491.5" r="2"/></g>
<text transform="translate(580.6,513) scale(0.97,1)" font-size="8.3" fill="#111">BC uncontrolled growth</text>
<path d="M663,514.8V508.8H660.8L664.3,504.4L667.8,508.8H665.6V514.8Z" fill="#f0141c"/>
</g>
</g>
</svg>
</body></html>
